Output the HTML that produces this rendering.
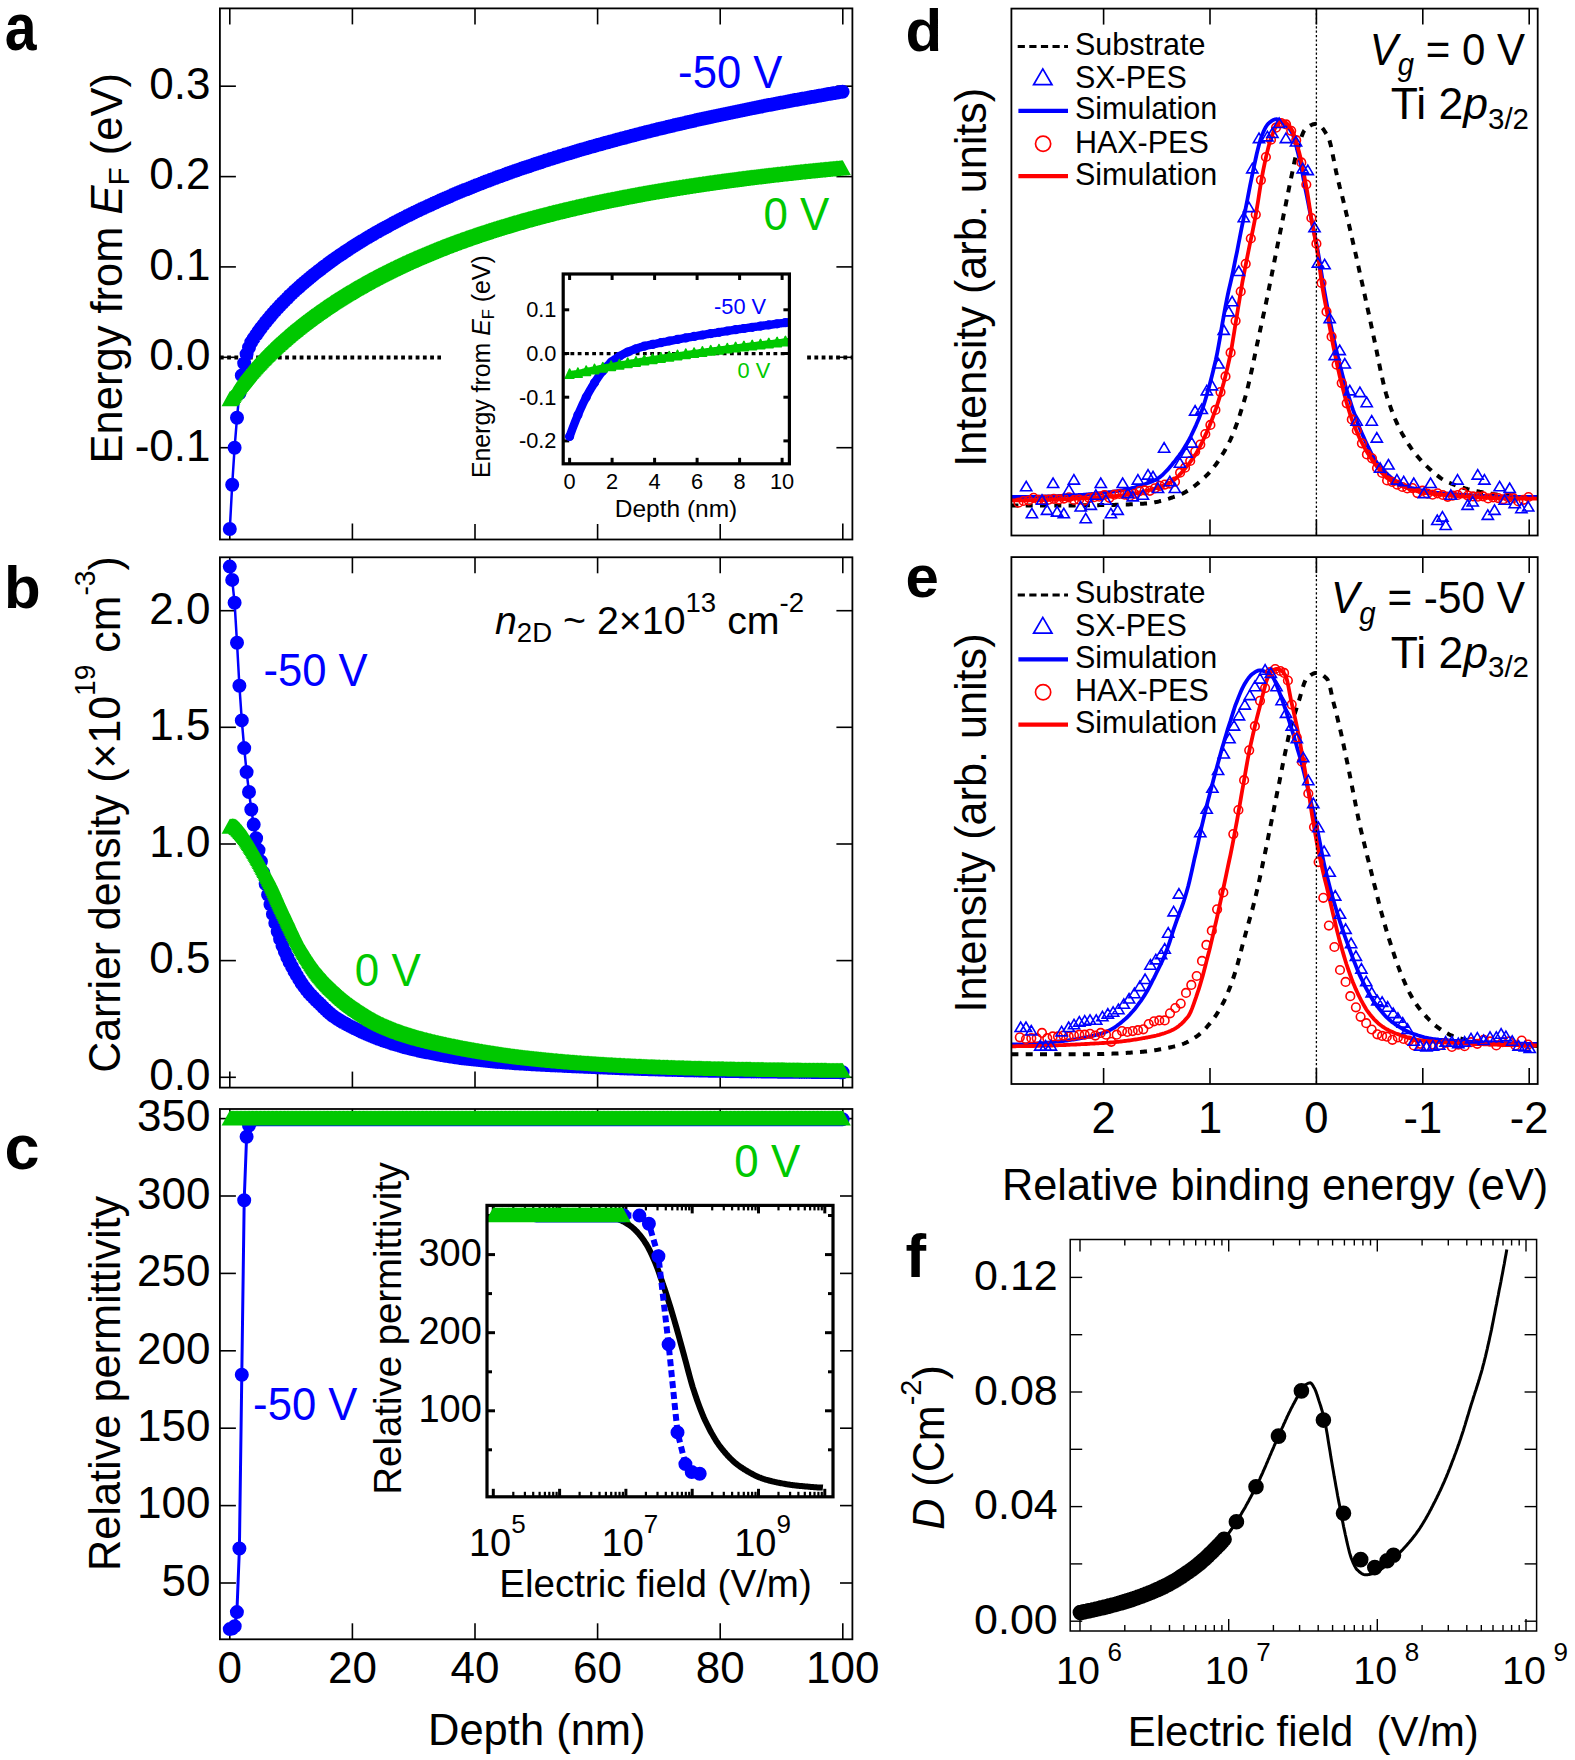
<!DOCTYPE html>
<html><head><meta charset="utf-8"><title>Figure</title>
<style>html,body{margin:0;padding:0;background:#fff;}svg{display:block;}</style></head>
<body><svg width="1575" height="1760" viewBox="0 0 1575 1760" font-family="'Liberation Sans', Arial, Helvetica, sans-serif" fill="#000">
<rect x="0" y="0" width="1575" height="1760" fill="#fff"/>
<line x1="219.9" y1="357.5" x2="852.4" y2="357.5" stroke="#000" stroke-width="3.9" stroke-dasharray="3.8 3.45"/>
<line x1="229.8" y1="8.4" x2="229.8" y2="24.4" stroke="#000" stroke-width="1.6"/>
<line x1="229.8" y1="539.5" x2="229.8" y2="523.5" stroke="#000" stroke-width="1.6"/>
<line x1="352.4" y1="8.4" x2="352.4" y2="24.4" stroke="#000" stroke-width="1.6"/>
<line x1="352.4" y1="539.5" x2="352.4" y2="523.5" stroke="#000" stroke-width="1.6"/>
<line x1="475" y1="8.4" x2="475" y2="24.4" stroke="#000" stroke-width="1.6"/>
<line x1="475" y1="539.5" x2="475" y2="523.5" stroke="#000" stroke-width="1.6"/>
<line x1="597.6" y1="8.4" x2="597.6" y2="24.4" stroke="#000" stroke-width="1.6"/>
<line x1="597.6" y1="539.5" x2="597.6" y2="523.5" stroke="#000" stroke-width="1.6"/>
<line x1="720.2" y1="8.4" x2="720.2" y2="24.4" stroke="#000" stroke-width="1.6"/>
<line x1="720.2" y1="539.5" x2="720.2" y2="523.5" stroke="#000" stroke-width="1.6"/>
<line x1="842.8" y1="8.4" x2="842.8" y2="24.4" stroke="#000" stroke-width="1.6"/>
<line x1="842.8" y1="539.5" x2="842.8" y2="523.5" stroke="#000" stroke-width="1.6"/>
<line x1="219.9" y1="86.2" x2="235.9" y2="86.2" stroke="#000" stroke-width="1.6"/>
<line x1="852.4" y1="86.2" x2="836.4" y2="86.2" stroke="#000" stroke-width="1.6"/>
<line x1="219.9" y1="176.6" x2="235.9" y2="176.6" stroke="#000" stroke-width="1.6"/>
<line x1="852.4" y1="176.6" x2="836.4" y2="176.6" stroke="#000" stroke-width="1.6"/>
<line x1="219.9" y1="266.9" x2="235.9" y2="266.9" stroke="#000" stroke-width="1.6"/>
<line x1="852.4" y1="266.9" x2="836.4" y2="266.9" stroke="#000" stroke-width="1.6"/>
<line x1="219.9" y1="357.3" x2="235.9" y2="357.3" stroke="#000" stroke-width="1.6"/>
<line x1="852.4" y1="357.3" x2="836.4" y2="357.3" stroke="#000" stroke-width="1.6"/>
<line x1="219.9" y1="447.7" x2="235.9" y2="447.7" stroke="#000" stroke-width="1.6"/>
<line x1="852.4" y1="447.7" x2="836.4" y2="447.7" stroke="#000" stroke-width="1.6"/>
<clipPath id="ca"><rect x="219.9" y="8.4" width="632.5" height="531.1"/></clipPath>
<g clip-path="url(#ca)">
<polyline points="229.8,529.0 232.2,484.7 234.6,447.7 237.0,417.8 239.4,393.4 241.8,375.4 244.2,363.2 246.6,354.1 249.0,347.5 251.3,342.1 253.7,338.4 256.1,334.9 258.5,331.5 260.9,328.2 263.3,325.1 265.7,322.0 268.1,319.1 270.5,316.2 272.9,313.4 275.3,310.7 277.7,308.1 280.1,305.5 282.5,303.0 284.9,300.6 287.3,298.2 289.6,295.8 292.0,293.6 294.4,291.3 296.8,289.1 299.2,287.0 301.6,284.8 304.0,282.8 306.4,280.7 308.8,278.7 311.2,276.7 313.6,274.8 316.0,272.9 318.4,271.0 320.8,269.2 323.2,267.3 325.6,265.5 327.9,263.8 330.3,262.0 332.7,260.3 335.1,258.6 337.5,256.9 339.9,255.3 342.3,253.7 344.7,252.0 347.1,250.5 349.5,248.9 351.9,247.3 354.3,245.8 356.7,244.3 359.1,242.8 361.5,241.3 363.9,239.9 366.2,238.4 368.6,237.0 371.0,235.6 373.4,234.2 375.8,232.8 378.2,231.5 380.6,230.1 383.0,228.8 385.4,227.5 387.8,226.2 390.2,224.9 392.6,223.6 395.0,222.3 397.4,221.1 399.8,219.8 402.2,218.6 404.5,217.4 406.9,216.1 409.3,215.0 411.7,213.8 414.1,212.6 416.5,211.4 418.9,210.3 421.3,209.1 423.7,208.0 426.1,206.9 428.5,205.8 430.9,204.7 433.3,203.6 435.7,202.5 438.1,201.4 440.5,200.3 442.8,199.3 445.2,198.2 447.6,197.2 450.0,196.2 452.4,195.1 454.8,194.1 457.2,193.1 459.6,192.1 462.0,191.1 464.4,190.1 466.8,189.2 469.2,188.2 471.6,187.2 474.0,186.3 476.4,185.3 478.8,184.4 481.1,183.5 483.5,182.5 485.9,181.6 488.3,180.7 490.7,179.8 493.1,178.9 495.5,178.0 497.9,177.1 500.3,176.3 502.7,175.4 505.1,174.5 507.5,173.6 509.9,172.8 512.3,171.9 514.7,171.1 517.1,170.3 519.4,169.4 521.8,168.6 524.2,167.8 526.6,167.0 529.0,166.2 531.4,165.4 533.8,164.6 536.2,163.8 538.6,163.0 541.0,162.2 543.4,161.4 545.8,160.6 548.2,159.9 550.6,159.1 553.0,158.4 555.4,157.6 557.7,156.9 560.1,156.1 562.5,155.4 564.9,154.6 567.3,153.9 569.7,153.2 572.1,152.5 574.5,151.7 576.9,151.0 579.3,150.3 581.7,149.6 584.1,148.9 586.5,148.2 588.9,147.5 591.3,146.8 593.7,146.2 596.0,145.5 598.4,144.8 600.8,144.2 603.2,143.5 605.6,142.8 608.0,142.2 610.4,141.5 612.8,140.9 615.2,140.2 617.6,139.6 620.0,138.9 622.4,138.3 624.8,137.7 627.2,137.0 629.6,136.4 632.0,135.8 634.3,135.2 636.7,134.5 639.1,133.9 641.5,133.3 643.9,132.7 646.3,132.1 648.7,131.5 651.1,130.9 653.5,130.3 655.9,129.7 658.3,129.1 660.7,128.5 663.1,128.0 665.5,127.4 667.9,126.8 670.3,126.2 672.6,125.7 675.0,125.1 677.4,124.5 679.8,124.0 682.2,123.4 684.6,122.9 687.0,122.3 689.4,121.8 691.8,121.2 694.2,120.7 696.6,120.1 699.0,119.6 701.4,119.1 703.8,118.5 706.2,118.0 708.6,117.5 710.9,117.0 713.3,116.4 715.7,115.9 718.1,115.4 720.5,114.9 722.9,114.4 725.3,113.9 727.7,113.4 730.1,112.9 732.5,112.4 734.9,111.9 737.3,111.4 739.7,110.9 742.1,110.4 744.5,109.9 746.9,109.4 749.2,108.9 751.6,108.4 754.0,108.0 756.4,107.5 758.8,107.0 761.2,106.5 763.6,106.1 766.0,105.6 768.4,105.1 770.8,104.7 773.2,104.2 775.6,103.7 778.0,103.3 780.4,102.8 782.8,102.4 785.2,101.9 787.5,101.5 789.9,101.0 792.3,100.6 794.7,100.1 797.1,99.7 799.5,99.3 801.9,98.8 804.3,98.4 806.7,97.9 809.1,97.5 811.5,97.1 813.9,96.7 816.3,96.2 818.7,95.8 821.1,95.4 823.5,95.0 825.8,94.5 828.2,94.1 830.6,93.7 833.0,93.3 835.4,92.9 837.8,92.5 840.2,92.1 842.6,91.7" fill="none" stroke="#0000ff" stroke-width="2.5" stroke-linejoin="round"/>
<path d="M222.8 529.0a7 7 0 1 0 14 0a7 7 0 1 0 -14 0M225.2 484.7a7 7 0 1 0 14 0a7 7 0 1 0 -14 0M227.6 447.7a7 7 0 1 0 14 0a7 7 0 1 0 -14 0M230.0 417.8a7 7 0 1 0 14 0a7 7 0 1 0 -14 0M232.4 393.4a7 7 0 1 0 14 0a7 7 0 1 0 -14 0M234.8 375.4a7 7 0 1 0 14 0a7 7 0 1 0 -14 0M237.2 363.2a7 7 0 1 0 14 0a7 7 0 1 0 -14 0M239.6 354.1a7 7 0 1 0 14 0a7 7 0 1 0 -14 0M242.0 347.5a7 7 0 1 0 14 0a7 7 0 1 0 -14 0M244.3 342.1a7 7 0 1 0 14 0a7 7 0 1 0 -14 0M246.7 338.4a7 7 0 1 0 14 0a7 7 0 1 0 -14 0M249.1 334.9a7 7 0 1 0 14 0a7 7 0 1 0 -14 0M251.5 331.5a7 7 0 1 0 14 0a7 7 0 1 0 -14 0M253.9 328.2a7 7 0 1 0 14 0a7 7 0 1 0 -14 0M256.3 325.1a7 7 0 1 0 14 0a7 7 0 1 0 -14 0M258.7 322.0a7 7 0 1 0 14 0a7 7 0 1 0 -14 0M261.1 319.1a7 7 0 1 0 14 0a7 7 0 1 0 -14 0M263.5 316.2a7 7 0 1 0 14 0a7 7 0 1 0 -14 0M265.9 313.4a7 7 0 1 0 14 0a7 7 0 1 0 -14 0M268.3 310.7a7 7 0 1 0 14 0a7 7 0 1 0 -14 0M270.7 308.1a7 7 0 1 0 14 0a7 7 0 1 0 -14 0M273.1 305.5a7 7 0 1 0 14 0a7 7 0 1 0 -14 0M275.5 303.0a7 7 0 1 0 14 0a7 7 0 1 0 -14 0M277.9 300.6a7 7 0 1 0 14 0a7 7 0 1 0 -14 0M280.3 298.2a7 7 0 1 0 14 0a7 7 0 1 0 -14 0M282.6 295.8a7 7 0 1 0 14 0a7 7 0 1 0 -14 0M285.0 293.6a7 7 0 1 0 14 0a7 7 0 1 0 -14 0M287.4 291.3a7 7 0 1 0 14 0a7 7 0 1 0 -14 0M289.8 289.1a7 7 0 1 0 14 0a7 7 0 1 0 -14 0M292.2 287.0a7 7 0 1 0 14 0a7 7 0 1 0 -14 0M294.6 284.8a7 7 0 1 0 14 0a7 7 0 1 0 -14 0M297.0 282.8a7 7 0 1 0 14 0a7 7 0 1 0 -14 0M299.4 280.7a7 7 0 1 0 14 0a7 7 0 1 0 -14 0M301.8 278.7a7 7 0 1 0 14 0a7 7 0 1 0 -14 0M304.2 276.7a7 7 0 1 0 14 0a7 7 0 1 0 -14 0M306.6 274.8a7 7 0 1 0 14 0a7 7 0 1 0 -14 0M309.0 272.9a7 7 0 1 0 14 0a7 7 0 1 0 -14 0M311.4 271.0a7 7 0 1 0 14 0a7 7 0 1 0 -14 0M313.8 269.2a7 7 0 1 0 14 0a7 7 0 1 0 -14 0M316.2 267.3a7 7 0 1 0 14 0a7 7 0 1 0 -14 0M318.6 265.5a7 7 0 1 0 14 0a7 7 0 1 0 -14 0M320.9 263.8a7 7 0 1 0 14 0a7 7 0 1 0 -14 0M323.3 262.0a7 7 0 1 0 14 0a7 7 0 1 0 -14 0M325.7 260.3a7 7 0 1 0 14 0a7 7 0 1 0 -14 0M328.1 258.6a7 7 0 1 0 14 0a7 7 0 1 0 -14 0M330.5 256.9a7 7 0 1 0 14 0a7 7 0 1 0 -14 0M332.9 255.3a7 7 0 1 0 14 0a7 7 0 1 0 -14 0M335.3 253.7a7 7 0 1 0 14 0a7 7 0 1 0 -14 0M337.7 252.0a7 7 0 1 0 14 0a7 7 0 1 0 -14 0M340.1 250.5a7 7 0 1 0 14 0a7 7 0 1 0 -14 0M342.5 248.9a7 7 0 1 0 14 0a7 7 0 1 0 -14 0M344.9 247.3a7 7 0 1 0 14 0a7 7 0 1 0 -14 0M347.3 245.8a7 7 0 1 0 14 0a7 7 0 1 0 -14 0M349.7 244.3a7 7 0 1 0 14 0a7 7 0 1 0 -14 0M352.1 242.8a7 7 0 1 0 14 0a7 7 0 1 0 -14 0M354.5 241.3a7 7 0 1 0 14 0a7 7 0 1 0 -14 0M356.9 239.9a7 7 0 1 0 14 0a7 7 0 1 0 -14 0M359.2 238.4a7 7 0 1 0 14 0a7 7 0 1 0 -14 0M361.6 237.0a7 7 0 1 0 14 0a7 7 0 1 0 -14 0M364.0 235.6a7 7 0 1 0 14 0a7 7 0 1 0 -14 0M366.4 234.2a7 7 0 1 0 14 0a7 7 0 1 0 -14 0M368.8 232.8a7 7 0 1 0 14 0a7 7 0 1 0 -14 0M371.2 231.5a7 7 0 1 0 14 0a7 7 0 1 0 -14 0M373.6 230.1a7 7 0 1 0 14 0a7 7 0 1 0 -14 0M376.0 228.8a7 7 0 1 0 14 0a7 7 0 1 0 -14 0M378.4 227.5a7 7 0 1 0 14 0a7 7 0 1 0 -14 0M380.8 226.2a7 7 0 1 0 14 0a7 7 0 1 0 -14 0M383.2 224.9a7 7 0 1 0 14 0a7 7 0 1 0 -14 0M385.6 223.6a7 7 0 1 0 14 0a7 7 0 1 0 -14 0M388.0 222.3a7 7 0 1 0 14 0a7 7 0 1 0 -14 0M390.4 221.1a7 7 0 1 0 14 0a7 7 0 1 0 -14 0M392.8 219.8a7 7 0 1 0 14 0a7 7 0 1 0 -14 0M395.2 218.6a7 7 0 1 0 14 0a7 7 0 1 0 -14 0M397.5 217.4a7 7 0 1 0 14 0a7 7 0 1 0 -14 0M399.9 216.1a7 7 0 1 0 14 0a7 7 0 1 0 -14 0M402.3 215.0a7 7 0 1 0 14 0a7 7 0 1 0 -14 0M404.7 213.8a7 7 0 1 0 14 0a7 7 0 1 0 -14 0M407.1 212.6a7 7 0 1 0 14 0a7 7 0 1 0 -14 0M409.5 211.4a7 7 0 1 0 14 0a7 7 0 1 0 -14 0M411.9 210.3a7 7 0 1 0 14 0a7 7 0 1 0 -14 0M414.3 209.1a7 7 0 1 0 14 0a7 7 0 1 0 -14 0M416.7 208.0a7 7 0 1 0 14 0a7 7 0 1 0 -14 0M419.1 206.9a7 7 0 1 0 14 0a7 7 0 1 0 -14 0M421.5 205.8a7 7 0 1 0 14 0a7 7 0 1 0 -14 0M423.9 204.7a7 7 0 1 0 14 0a7 7 0 1 0 -14 0M426.3 203.6a7 7 0 1 0 14 0a7 7 0 1 0 -14 0M428.7 202.5a7 7 0 1 0 14 0a7 7 0 1 0 -14 0M431.1 201.4a7 7 0 1 0 14 0a7 7 0 1 0 -14 0M433.5 200.3a7 7 0 1 0 14 0a7 7 0 1 0 -14 0M435.8 199.3a7 7 0 1 0 14 0a7 7 0 1 0 -14 0M438.2 198.2a7 7 0 1 0 14 0a7 7 0 1 0 -14 0M440.6 197.2a7 7 0 1 0 14 0a7 7 0 1 0 -14 0M443.0 196.2a7 7 0 1 0 14 0a7 7 0 1 0 -14 0M445.4 195.1a7 7 0 1 0 14 0a7 7 0 1 0 -14 0M447.8 194.1a7 7 0 1 0 14 0a7 7 0 1 0 -14 0M450.2 193.1a7 7 0 1 0 14 0a7 7 0 1 0 -14 0M452.6 192.1a7 7 0 1 0 14 0a7 7 0 1 0 -14 0M455.0 191.1a7 7 0 1 0 14 0a7 7 0 1 0 -14 0M457.4 190.1a7 7 0 1 0 14 0a7 7 0 1 0 -14 0M459.8 189.2a7 7 0 1 0 14 0a7 7 0 1 0 -14 0M462.2 188.2a7 7 0 1 0 14 0a7 7 0 1 0 -14 0M464.6 187.2a7 7 0 1 0 14 0a7 7 0 1 0 -14 0M467.0 186.3a7 7 0 1 0 14 0a7 7 0 1 0 -14 0M469.4 185.3a7 7 0 1 0 14 0a7 7 0 1 0 -14 0M471.8 184.4a7 7 0 1 0 14 0a7 7 0 1 0 -14 0M474.1 183.5a7 7 0 1 0 14 0a7 7 0 1 0 -14 0M476.5 182.5a7 7 0 1 0 14 0a7 7 0 1 0 -14 0M478.9 181.6a7 7 0 1 0 14 0a7 7 0 1 0 -14 0M481.3 180.7a7 7 0 1 0 14 0a7 7 0 1 0 -14 0M483.7 179.8a7 7 0 1 0 14 0a7 7 0 1 0 -14 0M486.1 178.9a7 7 0 1 0 14 0a7 7 0 1 0 -14 0M488.5 178.0a7 7 0 1 0 14 0a7 7 0 1 0 -14 0M490.9 177.1a7 7 0 1 0 14 0a7 7 0 1 0 -14 0M493.3 176.3a7 7 0 1 0 14 0a7 7 0 1 0 -14 0M495.7 175.4a7 7 0 1 0 14 0a7 7 0 1 0 -14 0M498.1 174.5a7 7 0 1 0 14 0a7 7 0 1 0 -14 0M500.5 173.6a7 7 0 1 0 14 0a7 7 0 1 0 -14 0M502.9 172.8a7 7 0 1 0 14 0a7 7 0 1 0 -14 0M505.3 171.9a7 7 0 1 0 14 0a7 7 0 1 0 -14 0M507.7 171.1a7 7 0 1 0 14 0a7 7 0 1 0 -14 0M510.1 170.3a7 7 0 1 0 14 0a7 7 0 1 0 -14 0M512.4 169.4a7 7 0 1 0 14 0a7 7 0 1 0 -14 0M514.8 168.6a7 7 0 1 0 14 0a7 7 0 1 0 -14 0M517.2 167.8a7 7 0 1 0 14 0a7 7 0 1 0 -14 0M519.6 167.0a7 7 0 1 0 14 0a7 7 0 1 0 -14 0M522.0 166.2a7 7 0 1 0 14 0a7 7 0 1 0 -14 0M524.4 165.4a7 7 0 1 0 14 0a7 7 0 1 0 -14 0M526.8 164.6a7 7 0 1 0 14 0a7 7 0 1 0 -14 0M529.2 163.8a7 7 0 1 0 14 0a7 7 0 1 0 -14 0M531.6 163.0a7 7 0 1 0 14 0a7 7 0 1 0 -14 0M534.0 162.2a7 7 0 1 0 14 0a7 7 0 1 0 -14 0M536.4 161.4a7 7 0 1 0 14 0a7 7 0 1 0 -14 0M538.8 160.6a7 7 0 1 0 14 0a7 7 0 1 0 -14 0M541.2 159.9a7 7 0 1 0 14 0a7 7 0 1 0 -14 0M543.6 159.1a7 7 0 1 0 14 0a7 7 0 1 0 -14 0M546.0 158.4a7 7 0 1 0 14 0a7 7 0 1 0 -14 0M548.4 157.6a7 7 0 1 0 14 0a7 7 0 1 0 -14 0M550.7 156.9a7 7 0 1 0 14 0a7 7 0 1 0 -14 0M553.1 156.1a7 7 0 1 0 14 0a7 7 0 1 0 -14 0M555.5 155.4a7 7 0 1 0 14 0a7 7 0 1 0 -14 0M557.9 154.6a7 7 0 1 0 14 0a7 7 0 1 0 -14 0M560.3 153.9a7 7 0 1 0 14 0a7 7 0 1 0 -14 0M562.7 153.2a7 7 0 1 0 14 0a7 7 0 1 0 -14 0M565.1 152.5a7 7 0 1 0 14 0a7 7 0 1 0 -14 0M567.5 151.7a7 7 0 1 0 14 0a7 7 0 1 0 -14 0M569.9 151.0a7 7 0 1 0 14 0a7 7 0 1 0 -14 0M572.3 150.3a7 7 0 1 0 14 0a7 7 0 1 0 -14 0M574.7 149.6a7 7 0 1 0 14 0a7 7 0 1 0 -14 0M577.1 148.9a7 7 0 1 0 14 0a7 7 0 1 0 -14 0M579.5 148.2a7 7 0 1 0 14 0a7 7 0 1 0 -14 0M581.9 147.5a7 7 0 1 0 14 0a7 7 0 1 0 -14 0M584.3 146.8a7 7 0 1 0 14 0a7 7 0 1 0 -14 0M586.7 146.2a7 7 0 1 0 14 0a7 7 0 1 0 -14 0M589.0 145.5a7 7 0 1 0 14 0a7 7 0 1 0 -14 0M591.4 144.8a7 7 0 1 0 14 0a7 7 0 1 0 -14 0M593.8 144.2a7 7 0 1 0 14 0a7 7 0 1 0 -14 0M596.2 143.5a7 7 0 1 0 14 0a7 7 0 1 0 -14 0M598.6 142.8a7 7 0 1 0 14 0a7 7 0 1 0 -14 0M601.0 142.2a7 7 0 1 0 14 0a7 7 0 1 0 -14 0M603.4 141.5a7 7 0 1 0 14 0a7 7 0 1 0 -14 0M605.8 140.9a7 7 0 1 0 14 0a7 7 0 1 0 -14 0M608.2 140.2a7 7 0 1 0 14 0a7 7 0 1 0 -14 0M610.6 139.6a7 7 0 1 0 14 0a7 7 0 1 0 -14 0M613.0 138.9a7 7 0 1 0 14 0a7 7 0 1 0 -14 0M615.4 138.3a7 7 0 1 0 14 0a7 7 0 1 0 -14 0M617.8 137.7a7 7 0 1 0 14 0a7 7 0 1 0 -14 0M620.2 137.0a7 7 0 1 0 14 0a7 7 0 1 0 -14 0M622.6 136.4a7 7 0 1 0 14 0a7 7 0 1 0 -14 0M625.0 135.8a7 7 0 1 0 14 0a7 7 0 1 0 -14 0M627.3 135.2a7 7 0 1 0 14 0a7 7 0 1 0 -14 0M629.7 134.5a7 7 0 1 0 14 0a7 7 0 1 0 -14 0M632.1 133.9a7 7 0 1 0 14 0a7 7 0 1 0 -14 0M634.5 133.3a7 7 0 1 0 14 0a7 7 0 1 0 -14 0M636.9 132.7a7 7 0 1 0 14 0a7 7 0 1 0 -14 0M639.3 132.1a7 7 0 1 0 14 0a7 7 0 1 0 -14 0M641.7 131.5a7 7 0 1 0 14 0a7 7 0 1 0 -14 0M644.1 130.9a7 7 0 1 0 14 0a7 7 0 1 0 -14 0M646.5 130.3a7 7 0 1 0 14 0a7 7 0 1 0 -14 0M648.9 129.7a7 7 0 1 0 14 0a7 7 0 1 0 -14 0M651.3 129.1a7 7 0 1 0 14 0a7 7 0 1 0 -14 0M653.7 128.5a7 7 0 1 0 14 0a7 7 0 1 0 -14 0M656.1 128.0a7 7 0 1 0 14 0a7 7 0 1 0 -14 0M658.5 127.4a7 7 0 1 0 14 0a7 7 0 1 0 -14 0M660.9 126.8a7 7 0 1 0 14 0a7 7 0 1 0 -14 0M663.3 126.2a7 7 0 1 0 14 0a7 7 0 1 0 -14 0M665.6 125.7a7 7 0 1 0 14 0a7 7 0 1 0 -14 0M668.0 125.1a7 7 0 1 0 14 0a7 7 0 1 0 -14 0M670.4 124.5a7 7 0 1 0 14 0a7 7 0 1 0 -14 0M672.8 124.0a7 7 0 1 0 14 0a7 7 0 1 0 -14 0M675.2 123.4a7 7 0 1 0 14 0a7 7 0 1 0 -14 0M677.6 122.9a7 7 0 1 0 14 0a7 7 0 1 0 -14 0M680.0 122.3a7 7 0 1 0 14 0a7 7 0 1 0 -14 0M682.4 121.8a7 7 0 1 0 14 0a7 7 0 1 0 -14 0M684.8 121.2a7 7 0 1 0 14 0a7 7 0 1 0 -14 0M687.2 120.7a7 7 0 1 0 14 0a7 7 0 1 0 -14 0M689.6 120.1a7 7 0 1 0 14 0a7 7 0 1 0 -14 0M692.0 119.6a7 7 0 1 0 14 0a7 7 0 1 0 -14 0M694.4 119.1a7 7 0 1 0 14 0a7 7 0 1 0 -14 0M696.8 118.5a7 7 0 1 0 14 0a7 7 0 1 0 -14 0M699.2 118.0a7 7 0 1 0 14 0a7 7 0 1 0 -14 0M701.6 117.5a7 7 0 1 0 14 0a7 7 0 1 0 -14 0M703.9 117.0a7 7 0 1 0 14 0a7 7 0 1 0 -14 0M706.3 116.4a7 7 0 1 0 14 0a7 7 0 1 0 -14 0M708.7 115.9a7 7 0 1 0 14 0a7 7 0 1 0 -14 0M711.1 115.4a7 7 0 1 0 14 0a7 7 0 1 0 -14 0M713.5 114.9a7 7 0 1 0 14 0a7 7 0 1 0 -14 0M715.9 114.4a7 7 0 1 0 14 0a7 7 0 1 0 -14 0M718.3 113.9a7 7 0 1 0 14 0a7 7 0 1 0 -14 0M720.7 113.4a7 7 0 1 0 14 0a7 7 0 1 0 -14 0M723.1 112.9a7 7 0 1 0 14 0a7 7 0 1 0 -14 0M725.5 112.4a7 7 0 1 0 14 0a7 7 0 1 0 -14 0M727.9 111.9a7 7 0 1 0 14 0a7 7 0 1 0 -14 0M730.3 111.4a7 7 0 1 0 14 0a7 7 0 1 0 -14 0M732.7 110.9a7 7 0 1 0 14 0a7 7 0 1 0 -14 0M735.1 110.4a7 7 0 1 0 14 0a7 7 0 1 0 -14 0M737.5 109.9a7 7 0 1 0 14 0a7 7 0 1 0 -14 0M739.9 109.4a7 7 0 1 0 14 0a7 7 0 1 0 -14 0M742.2 108.9a7 7 0 1 0 14 0a7 7 0 1 0 -14 0M744.6 108.4a7 7 0 1 0 14 0a7 7 0 1 0 -14 0M747.0 108.0a7 7 0 1 0 14 0a7 7 0 1 0 -14 0M749.4 107.5a7 7 0 1 0 14 0a7 7 0 1 0 -14 0M751.8 107.0a7 7 0 1 0 14 0a7 7 0 1 0 -14 0M754.2 106.5a7 7 0 1 0 14 0a7 7 0 1 0 -14 0M756.6 106.1a7 7 0 1 0 14 0a7 7 0 1 0 -14 0M759.0 105.6a7 7 0 1 0 14 0a7 7 0 1 0 -14 0M761.4 105.1a7 7 0 1 0 14 0a7 7 0 1 0 -14 0M763.8 104.7a7 7 0 1 0 14 0a7 7 0 1 0 -14 0M766.2 104.2a7 7 0 1 0 14 0a7 7 0 1 0 -14 0M768.6 103.7a7 7 0 1 0 14 0a7 7 0 1 0 -14 0M771.0 103.3a7 7 0 1 0 14 0a7 7 0 1 0 -14 0M773.4 102.8a7 7 0 1 0 14 0a7 7 0 1 0 -14 0M775.8 102.4a7 7 0 1 0 14 0a7 7 0 1 0 -14 0M778.2 101.9a7 7 0 1 0 14 0a7 7 0 1 0 -14 0M780.5 101.5a7 7 0 1 0 14 0a7 7 0 1 0 -14 0M782.9 101.0a7 7 0 1 0 14 0a7 7 0 1 0 -14 0M785.3 100.6a7 7 0 1 0 14 0a7 7 0 1 0 -14 0M787.7 100.1a7 7 0 1 0 14 0a7 7 0 1 0 -14 0M790.1 99.7a7 7 0 1 0 14 0a7 7 0 1 0 -14 0M792.5 99.3a7 7 0 1 0 14 0a7 7 0 1 0 -14 0M794.9 98.8a7 7 0 1 0 14 0a7 7 0 1 0 -14 0M797.3 98.4a7 7 0 1 0 14 0a7 7 0 1 0 -14 0M799.7 97.9a7 7 0 1 0 14 0a7 7 0 1 0 -14 0M802.1 97.5a7 7 0 1 0 14 0a7 7 0 1 0 -14 0M804.5 97.1a7 7 0 1 0 14 0a7 7 0 1 0 -14 0M806.9 96.7a7 7 0 1 0 14 0a7 7 0 1 0 -14 0M809.3 96.2a7 7 0 1 0 14 0a7 7 0 1 0 -14 0M811.7 95.8a7 7 0 1 0 14 0a7 7 0 1 0 -14 0M814.1 95.4a7 7 0 1 0 14 0a7 7 0 1 0 -14 0M816.5 95.0a7 7 0 1 0 14 0a7 7 0 1 0 -14 0M818.8 94.5a7 7 0 1 0 14 0a7 7 0 1 0 -14 0M821.2 94.1a7 7 0 1 0 14 0a7 7 0 1 0 -14 0M823.6 93.7a7 7 0 1 0 14 0a7 7 0 1 0 -14 0M826.0 93.3a7 7 0 1 0 14 0a7 7 0 1 0 -14 0M828.4 92.9a7 7 0 1 0 14 0a7 7 0 1 0 -14 0M830.8 92.5a7 7 0 1 0 14 0a7 7 0 1 0 -14 0M833.2 92.1a7 7 0 1 0 14 0a7 7 0 1 0 -14 0M835.6 91.7a7 7 0 1 0 14 0a7 7 0 1 0 -14 0" fill="#0000ff"/>
<path d="M229.8 391.3L221.6 406.3L238.0 406.3ZM230.6 390.8L222.4 405.8L238.8 405.8ZM231.4 390.1L223.2 405.1L239.6 405.1ZM232.2 389.2L224.0 404.2L240.4 404.2ZM233.0 388.1L224.8 403.1L241.2 403.1ZM233.8 386.6L225.6 401.6L242.0 401.6ZM234.6 385.2L226.4 400.2L242.8 400.2ZM235.4 384.0L227.2 399.0L243.6 399.0ZM236.2 382.8L228.0 397.8L244.4 397.8ZM237.0 381.6L228.8 396.6L245.2 396.6ZM237.8 380.5L229.6 395.5L246.0 395.5ZM238.6 379.3L230.4 394.3L246.8 394.3ZM239.4 378.2L231.2 393.2L247.6 393.2ZM240.2 377.1L232.0 392.1L248.4 392.1ZM241.0 376.0L232.8 391.0L249.2 391.0ZM241.8 375.0L233.6 390.0L250.0 390.0ZM242.6 373.9L234.4 388.9L250.8 388.9ZM243.4 372.9L235.2 387.9L251.6 387.9ZM244.2 371.9L236.0 386.9L252.4 386.9ZM245.0 370.9L236.8 385.9L253.2 385.9ZM245.8 369.9L237.6 384.9L254.0 384.9ZM246.6 368.9L238.4 383.9L254.8 383.9ZM247.4 367.9L239.2 382.9L255.6 382.9ZM248.2 366.9L240.0 381.9L256.4 381.9ZM249.0 366.0L240.8 381.0L257.2 381.0ZM249.7 365.1L241.5 380.1L257.9 380.1ZM250.5 364.1L242.3 379.1L258.7 379.1ZM251.3 363.2L243.1 378.2L259.5 378.2ZM252.1 362.3L243.9 377.3L260.3 377.3ZM252.9 361.4L244.7 376.4L261.1 376.4ZM253.7 360.5L245.5 375.5L261.9 375.5ZM254.5 359.6L246.3 374.6L262.7 374.6ZM255.3 358.7L247.1 373.7L263.5 373.7ZM256.1 357.8L247.9 372.8L264.3 372.8ZM256.9 356.9L248.7 371.9L265.1 371.9ZM257.7 356.1L249.5 371.1L265.9 371.1ZM258.5 355.2L250.3 370.2L266.7 370.2ZM259.3 354.4L251.1 369.4L267.5 369.4ZM260.1 353.5L251.9 368.5L268.3 368.5ZM260.9 352.7L252.7 367.7L269.1 367.7ZM261.7 351.8L253.5 366.8L269.9 366.8ZM262.5 351.0L254.3 366.0L270.7 366.0ZM263.3 350.2L255.1 365.2L271.5 365.2ZM264.1 349.4L255.9 364.4L272.3 364.4ZM264.9 348.6L256.7 363.6L273.1 363.6ZM265.7 347.8L257.5 362.8L273.9 362.8ZM266.5 347.0L258.3 362.0L274.7 362.0ZM267.3 346.2L259.1 361.2L275.5 361.2ZM268.1 345.4L259.9 360.4L276.3 360.4ZM268.9 344.6L260.7 359.6L277.1 359.6ZM269.7 343.9L261.5 358.9L277.9 358.9ZM270.5 343.1L262.3 358.1L278.7 358.1ZM271.3 342.3L263.1 357.3L279.5 357.3ZM272.1 341.6L263.9 356.6L280.3 356.6ZM272.9 340.8L264.7 355.8L281.1 355.8ZM273.7 340.1L265.5 355.1L281.9 355.1ZM274.5 339.3L266.3 354.3L282.7 354.3ZM275.3 338.6L267.1 353.6L283.5 353.6ZM276.1 337.8L267.9 352.8L284.3 352.8ZM276.9 337.1L268.7 352.1L285.1 352.1ZM277.7 336.4L269.5 351.4L285.9 351.4ZM278.5 335.6L270.3 350.6L286.7 350.6ZM279.3 334.9L271.1 349.9L287.5 349.9ZM280.1 334.2L271.9 349.2L288.3 349.2ZM280.9 333.5L272.7 348.5L289.1 348.5ZM281.7 332.8L273.5 347.8L289.9 347.8ZM282.5 332.1L274.3 347.1L290.7 347.1ZM283.3 331.4L275.1 346.4L291.5 346.4ZM284.1 330.7L275.9 345.7L292.3 345.7ZM284.9 330.0L276.7 345.0L293.1 345.0ZM285.7 329.3L277.5 344.3L293.9 344.3ZM286.5 328.6L278.3 343.6L294.7 343.6ZM287.3 327.9L279.1 342.9L295.5 342.9ZM288.0 327.3L279.8 342.3L296.2 342.3ZM288.8 326.6L280.6 341.6L297.0 341.6ZM289.6 325.9L281.4 340.9L297.8 340.9ZM290.4 325.3L282.2 340.3L298.6 340.3ZM291.2 324.6L283.0 339.6L299.4 339.6ZM292.0 324.0L283.8 339.0L300.2 339.0ZM292.8 323.3L284.6 338.3L301.0 338.3ZM293.6 322.7L285.4 337.7L301.8 337.7ZM294.4 322.0L286.2 337.0L302.6 337.0ZM295.2 321.4L287.0 336.4L303.4 336.4ZM296.0 320.7L287.8 335.7L304.2 335.7ZM296.8 320.1L288.6 335.1L305.0 335.1ZM297.6 319.4L289.4 334.4L305.8 334.4ZM298.4 318.8L290.2 333.8L306.6 333.8ZM299.2 318.2L291.0 333.2L307.4 333.2ZM300.0 317.6L291.8 332.6L308.2 332.6ZM300.8 316.9L292.6 331.9L309.0 331.9ZM301.6 316.3L293.4 331.3L309.8 331.3ZM302.4 315.7L294.2 330.7L310.6 330.7ZM303.2 315.1L295.0 330.1L311.4 330.1ZM304.0 314.5L295.8 329.5L312.2 329.5ZM304.8 313.9L296.6 328.9L313.0 328.9ZM305.6 313.3L297.4 328.3L313.8 328.3ZM306.4 312.7L298.2 327.7L314.6 327.7ZM307.2 312.1L299.0 327.1L315.4 327.1ZM308.0 311.5L299.8 326.5L316.2 326.5ZM308.8 310.9L300.6 325.9L317.0 325.9ZM309.6 310.3L301.4 325.3L317.8 325.3ZM310.4 309.7L302.2 324.7L318.6 324.7ZM311.2 309.1L303.0 324.1L319.4 324.1ZM312.0 308.5L303.8 323.5L320.2 323.5ZM312.8 307.9L304.6 322.9L321.0 322.9ZM313.6 307.4L305.4 322.4L321.8 322.4ZM314.4 306.8L306.2 321.8L322.6 321.8ZM315.2 306.2L307.0 321.2L323.4 321.2ZM316.0 305.7L307.8 320.7L324.2 320.7ZM316.8 305.1L308.6 320.1L325.0 320.1ZM317.6 304.5L309.4 319.5L325.8 319.5ZM318.4 304.0L310.2 319.0L326.6 319.0ZM319.2 303.4L311.0 318.4L327.4 318.4ZM320.0 302.9L311.8 317.9L328.2 317.9ZM320.8 302.3L312.6 317.3L329.0 317.3ZM321.6 301.8L313.4 316.8L329.8 316.8ZM322.4 301.2L314.2 316.2L330.6 316.2ZM323.2 300.7L315.0 315.7L331.4 315.7ZM324.0 300.1L315.8 315.1L332.2 315.1ZM324.8 299.6L316.6 314.6L333.0 314.6ZM325.6 299.0L317.4 314.0L333.8 314.0ZM326.3 298.5L318.1 313.5L334.5 313.5ZM327.1 298.0L318.9 313.0L335.3 313.0ZM327.9 297.4L319.7 312.4L336.1 312.4ZM328.7 296.9L320.5 311.9L336.9 311.9ZM329.5 296.4L321.3 311.4L337.7 311.4ZM330.3 295.9L322.1 310.9L338.5 310.9ZM331.1 295.3L322.9 310.3L339.3 310.3ZM331.9 294.8L323.7 309.8L340.1 309.8ZM332.7 294.3L324.5 309.3L340.9 309.3ZM333.5 293.8L325.3 308.8L341.7 308.8ZM334.3 293.3L326.1 308.3L342.5 308.3ZM335.1 292.8L326.9 307.8L343.3 307.8ZM335.9 292.2L327.7 307.2L344.1 307.2ZM336.7 291.7L328.5 306.7L344.9 306.7ZM337.5 291.2L329.3 306.2L345.7 306.2ZM338.3 290.7L330.1 305.7L346.5 305.7ZM339.1 290.2L330.9 305.2L347.3 305.2ZM339.9 289.7L331.7 304.7L348.1 304.7ZM340.7 289.2L332.5 304.2L348.9 304.2ZM341.5 288.7L333.3 303.7L349.7 303.7ZM342.3 288.2L334.1 303.2L350.5 303.2ZM343.1 287.8L334.9 302.8L351.3 302.8ZM343.9 287.3L335.7 302.3L352.1 302.3ZM344.7 286.8L336.5 301.8L352.9 301.8ZM345.5 286.3L337.3 301.3L353.7 301.3ZM346.3 285.8L338.1 300.8L354.5 300.8ZM347.1 285.3L338.9 300.3L355.3 300.3ZM347.9 284.9L339.7 299.9L356.1 299.9ZM348.7 284.4L340.5 299.4L356.9 299.4ZM349.5 283.9L341.3 298.9L357.7 298.9ZM350.3 283.4L342.1 298.4L358.5 298.4ZM351.1 283.0L342.9 298.0L359.3 298.0ZM351.9 282.5L343.7 297.5L360.1 297.5ZM352.7 282.0L344.5 297.0L360.9 297.0ZM353.5 281.6L345.3 296.6L361.7 296.6ZM354.3 281.1L346.1 296.1L362.5 296.1ZM355.1 280.6L346.9 295.6L363.3 295.6ZM355.9 280.2L347.7 295.2L364.1 295.2ZM356.7 279.7L348.5 294.7L364.9 294.7ZM357.5 279.3L349.3 294.3L365.7 294.3ZM358.3 278.8L350.1 293.8L366.5 293.8ZM359.1 278.4L350.9 293.4L367.3 293.4ZM359.9 277.9L351.7 292.9L368.1 292.9ZM360.7 277.5L352.5 292.5L368.9 292.5ZM361.5 277.0L353.3 292.0L369.7 292.0ZM362.3 276.6L354.1 291.6L370.5 291.6ZM363.1 276.1L354.9 291.1L371.3 291.1ZM363.9 275.7L355.7 290.7L372.1 290.7ZM364.6 275.2L356.4 290.2L372.8 290.2ZM365.4 274.8L357.2 289.8L373.6 289.8ZM366.2 274.4L358.0 289.4L374.4 289.4ZM367.0 273.9L358.8 288.9L375.2 288.9ZM367.8 273.5L359.6 288.5L376.0 288.5ZM368.6 273.1L360.4 288.1L376.8 288.1ZM369.4 272.6L361.2 287.6L377.6 287.6ZM370.2 272.2L362.0 287.2L378.4 287.2ZM371.0 271.8L362.8 286.8L379.2 286.8ZM371.8 271.4L363.6 286.4L380.0 286.4ZM372.6 270.9L364.4 285.9L380.8 285.9ZM373.4 270.5L365.2 285.5L381.6 285.5ZM374.2 270.1L366.0 285.1L382.4 285.1ZM375.0 269.7L366.8 284.7L383.2 284.7ZM375.8 269.3L367.6 284.3L384.0 284.3ZM376.6 268.8L368.4 283.8L384.8 283.8ZM377.4 268.4L369.2 283.4L385.6 283.4ZM378.2 268.0L370.0 283.0L386.4 283.0ZM379.0 267.6L370.8 282.6L387.2 282.6ZM379.8 267.2L371.6 282.2L388.0 282.2ZM380.6 266.8L372.4 281.8L388.8 281.8ZM381.4 266.4L373.2 281.4L389.6 281.4ZM382.2 266.0L374.0 281.0L390.4 281.0ZM383.0 265.6L374.8 280.6L391.2 280.6ZM383.8 265.2L375.6 280.2L392.0 280.2ZM384.6 264.8L376.4 279.8L392.8 279.8ZM385.4 264.4L377.2 279.4L393.6 279.4ZM386.2 264.0L378.0 279.0L394.4 279.0ZM387.0 263.6L378.8 278.6L395.2 278.6ZM387.8 263.2L379.6 278.2L396.0 278.2ZM388.6 262.8L380.4 277.8L396.8 277.8ZM389.4 262.4L381.2 277.4L397.6 277.4ZM390.2 262.0L382.0 277.0L398.4 277.0ZM391.0 261.6L382.8 276.6L399.2 276.6ZM391.8 261.2L383.6 276.2L400.0 276.2ZM392.6 260.9L384.4 275.9L400.8 275.9ZM393.4 260.5L385.2 275.5L401.6 275.5ZM394.2 260.1L386.0 275.1L402.4 275.1ZM395.0 259.7L386.8 274.7L403.2 274.7ZM395.8 259.3L387.6 274.3L404.0 274.3ZM396.6 259.0L388.4 274.0L404.8 274.0ZM397.4 258.6L389.2 273.6L405.6 273.6ZM398.2 258.2L390.0 273.2L406.4 273.2ZM399.0 257.8L390.8 272.8L407.2 272.8ZM399.8 257.5L391.6 272.5L408.0 272.5ZM400.6 257.1L392.4 272.1L408.8 272.1ZM401.4 256.7L393.2 271.7L409.6 271.7ZM402.2 256.3L394.0 271.3L410.4 271.3ZM402.9 256.0L394.7 271.0L411.1 271.0ZM403.7 255.6L395.5 270.6L411.9 270.6ZM404.5 255.2L396.3 270.2L412.7 270.2ZM405.3 254.9L397.1 269.9L413.5 269.9ZM406.1 254.5L397.9 269.5L414.3 269.5ZM406.9 254.1L398.7 269.1L415.1 269.1ZM407.7 253.8L399.5 268.8L415.9 268.8ZM408.5 253.4L400.3 268.4L416.7 268.4ZM409.3 253.1L401.1 268.1L417.5 268.1ZM410.1 252.7L401.9 267.7L418.3 267.7ZM410.9 252.4L402.7 267.4L419.1 267.4ZM411.7 252.0L403.5 267.0L419.9 267.0ZM412.5 251.7L404.3 266.7L420.7 266.7ZM413.3 251.3L405.1 266.3L421.5 266.3ZM414.1 251.0L405.9 266.0L422.3 266.0ZM414.9 250.6L406.7 265.6L423.1 265.6ZM415.7 250.3L407.5 265.3L423.9 265.3ZM416.5 249.9L408.3 264.9L424.7 264.9ZM417.3 249.6L409.1 264.6L425.5 264.6ZM418.1 249.2L409.9 264.2L426.3 264.2ZM418.9 248.9L410.7 263.9L427.1 263.9ZM419.7 248.6L411.5 263.6L427.9 263.6ZM420.5 248.2L412.3 263.2L428.7 263.2ZM421.3 247.9L413.1 262.9L429.5 262.9ZM422.1 247.5L413.9 262.5L430.3 262.5ZM422.9 247.2L414.7 262.2L431.1 262.2ZM423.7 246.9L415.5 261.9L431.9 261.9ZM424.5 246.5L416.3 261.5L432.7 261.5ZM425.3 246.2L417.1 261.2L433.5 261.2ZM426.1 245.9L417.9 260.9L434.3 260.9ZM426.9 245.5L418.7 260.5L435.1 260.5ZM427.7 245.2L419.5 260.2L435.9 260.2ZM428.5 244.9L420.3 259.9L436.7 259.9ZM429.3 244.5L421.1 259.5L437.5 259.5ZM430.1 244.2L421.9 259.2L438.3 259.2ZM430.9 243.9L422.7 258.9L439.1 258.9ZM431.7 243.6L423.5 258.6L439.9 258.6ZM432.5 243.2L424.3 258.2L440.7 258.2ZM433.3 242.9L425.1 257.9L441.5 257.9ZM434.1 242.6L425.9 257.6L442.3 257.6ZM434.9 242.3L426.7 257.3L443.1 257.3ZM435.7 242.0L427.5 257.0L443.9 257.0ZM436.5 241.6L428.3 256.6L444.7 256.6ZM437.3 241.3L429.1 256.3L445.5 256.3ZM438.1 241.0L429.9 256.0L446.3 256.0ZM438.9 240.7L430.7 255.7L447.1 255.7ZM439.7 240.4L431.5 255.4L447.9 255.4ZM440.5 240.1L432.3 255.1L448.7 255.1ZM441.2 239.8L433.0 254.8L449.4 254.8ZM442.0 239.4L433.8 254.4L450.2 254.4ZM442.8 239.1L434.6 254.1L451.0 254.1ZM443.6 238.8L435.4 253.8L451.8 253.8ZM444.4 238.5L436.2 253.5L452.6 253.5ZM445.2 238.2L437.0 253.2L453.4 253.2ZM446.0 237.9L437.8 252.9L454.2 252.9ZM446.8 237.6L438.6 252.6L455.0 252.6ZM447.6 237.3L439.4 252.3L455.8 252.3ZM448.4 237.0L440.2 252.0L456.6 252.0ZM449.2 236.7L441.0 251.7L457.4 251.7ZM450.0 236.4L441.8 251.4L458.2 251.4ZM450.8 236.1L442.6 251.1L459.0 251.1ZM451.6 235.8L443.4 250.8L459.8 250.8ZM452.4 235.5L444.2 250.5L460.6 250.5ZM453.2 235.2L445.0 250.2L461.4 250.2ZM454.0 234.9L445.8 249.9L462.2 249.9ZM454.8 234.6L446.6 249.6L463.0 249.6ZM455.6 234.3L447.4 249.3L463.8 249.3ZM456.4 234.0L448.2 249.0L464.6 249.0ZM457.2 233.8L449.0 248.8L465.4 248.8ZM458.0 233.5L449.8 248.5L466.2 248.5ZM458.8 233.2L450.6 248.2L467.0 248.2ZM459.6 232.9L451.4 247.9L467.8 247.9ZM460.4 232.6L452.2 247.6L468.6 247.6ZM461.2 232.3L453.0 247.3L469.4 247.3ZM462.0 232.0L453.8 247.0L470.2 247.0ZM462.8 231.7L454.6 246.7L471.0 246.7ZM463.6 231.5L455.4 246.5L471.8 246.5ZM464.4 231.2L456.2 246.2L472.6 246.2ZM465.2 230.9L457.0 245.9L473.4 245.9ZM466.0 230.6L457.8 245.6L474.2 245.6ZM466.8 230.3L458.6 245.3L475.0 245.3ZM467.6 230.1L459.4 245.1L475.8 245.1ZM468.4 229.8L460.2 244.8L476.6 244.8ZM469.2 229.5L461.0 244.5L477.4 244.5ZM470.0 229.2L461.8 244.2L478.2 244.2ZM470.8 229.0L462.6 244.0L479.0 244.0ZM471.6 228.7L463.4 243.7L479.8 243.7ZM472.4 228.4L464.2 243.4L480.6 243.4ZM473.2 228.1L465.0 243.1L481.4 243.1ZM474.0 227.9L465.8 242.9L482.2 242.9ZM474.8 227.6L466.6 242.6L483.0 242.6ZM475.6 227.3L467.4 242.3L483.8 242.3ZM476.4 227.1L468.2 242.1L484.6 242.1ZM477.2 226.8L469.0 241.8L485.4 241.8ZM478.0 226.5L469.8 241.5L486.2 241.5ZM478.8 226.3L470.6 241.3L487.0 241.3ZM479.5 226.0L471.3 241.0L487.7 241.0ZM480.3 225.7L472.1 240.7L488.5 240.7ZM481.1 225.5L472.9 240.5L489.3 240.5ZM481.9 225.2L473.7 240.2L490.1 240.2ZM482.7 224.9L474.5 239.9L490.9 239.9ZM483.5 224.7L475.3 239.7L491.7 239.7ZM484.3 224.4L476.1 239.4L492.5 239.4ZM485.1 224.2L476.9 239.2L493.3 239.2ZM485.9 223.9L477.7 238.9L494.1 238.9ZM486.7 223.6L478.5 238.6L494.9 238.6ZM487.5 223.4L479.3 238.4L495.7 238.4ZM488.3 223.1L480.1 238.1L496.5 238.1ZM489.1 222.9L480.9 237.9L497.3 237.9ZM489.9 222.6L481.7 237.6L498.1 237.6ZM490.7 222.4L482.5 237.4L498.9 237.4ZM491.5 222.1L483.3 237.1L499.7 237.1ZM492.3 221.9L484.1 236.9L500.5 236.9ZM493.1 221.6L484.9 236.6L501.3 236.6ZM493.9 221.4L485.7 236.4L502.1 236.4ZM494.7 221.1L486.5 236.1L502.9 236.1ZM495.5 220.9L487.3 235.9L503.7 235.9ZM496.3 220.6L488.1 235.6L504.5 235.6ZM497.1 220.4L488.9 235.4L505.3 235.4ZM497.9 220.1L489.7 235.1L506.1 235.1ZM498.7 219.9L490.5 234.9L506.9 234.9ZM499.5 219.6L491.3 234.6L507.7 234.6ZM500.3 219.4L492.1 234.4L508.5 234.4ZM501.1 219.1L492.9 234.1L509.3 234.1ZM501.9 218.9L493.7 233.9L510.1 233.9ZM502.7 218.7L494.5 233.7L510.9 233.7ZM503.5 218.4L495.3 233.4L511.7 233.4ZM504.3 218.2L496.1 233.2L512.5 233.2ZM505.1 217.9L496.9 232.9L513.3 232.9ZM505.9 217.7L497.7 232.7L514.1 232.7ZM506.7 217.5L498.5 232.5L514.9 232.5ZM507.5 217.2L499.3 232.2L515.7 232.2ZM508.3 217.0L500.1 232.0L516.5 232.0ZM509.1 216.7L500.9 231.7L517.3 231.7ZM509.9 216.5L501.7 231.5L518.1 231.5ZM510.7 216.3L502.5 231.3L518.9 231.3ZM511.5 216.0L503.3 231.0L519.7 231.0ZM512.3 215.8L504.1 230.8L520.5 230.8ZM513.1 215.6L504.9 230.6L521.3 230.6ZM513.9 215.3L505.7 230.3L522.1 230.3ZM514.7 215.1L506.5 230.1L522.9 230.1ZM515.5 214.9L507.3 229.9L523.7 229.9ZM516.3 214.7L508.1 229.7L524.5 229.7ZM517.1 214.4L508.9 229.4L525.3 229.4ZM517.8 214.2L509.6 229.2L526.0 229.2ZM518.6 214.0L510.4 229.0L526.8 229.0ZM519.4 213.7L511.2 228.7L527.6 228.7ZM520.2 213.5L512.0 228.5L528.4 228.5ZM521.0 213.3L512.8 228.3L529.2 228.3ZM521.8 213.1L513.6 228.1L530.0 228.1ZM522.6 212.8L514.4 227.8L530.8 227.8ZM523.4 212.6L515.2 227.6L531.6 227.6ZM524.2 212.4L516.0 227.4L532.4 227.4ZM525.0 212.2L516.8 227.2L533.2 227.2ZM525.8 212.0L517.6 227.0L534.0 227.0ZM526.6 211.7L518.4 226.7L534.8 226.7ZM527.4 211.5L519.2 226.5L535.6 226.5ZM528.2 211.3L520.0 226.3L536.4 226.3ZM529.0 211.1L520.8 226.1L537.2 226.1ZM529.8 210.9L521.6 225.9L538.0 225.9ZM530.6 210.6L522.4 225.6L538.8 225.6ZM531.4 210.4L523.2 225.4L539.6 225.4ZM532.2 210.2L524.0 225.2L540.4 225.2ZM533.0 210.0L524.8 225.0L541.2 225.0ZM533.8 209.8L525.6 224.8L542.0 224.8ZM534.6 209.6L526.4 224.6L542.8 224.6ZM535.4 209.4L527.2 224.4L543.6 224.4ZM536.2 209.1L528.0 224.1L544.4 224.1ZM537.0 208.9L528.8 223.9L545.2 223.9ZM537.8 208.7L529.6 223.7L546.0 223.7ZM538.6 208.5L530.4 223.5L546.8 223.5ZM539.4 208.3L531.2 223.3L547.6 223.3ZM540.2 208.1L532.0 223.1L548.4 223.1ZM541.0 207.9L532.8 222.9L549.2 222.9ZM541.8 207.7L533.6 222.7L550.0 222.7ZM542.6 207.5L534.4 222.5L550.8 222.5ZM543.4 207.3L535.2 222.3L551.6 222.3ZM544.2 207.1L536.0 222.1L552.4 222.1ZM545.0 206.9L536.8 221.9L553.2 221.9ZM545.8 206.7L537.6 221.7L554.0 221.7ZM546.6 206.4L538.4 221.4L554.8 221.4ZM547.4 206.2L539.2 221.2L555.6 221.2ZM548.2 206.0L540.0 221.0L556.4 221.0ZM549.0 205.8L540.8 220.8L557.2 220.8ZM549.8 205.6L541.6 220.6L558.0 220.6ZM550.6 205.4L542.4 220.4L558.8 220.4ZM551.4 205.2L543.2 220.2L559.6 220.2ZM552.2 205.0L544.0 220.0L560.4 220.0ZM553.0 204.8L544.8 219.8L561.2 219.8ZM553.8 204.6L545.6 219.6L562.0 219.6ZM554.6 204.4L546.4 219.4L562.8 219.4ZM555.4 204.2L547.2 219.2L563.6 219.2ZM556.1 204.0L547.9 219.0L564.3 219.0ZM556.9 203.9L548.7 218.9L565.1 218.9ZM557.7 203.7L549.5 218.7L565.9 218.7ZM558.5 203.5L550.3 218.5L566.7 218.5ZM559.3 203.3L551.1 218.3L567.5 218.3ZM560.1 203.1L551.9 218.1L568.3 218.1ZM560.9 202.9L552.7 217.9L569.1 217.9ZM561.7 202.7L553.5 217.7L569.9 217.7ZM562.5 202.5L554.3 217.5L570.7 217.5ZM563.3 202.3L555.1 217.3L571.5 217.3ZM564.1 202.1L555.9 217.1L572.3 217.1ZM564.9 201.9L556.7 216.9L573.1 216.9ZM565.7 201.7L557.5 216.7L573.9 216.7ZM566.5 201.5L558.3 216.5L574.7 216.5ZM567.3 201.4L559.1 216.4L575.5 216.4ZM568.1 201.2L559.9 216.2L576.3 216.2ZM568.9 201.0L560.7 216.0L577.1 216.0ZM569.7 200.8L561.5 215.8L577.9 215.8ZM570.5 200.6L562.3 215.6L578.7 215.6ZM571.3 200.4L563.1 215.4L579.5 215.4ZM572.1 200.2L563.9 215.2L580.3 215.2ZM572.9 200.1L564.7 215.1L581.1 215.1ZM573.7 199.9L565.5 214.9L581.9 214.9ZM574.5 199.7L566.3 214.7L582.7 214.7ZM575.3 199.5L567.1 214.5L583.5 214.5ZM576.1 199.3L567.9 214.3L584.3 214.3ZM576.9 199.1L568.7 214.1L585.1 214.1ZM577.7 198.9L569.5 213.9L585.9 213.9ZM578.5 198.8L570.3 213.8L586.7 213.8ZM579.3 198.6L571.1 213.6L587.5 213.6ZM580.1 198.4L571.9 213.4L588.3 213.4ZM580.9 198.2L572.7 213.2L589.1 213.2ZM581.7 198.0L573.5 213.0L589.9 213.0ZM582.5 197.9L574.3 212.9L590.7 212.9ZM583.3 197.7L575.1 212.7L591.5 212.7ZM584.1 197.5L575.9 212.5L592.3 212.5ZM584.9 197.3L576.7 212.3L593.1 212.3ZM585.7 197.2L577.5 212.2L593.9 212.2ZM586.5 197.0L578.3 212.0L594.7 212.0ZM587.3 196.8L579.1 211.8L595.5 211.8ZM588.1 196.6L579.9 211.6L596.3 211.6ZM588.9 196.5L580.7 211.5L597.1 211.5ZM589.7 196.3L581.5 211.3L597.9 211.3ZM590.5 196.1L582.3 211.1L598.7 211.1ZM591.3 195.9L583.1 210.9L599.5 210.9ZM592.1 195.8L583.9 210.8L600.3 210.8ZM592.9 195.6L584.7 210.6L601.1 210.6ZM593.7 195.4L585.5 210.4L601.9 210.4ZM594.5 195.3L586.3 210.3L602.7 210.3ZM595.2 195.1L587.0 210.1L603.4 210.1ZM596.0 194.9L587.8 209.9L604.2 209.9ZM596.8 194.8L588.6 209.8L605.0 209.8ZM597.6 194.6L589.4 209.6L605.8 209.6ZM598.4 194.4L590.2 209.4L606.6 209.4ZM599.2 194.3L591.0 209.3L607.4 209.3ZM600.0 194.1L591.8 209.1L608.2 209.1ZM600.8 193.9L592.6 208.9L609.0 208.9ZM601.6 193.8L593.4 208.8L609.8 208.8ZM602.4 193.6L594.2 208.6L610.6 208.6ZM603.2 193.5L595.0 208.5L611.4 208.5ZM604.0 193.3L595.8 208.3L612.2 208.3ZM604.8 193.1L596.6 208.1L613.0 208.1ZM605.6 193.0L597.4 208.0L613.8 208.0ZM606.4 192.8L598.2 207.8L614.6 207.8ZM607.2 192.6L599.0 207.6L615.4 207.6ZM608.0 192.5L599.8 207.5L616.2 207.5ZM608.8 192.3L600.6 207.3L617.0 207.3ZM609.6 192.2L601.4 207.2L617.8 207.2ZM610.4 192.0L602.2 207.0L618.6 207.0ZM611.2 191.8L603.0 206.8L619.4 206.8ZM612.0 191.7L603.8 206.7L620.2 206.7ZM612.8 191.5L604.6 206.5L621.0 206.5ZM613.6 191.4L605.4 206.4L621.8 206.4ZM614.4 191.2L606.2 206.2L622.6 206.2ZM615.2 191.0L607.0 206.0L623.4 206.0ZM616.0 190.9L607.8 205.9L624.2 205.9ZM616.8 190.7L608.6 205.7L625.0 205.7ZM617.6 190.6L609.4 205.6L625.8 205.6ZM618.4 190.4L610.2 205.4L626.6 205.4ZM619.2 190.3L611.0 205.3L627.4 205.3ZM620.0 190.1L611.8 205.1L628.2 205.1ZM620.8 190.0L612.6 205.0L629.0 205.0ZM621.6 189.8L613.4 204.8L629.8 204.8ZM622.4 189.6L614.2 204.6L630.6 204.6ZM623.2 189.5L615.0 204.5L631.4 204.5ZM624.0 189.3L615.8 204.3L632.2 204.3ZM624.8 189.2L616.6 204.2L633.0 204.2ZM625.6 189.0L617.4 204.0L633.8 204.0ZM626.4 188.9L618.2 203.9L634.6 203.9ZM627.2 188.7L619.0 203.7L635.4 203.7ZM628.0 188.6L619.8 203.6L636.2 203.6ZM628.8 188.4L620.6 203.4L637.0 203.4ZM629.6 188.3L621.4 203.3L637.8 203.3ZM630.4 188.1L622.2 203.1L638.6 203.1ZM631.2 188.0L623.0 203.0L639.4 203.0ZM632.0 187.8L623.8 202.8L640.2 202.8ZM632.8 187.7L624.6 202.7L641.0 202.7ZM633.5 187.5L625.3 202.5L641.7 202.5ZM634.3 187.4L626.1 202.4L642.5 202.4ZM635.1 187.2L626.9 202.2L643.3 202.2ZM635.9 187.1L627.7 202.1L644.1 202.1ZM636.7 186.9L628.5 201.9L644.9 201.9ZM637.5 186.8L629.3 201.8L645.7 201.8ZM638.3 186.6L630.1 201.6L646.5 201.6ZM639.1 186.5L630.9 201.5L647.3 201.5ZM639.9 186.3L631.7 201.3L648.1 201.3ZM640.7 186.2L632.5 201.2L648.9 201.2ZM641.5 186.1L633.3 201.1L649.7 201.1ZM642.3 185.9L634.1 200.9L650.5 200.9ZM643.1 185.8L634.9 200.8L651.3 200.8ZM643.9 185.6L635.7 200.6L652.1 200.6ZM644.7 185.5L636.5 200.5L652.9 200.5ZM645.5 185.3L637.3 200.3L653.7 200.3ZM646.3 185.2L638.1 200.2L654.5 200.2ZM647.1 185.1L638.9 200.1L655.3 200.1ZM647.9 184.9L639.7 199.9L656.1 199.9ZM648.7 184.8L640.5 199.8L656.9 199.8ZM649.5 184.6L641.3 199.6L657.7 199.6ZM650.3 184.5L642.1 199.5L658.5 199.5ZM651.1 184.4L642.9 199.4L659.3 199.4ZM651.9 184.2L643.7 199.2L660.1 199.2ZM652.7 184.1L644.5 199.1L660.9 199.1ZM653.5 183.9L645.3 198.9L661.7 198.9ZM654.3 183.8L646.1 198.8L662.5 198.8ZM655.1 183.7L646.9 198.7L663.3 198.7ZM655.9 183.5L647.7 198.5L664.1 198.5ZM656.7 183.4L648.5 198.4L664.9 198.4ZM657.5 183.3L649.3 198.3L665.7 198.3ZM658.3 183.1L650.1 198.1L666.5 198.1ZM659.1 183.0L650.9 198.0L667.3 198.0ZM659.9 182.9L651.7 197.9L668.1 197.9ZM660.7 182.7L652.5 197.7L668.9 197.7ZM661.5 182.6L653.3 197.6L669.7 197.6ZM662.3 182.5L654.1 197.5L670.5 197.5ZM663.1 182.3L654.9 197.3L671.3 197.3ZM663.9 182.2L655.7 197.2L672.1 197.2ZM664.7 182.1L656.5 197.1L672.9 197.1ZM665.5 181.9L657.3 196.9L673.7 196.9ZM666.3 181.8L658.1 196.8L674.5 196.8ZM667.1 181.7L658.9 196.7L675.3 196.7ZM667.9 181.5L659.7 196.5L676.1 196.5ZM668.7 181.4L660.5 196.4L676.9 196.4ZM669.5 181.3L661.3 196.3L677.7 196.3ZM670.3 181.1L662.1 196.1L678.5 196.1ZM671.1 181.0L662.9 196.0L679.3 196.0ZM671.8 180.9L663.6 195.9L680.0 195.9ZM672.6 180.8L664.4 195.8L680.8 195.8ZM673.4 180.6L665.2 195.6L681.6 195.6ZM674.2 180.5L666.0 195.5L682.4 195.5ZM675.0 180.4L666.8 195.4L683.2 195.4ZM675.8 180.2L667.6 195.2L684.0 195.2ZM676.6 180.1L668.4 195.1L684.8 195.1ZM677.4 180.0L669.2 195.0L685.6 195.0ZM678.2 179.9L670.0 194.9L686.4 194.9ZM679.0 179.7L670.8 194.7L687.2 194.7ZM679.8 179.6L671.6 194.6L688.0 194.6ZM680.6 179.5L672.4 194.5L688.8 194.5ZM681.4 179.4L673.2 194.4L689.6 194.4ZM682.2 179.2L674.0 194.2L690.4 194.2ZM683.0 179.1L674.8 194.1L691.2 194.1ZM683.8 179.0L675.6 194.0L692.0 194.0ZM684.6 178.9L676.4 193.9L692.8 193.9ZM685.4 178.7L677.2 193.7L693.6 193.7ZM686.2 178.6L678.0 193.6L694.4 193.6ZM687.0 178.5L678.8 193.5L695.2 193.5ZM687.8 178.4L679.6 193.4L696.0 193.4ZM688.6 178.3L680.4 193.3L696.8 193.3ZM689.4 178.1L681.2 193.1L697.6 193.1ZM690.2 178.0L682.0 193.0L698.4 193.0ZM691.0 177.9L682.8 192.9L699.2 192.9ZM691.8 177.8L683.6 192.8L700.0 192.8ZM692.6 177.7L684.4 192.7L700.8 192.7ZM693.4 177.5L685.2 192.5L701.6 192.5ZM694.2 177.4L686.0 192.4L702.4 192.4ZM695.0 177.3L686.8 192.3L703.2 192.3ZM695.8 177.2L687.6 192.2L704.0 192.2ZM696.6 177.1L688.4 192.1L704.8 192.1ZM697.4 176.9L689.2 191.9L705.6 191.9ZM698.2 176.8L690.0 191.8L706.4 191.8ZM699.0 176.7L690.8 191.7L707.2 191.7ZM699.8 176.6L691.6 191.6L708.0 191.6ZM700.6 176.5L692.4 191.5L708.8 191.5ZM701.4 176.4L693.2 191.4L709.6 191.4ZM702.2 176.2L694.0 191.2L710.4 191.2ZM703.0 176.1L694.8 191.1L711.2 191.1ZM703.8 176.0L695.6 191.0L712.0 191.0ZM704.6 175.9L696.4 190.9L712.8 190.9ZM705.4 175.8L697.2 190.8L713.6 190.8ZM706.2 175.7L698.0 190.7L714.4 190.7ZM707.0 175.6L698.8 190.6L715.2 190.6ZM707.8 175.4L699.6 190.4L716.0 190.4ZM708.6 175.3L700.4 190.3L716.8 190.3ZM709.4 175.2L701.2 190.2L717.6 190.2ZM710.1 175.1L701.9 190.1L718.3 190.1ZM710.9 175.0L702.7 190.0L719.1 190.0ZM711.7 174.9L703.5 189.9L719.9 189.9ZM712.5 174.8L704.3 189.8L720.7 189.8ZM713.3 174.7L705.1 189.7L721.5 189.7ZM714.1 174.5L705.9 189.5L722.3 189.5ZM714.9 174.4L706.7 189.4L723.1 189.4ZM715.7 174.3L707.5 189.3L723.9 189.3ZM716.5 174.2L708.3 189.2L724.7 189.2ZM717.3 174.1L709.1 189.1L725.5 189.1ZM718.1 174.0L709.9 189.0L726.3 189.0ZM718.9 173.9L710.7 188.9L727.1 188.9ZM719.7 173.8L711.5 188.8L727.9 188.8ZM720.5 173.7L712.3 188.7L728.7 188.7ZM721.3 173.6L713.1 188.6L729.5 188.6ZM722.1 173.4L713.9 188.4L730.3 188.4ZM722.9 173.3L714.7 188.3L731.1 188.3ZM723.7 173.2L715.5 188.2L731.9 188.2ZM724.5 173.1L716.3 188.1L732.7 188.1ZM725.3 173.0L717.1 188.0L733.5 188.0ZM726.1 172.9L717.9 187.9L734.3 187.9ZM726.9 172.8L718.7 187.8L735.1 187.8ZM727.7 172.7L719.5 187.7L735.9 187.7ZM728.5 172.6L720.3 187.6L736.7 187.6ZM729.3 172.5L721.1 187.5L737.5 187.5ZM730.1 172.4L721.9 187.4L738.3 187.4ZM730.9 172.3L722.7 187.3L739.1 187.3ZM731.7 172.2L723.5 187.2L739.9 187.2ZM732.5 172.1L724.3 187.1L740.7 187.1ZM733.3 172.0L725.1 187.0L741.5 187.0ZM734.1 171.9L725.9 186.9L742.3 186.9ZM734.9 171.8L726.7 186.8L743.1 186.8ZM735.7 171.7L727.5 186.7L743.9 186.7ZM736.5 171.6L728.3 186.6L744.7 186.6ZM737.3 171.4L729.1 186.4L745.5 186.4ZM738.1 171.3L729.9 186.3L746.3 186.3ZM738.9 171.2L730.7 186.2L747.1 186.2ZM739.7 171.1L731.5 186.1L747.9 186.1ZM740.5 171.0L732.3 186.0L748.7 186.0ZM741.3 170.9L733.1 185.9L749.5 185.9ZM742.1 170.8L733.9 185.8L750.3 185.8ZM742.9 170.7L734.7 185.7L751.1 185.7ZM743.7 170.6L735.5 185.6L751.9 185.6ZM744.5 170.5L736.3 185.5L752.7 185.5ZM745.3 170.4L737.1 185.4L753.5 185.4ZM746.1 170.3L737.9 185.3L754.3 185.3ZM746.9 170.2L738.7 185.2L755.1 185.2ZM747.7 170.1L739.5 185.1L755.9 185.1ZM748.4 170.0L740.2 185.0L756.6 185.0ZM749.2 169.9L741.0 184.9L757.4 184.9ZM750.0 169.8L741.8 184.8L758.2 184.8ZM750.8 169.7L742.6 184.7L759.0 184.7ZM751.6 169.6L743.4 184.6L759.8 184.6ZM752.4 169.5L744.2 184.5L760.6 184.5ZM753.2 169.4L745.0 184.4L761.4 184.4ZM754.0 169.4L745.8 184.4L762.2 184.4ZM754.8 169.3L746.6 184.3L763.0 184.3ZM755.6 169.2L747.4 184.2L763.8 184.2ZM756.4 169.1L748.2 184.1L764.6 184.1ZM757.2 169.0L749.0 184.0L765.4 184.0ZM758.0 168.9L749.8 183.9L766.2 183.9ZM758.8 168.8L750.6 183.8L767.0 183.8ZM759.6 168.7L751.4 183.7L767.8 183.7ZM760.4 168.6L752.2 183.6L768.6 183.6ZM761.2 168.5L753.0 183.5L769.4 183.5ZM762.0 168.4L753.8 183.4L770.2 183.4ZM762.8 168.3L754.6 183.3L771.0 183.3ZM763.6 168.2L755.4 183.2L771.8 183.2ZM764.4 168.1L756.2 183.1L772.6 183.1ZM765.2 168.0L757.0 183.0L773.4 183.0ZM766.0 167.9L757.8 182.9L774.2 182.9ZM766.8 167.8L758.6 182.8L775.0 182.8ZM767.6 167.7L759.4 182.7L775.8 182.7ZM768.4 167.6L760.2 182.6L776.6 182.6ZM769.2 167.6L761.0 182.6L777.4 182.6ZM770.0 167.5L761.8 182.5L778.2 182.5ZM770.8 167.4L762.6 182.4L779.0 182.4ZM771.6 167.3L763.4 182.3L779.8 182.3ZM772.4 167.2L764.2 182.2L780.6 182.2ZM773.2 167.1L765.0 182.1L781.4 182.1ZM774.0 167.0L765.8 182.0L782.2 182.0ZM774.8 166.9L766.6 181.9L783.0 181.9ZM775.6 166.8L767.4 181.8L783.8 181.8ZM776.4 166.7L768.2 181.7L784.6 181.7ZM777.2 166.6L769.0 181.6L785.4 181.6ZM778.0 166.6L769.8 181.6L786.2 181.6ZM778.8 166.5L770.6 181.5L787.0 181.5ZM779.6 166.4L771.4 181.4L787.8 181.4ZM780.4 166.3L772.2 181.3L788.6 181.3ZM781.2 166.2L773.0 181.2L789.4 181.2ZM782.0 166.1L773.8 181.1L790.2 181.1ZM782.8 166.0L774.6 181.0L791.0 181.0ZM783.6 165.9L775.4 180.9L791.8 180.9ZM784.4 165.9L776.2 180.9L792.6 180.9ZM785.2 165.8L777.0 180.8L793.4 180.8ZM786.0 165.7L777.8 180.7L794.2 180.7ZM786.7 165.6L778.5 180.6L794.9 180.6ZM787.5 165.5L779.3 180.5L795.7 180.5ZM788.3 165.4L780.1 180.4L796.5 180.4ZM789.1 165.3L780.9 180.3L797.3 180.3ZM789.9 165.2L781.7 180.2L798.1 180.2ZM790.7 165.2L782.5 180.2L798.9 180.2ZM791.5 165.1L783.3 180.1L799.7 180.1ZM792.3 165.0L784.1 180.0L800.5 180.0ZM793.1 164.9L784.9 179.9L801.3 179.9ZM793.9 164.8L785.7 179.8L802.1 179.8ZM794.7 164.7L786.5 179.7L802.9 179.7ZM795.5 164.6L787.3 179.6L803.7 179.6ZM796.3 164.6L788.1 179.6L804.5 179.6ZM797.1 164.5L788.9 179.5L805.3 179.5ZM797.9 164.4L789.7 179.4L806.1 179.4ZM798.7 164.3L790.5 179.3L806.9 179.3ZM799.5 164.2L791.3 179.2L807.7 179.2ZM800.3 164.1L792.1 179.1L808.5 179.1ZM801.1 164.1L792.9 179.1L809.3 179.1ZM801.9 164.0L793.7 179.0L810.1 179.0ZM802.7 163.9L794.5 178.9L810.9 178.9ZM803.5 163.8L795.3 178.8L811.7 178.8ZM804.3 163.7L796.1 178.7L812.5 178.7ZM805.1 163.6L796.9 178.6L813.3 178.6ZM805.9 163.6L797.7 178.6L814.1 178.6ZM806.7 163.5L798.5 178.5L814.9 178.5ZM807.5 163.4L799.3 178.4L815.7 178.4ZM808.3 163.3L800.1 178.3L816.5 178.3ZM809.1 163.2L800.9 178.2L817.3 178.2ZM809.9 163.2L801.7 178.2L818.1 178.2ZM810.7 163.1L802.5 178.1L818.9 178.1ZM811.5 163.0L803.3 178.0L819.7 178.0ZM812.3 162.9L804.1 177.9L820.5 177.9ZM813.1 162.8L804.9 177.8L821.3 177.8ZM813.9 162.8L805.7 177.8L822.1 177.8ZM814.7 162.7L806.5 177.7L822.9 177.7ZM815.5 162.6L807.3 177.6L823.7 177.6ZM816.3 162.5L808.1 177.5L824.5 177.5ZM817.1 162.4L808.9 177.4L825.3 177.4ZM817.9 162.4L809.7 177.4L826.1 177.4ZM818.7 162.3L810.5 177.3L826.9 177.3ZM819.5 162.2L811.3 177.2L827.7 177.2ZM820.3 162.1L812.1 177.1L828.5 177.1ZM821.1 162.1L812.9 177.1L829.3 177.1ZM821.9 162.0L813.7 177.0L830.1 177.0ZM822.7 161.9L814.5 176.9L830.9 176.9ZM823.5 161.8L815.3 176.8L831.7 176.8ZM824.3 161.7L816.1 176.7L832.5 176.7ZM825.0 161.7L816.8 176.7L833.2 176.7ZM825.8 161.6L817.6 176.6L834.0 176.6ZM826.6 161.5L818.4 176.5L834.8 176.5ZM827.4 161.4L819.2 176.4L835.6 176.4ZM828.2 161.4L820.0 176.4L836.4 176.4ZM829.0 161.3L820.8 176.3L837.2 176.3ZM829.8 161.2L821.6 176.2L838.0 176.2ZM830.6 161.1L822.4 176.1L838.8 176.1ZM831.4 161.1L823.2 176.1L839.6 176.1ZM832.2 161.0L824.0 176.0L840.4 176.0ZM833.0 160.9L824.8 175.9L841.2 175.9ZM833.8 160.8L825.6 175.8L842.0 175.8ZM834.6 160.8L826.4 175.8L842.8 175.8ZM835.4 160.7L827.2 175.7L843.6 175.7ZM836.2 160.6L828.0 175.6L844.4 175.6ZM837.0 160.5L828.8 175.5L845.2 175.5ZM837.8 160.5L829.6 175.5L846.0 175.5ZM838.6 160.4L830.4 175.4L846.8 175.4ZM839.4 160.3L831.2 175.3L847.6 175.3ZM840.2 160.3L832.0 175.3L848.4 175.3ZM841.0 160.2L832.8 175.2L849.2 175.2ZM841.8 160.1L833.6 175.1L850.0 175.1ZM842.6 160.0L834.4 175.0L850.8 175.0Z" fill="#00c800"/>
</g>
<rect x="219.9" y="8.4" width="632.5" height="531.1" stroke="#000" stroke-width="1.8" fill="none"/>
<text x="210.5" y="99" font-size="44" text-anchor="end">0.3</text>
<text x="210.5" y="189.4" font-size="44" text-anchor="end">0.2</text>
<text x="210.5" y="279.8" font-size="44" text-anchor="end">0.1</text>
<text x="210.5" y="370.1" font-size="44" text-anchor="end">0.0</text>
<text x="210.5" y="460.5" font-size="44" text-anchor="end">-0.1</text>
<text x="121.7" y="268.2" font-size="44" text-anchor="middle" textLength="390.4" lengthAdjust="spacingAndGlyphs" transform="rotate(-90 121.7 268.2)">Energy from <tspan font-style="italic">E</tspan><tspan font-size="30" dy="7">F</tspan><tspan dy="-7"> (eV)</tspan></text>
<text x="4.8" y="50.3" font-size="66" font-weight="bold" textLength="31.8" lengthAdjust="spacingAndGlyphs">a</text>
<text x="678.1" y="88.2" font-size="45.7" fill="#0000ff" textLength="104.3" lengthAdjust="spacingAndGlyphs">-50 V</text>
<text x="763.4" y="230" font-size="45.7" fill="#00c800" textLength="65.9" lengthAdjust="spacingAndGlyphs">0 V</text>
<rect x="441" y="262" width="364" height="262" fill="#fff"/>
<line x1="563.2" y1="353.6" x2="789.4" y2="353.6" stroke="#000" stroke-width="3.4" stroke-dasharray="3.8 3.45"/>
<line x1="569.6" y1="274" x2="569.6" y2="280" stroke="#000" stroke-width="3"/>
<line x1="569.6" y1="463.8" x2="569.6" y2="457.8" stroke="#000" stroke-width="3"/>
<line x1="612.1" y1="274" x2="612.1" y2="280" stroke="#000" stroke-width="3"/>
<line x1="612.1" y1="463.8" x2="612.1" y2="457.8" stroke="#000" stroke-width="3"/>
<line x1="654.6" y1="274" x2="654.6" y2="280" stroke="#000" stroke-width="3"/>
<line x1="654.6" y1="463.8" x2="654.6" y2="457.8" stroke="#000" stroke-width="3"/>
<line x1="697.1" y1="274" x2="697.1" y2="280" stroke="#000" stroke-width="3"/>
<line x1="697.1" y1="463.8" x2="697.1" y2="457.8" stroke="#000" stroke-width="3"/>
<line x1="739.6" y1="274" x2="739.6" y2="280" stroke="#000" stroke-width="3"/>
<line x1="739.6" y1="463.8" x2="739.6" y2="457.8" stroke="#000" stroke-width="3"/>
<line x1="782.1" y1="274" x2="782.1" y2="280" stroke="#000" stroke-width="3"/>
<line x1="782.1" y1="463.8" x2="782.1" y2="457.8" stroke="#000" stroke-width="3"/>
<line x1="563.2" y1="309.8" x2="569.2" y2="309.8" stroke="#000" stroke-width="3"/>
<line x1="789.4" y1="309.8" x2="783.4" y2="309.8" stroke="#000" stroke-width="3"/>
<line x1="563.2" y1="353.5" x2="569.2" y2="353.5" stroke="#000" stroke-width="3"/>
<line x1="789.4" y1="353.5" x2="783.4" y2="353.5" stroke="#000" stroke-width="3"/>
<line x1="563.2" y1="397.2" x2="569.2" y2="397.2" stroke="#000" stroke-width="3"/>
<line x1="789.4" y1="397.2" x2="783.4" y2="397.2" stroke="#000" stroke-width="3"/>
<line x1="563.2" y1="440.9" x2="569.2" y2="440.9" stroke="#000" stroke-width="3"/>
<line x1="789.4" y1="440.9" x2="783.4" y2="440.9" stroke="#000" stroke-width="3"/>
<clipPath id="cai"><rect x="563.2" y="274" width="226.19999999999993" height="189.8"/></clipPath>
<g clip-path="url(#cai)">
<polyline points="569.6,436.5 570.7,433.5 571.8,430.5 572.9,427.6 574.0,424.7 575.1,421.9 576.2,419.2 577.3,416.5 578.4,413.9 579.5,411.4 580.6,408.9 581.7,406.5 582.8,404.1 583.9,401.8 585.0,399.6 586.1,397.4 587.2,395.3 588.3,393.3 589.4,391.3 590.5,389.4 591.6,387.5 592.7,385.7 593.8,383.9 594.9,382.2 596.0,380.5 597.1,378.8 598.2,377.2 599.3,375.6 600.4,374.1 601.5,372.6 602.6,371.2 603.7,369.9 604.8,368.6 605.9,367.4 607.0,366.2 608.1,365.0 609.2,364.0 610.3,362.9 611.4,362.0 612.5,361.1 613.6,360.2 614.7,359.4 615.8,358.7 616.9,357.9 618.0,357.2 619.1,356.5 620.2,355.9 621.3,355.2 622.4,354.6 623.5,354.0 624.6,353.4 625.7,352.9 626.8,352.4 627.9,351.9 629.0,351.4 630.1,351.0 631.2,350.5 632.3,350.1 633.4,349.7 634.5,349.3 635.6,348.9 636.7,348.5 637.8,348.2 638.9,347.8 640.0,347.4 641.1,347.1 642.2,346.7 643.3,346.4 644.4,346.1 645.5,345.9 646.6,345.6 647.7,345.4 648.8,345.2 649.9,344.9 651.0,344.7 652.1,344.5 653.2,344.2 654.3,344.0 655.4,343.8 656.5,343.6 657.6,343.3 658.7,343.1 659.8,342.9 660.9,342.7 662.0,342.4 663.1,342.2 664.2,342.0 665.3,341.8 666.4,341.6 667.5,341.3 668.6,341.1 669.7,340.9 670.8,340.7 671.9,340.5 673.0,340.3 674.1,340.1 675.2,339.9 676.3,339.7 677.4,339.5 678.5,339.2 679.6,339.0 680.7,338.8 681.8,338.6 682.9,338.4 684.0,338.2 685.1,338.0 686.2,337.8 687.3,337.6 688.4,337.4 689.5,337.2 690.6,337.1 691.7,336.9 692.8,336.7 693.9,336.5 695.0,336.3 696.1,336.1 697.2,335.9 698.3,335.7 699.4,335.5 700.5,335.3 701.6,335.1 702.7,335.0 703.8,334.8 704.9,334.6 706.0,334.4 707.1,334.2 708.2,334.0 709.3,333.9 710.4,333.7 711.5,333.5 712.6,333.3 713.7,333.1 714.8,333.0 715.9,332.8 717.0,332.6 718.1,332.4 719.2,332.3 720.3,332.1 721.4,331.9 722.5,331.7 723.6,331.6 724.7,331.4 725.8,331.2 726.9,331.0 728.0,330.9 729.1,330.7 730.2,330.5 731.3,330.4 732.4,330.2 733.5,330.0 734.6,329.9 735.7,329.7 736.8,329.5 737.9,329.4 739.0,329.2 740.1,329.0 741.2,328.9 742.3,328.7 743.4,328.5 744.5,328.4 745.6,328.2 746.7,328.1 747.8,327.9 748.9,327.7 750.0,327.6 751.1,327.4 752.2,327.3 753.3,327.1 754.4,326.9 755.5,326.8 756.6,326.6 757.7,326.5 758.8,326.3 759.9,326.2 761.0,326.0 762.1,325.8 763.2,325.7 764.3,325.5 765.4,325.4 766.5,325.2 767.6,325.1 768.7,324.9 769.8,324.8 770.9,324.6 772.0,324.5 773.1,324.3 774.2,324.2 775.3,324.0 776.4,323.9 777.5,323.7 778.6,323.6 779.7,323.4 780.8,323.3 781.9,323.1 783.0,323.0 784.1,322.8 785.2,322.7 786.3,322.6 787.4,322.4 788.5,322.3" fill="none" stroke="#0000ff" stroke-width="8.4" stroke-linejoin="round" stroke-linecap="round"/>
<path d="M565.0 436.5a4.6 4.6 0 1 0 9.2 0a4.6 4.6 0 1 0 -9.2 0M573.3 415.1a4.6 4.6 0 1 0 9.2 0a4.6 4.6 0 1 0 -9.2 0M581.6 397.2a4.6 4.6 0 1 0 9.2 0a4.6 4.6 0 1 0 -9.2 0M589.9 382.8a4.6 4.6 0 1 0 9.2 0a4.6 4.6 0 1 0 -9.2 0M598.2 371.0a4.6 4.6 0 1 0 9.2 0a4.6 4.6 0 1 0 -9.2 0M606.5 362.2a4.6 4.6 0 1 0 9.2 0a4.6 4.6 0 1 0 -9.2 0M614.8 356.3a4.6 4.6 0 1 0 9.2 0a4.6 4.6 0 1 0 -9.2 0M623.1 352.0a4.6 4.6 0 1 0 9.2 0a4.6 4.6 0 1 0 -9.2 0M631.4 348.8a4.6 4.6 0 1 0 9.2 0a4.6 4.6 0 1 0 -9.2 0M639.7 346.2a4.6 4.6 0 1 0 9.2 0a4.6 4.6 0 1 0 -9.2 0M648.0 344.4a4.6 4.6 0 1 0 9.2 0a4.6 4.6 0 1 0 -9.2 0M656.3 342.7a4.6 4.6 0 1 0 9.2 0a4.6 4.6 0 1 0 -9.2 0M664.6 341.0a4.6 4.6 0 1 0 9.2 0a4.6 4.6 0 1 0 -9.2 0M672.9 339.4a4.6 4.6 0 1 0 9.2 0a4.6 4.6 0 1 0 -9.2 0M681.2 337.9a4.6 4.6 0 1 0 9.2 0a4.6 4.6 0 1 0 -9.2 0M689.5 336.4a4.6 4.6 0 1 0 9.2 0a4.6 4.6 0 1 0 -9.2 0M697.8 335.0a4.6 4.6 0 1 0 9.2 0a4.6 4.6 0 1 0 -9.2 0M706.1 333.6a4.6 4.6 0 1 0 9.2 0a4.6 4.6 0 1 0 -9.2 0M714.4 332.3a4.6 4.6 0 1 0 9.2 0a4.6 4.6 0 1 0 -9.2 0M722.7 331.0a4.6 4.6 0 1 0 9.2 0a4.6 4.6 0 1 0 -9.2 0M731.0 329.7a4.6 4.6 0 1 0 9.2 0a4.6 4.6 0 1 0 -9.2 0M739.3 328.5a4.6 4.6 0 1 0 9.2 0a4.6 4.6 0 1 0 -9.2 0M747.6 327.3a4.6 4.6 0 1 0 9.2 0a4.6 4.6 0 1 0 -9.2 0M755.9 326.1a4.6 4.6 0 1 0 9.2 0a4.6 4.6 0 1 0 -9.2 0M764.2 324.9a4.6 4.6 0 1 0 9.2 0a4.6 4.6 0 1 0 -9.2 0M772.5 323.8a4.6 4.6 0 1 0 9.2 0a4.6 4.6 0 1 0 -9.2 0M780.8 322.7a4.6 4.6 0 1 0 9.2 0a4.6 4.6 0 1 0 -9.2 0" fill="#0000ff"/>
<polyline points="569.6,374.4 570.7,374.3 571.8,374.2 572.9,374.1 574.0,374.0 575.1,373.8 576.2,373.7 577.3,373.5 578.4,373.3 579.5,373.1 580.6,372.9 581.7,372.6 582.8,372.3 583.9,372.0 585.0,371.8 586.1,371.5 587.2,371.3 588.3,371.0 589.4,370.8 590.5,370.6 591.6,370.3 592.7,370.1 593.8,369.9 594.9,369.6 596.0,369.4 597.1,369.2 598.2,369.0 599.3,368.8 600.4,368.5 601.5,368.3 602.6,368.1 603.7,367.9 604.8,367.7 605.9,367.5 607.0,367.3 608.1,367.1 609.2,366.9 610.3,366.7 611.4,366.5 612.5,366.3 613.6,366.1 614.7,365.9 615.8,365.7 616.9,365.5 618.0,365.3 619.1,365.1 620.2,364.9 621.3,364.7 622.4,364.5 623.5,364.3 624.6,364.1 625.7,363.9 626.8,363.7 627.9,363.5 629.0,363.3 630.1,363.2 631.2,363.0 632.3,362.8 633.4,362.6 634.5,362.4 635.6,362.2 636.7,362.1 637.8,361.9 638.9,361.7 640.0,361.5 641.1,361.3 642.2,361.2 643.3,361.0 644.4,360.8 645.5,360.6 646.6,360.4 647.7,360.3 648.8,360.1 649.9,359.9 651.0,359.7 652.1,359.6 653.2,359.4 654.3,359.2 655.4,359.1 656.5,358.9 657.6,358.7 658.7,358.5 659.8,358.4 660.9,358.2 662.0,358.0 663.1,357.9 664.2,357.7 665.3,357.5 666.4,357.4 667.5,357.2 668.6,357.0 669.7,356.9 670.8,356.7 671.9,356.6 673.0,356.4 674.1,356.2 675.2,356.1 676.3,355.9 677.4,355.7 678.5,355.6 679.6,355.4 680.7,355.3 681.8,355.1 682.9,354.9 684.0,354.8 685.1,354.6 686.2,354.5 687.3,354.3 688.4,354.2 689.5,354.0 690.6,353.9 691.7,353.7 692.8,353.5 693.9,353.4 695.0,353.2 696.1,353.1 697.2,352.9 698.3,352.8 699.4,352.6 700.5,352.5 701.6,352.3 702.7,352.2 703.8,352.0 704.9,351.9 706.0,351.7 707.1,351.6 708.2,351.4 709.3,351.3 710.4,351.1 711.5,351.0 712.6,350.8 713.7,350.7 714.8,350.5 715.9,350.4 717.0,350.2 718.1,350.1 719.2,350.0 720.3,349.8 721.4,349.7 722.5,349.5 723.6,349.4 724.7,349.2 725.8,349.1 726.9,349.0 728.0,348.8 729.1,348.7 730.2,348.5 731.3,348.4 732.4,348.2 733.5,348.1 734.6,348.0 735.7,347.8 736.8,347.7 737.9,347.5 739.0,347.4 740.1,347.3 741.2,347.1 742.3,347.0 743.4,346.9 744.5,346.7 745.6,346.6 746.7,346.4 747.8,346.3 748.9,346.2 750.0,346.0 751.1,345.9 752.2,345.8 753.3,345.6 754.4,345.5 755.5,345.4 756.6,345.2 757.7,345.1 758.8,345.0 759.9,344.8 761.0,344.7 762.1,344.6 763.2,344.4 764.3,344.3 765.4,344.2 766.5,344.0 767.6,343.9 768.7,343.8 769.8,343.6 770.9,343.5 772.0,343.4 773.1,343.3 774.2,343.1 775.3,343.0 776.4,342.9 777.5,342.7 778.6,342.6 779.7,342.5 780.8,342.4 781.9,342.2 783.0,342.1 784.1,342.0 785.2,341.9 786.3,341.7 787.4,341.6 788.5,341.5" fill="none" stroke="#00c800" stroke-width="7" stroke-linejoin="round"/>
<g stroke="#00c800" stroke-width="1.6" stroke-linejoin="round">
<path d="M569.6 369.0L565.3 378.3L573.9 378.3ZM577.9 368.0L573.6 377.3L582.2 377.3ZM586.2 366.1L581.9 375.4L590.5 375.4ZM594.5 364.3L590.2 373.6L598.8 373.6ZM602.8 362.7L598.5 372.0L607.1 372.0ZM611.1 361.1L606.8 370.4L615.4 370.4ZM619.4 359.6L615.1 368.9L623.7 368.9ZM627.7 358.2L623.4 367.5L632.0 367.5ZM636.0 356.8L631.7 366.1L640.3 366.1ZM644.3 355.4L640.0 364.7L648.6 364.7ZM652.6 354.1L648.3 363.4L656.9 363.4ZM660.9 352.8L656.6 362.1L665.2 362.1ZM669.2 351.6L664.9 360.9L673.5 360.9ZM677.5 350.3L673.2 359.6L681.8 359.6ZM685.8 349.1L681.5 358.4L690.1 358.4ZM694.1 348.0L689.8 357.3L698.4 357.3ZM702.4 346.8L698.1 356.1L706.7 356.1ZM710.7 345.7L706.4 355.0L715.0 355.0ZM719.0 344.6L714.7 353.9L723.3 353.9ZM727.3 343.5L723.0 352.8L731.6 352.8ZM735.6 342.4L731.3 351.7L739.9 351.7ZM743.9 341.4L739.6 350.7L748.2 350.7ZM752.2 340.4L747.9 349.7L756.5 349.7ZM760.5 339.4L756.2 348.7L764.8 348.7ZM768.8 338.4L764.5 347.7L773.1 347.7ZM777.1 337.4L772.8 346.7L781.4 346.7ZM785.4 336.4L781.1 345.7L789.7 345.7Z" fill="#00c800"/>
</g>
</g>
<rect x="563.2" y="274" width="226.2" height="189.8" stroke="#000" stroke-width="3.2" fill="none"/>
<text x="569.6" y="488.6" font-size="21.8" text-anchor="middle">0</text>
<text x="612.1" y="488.6" font-size="21.8" text-anchor="middle">2</text>
<text x="654.6" y="488.6" font-size="21.8" text-anchor="middle">4</text>
<text x="697.1" y="488.6" font-size="21.8" text-anchor="middle">6</text>
<text x="739.6" y="488.6" font-size="21.8" text-anchor="middle">8</text>
<text x="782.1" y="488.6" font-size="21.8" text-anchor="middle">10</text>
<text x="556.5" y="317.3" font-size="21.8" text-anchor="end">0.1</text>
<text x="556.5" y="361" font-size="21.8" text-anchor="end">0.0</text>
<text x="556.5" y="404.7" font-size="21.8" text-anchor="end">-0.1</text>
<text x="556.5" y="448.4" font-size="21.8" text-anchor="end">-0.2</text>
<text x="676" y="516.5" font-size="24.5" text-anchor="middle">Depth (nm)</text>
<text x="490.3" y="366.7" font-size="25.5" text-anchor="middle" textLength="222.8" lengthAdjust="spacingAndGlyphs" transform="rotate(-90 490.3 366.7)">Energy from <tspan font-style="italic">E</tspan><tspan font-size="17" dy="4">F</tspan><tspan dy="-4"> (eV)</tspan></text>
<text x="714" y="313.8" font-size="21.8" fill="#0000ff">-50 V</text>
<text x="737.5" y="378" font-size="21.8" fill="#00c800">0 V</text>
<line x1="229.8" y1="557.3" x2="229.8" y2="573.3" stroke="#000" stroke-width="1.6"/>
<line x1="229.8" y1="1087.6" x2="229.8" y2="1071.6" stroke="#000" stroke-width="1.6"/>
<line x1="352.4" y1="557.3" x2="352.4" y2="573.3" stroke="#000" stroke-width="1.6"/>
<line x1="352.4" y1="1087.6" x2="352.4" y2="1071.6" stroke="#000" stroke-width="1.6"/>
<line x1="475" y1="557.3" x2="475" y2="573.3" stroke="#000" stroke-width="1.6"/>
<line x1="475" y1="1087.6" x2="475" y2="1071.6" stroke="#000" stroke-width="1.6"/>
<line x1="597.6" y1="557.3" x2="597.6" y2="573.3" stroke="#000" stroke-width="1.6"/>
<line x1="597.6" y1="1087.6" x2="597.6" y2="1071.6" stroke="#000" stroke-width="1.6"/>
<line x1="720.2" y1="557.3" x2="720.2" y2="573.3" stroke="#000" stroke-width="1.6"/>
<line x1="720.2" y1="1087.6" x2="720.2" y2="1071.6" stroke="#000" stroke-width="1.6"/>
<line x1="842.8" y1="557.3" x2="842.8" y2="573.3" stroke="#000" stroke-width="1.6"/>
<line x1="842.8" y1="1087.6" x2="842.8" y2="1071.6" stroke="#000" stroke-width="1.6"/>
<line x1="219.9" y1="610.7" x2="235.9" y2="610.7" stroke="#000" stroke-width="1.6"/>
<line x1="852.4" y1="610.7" x2="836.4" y2="610.7" stroke="#000" stroke-width="1.6"/>
<line x1="219.9" y1="727.3" x2="235.9" y2="727.3" stroke="#000" stroke-width="1.6"/>
<line x1="852.4" y1="727.3" x2="836.4" y2="727.3" stroke="#000" stroke-width="1.6"/>
<line x1="219.9" y1="844" x2="235.9" y2="844" stroke="#000" stroke-width="1.6"/>
<line x1="852.4" y1="844" x2="836.4" y2="844" stroke="#000" stroke-width="1.6"/>
<line x1="219.9" y1="960.6" x2="235.9" y2="960.6" stroke="#000" stroke-width="1.6"/>
<line x1="852.4" y1="960.6" x2="836.4" y2="960.6" stroke="#000" stroke-width="1.6"/>
<line x1="219.9" y1="1077.3" x2="235.9" y2="1077.3" stroke="#000" stroke-width="1.6"/>
<line x1="852.4" y1="1077.3" x2="836.4" y2="1077.3" stroke="#000" stroke-width="1.6"/>
<clipPath id="cb"><rect x="219.9" y="557.3" width="632.5" height="530.3"/></clipPath>
<g clip-path="url(#cb)">
<polyline points="229.8,566.6 232.2,579.9 234.6,602.8 237.0,642.7 239.4,685.8 241.8,720.4 244.2,748.1 246.6,772.1 249.0,792.0 251.3,809.5 253.7,824.6 256.1,838.2 258.5,850.1 260.9,861.4 263.3,872.8 265.7,884.1 268.1,894.7 270.5,904.5 272.9,914.0 275.3,923.0 277.7,931.5 280.1,939.1 282.5,945.8 284.9,951.7 287.3,957.2 289.6,962.2 292.0,966.8 294.4,971.2 296.8,975.4 299.2,979.4 301.6,983.2 304.0,986.6 306.4,989.8 308.8,992.7 311.2,995.3 313.6,997.8 316.0,1000.2 318.4,1002.5 320.8,1004.8 323.2,1007.2 325.6,1009.5 327.9,1011.7 330.3,1013.8 332.7,1015.7 335.1,1017.4 337.5,1019.0 339.9,1020.5 342.3,1022.0 344.7,1023.3 347.1,1024.6 349.5,1025.9 351.9,1027.1 354.3,1028.3 356.7,1029.4 359.1,1030.6 361.5,1031.7 363.9,1032.8 366.2,1033.9 368.6,1034.9 371.0,1035.9 373.4,1036.9 375.8,1037.8 378.2,1038.7 380.6,1039.6 383.0,1040.5 385.4,1041.3 387.8,1042.1 390.2,1042.9 392.6,1043.7 395.0,1044.4 397.4,1045.1 399.8,1045.8 402.2,1046.5 404.5,1047.2 406.9,1047.8 409.3,1048.4 411.7,1049.0 414.1,1049.6 416.5,1050.1 418.9,1050.7 421.3,1051.2 423.7,1051.7 426.1,1052.2 428.5,1052.6 430.9,1053.1 433.3,1053.6 435.7,1054.0 438.1,1054.5 440.5,1054.9 442.8,1055.3 445.2,1055.7 447.6,1056.1 450.0,1056.5 452.4,1056.8 454.8,1057.2 457.2,1057.5 459.6,1057.9 462.0,1058.2 464.4,1058.5 466.8,1058.8 469.2,1059.0 471.6,1059.3 474.0,1059.6 476.4,1059.8 478.8,1060.1 481.1,1060.3 483.5,1060.6 485.9,1060.8 488.3,1061.0 490.7,1061.2 493.1,1061.5 495.5,1061.7 497.9,1061.9 500.3,1062.1 502.7,1062.3 505.1,1062.4 507.5,1062.6 509.9,1062.8 512.3,1063.0 514.7,1063.2 517.1,1063.3 519.4,1063.5 521.8,1063.6 524.2,1063.8 526.6,1063.9 529.0,1064.1 531.4,1064.2 533.8,1064.3 536.2,1064.5 538.6,1064.6 541.0,1064.7 543.4,1064.8 545.8,1065.0 548.2,1065.1 550.6,1065.2 553.0,1065.3 555.4,1065.4 557.7,1065.5 560.1,1065.6 562.5,1065.7 564.9,1065.9 567.3,1066.0 569.7,1066.1 572.1,1066.2 574.5,1066.3 576.9,1066.4 579.3,1066.5 581.7,1066.6 584.1,1066.7 586.5,1066.8 588.9,1066.9 591.3,1067.0 593.7,1067.1 596.0,1067.2 598.4,1067.3 600.8,1067.4 603.2,1067.5 605.6,1067.6 608.0,1067.7 610.4,1067.8 612.8,1067.9 615.2,1068.0 617.6,1068.1 620.0,1068.2 622.4,1068.3 624.8,1068.4 627.2,1068.5 629.6,1068.6 632.0,1068.6 634.3,1068.7 636.7,1068.8 639.1,1068.9 641.5,1069.0 643.9,1069.1 646.3,1069.1 648.7,1069.2 651.1,1069.3 653.5,1069.3 655.9,1069.4 658.3,1069.5 660.7,1069.5 663.1,1069.6 665.5,1069.7 667.9,1069.7 670.3,1069.8 672.6,1069.9 675.0,1069.9 677.4,1070.0 679.8,1070.0 682.2,1070.1 684.6,1070.2 687.0,1070.2 689.4,1070.3 691.8,1070.3 694.2,1070.4 696.6,1070.4 699.0,1070.5 701.4,1070.5 703.8,1070.6 706.2,1070.6 708.6,1070.7 710.9,1070.7 713.3,1070.8 715.7,1070.8 718.1,1070.8 720.5,1070.9 722.9,1070.9 725.3,1071.0 727.7,1071.0 730.1,1071.0 732.5,1071.1 734.9,1071.1 737.3,1071.1 739.7,1071.2 742.1,1071.2 744.5,1071.3 746.9,1071.3 749.2,1071.3 751.6,1071.4 754.0,1071.4 756.4,1071.4 758.8,1071.4 761.2,1071.5 763.6,1071.5 766.0,1071.5 768.4,1071.6 770.8,1071.6 773.2,1071.6 775.6,1071.6 778.0,1071.7 780.4,1071.7 782.8,1071.7 785.2,1071.7 787.5,1071.8 789.9,1071.8 792.3,1071.8 794.7,1071.8 797.1,1071.8 799.5,1071.9 801.9,1071.9 804.3,1071.9 806.7,1071.9 809.1,1071.9 811.5,1072.0 813.9,1072.0 816.3,1072.0 818.7,1072.0 821.1,1072.0 823.5,1072.1 825.8,1072.1 828.2,1072.1 830.6,1072.1 833.0,1072.1 835.4,1072.1 837.8,1072.1 840.2,1072.2 842.6,1072.2" fill="none" stroke="#0000ff" stroke-width="2.5" stroke-linejoin="round"/>
<path d="M222.8 566.6a7 7 0 1 0 14 0a7 7 0 1 0 -14 0M225.2 579.9a7 7 0 1 0 14 0a7 7 0 1 0 -14 0M227.6 602.8a7 7 0 1 0 14 0a7 7 0 1 0 -14 0M230.0 642.7a7 7 0 1 0 14 0a7 7 0 1 0 -14 0M232.4 685.8a7 7 0 1 0 14 0a7 7 0 1 0 -14 0M234.8 720.4a7 7 0 1 0 14 0a7 7 0 1 0 -14 0M237.2 748.1a7 7 0 1 0 14 0a7 7 0 1 0 -14 0M239.6 772.1a7 7 0 1 0 14 0a7 7 0 1 0 -14 0M242.0 792.0a7 7 0 1 0 14 0a7 7 0 1 0 -14 0M244.3 809.5a7 7 0 1 0 14 0a7 7 0 1 0 -14 0M246.7 824.6a7 7 0 1 0 14 0a7 7 0 1 0 -14 0M249.1 838.2a7 7 0 1 0 14 0a7 7 0 1 0 -14 0M251.5 850.1a7 7 0 1 0 14 0a7 7 0 1 0 -14 0M253.9 861.4a7 7 0 1 0 14 0a7 7 0 1 0 -14 0M256.3 872.8a7 7 0 1 0 14 0a7 7 0 1 0 -14 0M258.7 884.1a7 7 0 1 0 14 0a7 7 0 1 0 -14 0M261.1 894.7a7 7 0 1 0 14 0a7 7 0 1 0 -14 0M263.5 904.5a7 7 0 1 0 14 0a7 7 0 1 0 -14 0M265.9 914.0a7 7 0 1 0 14 0a7 7 0 1 0 -14 0M268.3 923.0a7 7 0 1 0 14 0a7 7 0 1 0 -14 0M270.7 931.5a7 7 0 1 0 14 0a7 7 0 1 0 -14 0M273.1 939.1a7 7 0 1 0 14 0a7 7 0 1 0 -14 0M275.5 945.8a7 7 0 1 0 14 0a7 7 0 1 0 -14 0M277.9 951.7a7 7 0 1 0 14 0a7 7 0 1 0 -14 0M280.3 957.2a7 7 0 1 0 14 0a7 7 0 1 0 -14 0M282.6 962.2a7 7 0 1 0 14 0a7 7 0 1 0 -14 0M285.0 966.8a7 7 0 1 0 14 0a7 7 0 1 0 -14 0M287.4 971.2a7 7 0 1 0 14 0a7 7 0 1 0 -14 0M289.8 975.4a7 7 0 1 0 14 0a7 7 0 1 0 -14 0M292.2 979.4a7 7 0 1 0 14 0a7 7 0 1 0 -14 0M294.6 983.2a7 7 0 1 0 14 0a7 7 0 1 0 -14 0M297.0 986.6a7 7 0 1 0 14 0a7 7 0 1 0 -14 0M299.4 989.8a7 7 0 1 0 14 0a7 7 0 1 0 -14 0M301.8 992.7a7 7 0 1 0 14 0a7 7 0 1 0 -14 0M304.2 995.3a7 7 0 1 0 14 0a7 7 0 1 0 -14 0M306.6 997.8a7 7 0 1 0 14 0a7 7 0 1 0 -14 0M309.0 1000.2a7 7 0 1 0 14 0a7 7 0 1 0 -14 0M311.4 1002.5a7 7 0 1 0 14 0a7 7 0 1 0 -14 0M313.8 1004.8a7 7 0 1 0 14 0a7 7 0 1 0 -14 0M316.2 1007.2a7 7 0 1 0 14 0a7 7 0 1 0 -14 0M318.6 1009.5a7 7 0 1 0 14 0a7 7 0 1 0 -14 0M320.9 1011.7a7 7 0 1 0 14 0a7 7 0 1 0 -14 0M323.3 1013.8a7 7 0 1 0 14 0a7 7 0 1 0 -14 0M325.7 1015.7a7 7 0 1 0 14 0a7 7 0 1 0 -14 0M328.1 1017.4a7 7 0 1 0 14 0a7 7 0 1 0 -14 0M330.5 1019.0a7 7 0 1 0 14 0a7 7 0 1 0 -14 0M332.9 1020.5a7 7 0 1 0 14 0a7 7 0 1 0 -14 0M335.3 1022.0a7 7 0 1 0 14 0a7 7 0 1 0 -14 0M337.7 1023.3a7 7 0 1 0 14 0a7 7 0 1 0 -14 0M340.1 1024.6a7 7 0 1 0 14 0a7 7 0 1 0 -14 0M342.5 1025.9a7 7 0 1 0 14 0a7 7 0 1 0 -14 0M344.9 1027.1a7 7 0 1 0 14 0a7 7 0 1 0 -14 0M347.3 1028.3a7 7 0 1 0 14 0a7 7 0 1 0 -14 0M349.7 1029.4a7 7 0 1 0 14 0a7 7 0 1 0 -14 0M352.1 1030.6a7 7 0 1 0 14 0a7 7 0 1 0 -14 0M354.5 1031.7a7 7 0 1 0 14 0a7 7 0 1 0 -14 0M356.9 1032.8a7 7 0 1 0 14 0a7 7 0 1 0 -14 0M359.2 1033.9a7 7 0 1 0 14 0a7 7 0 1 0 -14 0M361.6 1034.9a7 7 0 1 0 14 0a7 7 0 1 0 -14 0M364.0 1035.9a7 7 0 1 0 14 0a7 7 0 1 0 -14 0M366.4 1036.9a7 7 0 1 0 14 0a7 7 0 1 0 -14 0M368.8 1037.8a7 7 0 1 0 14 0a7 7 0 1 0 -14 0M371.2 1038.7a7 7 0 1 0 14 0a7 7 0 1 0 -14 0M373.6 1039.6a7 7 0 1 0 14 0a7 7 0 1 0 -14 0M376.0 1040.5a7 7 0 1 0 14 0a7 7 0 1 0 -14 0M378.4 1041.3a7 7 0 1 0 14 0a7 7 0 1 0 -14 0M380.8 1042.1a7 7 0 1 0 14 0a7 7 0 1 0 -14 0M383.2 1042.9a7 7 0 1 0 14 0a7 7 0 1 0 -14 0M385.6 1043.7a7 7 0 1 0 14 0a7 7 0 1 0 -14 0M388.0 1044.4a7 7 0 1 0 14 0a7 7 0 1 0 -14 0M390.4 1045.1a7 7 0 1 0 14 0a7 7 0 1 0 -14 0M392.8 1045.8a7 7 0 1 0 14 0a7 7 0 1 0 -14 0M395.2 1046.5a7 7 0 1 0 14 0a7 7 0 1 0 -14 0M397.5 1047.2a7 7 0 1 0 14 0a7 7 0 1 0 -14 0M399.9 1047.8a7 7 0 1 0 14 0a7 7 0 1 0 -14 0M402.3 1048.4a7 7 0 1 0 14 0a7 7 0 1 0 -14 0M404.7 1049.0a7 7 0 1 0 14 0a7 7 0 1 0 -14 0M407.1 1049.6a7 7 0 1 0 14 0a7 7 0 1 0 -14 0M409.5 1050.1a7 7 0 1 0 14 0a7 7 0 1 0 -14 0M411.9 1050.7a7 7 0 1 0 14 0a7 7 0 1 0 -14 0M414.3 1051.2a7 7 0 1 0 14 0a7 7 0 1 0 -14 0M416.7 1051.7a7 7 0 1 0 14 0a7 7 0 1 0 -14 0M419.1 1052.2a7 7 0 1 0 14 0a7 7 0 1 0 -14 0M421.5 1052.6a7 7 0 1 0 14 0a7 7 0 1 0 -14 0M423.9 1053.1a7 7 0 1 0 14 0a7 7 0 1 0 -14 0M426.3 1053.6a7 7 0 1 0 14 0a7 7 0 1 0 -14 0M428.7 1054.0a7 7 0 1 0 14 0a7 7 0 1 0 -14 0M431.1 1054.5a7 7 0 1 0 14 0a7 7 0 1 0 -14 0M433.5 1054.9a7 7 0 1 0 14 0a7 7 0 1 0 -14 0M435.8 1055.3a7 7 0 1 0 14 0a7 7 0 1 0 -14 0M438.2 1055.7a7 7 0 1 0 14 0a7 7 0 1 0 -14 0M440.6 1056.1a7 7 0 1 0 14 0a7 7 0 1 0 -14 0M443.0 1056.5a7 7 0 1 0 14 0a7 7 0 1 0 -14 0M445.4 1056.8a7 7 0 1 0 14 0a7 7 0 1 0 -14 0M447.8 1057.2a7 7 0 1 0 14 0a7 7 0 1 0 -14 0M450.2 1057.5a7 7 0 1 0 14 0a7 7 0 1 0 -14 0M452.6 1057.9a7 7 0 1 0 14 0a7 7 0 1 0 -14 0M455.0 1058.2a7 7 0 1 0 14 0a7 7 0 1 0 -14 0M457.4 1058.5a7 7 0 1 0 14 0a7 7 0 1 0 -14 0M459.8 1058.8a7 7 0 1 0 14 0a7 7 0 1 0 -14 0M462.2 1059.0a7 7 0 1 0 14 0a7 7 0 1 0 -14 0M464.6 1059.3a7 7 0 1 0 14 0a7 7 0 1 0 -14 0M467.0 1059.6a7 7 0 1 0 14 0a7 7 0 1 0 -14 0M469.4 1059.8a7 7 0 1 0 14 0a7 7 0 1 0 -14 0M471.8 1060.1a7 7 0 1 0 14 0a7 7 0 1 0 -14 0M474.1 1060.3a7 7 0 1 0 14 0a7 7 0 1 0 -14 0M476.5 1060.6a7 7 0 1 0 14 0a7 7 0 1 0 -14 0M478.9 1060.8a7 7 0 1 0 14 0a7 7 0 1 0 -14 0M481.3 1061.0a7 7 0 1 0 14 0a7 7 0 1 0 -14 0M483.7 1061.2a7 7 0 1 0 14 0a7 7 0 1 0 -14 0M486.1 1061.5a7 7 0 1 0 14 0a7 7 0 1 0 -14 0M488.5 1061.7a7 7 0 1 0 14 0a7 7 0 1 0 -14 0M490.9 1061.9a7 7 0 1 0 14 0a7 7 0 1 0 -14 0M493.3 1062.1a7 7 0 1 0 14 0a7 7 0 1 0 -14 0M495.7 1062.3a7 7 0 1 0 14 0a7 7 0 1 0 -14 0M498.1 1062.4a7 7 0 1 0 14 0a7 7 0 1 0 -14 0M500.5 1062.6a7 7 0 1 0 14 0a7 7 0 1 0 -14 0M502.9 1062.8a7 7 0 1 0 14 0a7 7 0 1 0 -14 0M505.3 1063.0a7 7 0 1 0 14 0a7 7 0 1 0 -14 0M507.7 1063.2a7 7 0 1 0 14 0a7 7 0 1 0 -14 0M510.1 1063.3a7 7 0 1 0 14 0a7 7 0 1 0 -14 0M512.4 1063.5a7 7 0 1 0 14 0a7 7 0 1 0 -14 0M514.8 1063.6a7 7 0 1 0 14 0a7 7 0 1 0 -14 0M517.2 1063.8a7 7 0 1 0 14 0a7 7 0 1 0 -14 0M519.6 1063.9a7 7 0 1 0 14 0a7 7 0 1 0 -14 0M522.0 1064.1a7 7 0 1 0 14 0a7 7 0 1 0 -14 0M524.4 1064.2a7 7 0 1 0 14 0a7 7 0 1 0 -14 0M526.8 1064.3a7 7 0 1 0 14 0a7 7 0 1 0 -14 0M529.2 1064.5a7 7 0 1 0 14 0a7 7 0 1 0 -14 0M531.6 1064.6a7 7 0 1 0 14 0a7 7 0 1 0 -14 0M534.0 1064.7a7 7 0 1 0 14 0a7 7 0 1 0 -14 0M536.4 1064.8a7 7 0 1 0 14 0a7 7 0 1 0 -14 0M538.8 1065.0a7 7 0 1 0 14 0a7 7 0 1 0 -14 0M541.2 1065.1a7 7 0 1 0 14 0a7 7 0 1 0 -14 0M543.6 1065.2a7 7 0 1 0 14 0a7 7 0 1 0 -14 0M546.0 1065.3a7 7 0 1 0 14 0a7 7 0 1 0 -14 0M548.4 1065.4a7 7 0 1 0 14 0a7 7 0 1 0 -14 0M550.7 1065.5a7 7 0 1 0 14 0a7 7 0 1 0 -14 0M553.1 1065.6a7 7 0 1 0 14 0a7 7 0 1 0 -14 0M555.5 1065.7a7 7 0 1 0 14 0a7 7 0 1 0 -14 0M557.9 1065.9a7 7 0 1 0 14 0a7 7 0 1 0 -14 0M560.3 1066.0a7 7 0 1 0 14 0a7 7 0 1 0 -14 0M562.7 1066.1a7 7 0 1 0 14 0a7 7 0 1 0 -14 0M565.1 1066.2a7 7 0 1 0 14 0a7 7 0 1 0 -14 0M567.5 1066.3a7 7 0 1 0 14 0a7 7 0 1 0 -14 0M569.9 1066.4a7 7 0 1 0 14 0a7 7 0 1 0 -14 0M572.3 1066.5a7 7 0 1 0 14 0a7 7 0 1 0 -14 0M574.7 1066.6a7 7 0 1 0 14 0a7 7 0 1 0 -14 0M577.1 1066.7a7 7 0 1 0 14 0a7 7 0 1 0 -14 0M579.5 1066.8a7 7 0 1 0 14 0a7 7 0 1 0 -14 0M581.9 1066.9a7 7 0 1 0 14 0a7 7 0 1 0 -14 0M584.3 1067.0a7 7 0 1 0 14 0a7 7 0 1 0 -14 0M586.7 1067.1a7 7 0 1 0 14 0a7 7 0 1 0 -14 0M589.0 1067.2a7 7 0 1 0 14 0a7 7 0 1 0 -14 0M591.4 1067.3a7 7 0 1 0 14 0a7 7 0 1 0 -14 0M593.8 1067.4a7 7 0 1 0 14 0a7 7 0 1 0 -14 0M596.2 1067.5a7 7 0 1 0 14 0a7 7 0 1 0 -14 0M598.6 1067.6a7 7 0 1 0 14 0a7 7 0 1 0 -14 0M601.0 1067.7a7 7 0 1 0 14 0a7 7 0 1 0 -14 0M603.4 1067.8a7 7 0 1 0 14 0a7 7 0 1 0 -14 0M605.8 1067.9a7 7 0 1 0 14 0a7 7 0 1 0 -14 0M608.2 1068.0a7 7 0 1 0 14 0a7 7 0 1 0 -14 0M610.6 1068.1a7 7 0 1 0 14 0a7 7 0 1 0 -14 0M613.0 1068.2a7 7 0 1 0 14 0a7 7 0 1 0 -14 0M615.4 1068.3a7 7 0 1 0 14 0a7 7 0 1 0 -14 0M617.8 1068.4a7 7 0 1 0 14 0a7 7 0 1 0 -14 0M620.2 1068.5a7 7 0 1 0 14 0a7 7 0 1 0 -14 0M622.6 1068.6a7 7 0 1 0 14 0a7 7 0 1 0 -14 0M625.0 1068.6a7 7 0 1 0 14 0a7 7 0 1 0 -14 0M627.3 1068.7a7 7 0 1 0 14 0a7 7 0 1 0 -14 0M629.7 1068.8a7 7 0 1 0 14 0a7 7 0 1 0 -14 0M632.1 1068.9a7 7 0 1 0 14 0a7 7 0 1 0 -14 0M634.5 1069.0a7 7 0 1 0 14 0a7 7 0 1 0 -14 0M636.9 1069.1a7 7 0 1 0 14 0a7 7 0 1 0 -14 0M639.3 1069.1a7 7 0 1 0 14 0a7 7 0 1 0 -14 0M641.7 1069.2a7 7 0 1 0 14 0a7 7 0 1 0 -14 0M644.1 1069.3a7 7 0 1 0 14 0a7 7 0 1 0 -14 0M646.5 1069.3a7 7 0 1 0 14 0a7 7 0 1 0 -14 0M648.9 1069.4a7 7 0 1 0 14 0a7 7 0 1 0 -14 0M651.3 1069.5a7 7 0 1 0 14 0a7 7 0 1 0 -14 0M653.7 1069.5a7 7 0 1 0 14 0a7 7 0 1 0 -14 0M656.1 1069.6a7 7 0 1 0 14 0a7 7 0 1 0 -14 0M658.5 1069.7a7 7 0 1 0 14 0a7 7 0 1 0 -14 0M660.9 1069.7a7 7 0 1 0 14 0a7 7 0 1 0 -14 0M663.3 1069.8a7 7 0 1 0 14 0a7 7 0 1 0 -14 0M665.6 1069.9a7 7 0 1 0 14 0a7 7 0 1 0 -14 0M668.0 1069.9a7 7 0 1 0 14 0a7 7 0 1 0 -14 0M670.4 1070.0a7 7 0 1 0 14 0a7 7 0 1 0 -14 0M672.8 1070.0a7 7 0 1 0 14 0a7 7 0 1 0 -14 0M675.2 1070.1a7 7 0 1 0 14 0a7 7 0 1 0 -14 0M677.6 1070.2a7 7 0 1 0 14 0a7 7 0 1 0 -14 0M680.0 1070.2a7 7 0 1 0 14 0a7 7 0 1 0 -14 0M682.4 1070.3a7 7 0 1 0 14 0a7 7 0 1 0 -14 0M684.8 1070.3a7 7 0 1 0 14 0a7 7 0 1 0 -14 0M687.2 1070.4a7 7 0 1 0 14 0a7 7 0 1 0 -14 0M689.6 1070.4a7 7 0 1 0 14 0a7 7 0 1 0 -14 0M692.0 1070.5a7 7 0 1 0 14 0a7 7 0 1 0 -14 0M694.4 1070.5a7 7 0 1 0 14 0a7 7 0 1 0 -14 0M696.8 1070.6a7 7 0 1 0 14 0a7 7 0 1 0 -14 0M699.2 1070.6a7 7 0 1 0 14 0a7 7 0 1 0 -14 0M701.6 1070.7a7 7 0 1 0 14 0a7 7 0 1 0 -14 0M703.9 1070.7a7 7 0 1 0 14 0a7 7 0 1 0 -14 0M706.3 1070.8a7 7 0 1 0 14 0a7 7 0 1 0 -14 0M708.7 1070.8a7 7 0 1 0 14 0a7 7 0 1 0 -14 0M711.1 1070.8a7 7 0 1 0 14 0a7 7 0 1 0 -14 0M713.5 1070.9a7 7 0 1 0 14 0a7 7 0 1 0 -14 0M715.9 1070.9a7 7 0 1 0 14 0a7 7 0 1 0 -14 0M718.3 1071.0a7 7 0 1 0 14 0a7 7 0 1 0 -14 0M720.7 1071.0a7 7 0 1 0 14 0a7 7 0 1 0 -14 0M723.1 1071.0a7 7 0 1 0 14 0a7 7 0 1 0 -14 0M725.5 1071.1a7 7 0 1 0 14 0a7 7 0 1 0 -14 0M727.9 1071.1a7 7 0 1 0 14 0a7 7 0 1 0 -14 0M730.3 1071.1a7 7 0 1 0 14 0a7 7 0 1 0 -14 0M732.7 1071.2a7 7 0 1 0 14 0a7 7 0 1 0 -14 0M735.1 1071.2a7 7 0 1 0 14 0a7 7 0 1 0 -14 0M737.5 1071.3a7 7 0 1 0 14 0a7 7 0 1 0 -14 0M739.9 1071.3a7 7 0 1 0 14 0a7 7 0 1 0 -14 0M742.2 1071.3a7 7 0 1 0 14 0a7 7 0 1 0 -14 0M744.6 1071.4a7 7 0 1 0 14 0a7 7 0 1 0 -14 0M747.0 1071.4a7 7 0 1 0 14 0a7 7 0 1 0 -14 0M749.4 1071.4a7 7 0 1 0 14 0a7 7 0 1 0 -14 0M751.8 1071.4a7 7 0 1 0 14 0a7 7 0 1 0 -14 0M754.2 1071.5a7 7 0 1 0 14 0a7 7 0 1 0 -14 0M756.6 1071.5a7 7 0 1 0 14 0a7 7 0 1 0 -14 0M759.0 1071.5a7 7 0 1 0 14 0a7 7 0 1 0 -14 0M761.4 1071.6a7 7 0 1 0 14 0a7 7 0 1 0 -14 0M763.8 1071.6a7 7 0 1 0 14 0a7 7 0 1 0 -14 0M766.2 1071.6a7 7 0 1 0 14 0a7 7 0 1 0 -14 0M768.6 1071.6a7 7 0 1 0 14 0a7 7 0 1 0 -14 0M771.0 1071.7a7 7 0 1 0 14 0a7 7 0 1 0 -14 0M773.4 1071.7a7 7 0 1 0 14 0a7 7 0 1 0 -14 0M775.8 1071.7a7 7 0 1 0 14 0a7 7 0 1 0 -14 0M778.2 1071.7a7 7 0 1 0 14 0a7 7 0 1 0 -14 0M780.5 1071.8a7 7 0 1 0 14 0a7 7 0 1 0 -14 0M782.9 1071.8a7 7 0 1 0 14 0a7 7 0 1 0 -14 0M785.3 1071.8a7 7 0 1 0 14 0a7 7 0 1 0 -14 0M787.7 1071.8a7 7 0 1 0 14 0a7 7 0 1 0 -14 0M790.1 1071.8a7 7 0 1 0 14 0a7 7 0 1 0 -14 0M792.5 1071.9a7 7 0 1 0 14 0a7 7 0 1 0 -14 0M794.9 1071.9a7 7 0 1 0 14 0a7 7 0 1 0 -14 0M797.3 1071.9a7 7 0 1 0 14 0a7 7 0 1 0 -14 0M799.7 1071.9a7 7 0 1 0 14 0a7 7 0 1 0 -14 0M802.1 1071.9a7 7 0 1 0 14 0a7 7 0 1 0 -14 0M804.5 1072.0a7 7 0 1 0 14 0a7 7 0 1 0 -14 0M806.9 1072.0a7 7 0 1 0 14 0a7 7 0 1 0 -14 0M809.3 1072.0a7 7 0 1 0 14 0a7 7 0 1 0 -14 0M811.7 1072.0a7 7 0 1 0 14 0a7 7 0 1 0 -14 0M814.1 1072.0a7 7 0 1 0 14 0a7 7 0 1 0 -14 0M816.5 1072.1a7 7 0 1 0 14 0a7 7 0 1 0 -14 0M818.8 1072.1a7 7 0 1 0 14 0a7 7 0 1 0 -14 0M821.2 1072.1a7 7 0 1 0 14 0a7 7 0 1 0 -14 0M823.6 1072.1a7 7 0 1 0 14 0a7 7 0 1 0 -14 0M826.0 1072.1a7 7 0 1 0 14 0a7 7 0 1 0 -14 0M828.4 1072.1a7 7 0 1 0 14 0a7 7 0 1 0 -14 0M830.8 1072.1a7 7 0 1 0 14 0a7 7 0 1 0 -14 0M833.2 1072.2a7 7 0 1 0 14 0a7 7 0 1 0 -14 0M835.6 1072.2a7 7 0 1 0 14 0a7 7 0 1 0 -14 0" fill="#0000ff"/>
<path d="M229.8 818.8L221.6 833.8L238.0 833.8ZM230.6 818.5L222.4 833.5L238.8 833.5ZM231.4 818.4L223.2 833.4L239.6 833.4ZM232.2 818.3L224.0 833.3L240.4 833.3ZM233.0 818.3L224.8 833.3L241.2 833.3ZM233.8 818.4L225.6 833.4L242.0 833.4ZM234.6 818.5L226.4 833.5L242.8 833.5ZM235.4 818.8L227.2 833.8L243.6 833.8ZM236.2 819.3L228.0 834.3L244.4 834.3ZM237.0 819.9L228.8 834.9L245.2 834.9ZM237.8 820.6L229.6 835.6L246.0 835.6ZM238.6 821.4L230.4 836.4L246.8 836.4ZM239.4 822.3L231.2 837.3L247.6 837.3ZM240.2 823.2L232.0 838.2L248.4 838.2ZM241.0 824.1L232.8 839.1L249.2 839.1ZM241.8 825.0L233.6 840.0L250.0 840.0ZM242.6 826.0L234.4 841.0L250.8 841.0ZM243.4 827.0L235.2 842.0L251.6 842.0ZM244.2 828.0L236.0 843.0L252.4 843.0ZM245.0 829.0L236.8 844.0L253.2 844.0ZM245.8 830.1L237.6 845.1L254.0 845.1ZM246.6 831.3L238.4 846.3L254.8 846.3ZM247.4 832.4L239.2 847.4L255.6 847.4ZM248.2 833.7L240.0 848.7L256.4 848.7ZM249.0 834.9L240.8 849.9L257.2 849.9ZM249.7 836.1L241.5 851.1L257.9 851.1ZM250.5 837.4L242.3 852.4L258.7 852.4ZM251.3 838.7L243.1 853.7L259.5 853.7ZM252.1 840.0L243.9 855.0L260.3 855.0ZM252.9 841.3L244.7 856.3L261.1 856.3ZM253.7 842.7L245.5 857.7L261.9 857.7ZM254.5 844.0L246.3 859.0L262.7 859.0ZM255.3 845.4L247.1 860.4L263.5 860.4ZM256.1 846.8L247.9 861.8L264.3 861.8ZM256.9 848.2L248.7 863.2L265.1 863.2ZM257.7 849.7L249.5 864.7L265.9 864.7ZM258.5 851.1L250.3 866.1L266.7 866.1ZM259.3 852.5L251.1 867.5L267.5 867.5ZM260.1 854.0L251.9 869.0L268.3 869.0ZM260.9 855.5L252.7 870.5L269.1 870.5ZM261.7 856.9L253.5 871.9L269.9 871.9ZM262.5 858.4L254.3 873.4L270.7 873.4ZM263.3 859.9L255.1 874.9L271.5 874.9ZM264.1 861.4L255.9 876.4L272.3 876.4ZM264.9 862.9L256.7 877.9L273.1 877.9ZM265.7 864.4L257.5 879.4L273.9 879.4ZM266.5 865.9L258.3 880.9L274.7 880.9ZM267.3 867.5L259.1 882.5L275.5 882.5ZM268.1 869.1L259.9 884.1L276.3 884.1ZM268.9 870.7L260.7 885.7L277.1 885.7ZM269.7 872.3L261.5 887.3L277.9 887.3ZM270.5 874.0L262.3 889.0L278.7 889.0ZM271.3 875.7L263.1 890.7L279.5 890.7ZM272.1 877.5L263.9 892.5L280.3 892.5ZM272.9 879.3L264.7 894.3L281.1 894.3ZM273.7 881.1L265.5 896.1L281.9 896.1ZM274.5 882.9L266.3 897.9L282.7 897.9ZM275.3 884.8L267.1 899.8L283.5 899.8ZM276.1 886.6L267.9 901.6L284.3 901.6ZM276.9 888.4L268.7 903.4L285.1 903.4ZM277.7 890.2L269.5 905.2L285.9 905.2ZM278.5 892.0L270.3 907.0L286.7 907.0ZM279.3 893.8L271.1 908.8L287.5 908.8ZM280.1 895.5L271.9 910.5L288.3 910.5ZM280.9 897.2L272.7 912.2L289.1 912.2ZM281.7 898.9L273.5 913.9L289.9 913.9ZM282.5 900.6L274.3 915.6L290.7 915.6ZM283.3 902.3L275.1 917.3L291.5 917.3ZM284.1 904.0L275.9 919.0L292.3 919.0ZM284.9 905.7L276.7 920.7L293.1 920.7ZM285.7 907.4L277.5 922.4L293.9 922.4ZM286.5 909.1L278.3 924.1L294.7 924.1ZM287.3 910.7L279.1 925.7L295.5 925.7ZM288.0 912.5L279.8 927.5L296.2 927.5ZM288.8 914.2L280.6 929.2L297.0 929.2ZM289.6 915.9L281.4 930.9L297.8 930.9ZM290.4 917.6L282.2 932.6L298.6 932.6ZM291.2 919.3L283.0 934.3L299.4 934.3ZM292.0 921.0L283.8 936.0L300.2 936.0ZM292.8 922.7L284.6 937.7L301.0 937.7ZM293.6 924.3L285.4 939.3L301.8 939.3ZM294.4 926.0L286.2 941.0L302.6 941.0ZM295.2 927.6L287.0 942.6L303.4 942.6ZM296.0 929.2L287.8 944.2L304.2 944.2ZM296.8 930.8L288.6 945.8L305.0 945.8ZM297.6 932.3L289.4 947.3L305.8 947.3ZM298.4 933.8L290.2 948.8L306.6 948.8ZM299.2 935.3L291.0 950.3L307.4 950.3ZM300.0 936.8L291.8 951.8L308.2 951.8ZM300.8 938.2L292.6 953.2L309.0 953.2ZM301.6 939.6L293.4 954.6L309.8 954.6ZM302.4 941.0L294.2 956.0L310.6 956.0ZM303.2 942.4L295.0 957.4L311.4 957.4ZM304.0 943.8L295.8 958.8L312.2 958.8ZM304.8 945.1L296.6 960.1L313.0 960.1ZM305.6 946.4L297.4 961.4L313.8 961.4ZM306.4 947.7L298.2 962.7L314.6 962.7ZM307.2 949.0L299.0 964.0L315.4 964.0ZM308.0 950.3L299.8 965.3L316.2 965.3ZM308.8 951.6L300.6 966.6L317.0 966.6ZM309.6 952.9L301.4 967.9L317.8 967.9ZM310.4 954.1L302.2 969.1L318.6 969.1ZM311.2 955.4L303.0 970.4L319.4 970.4ZM312.0 956.6L303.8 971.6L320.2 971.6ZM312.8 957.8L304.6 972.8L321.0 972.8ZM313.6 959.0L305.4 974.0L321.8 974.0ZM314.4 960.2L306.2 975.2L322.6 975.2ZM315.2 961.3L307.0 976.3L323.4 976.3ZM316.0 962.4L307.8 977.4L324.2 977.4ZM316.8 963.5L308.6 978.5L325.0 978.5ZM317.6 964.6L309.4 979.6L325.8 979.6ZM318.4 965.7L310.2 980.7L326.6 980.7ZM319.2 966.7L311.0 981.7L327.4 981.7ZM320.0 967.7L311.8 982.7L328.2 982.7ZM320.8 968.6L312.6 983.6L329.0 983.6ZM321.6 969.6L313.4 984.6L329.8 984.6ZM322.4 970.5L314.2 985.5L330.6 985.5ZM323.2 971.5L315.0 986.5L331.4 986.5ZM324.0 972.4L315.8 987.4L332.2 987.4ZM324.8 973.3L316.6 988.3L333.0 988.3ZM325.6 974.1L317.4 989.1L333.8 989.1ZM326.3 975.0L318.1 990.0L334.5 990.0ZM327.1 975.9L318.9 990.9L335.3 990.9ZM327.9 976.7L319.7 991.7L336.1 991.7ZM328.7 977.5L320.5 992.5L336.9 992.5ZM329.5 978.4L321.3 993.4L337.7 993.4ZM330.3 979.2L322.1 994.2L338.5 994.2ZM331.1 980.0L322.9 995.0L339.3 995.0ZM331.9 980.8L323.7 995.8L340.1 995.8ZM332.7 981.5L324.5 996.5L340.9 996.5ZM333.5 982.3L325.3 997.3L341.7 997.3ZM334.3 983.1L326.1 998.1L342.5 998.1ZM335.1 983.8L326.9 998.8L343.3 998.8ZM335.9 984.6L327.7 999.6L344.1 999.6ZM336.7 985.4L328.5 1000.4L344.9 1000.4ZM337.5 986.1L329.3 1001.1L345.7 1001.1ZM338.3 986.8L330.1 1001.8L346.5 1001.8ZM339.1 987.6L330.9 1002.6L347.3 1002.6ZM339.9 988.3L331.7 1003.3L348.1 1003.3ZM340.7 989.0L332.5 1004.0L348.9 1004.0ZM341.5 989.7L333.3 1004.7L349.7 1004.7ZM342.3 990.4L334.1 1005.4L350.5 1005.4ZM343.1 991.1L334.9 1006.1L351.3 1006.1ZM343.9 991.8L335.7 1006.8L352.1 1006.8ZM344.7 992.5L336.5 1007.5L352.9 1007.5ZM345.5 993.1L337.3 1008.1L353.7 1008.1ZM346.3 993.8L338.1 1008.8L354.5 1008.8ZM347.1 994.5L338.9 1009.5L355.3 1009.5ZM347.9 995.1L339.7 1010.1L356.1 1010.1ZM348.7 995.7L340.5 1010.7L356.9 1010.7ZM349.5 996.3L341.3 1011.3L357.7 1011.3ZM350.3 996.9L342.1 1011.9L358.5 1011.9ZM351.1 997.5L342.9 1012.5L359.3 1012.5ZM351.9 998.1L343.7 1013.1L360.1 1013.1ZM352.7 998.7L344.5 1013.7L360.9 1013.7ZM353.5 999.3L345.3 1014.3L361.7 1014.3ZM354.3 999.8L346.1 1014.8L362.5 1014.8ZM355.1 1000.4L346.9 1015.4L363.3 1015.4ZM355.9 1000.9L347.7 1015.9L364.1 1015.9ZM356.7 1001.5L348.5 1016.5L364.9 1016.5ZM357.5 1002.1L349.3 1017.1L365.7 1017.1ZM358.3 1002.6L350.1 1017.6L366.5 1017.6ZM359.1 1003.1L350.9 1018.1L367.3 1018.1ZM359.9 1003.7L351.7 1018.7L368.1 1018.7ZM360.7 1004.2L352.5 1019.2L368.9 1019.2ZM361.5 1004.8L353.3 1019.8L369.7 1019.8ZM362.3 1005.3L354.1 1020.3L370.5 1020.3ZM363.1 1005.8L354.9 1020.8L371.3 1020.8ZM363.9 1006.3L355.7 1021.3L372.1 1021.3ZM364.6 1006.8L356.4 1021.8L372.8 1021.8ZM365.4 1007.3L357.2 1022.3L373.6 1022.3ZM366.2 1007.8L358.0 1022.8L374.4 1022.8ZM367.0 1008.3L358.8 1023.3L375.2 1023.3ZM367.8 1008.8L359.6 1023.8L376.0 1023.8ZM368.6 1009.3L360.4 1024.3L376.8 1024.3ZM369.4 1009.8L361.2 1024.8L377.6 1024.8ZM370.2 1010.3L362.0 1025.3L378.4 1025.3ZM371.0 1010.8L362.8 1025.8L379.2 1025.8ZM371.8 1011.2L363.6 1026.2L380.0 1026.2ZM372.6 1011.7L364.4 1026.7L380.8 1026.7ZM373.4 1012.1L365.2 1027.1L381.6 1027.1ZM374.2 1012.6L366.0 1027.6L382.4 1027.6ZM375.0 1013.0L366.8 1028.0L383.2 1028.0ZM375.8 1013.5L367.6 1028.5L384.0 1028.5ZM376.6 1013.9L368.4 1028.9L384.8 1028.9ZM377.4 1014.3L369.2 1029.3L385.6 1029.3ZM378.2 1014.8L370.0 1029.8L386.4 1029.8ZM379.0 1015.2L370.8 1030.2L387.2 1030.2ZM379.8 1015.6L371.6 1030.6L388.0 1030.6ZM380.6 1016.0L372.4 1031.0L388.8 1031.0ZM381.4 1016.4L373.2 1031.4L389.6 1031.4ZM382.2 1016.8L374.0 1031.8L390.4 1031.8ZM383.0 1017.1L374.8 1032.1L391.2 1032.1ZM383.8 1017.5L375.6 1032.5L392.0 1032.5ZM384.6 1017.9L376.4 1032.9L392.8 1032.9ZM385.4 1018.2L377.2 1033.2L393.6 1033.2ZM386.2 1018.6L378.0 1033.6L394.4 1033.6ZM387.0 1018.9L378.8 1033.9L395.2 1033.9ZM387.8 1019.3L379.6 1034.3L396.0 1034.3ZM388.6 1019.6L380.4 1034.6L396.8 1034.6ZM389.4 1020.0L381.2 1035.0L397.6 1035.0ZM390.2 1020.3L382.0 1035.3L398.4 1035.3ZM391.0 1020.6L382.8 1035.6L399.2 1035.6ZM391.8 1021.0L383.6 1036.0L400.0 1036.0ZM392.6 1021.3L384.4 1036.3L400.8 1036.3ZM393.4 1021.6L385.2 1036.6L401.6 1036.6ZM394.2 1021.9L386.0 1036.9L402.4 1036.9ZM395.0 1022.2L386.8 1037.2L403.2 1037.2ZM395.8 1022.6L387.6 1037.6L404.0 1037.6ZM396.6 1022.9L388.4 1037.9L404.8 1037.9ZM397.4 1023.2L389.2 1038.2L405.6 1038.2ZM398.2 1023.5L390.0 1038.5L406.4 1038.5ZM399.0 1023.8L390.8 1038.8L407.2 1038.8ZM399.8 1024.0L391.6 1039.0L408.0 1039.0ZM400.6 1024.3L392.4 1039.3L408.8 1039.3ZM401.4 1024.6L393.2 1039.6L409.6 1039.6ZM402.2 1024.9L394.0 1039.9L410.4 1039.9ZM402.9 1025.2L394.7 1040.2L411.1 1040.2ZM403.7 1025.5L395.5 1040.5L411.9 1040.5ZM404.5 1025.7L396.3 1040.7L412.7 1040.7ZM405.3 1026.0L397.1 1041.0L413.5 1041.0ZM406.1 1026.3L397.9 1041.3L414.3 1041.3ZM406.9 1026.5L398.7 1041.5L415.1 1041.5ZM407.7 1026.8L399.5 1041.8L415.9 1041.8ZM408.5 1027.1L400.3 1042.1L416.7 1042.1ZM409.3 1027.3L401.1 1042.3L417.5 1042.3ZM410.1 1027.6L401.9 1042.6L418.3 1042.6ZM410.9 1027.8L402.7 1042.8L419.1 1042.8ZM411.7 1028.1L403.5 1043.1L419.9 1043.1ZM412.5 1028.3L404.3 1043.3L420.7 1043.3ZM413.3 1028.5L405.1 1043.5L421.5 1043.5ZM414.1 1028.8L405.9 1043.8L422.3 1043.8ZM414.9 1029.0L406.7 1044.0L423.1 1044.0ZM415.7 1029.3L407.5 1044.3L423.9 1044.3ZM416.5 1029.5L408.3 1044.5L424.7 1044.5ZM417.3 1029.7L409.1 1044.7L425.5 1044.7ZM418.1 1029.9L409.9 1044.9L426.3 1044.9ZM418.9 1030.2L410.7 1045.2L427.1 1045.2ZM419.7 1030.4L411.5 1045.4L427.9 1045.4ZM420.5 1030.6L412.3 1045.6L428.7 1045.6ZM421.3 1030.8L413.1 1045.8L429.5 1045.8ZM422.1 1031.0L413.9 1046.0L430.3 1046.0ZM422.9 1031.3L414.7 1046.3L431.1 1046.3ZM423.7 1031.5L415.5 1046.5L431.9 1046.5ZM424.5 1031.7L416.3 1046.7L432.7 1046.7ZM425.3 1031.9L417.1 1046.9L433.5 1046.9ZM426.1 1032.1L417.9 1047.1L434.3 1047.1ZM426.9 1032.3L418.7 1047.3L435.1 1047.3ZM427.7 1032.5L419.5 1047.5L435.9 1047.5ZM428.5 1032.7L420.3 1047.7L436.7 1047.7ZM429.3 1032.9L421.1 1047.9L437.5 1047.9ZM430.1 1033.1L421.9 1048.1L438.3 1048.1ZM430.9 1033.3L422.7 1048.3L439.1 1048.3ZM431.7 1033.5L423.5 1048.5L439.9 1048.5ZM432.5 1033.7L424.3 1048.7L440.7 1048.7ZM433.3 1033.9L425.1 1048.9L441.5 1048.9ZM434.1 1034.1L425.9 1049.1L442.3 1049.1ZM434.9 1034.3L426.7 1049.3L443.1 1049.3ZM435.7 1034.5L427.5 1049.5L443.9 1049.5ZM436.5 1034.7L428.3 1049.7L444.7 1049.7ZM437.3 1034.8L429.1 1049.8L445.5 1049.8ZM438.1 1035.0L429.9 1050.0L446.3 1050.0ZM438.9 1035.2L430.7 1050.2L447.1 1050.2ZM439.7 1035.4L431.5 1050.4L447.9 1050.4ZM440.5 1035.6L432.3 1050.6L448.7 1050.6ZM441.2 1035.8L433.0 1050.8L449.4 1050.8ZM442.0 1035.9L433.8 1050.9L450.2 1050.9ZM442.8 1036.1L434.6 1051.1L451.0 1051.1ZM443.6 1036.3L435.4 1051.3L451.8 1051.3ZM444.4 1036.5L436.2 1051.5L452.6 1051.5ZM445.2 1036.6L437.0 1051.6L453.4 1051.6ZM446.0 1036.8L437.8 1051.8L454.2 1051.8ZM446.8 1037.0L438.6 1052.0L455.0 1052.0ZM447.6 1037.2L439.4 1052.2L455.8 1052.2ZM448.4 1037.3L440.2 1052.3L456.6 1052.3ZM449.2 1037.5L441.0 1052.5L457.4 1052.5ZM450.0 1037.7L441.8 1052.7L458.2 1052.7ZM450.8 1037.8L442.6 1052.8L459.0 1052.8ZM451.6 1038.0L443.4 1053.0L459.8 1053.0ZM452.4 1038.2L444.2 1053.2L460.6 1053.2ZM453.2 1038.3L445.0 1053.3L461.4 1053.3ZM454.0 1038.5L445.8 1053.5L462.2 1053.5ZM454.8 1038.6L446.6 1053.6L463.0 1053.6ZM455.6 1038.8L447.4 1053.8L463.8 1053.8ZM456.4 1039.0L448.2 1054.0L464.6 1054.0ZM457.2 1039.1L449.0 1054.1L465.4 1054.1ZM458.0 1039.3L449.8 1054.3L466.2 1054.3ZM458.8 1039.4L450.6 1054.4L467.0 1054.4ZM459.6 1039.6L451.4 1054.6L467.8 1054.6ZM460.4 1039.7L452.2 1054.7L468.6 1054.7ZM461.2 1039.9L453.0 1054.9L469.4 1054.9ZM462.0 1040.1L453.8 1055.1L470.2 1055.1ZM462.8 1040.2L454.6 1055.2L471.0 1055.2ZM463.6 1040.4L455.4 1055.4L471.8 1055.4ZM464.4 1040.5L456.2 1055.5L472.6 1055.5ZM465.2 1040.7L457.0 1055.7L473.4 1055.7ZM466.0 1040.8L457.8 1055.8L474.2 1055.8ZM466.8 1040.9L458.6 1055.9L475.0 1055.9ZM467.6 1041.1L459.4 1056.1L475.8 1056.1ZM468.4 1041.2L460.2 1056.2L476.6 1056.2ZM469.2 1041.4L461.0 1056.4L477.4 1056.4ZM470.0 1041.5L461.8 1056.5L478.2 1056.5ZM470.8 1041.7L462.6 1056.7L479.0 1056.7ZM471.6 1041.8L463.4 1056.8L479.8 1056.8ZM472.4 1042.0L464.2 1057.0L480.6 1057.0ZM473.2 1042.1L465.0 1057.1L481.4 1057.1ZM474.0 1042.2L465.8 1057.2L482.2 1057.2ZM474.8 1042.4L466.6 1057.4L483.0 1057.4ZM475.6 1042.5L467.4 1057.5L483.8 1057.5ZM476.4 1042.7L468.2 1057.7L484.6 1057.7ZM477.2 1042.8L469.0 1057.8L485.4 1057.8ZM478.0 1042.9L469.8 1057.9L486.2 1057.9ZM478.8 1043.1L470.6 1058.1L487.0 1058.1ZM479.5 1043.2L471.3 1058.2L487.7 1058.2ZM480.3 1043.4L472.1 1058.4L488.5 1058.4ZM481.1 1043.5L472.9 1058.5L489.3 1058.5ZM481.9 1043.6L473.7 1058.6L490.1 1058.6ZM482.7 1043.8L474.5 1058.8L490.9 1058.8ZM483.5 1043.9L475.3 1058.9L491.7 1058.9ZM484.3 1044.0L476.1 1059.0L492.5 1059.0ZM485.1 1044.2L476.9 1059.2L493.3 1059.2ZM485.9 1044.3L477.7 1059.3L494.1 1059.3ZM486.7 1044.4L478.5 1059.4L494.9 1059.4ZM487.5 1044.6L479.3 1059.6L495.7 1059.6ZM488.3 1044.7L480.1 1059.7L496.5 1059.7ZM489.1 1044.8L480.9 1059.8L497.3 1059.8ZM489.9 1045.0L481.7 1060.0L498.1 1060.0ZM490.7 1045.1L482.5 1060.1L498.9 1060.1ZM491.5 1045.2L483.3 1060.2L499.7 1060.2ZM492.3 1045.3L484.1 1060.3L500.5 1060.3ZM493.1 1045.5L484.9 1060.5L501.3 1060.5ZM493.9 1045.6L485.7 1060.6L502.1 1060.6ZM494.7 1045.7L486.5 1060.7L502.9 1060.7ZM495.5 1045.8L487.3 1060.8L503.7 1060.8ZM496.3 1046.0L488.1 1061.0L504.5 1061.0ZM497.1 1046.1L488.9 1061.1L505.3 1061.1ZM497.9 1046.2L489.7 1061.2L506.1 1061.2ZM498.7 1046.3L490.5 1061.3L506.9 1061.3ZM499.5 1046.5L491.3 1061.5L507.7 1061.5ZM500.3 1046.6L492.1 1061.6L508.5 1061.6ZM501.1 1046.7L492.9 1061.7L509.3 1061.7ZM501.9 1046.8L493.7 1061.8L510.1 1061.8ZM502.7 1046.9L494.5 1061.9L510.9 1061.9ZM503.5 1047.0L495.3 1062.0L511.7 1062.0ZM504.3 1047.2L496.1 1062.2L512.5 1062.2ZM505.1 1047.3L496.9 1062.3L513.3 1062.3ZM505.9 1047.4L497.7 1062.4L514.1 1062.4ZM506.7 1047.5L498.5 1062.5L514.9 1062.5ZM507.5 1047.6L499.3 1062.6L515.7 1062.6ZM508.3 1047.7L500.1 1062.7L516.5 1062.7ZM509.1 1047.8L500.9 1062.8L517.3 1062.8ZM509.9 1047.9L501.7 1062.9L518.1 1062.9ZM510.7 1048.1L502.5 1063.1L518.9 1063.1ZM511.5 1048.2L503.3 1063.2L519.7 1063.2ZM512.3 1048.3L504.1 1063.3L520.5 1063.3ZM513.1 1048.4L504.9 1063.4L521.3 1063.4ZM513.9 1048.5L505.7 1063.5L522.1 1063.5ZM514.7 1048.6L506.5 1063.6L522.9 1063.6ZM515.5 1048.7L507.3 1063.7L523.7 1063.7ZM516.3 1048.8L508.1 1063.8L524.5 1063.8ZM517.1 1048.9L508.9 1063.9L525.3 1063.9ZM517.8 1049.0L509.6 1064.0L526.0 1064.0ZM518.6 1049.1L510.4 1064.1L526.8 1064.1ZM519.4 1049.2L511.2 1064.2L527.6 1064.2ZM520.2 1049.3L512.0 1064.3L528.4 1064.3ZM521.0 1049.4L512.8 1064.4L529.2 1064.4ZM521.8 1049.5L513.6 1064.5L530.0 1064.5ZM522.6 1049.6L514.4 1064.6L530.8 1064.6ZM523.4 1049.7L515.2 1064.7L531.6 1064.7ZM524.2 1049.8L516.0 1064.8L532.4 1064.8ZM525.0 1049.9L516.8 1064.9L533.2 1064.9ZM525.8 1049.9L517.6 1064.9L534.0 1064.9ZM526.6 1050.0L518.4 1065.0L534.8 1065.0ZM527.4 1050.1L519.2 1065.1L535.6 1065.1ZM528.2 1050.2L520.0 1065.2L536.4 1065.2ZM529.0 1050.3L520.8 1065.3L537.2 1065.3ZM529.8 1050.4L521.6 1065.4L538.0 1065.4ZM530.6 1050.5L522.4 1065.5L538.8 1065.5ZM531.4 1050.6L523.2 1065.6L539.6 1065.6ZM532.2 1050.7L524.0 1065.7L540.4 1065.7ZM533.0 1050.7L524.8 1065.7L541.2 1065.7ZM533.8 1050.8L525.6 1065.8L542.0 1065.8ZM534.6 1050.9L526.4 1065.9L542.8 1065.9ZM535.4 1051.0L527.2 1066.0L543.6 1066.0ZM536.2 1051.1L528.0 1066.1L544.4 1066.1ZM537.0 1051.2L528.8 1066.2L545.2 1066.2ZM537.8 1051.3L529.6 1066.3L546.0 1066.3ZM538.6 1051.3L530.4 1066.3L546.8 1066.3ZM539.4 1051.4L531.2 1066.4L547.6 1066.4ZM540.2 1051.5L532.0 1066.5L548.4 1066.5ZM541.0 1051.6L532.8 1066.6L549.2 1066.6ZM541.8 1051.7L533.6 1066.7L550.0 1066.7ZM542.6 1051.8L534.4 1066.8L550.8 1066.8ZM543.4 1051.8L535.2 1066.8L551.6 1066.8ZM544.2 1051.9L536.0 1066.9L552.4 1066.9ZM545.0 1052.0L536.8 1067.0L553.2 1067.0ZM545.8 1052.1L537.6 1067.1L554.0 1067.1ZM546.6 1052.2L538.4 1067.2L554.8 1067.2ZM547.4 1052.2L539.2 1067.2L555.6 1067.2ZM548.2 1052.3L540.0 1067.3L556.4 1067.3ZM549.0 1052.4L540.8 1067.4L557.2 1067.4ZM549.8 1052.5L541.6 1067.5L558.0 1067.5ZM550.6 1052.5L542.4 1067.5L558.8 1067.5ZM551.4 1052.6L543.2 1067.6L559.6 1067.6ZM552.2 1052.7L544.0 1067.7L560.4 1067.7ZM553.0 1052.8L544.8 1067.8L561.2 1067.8ZM553.8 1052.9L545.6 1067.9L562.0 1067.9ZM554.6 1052.9L546.4 1067.9L562.8 1067.9ZM555.4 1053.0L547.2 1068.0L563.6 1068.0ZM556.1 1053.1L547.9 1068.1L564.3 1068.1ZM556.9 1053.1L548.7 1068.1L565.1 1068.1ZM557.7 1053.2L549.5 1068.2L565.9 1068.2ZM558.5 1053.3L550.3 1068.3L566.7 1068.3ZM559.3 1053.4L551.1 1068.4L567.5 1068.4ZM560.1 1053.4L551.9 1068.4L568.3 1068.4ZM560.9 1053.5L552.7 1068.5L569.1 1068.5ZM561.7 1053.6L553.5 1068.6L569.9 1068.6ZM562.5 1053.6L554.3 1068.6L570.7 1068.6ZM563.3 1053.7L555.1 1068.7L571.5 1068.7ZM564.1 1053.8L555.9 1068.8L572.3 1068.8ZM564.9 1053.9L556.7 1068.9L573.1 1068.9ZM565.7 1053.9L557.5 1068.9L573.9 1068.9ZM566.5 1054.0L558.3 1069.0L574.7 1069.0ZM567.3 1054.1L559.1 1069.1L575.5 1069.1ZM568.1 1054.1L559.9 1069.1L576.3 1069.1ZM568.9 1054.2L560.7 1069.2L577.1 1069.2ZM569.7 1054.3L561.5 1069.3L577.9 1069.3ZM570.5 1054.3L562.3 1069.3L578.7 1069.3ZM571.3 1054.4L563.1 1069.4L579.5 1069.4ZM572.1 1054.4L563.9 1069.4L580.3 1069.4ZM572.9 1054.5L564.7 1069.5L581.1 1069.5ZM573.7 1054.6L565.5 1069.6L581.9 1069.6ZM574.5 1054.6L566.3 1069.6L582.7 1069.6ZM575.3 1054.7L567.1 1069.7L583.5 1069.7ZM576.1 1054.8L567.9 1069.8L584.3 1069.8ZM576.9 1054.8L568.7 1069.8L585.1 1069.8ZM577.7 1054.9L569.5 1069.9L585.9 1069.9ZM578.5 1054.9L570.3 1069.9L586.7 1069.9ZM579.3 1055.0L571.1 1070.0L587.5 1070.0ZM580.1 1055.1L571.9 1070.1L588.3 1070.1ZM580.9 1055.1L572.7 1070.1L589.1 1070.1ZM581.7 1055.2L573.5 1070.2L589.9 1070.2ZM582.5 1055.2L574.3 1070.2L590.7 1070.2ZM583.3 1055.3L575.1 1070.3L591.5 1070.3ZM584.1 1055.4L575.9 1070.4L592.3 1070.4ZM584.9 1055.4L576.7 1070.4L593.1 1070.4ZM585.7 1055.5L577.5 1070.5L593.9 1070.5ZM586.5 1055.5L578.3 1070.5L594.7 1070.5ZM587.3 1055.6L579.1 1070.6L595.5 1070.6ZM588.1 1055.6L579.9 1070.6L596.3 1070.6ZM588.9 1055.7L580.7 1070.7L597.1 1070.7ZM589.7 1055.7L581.5 1070.7L597.9 1070.7ZM590.5 1055.8L582.3 1070.8L598.7 1070.8ZM591.3 1055.8L583.1 1070.8L599.5 1070.8ZM592.1 1055.9L583.9 1070.9L600.3 1070.9ZM592.9 1056.0L584.7 1071.0L601.1 1071.0ZM593.7 1056.0L585.5 1071.0L601.9 1071.0ZM594.5 1056.1L586.3 1071.1L602.7 1071.1ZM595.2 1056.1L587.0 1071.1L603.4 1071.1ZM596.0 1056.2L587.8 1071.2L604.2 1071.2ZM596.8 1056.2L588.6 1071.2L605.0 1071.2ZM597.6 1056.3L589.4 1071.3L605.8 1071.3ZM598.4 1056.3L590.2 1071.3L606.6 1071.3ZM599.2 1056.4L591.0 1071.4L607.4 1071.4ZM600.0 1056.4L591.8 1071.4L608.2 1071.4ZM600.8 1056.5L592.6 1071.5L609.0 1071.5ZM601.6 1056.5L593.4 1071.5L609.8 1071.5ZM602.4 1056.6L594.2 1071.6L610.6 1071.6ZM603.2 1056.6L595.0 1071.6L611.4 1071.6ZM604.0 1056.7L595.8 1071.7L612.2 1071.7ZM604.8 1056.7L596.6 1071.7L613.0 1071.7ZM605.6 1056.8L597.4 1071.8L613.8 1071.8ZM606.4 1056.8L598.2 1071.8L614.6 1071.8ZM607.2 1056.9L599.0 1071.9L615.4 1071.9ZM608.0 1056.9L599.8 1071.9L616.2 1071.9ZM608.8 1057.0L600.6 1072.0L617.0 1072.0ZM609.6 1057.0L601.4 1072.0L617.8 1072.0ZM610.4 1057.0L602.2 1072.0L618.6 1072.0ZM611.2 1057.1L603.0 1072.1L619.4 1072.1ZM612.0 1057.1L603.8 1072.1L620.2 1072.1ZM612.8 1057.2L604.6 1072.2L621.0 1072.2ZM613.6 1057.2L605.4 1072.2L621.8 1072.2ZM614.4 1057.3L606.2 1072.3L622.6 1072.3ZM615.2 1057.3L607.0 1072.3L623.4 1072.3ZM616.0 1057.4L607.8 1072.4L624.2 1072.4ZM616.8 1057.4L608.6 1072.4L625.0 1072.4ZM617.6 1057.5L609.4 1072.5L625.8 1072.5ZM618.4 1057.5L610.2 1072.5L626.6 1072.5ZM619.2 1057.5L611.0 1072.5L627.4 1072.5ZM620.0 1057.6L611.8 1072.6L628.2 1072.6ZM620.8 1057.6L612.6 1072.6L629.0 1072.6ZM621.6 1057.7L613.4 1072.7L629.8 1072.7ZM622.4 1057.7L614.2 1072.7L630.6 1072.7ZM623.2 1057.8L615.0 1072.8L631.4 1072.8ZM624.0 1057.8L615.8 1072.8L632.2 1072.8ZM624.8 1057.8L616.6 1072.8L633.0 1072.8ZM625.6 1057.9L617.4 1072.9L633.8 1072.9ZM626.4 1057.9L618.2 1072.9L634.6 1072.9ZM627.2 1058.0L619.0 1073.0L635.4 1073.0ZM628.0 1058.0L619.8 1073.0L636.2 1073.0ZM628.8 1058.0L620.6 1073.0L637.0 1073.0ZM629.6 1058.1L621.4 1073.1L637.8 1073.1ZM630.4 1058.1L622.2 1073.1L638.6 1073.1ZM631.2 1058.2L623.0 1073.2L639.4 1073.2ZM632.0 1058.2L623.8 1073.2L640.2 1073.2ZM632.8 1058.2L624.6 1073.2L641.0 1073.2ZM633.5 1058.3L625.3 1073.3L641.7 1073.3ZM634.3 1058.3L626.1 1073.3L642.5 1073.3ZM635.1 1058.3L626.9 1073.3L643.3 1073.3ZM635.9 1058.4L627.7 1073.4L644.1 1073.4ZM636.7 1058.4L628.5 1073.4L644.9 1073.4ZM637.5 1058.4L629.3 1073.4L645.7 1073.4ZM638.3 1058.5L630.1 1073.5L646.5 1073.5ZM639.1 1058.5L630.9 1073.5L647.3 1073.5ZM639.9 1058.6L631.7 1073.6L648.1 1073.6ZM640.7 1058.6L632.5 1073.6L648.9 1073.6ZM641.5 1058.6L633.3 1073.6L649.7 1073.6ZM642.3 1058.7L634.1 1073.7L650.5 1073.7ZM643.1 1058.7L634.9 1073.7L651.3 1073.7ZM643.9 1058.7L635.7 1073.7L652.1 1073.7ZM644.7 1058.8L636.5 1073.8L652.9 1073.8ZM645.5 1058.8L637.3 1073.8L653.7 1073.8ZM646.3 1058.8L638.1 1073.8L654.5 1073.8ZM647.1 1058.9L638.9 1073.9L655.3 1073.9ZM647.9 1058.9L639.7 1073.9L656.1 1073.9ZM648.7 1058.9L640.5 1073.9L656.9 1073.9ZM649.5 1058.9L641.3 1073.9L657.7 1073.9ZM650.3 1059.0L642.1 1074.0L658.5 1074.0ZM651.1 1059.0L642.9 1074.0L659.3 1074.0ZM651.9 1059.0L643.7 1074.0L660.1 1074.0ZM652.7 1059.1L644.5 1074.1L660.9 1074.1ZM653.5 1059.1L645.3 1074.1L661.7 1074.1ZM654.3 1059.1L646.1 1074.1L662.5 1074.1ZM655.1 1059.2L646.9 1074.2L663.3 1074.2ZM655.9 1059.2L647.7 1074.2L664.1 1074.2ZM656.7 1059.2L648.5 1074.2L664.9 1074.2ZM657.5 1059.3L649.3 1074.3L665.7 1074.3ZM658.3 1059.3L650.1 1074.3L666.5 1074.3ZM659.1 1059.3L650.9 1074.3L667.3 1074.3ZM659.9 1059.3L651.7 1074.3L668.1 1074.3ZM660.7 1059.4L652.5 1074.4L668.9 1074.4ZM661.5 1059.4L653.3 1074.4L669.7 1074.4ZM662.3 1059.4L654.1 1074.4L670.5 1074.4ZM663.1 1059.5L654.9 1074.5L671.3 1074.5ZM663.9 1059.5L655.7 1074.5L672.1 1074.5ZM664.7 1059.5L656.5 1074.5L672.9 1074.5ZM665.5 1059.5L657.3 1074.5L673.7 1074.5ZM666.3 1059.6L658.1 1074.6L674.5 1074.6ZM667.1 1059.6L658.9 1074.6L675.3 1074.6ZM667.9 1059.6L659.7 1074.6L676.1 1074.6ZM668.7 1059.7L660.5 1074.7L676.9 1074.7ZM669.5 1059.7L661.3 1074.7L677.7 1074.7ZM670.3 1059.7L662.1 1074.7L678.5 1074.7ZM671.1 1059.7L662.9 1074.7L679.3 1074.7ZM671.8 1059.8L663.6 1074.8L680.0 1074.8ZM672.6 1059.8L664.4 1074.8L680.8 1074.8ZM673.4 1059.8L665.2 1074.8L681.6 1074.8ZM674.2 1059.8L666.0 1074.8L682.4 1074.8ZM675.0 1059.9L666.8 1074.9L683.2 1074.9ZM675.8 1059.9L667.6 1074.9L684.0 1074.9ZM676.6 1059.9L668.4 1074.9L684.8 1074.9ZM677.4 1059.9L669.2 1074.9L685.6 1074.9ZM678.2 1060.0L670.0 1075.0L686.4 1075.0ZM679.0 1060.0L670.8 1075.0L687.2 1075.0ZM679.8 1060.0L671.6 1075.0L688.0 1075.0ZM680.6 1060.0L672.4 1075.0L688.8 1075.0ZM681.4 1060.1L673.2 1075.1L689.6 1075.1ZM682.2 1060.1L674.0 1075.1L690.4 1075.1ZM683.0 1060.1L674.8 1075.1L691.2 1075.1ZM683.8 1060.1L675.6 1075.1L692.0 1075.1ZM684.6 1060.2L676.4 1075.2L692.8 1075.2ZM685.4 1060.2L677.2 1075.2L693.6 1075.2ZM686.2 1060.2L678.0 1075.2L694.4 1075.2ZM687.0 1060.2L678.8 1075.2L695.2 1075.2ZM687.8 1060.3L679.6 1075.3L696.0 1075.3ZM688.6 1060.3L680.4 1075.3L696.8 1075.3ZM689.4 1060.3L681.2 1075.3L697.6 1075.3ZM690.2 1060.3L682.0 1075.3L698.4 1075.3ZM691.0 1060.4L682.8 1075.4L699.2 1075.4ZM691.8 1060.4L683.6 1075.4L700.0 1075.4ZM692.6 1060.4L684.4 1075.4L700.8 1075.4ZM693.4 1060.4L685.2 1075.4L701.6 1075.4ZM694.2 1060.4L686.0 1075.4L702.4 1075.4ZM695.0 1060.5L686.8 1075.5L703.2 1075.5ZM695.8 1060.5L687.6 1075.5L704.0 1075.5ZM696.6 1060.5L688.4 1075.5L704.8 1075.5ZM697.4 1060.5L689.2 1075.5L705.6 1075.5ZM698.2 1060.5L690.0 1075.5L706.4 1075.5ZM699.0 1060.6L690.8 1075.6L707.2 1075.6ZM699.8 1060.6L691.6 1075.6L708.0 1075.6ZM700.6 1060.6L692.4 1075.6L708.8 1075.6ZM701.4 1060.6L693.2 1075.6L709.6 1075.6ZM702.2 1060.7L694.0 1075.7L710.4 1075.7ZM703.0 1060.7L694.8 1075.7L711.2 1075.7ZM703.8 1060.7L695.6 1075.7L712.0 1075.7ZM704.6 1060.7L696.4 1075.7L712.8 1075.7ZM705.4 1060.7L697.2 1075.7L713.6 1075.7ZM706.2 1060.8L698.0 1075.8L714.4 1075.8ZM707.0 1060.8L698.8 1075.8L715.2 1075.8ZM707.8 1060.8L699.6 1075.8L716.0 1075.8ZM708.6 1060.8L700.4 1075.8L716.8 1075.8ZM709.4 1060.8L701.2 1075.8L717.6 1075.8ZM710.1 1060.8L701.9 1075.8L718.3 1075.8ZM710.9 1060.9L702.7 1075.9L719.1 1075.9ZM711.7 1060.9L703.5 1075.9L719.9 1075.9ZM712.5 1060.9L704.3 1075.9L720.7 1075.9ZM713.3 1060.9L705.1 1075.9L721.5 1075.9ZM714.1 1060.9L705.9 1075.9L722.3 1075.9ZM714.9 1061.0L706.7 1076.0L723.1 1076.0ZM715.7 1061.0L707.5 1076.0L723.9 1076.0ZM716.5 1061.0L708.3 1076.0L724.7 1076.0ZM717.3 1061.0L709.1 1076.0L725.5 1076.0ZM718.1 1061.0L709.9 1076.0L726.3 1076.0ZM718.9 1061.0L710.7 1076.0L727.1 1076.0ZM719.7 1061.1L711.5 1076.1L727.9 1076.1ZM720.5 1061.1L712.3 1076.1L728.7 1076.1ZM721.3 1061.1L713.1 1076.1L729.5 1076.1ZM722.1 1061.1L713.9 1076.1L730.3 1076.1ZM722.9 1061.1L714.7 1076.1L731.1 1076.1ZM723.7 1061.1L715.5 1076.1L731.9 1076.1ZM724.5 1061.2L716.3 1076.2L732.7 1076.2ZM725.3 1061.2L717.1 1076.2L733.5 1076.2ZM726.1 1061.2L717.9 1076.2L734.3 1076.2ZM726.9 1061.2L718.7 1076.2L735.1 1076.2ZM727.7 1061.2L719.5 1076.2L735.9 1076.2ZM728.5 1061.2L720.3 1076.2L736.7 1076.2ZM729.3 1061.3L721.1 1076.3L737.5 1076.3ZM730.1 1061.3L721.9 1076.3L738.3 1076.3ZM730.9 1061.3L722.7 1076.3L739.1 1076.3ZM731.7 1061.3L723.5 1076.3L739.9 1076.3ZM732.5 1061.3L724.3 1076.3L740.7 1076.3ZM733.3 1061.3L725.1 1076.3L741.5 1076.3ZM734.1 1061.3L725.9 1076.3L742.3 1076.3ZM734.9 1061.4L726.7 1076.4L743.1 1076.4ZM735.7 1061.4L727.5 1076.4L743.9 1076.4ZM736.5 1061.4L728.3 1076.4L744.7 1076.4ZM737.3 1061.4L729.1 1076.4L745.5 1076.4ZM738.1 1061.4L729.9 1076.4L746.3 1076.4ZM738.9 1061.4L730.7 1076.4L747.1 1076.4ZM739.7 1061.4L731.5 1076.4L747.9 1076.4ZM740.5 1061.5L732.3 1076.5L748.7 1076.5ZM741.3 1061.5L733.1 1076.5L749.5 1076.5ZM742.1 1061.5L733.9 1076.5L750.3 1076.5ZM742.9 1061.5L734.7 1076.5L751.1 1076.5ZM743.7 1061.5L735.5 1076.5L751.9 1076.5ZM744.5 1061.5L736.3 1076.5L752.7 1076.5ZM745.3 1061.5L737.1 1076.5L753.5 1076.5ZM746.1 1061.6L737.9 1076.6L754.3 1076.6ZM746.9 1061.6L738.7 1076.6L755.1 1076.6ZM747.7 1061.6L739.5 1076.6L755.9 1076.6ZM748.4 1061.6L740.2 1076.6L756.6 1076.6ZM749.2 1061.6L741.0 1076.6L757.4 1076.6ZM750.0 1061.6L741.8 1076.6L758.2 1076.6ZM750.8 1061.6L742.6 1076.6L759.0 1076.6ZM751.6 1061.7L743.4 1076.7L759.8 1076.7ZM752.4 1061.7L744.2 1076.7L760.6 1076.7ZM753.2 1061.7L745.0 1076.7L761.4 1076.7ZM754.0 1061.7L745.8 1076.7L762.2 1076.7ZM754.8 1061.7L746.6 1076.7L763.0 1076.7ZM755.6 1061.7L747.4 1076.7L763.8 1076.7ZM756.4 1061.7L748.2 1076.7L764.6 1076.7ZM757.2 1061.7L749.0 1076.7L765.4 1076.7ZM758.0 1061.8L749.8 1076.8L766.2 1076.8ZM758.8 1061.8L750.6 1076.8L767.0 1076.8ZM759.6 1061.8L751.4 1076.8L767.8 1076.8ZM760.4 1061.8L752.2 1076.8L768.6 1076.8ZM761.2 1061.8L753.0 1076.8L769.4 1076.8ZM762.0 1061.8L753.8 1076.8L770.2 1076.8ZM762.8 1061.8L754.6 1076.8L771.0 1076.8ZM763.6 1061.8L755.4 1076.8L771.8 1076.8ZM764.4 1061.9L756.2 1076.9L772.6 1076.9ZM765.2 1061.9L757.0 1076.9L773.4 1076.9ZM766.0 1061.9L757.8 1076.9L774.2 1076.9ZM766.8 1061.9L758.6 1076.9L775.0 1076.9ZM767.6 1061.9L759.4 1076.9L775.8 1076.9ZM768.4 1061.9L760.2 1076.9L776.6 1076.9ZM769.2 1061.9L761.0 1076.9L777.4 1076.9ZM770.0 1061.9L761.8 1076.9L778.2 1076.9ZM770.8 1061.9L762.6 1076.9L779.0 1076.9ZM771.6 1062.0L763.4 1077.0L779.8 1077.0ZM772.4 1062.0L764.2 1077.0L780.6 1077.0ZM773.2 1062.0L765.0 1077.0L781.4 1077.0ZM774.0 1062.0L765.8 1077.0L782.2 1077.0ZM774.8 1062.0L766.6 1077.0L783.0 1077.0ZM775.6 1062.0L767.4 1077.0L783.8 1077.0ZM776.4 1062.0L768.2 1077.0L784.6 1077.0ZM777.2 1062.0L769.0 1077.0L785.4 1077.0ZM778.0 1062.1L769.8 1077.1L786.2 1077.1ZM778.8 1062.1L770.6 1077.1L787.0 1077.1ZM779.6 1062.1L771.4 1077.1L787.8 1077.1ZM780.4 1062.1L772.2 1077.1L788.6 1077.1ZM781.2 1062.1L773.0 1077.1L789.4 1077.1ZM782.0 1062.1L773.8 1077.1L790.2 1077.1ZM782.8 1062.1L774.6 1077.1L791.0 1077.1ZM783.6 1062.1L775.4 1077.1L791.8 1077.1ZM784.4 1062.1L776.2 1077.1L792.6 1077.1ZM785.2 1062.2L777.0 1077.2L793.4 1077.2ZM786.0 1062.2L777.8 1077.2L794.2 1077.2ZM786.7 1062.2L778.5 1077.2L794.9 1077.2ZM787.5 1062.2L779.3 1077.2L795.7 1077.2ZM788.3 1062.2L780.1 1077.2L796.5 1077.2ZM789.1 1062.2L780.9 1077.2L797.3 1077.2ZM789.9 1062.2L781.7 1077.2L798.1 1077.2ZM790.7 1062.2L782.5 1077.2L798.9 1077.2ZM791.5 1062.2L783.3 1077.2L799.7 1077.2ZM792.3 1062.2L784.1 1077.2L800.5 1077.2ZM793.1 1062.3L784.9 1077.3L801.3 1077.3ZM793.9 1062.3L785.7 1077.3L802.1 1077.3ZM794.7 1062.3L786.5 1077.3L802.9 1077.3ZM795.5 1062.3L787.3 1077.3L803.7 1077.3ZM796.3 1062.3L788.1 1077.3L804.5 1077.3ZM797.1 1062.3L788.9 1077.3L805.3 1077.3ZM797.9 1062.3L789.7 1077.3L806.1 1077.3ZM798.7 1062.3L790.5 1077.3L806.9 1077.3ZM799.5 1062.3L791.3 1077.3L807.7 1077.3ZM800.3 1062.3L792.1 1077.3L808.5 1077.3ZM801.1 1062.4L792.9 1077.4L809.3 1077.4ZM801.9 1062.4L793.7 1077.4L810.1 1077.4ZM802.7 1062.4L794.5 1077.4L810.9 1077.4ZM803.5 1062.4L795.3 1077.4L811.7 1077.4ZM804.3 1062.4L796.1 1077.4L812.5 1077.4ZM805.1 1062.4L796.9 1077.4L813.3 1077.4ZM805.9 1062.4L797.7 1077.4L814.1 1077.4ZM806.7 1062.4L798.5 1077.4L814.9 1077.4ZM807.5 1062.4L799.3 1077.4L815.7 1077.4ZM808.3 1062.4L800.1 1077.4L816.5 1077.4ZM809.1 1062.5L800.9 1077.5L817.3 1077.5ZM809.9 1062.5L801.7 1077.5L818.1 1077.5ZM810.7 1062.5L802.5 1077.5L818.9 1077.5ZM811.5 1062.5L803.3 1077.5L819.7 1077.5ZM812.3 1062.5L804.1 1077.5L820.5 1077.5ZM813.1 1062.5L804.9 1077.5L821.3 1077.5ZM813.9 1062.5L805.7 1077.5L822.1 1077.5ZM814.7 1062.5L806.5 1077.5L822.9 1077.5ZM815.5 1062.5L807.3 1077.5L823.7 1077.5ZM816.3 1062.5L808.1 1077.5L824.5 1077.5ZM817.1 1062.5L808.9 1077.5L825.3 1077.5ZM817.9 1062.6L809.7 1077.6L826.1 1077.6ZM818.7 1062.6L810.5 1077.6L826.9 1077.6ZM819.5 1062.6L811.3 1077.6L827.7 1077.6ZM820.3 1062.6L812.1 1077.6L828.5 1077.6ZM821.1 1062.6L812.9 1077.6L829.3 1077.6ZM821.9 1062.6L813.7 1077.6L830.1 1077.6ZM822.7 1062.6L814.5 1077.6L830.9 1077.6ZM823.5 1062.6L815.3 1077.6L831.7 1077.6ZM824.3 1062.6L816.1 1077.6L832.5 1077.6ZM825.0 1062.6L816.8 1077.6L833.2 1077.6ZM825.8 1062.6L817.6 1077.6L834.0 1077.6ZM826.6 1062.6L818.4 1077.6L834.8 1077.6ZM827.4 1062.7L819.2 1077.7L835.6 1077.7ZM828.2 1062.7L820.0 1077.7L836.4 1077.7ZM829.0 1062.7L820.8 1077.7L837.2 1077.7ZM829.8 1062.7L821.6 1077.7L838.0 1077.7ZM830.6 1062.7L822.4 1077.7L838.8 1077.7ZM831.4 1062.7L823.2 1077.7L839.6 1077.7ZM832.2 1062.7L824.0 1077.7L840.4 1077.7ZM833.0 1062.7L824.8 1077.7L841.2 1077.7ZM833.8 1062.7L825.6 1077.7L842.0 1077.7ZM834.6 1062.7L826.4 1077.7L842.8 1077.7ZM835.4 1062.7L827.2 1077.7L843.6 1077.7ZM836.2 1062.7L828.0 1077.7L844.4 1077.7ZM837.0 1062.7L828.8 1077.7L845.2 1077.7ZM837.8 1062.8L829.6 1077.8L846.0 1077.8ZM838.6 1062.8L830.4 1077.8L846.8 1077.8ZM839.4 1062.8L831.2 1077.8L847.6 1077.8ZM840.2 1062.8L832.0 1077.8L848.4 1077.8ZM841.0 1062.8L832.8 1077.8L849.2 1077.8ZM841.8 1062.8L833.6 1077.8L850.0 1077.8ZM842.6 1062.8L834.4 1077.8L850.8 1077.8Z" fill="#00c800"/>
</g>
<rect x="219.9" y="557.3" width="632.5" height="530.3" stroke="#000" stroke-width="1.8" fill="none"/>
<text x="210.5" y="623.5" font-size="44" text-anchor="end">2.0</text>
<text x="210.5" y="740.1" font-size="44" text-anchor="end">1.5</text>
<text x="210.5" y="856.8" font-size="44" text-anchor="end">1.0</text>
<text x="210.5" y="973.4" font-size="44" text-anchor="end">0.5</text>
<text x="210.5" y="1090.1" font-size="44" text-anchor="end">0.0</text>
<text x="120.3" y="814.5" font-size="44" text-anchor="middle" textLength="516.5" lengthAdjust="spacingAndGlyphs" transform="rotate(-90 120.3 814.5)">Carrier density (×10<tspan font-size="29" dy="-25">19</tspan><tspan dy="25"> cm</tspan><tspan font-size="29" dy="-25">-3</tspan><tspan dy="25">)</tspan></text>
<text x="4" y="608" font-size="60" font-weight="bold">b</text>
<text x="263.4" y="686" font-size="45.7" fill="#0000ff" textLength="104.3" lengthAdjust="spacingAndGlyphs">-50 V</text>
<text x="354.8" y="985.6" font-size="45.7" fill="#00c800" textLength="65.9" lengthAdjust="spacingAndGlyphs">0 V</text>
<text x="495" y="633.9" font-size="38.5" textLength="309.1" lengthAdjust="spacingAndGlyphs"><tspan font-style="italic">n</tspan><tspan font-size="27" dy="8.5">2D</tspan><tspan dy="-8.5"> ~ 2×10</tspan><tspan font-size="27" dy="-22">13</tspan><tspan dy="22"> cm</tspan><tspan font-size="27" dy="-22">-2</tspan></text>
<line x1="229.8" y1="1109" x2="229.8" y2="1125" stroke="#000" stroke-width="1.6"/>
<line x1="229.8" y1="1639.3" x2="229.8" y2="1623.3" stroke="#000" stroke-width="1.6"/>
<line x1="352.4" y1="1109" x2="352.4" y2="1125" stroke="#000" stroke-width="1.6"/>
<line x1="352.4" y1="1639.3" x2="352.4" y2="1623.3" stroke="#000" stroke-width="1.6"/>
<line x1="475" y1="1109" x2="475" y2="1125" stroke="#000" stroke-width="1.6"/>
<line x1="475" y1="1639.3" x2="475" y2="1623.3" stroke="#000" stroke-width="1.6"/>
<line x1="597.6" y1="1109" x2="597.6" y2="1125" stroke="#000" stroke-width="1.6"/>
<line x1="597.6" y1="1639.3" x2="597.6" y2="1623.3" stroke="#000" stroke-width="1.6"/>
<line x1="720.2" y1="1109" x2="720.2" y2="1125" stroke="#000" stroke-width="1.6"/>
<line x1="720.2" y1="1639.3" x2="720.2" y2="1623.3" stroke="#000" stroke-width="1.6"/>
<line x1="842.8" y1="1109" x2="842.8" y2="1125" stroke="#000" stroke-width="1.6"/>
<line x1="842.8" y1="1639.3" x2="842.8" y2="1623.3" stroke="#000" stroke-width="1.6"/>
<line x1="219.9" y1="1583" x2="235.9" y2="1583" stroke="#000" stroke-width="1.6"/>
<line x1="852.4" y1="1583" x2="836.4" y2="1583" stroke="#000" stroke-width="1.6"/>
<line x1="219.9" y1="1505.6" x2="235.9" y2="1505.6" stroke="#000" stroke-width="1.6"/>
<line x1="852.4" y1="1505.6" x2="836.4" y2="1505.6" stroke="#000" stroke-width="1.6"/>
<line x1="219.9" y1="1428.2" x2="235.9" y2="1428.2" stroke="#000" stroke-width="1.6"/>
<line x1="852.4" y1="1428.2" x2="836.4" y2="1428.2" stroke="#000" stroke-width="1.6"/>
<line x1="219.9" y1="1350.8" x2="235.9" y2="1350.8" stroke="#000" stroke-width="1.6"/>
<line x1="852.4" y1="1350.8" x2="836.4" y2="1350.8" stroke="#000" stroke-width="1.6"/>
<line x1="219.9" y1="1273.4" x2="235.9" y2="1273.4" stroke="#000" stroke-width="1.6"/>
<line x1="852.4" y1="1273.4" x2="836.4" y2="1273.4" stroke="#000" stroke-width="1.6"/>
<line x1="219.9" y1="1196" x2="235.9" y2="1196" stroke="#000" stroke-width="1.6"/>
<line x1="852.4" y1="1196" x2="836.4" y2="1196" stroke="#000" stroke-width="1.6"/>
<line x1="219.9" y1="1118.6" x2="235.9" y2="1118.6" stroke="#000" stroke-width="1.6"/>
<line x1="852.4" y1="1118.6" x2="836.4" y2="1118.6" stroke="#000" stroke-width="1.6"/>
<clipPath id="cc"><rect x="219.9" y="1109.0" width="632.5" height="530.3"/></clipPath>
<g clip-path="url(#cc)">
<polyline points="229.8,1629.1 232.2,1628.5 234.7,1626.3 236.9,1612.1 239.4,1548.5 241.8,1374.8 244.2,1200.2 246.6,1136.7 249.0,1125.6 251.4,1121.5 253.8,1119.8 256.1,1119.2 258.5,1119.2 260.9,1119.2 263.3,1119.2 265.7,1119.2 268.1,1119.2 270.5,1119.2 272.9,1119.2 275.3,1119.2 277.7,1119.2 280.1,1119.2 282.5,1119.2 284.9,1119.2 287.3,1119.2 289.6,1119.2 292.0,1119.2 294.4,1119.2 296.8,1119.2 299.2,1119.2 301.6,1119.2 304.0,1119.2 306.4,1119.2 308.8,1119.2 311.2,1119.2 313.6,1119.2 316.0,1119.2 318.4,1119.2 320.8,1119.2 323.2,1119.2 325.6,1119.2 327.9,1119.2 330.3,1119.2 332.7,1119.2 335.1,1119.2 337.5,1119.2 339.9,1119.2 342.3,1119.2 344.7,1119.2 347.1,1119.2 349.5,1119.2 351.9,1119.2 354.3,1119.2 356.7,1119.2 359.1,1119.2 361.5,1119.2 363.9,1119.2 366.2,1119.2 368.6,1119.2 371.0,1119.2 373.4,1119.2 375.8,1119.2 378.2,1119.2 380.6,1119.2 383.0,1119.2 385.4,1119.2 387.8,1119.2 390.2,1119.2 392.6,1119.2 395.0,1119.2 397.4,1119.2 399.8,1119.2 402.2,1119.2 404.5,1119.2 406.9,1119.2 409.3,1119.2 411.7,1119.2 414.1,1119.2 416.5,1119.2 418.9,1119.2 421.3,1119.2 423.7,1119.2 426.1,1119.2 428.5,1119.2 430.9,1119.2 433.3,1119.2 435.7,1119.2 438.1,1119.2 440.5,1119.2 442.8,1119.2 445.2,1119.2 447.6,1119.2 450.0,1119.2 452.4,1119.2 454.8,1119.2 457.2,1119.2 459.6,1119.2 462.0,1119.2 464.4,1119.2 466.8,1119.2 469.2,1119.2 471.6,1119.2 474.0,1119.2 476.4,1119.2 478.8,1119.2 481.1,1119.2 483.5,1119.2 485.9,1119.2 488.3,1119.2 490.7,1119.2 493.1,1119.2 495.5,1119.2 497.9,1119.2 500.3,1119.2 502.7,1119.2 505.1,1119.2 507.5,1119.2 509.9,1119.2 512.3,1119.2 514.7,1119.2 517.1,1119.2 519.4,1119.2 521.8,1119.2 524.2,1119.2 526.6,1119.2 529.0,1119.2 531.4,1119.2 533.8,1119.2 536.2,1119.2 538.6,1119.2 541.0,1119.2 543.4,1119.2 545.8,1119.2 548.2,1119.2 550.6,1119.2 553.0,1119.2 555.4,1119.2 557.7,1119.2 560.1,1119.2 562.5,1119.2 564.9,1119.2 567.3,1119.2 569.7,1119.2 572.1,1119.2 574.5,1119.2 576.9,1119.2 579.3,1119.2 581.7,1119.2 584.1,1119.2 586.5,1119.2 588.9,1119.2 591.3,1119.2 593.7,1119.2 596.0,1119.2 598.4,1119.2 600.8,1119.2 603.2,1119.2 605.6,1119.2 608.0,1119.2 610.4,1119.2 612.8,1119.2 615.2,1119.2 617.6,1119.2 620.0,1119.2 622.4,1119.2 624.8,1119.2 627.2,1119.2 629.6,1119.2 632.0,1119.2 634.3,1119.2 636.7,1119.2 639.1,1119.2 641.5,1119.2 643.9,1119.2 646.3,1119.2 648.7,1119.2 651.1,1119.2 653.5,1119.2 655.9,1119.2 658.3,1119.2 660.7,1119.2 663.1,1119.2 665.5,1119.2 667.9,1119.2 670.3,1119.2 672.6,1119.2 675.0,1119.2 677.4,1119.2 679.8,1119.2 682.2,1119.2 684.6,1119.2 687.0,1119.2 689.4,1119.2 691.8,1119.2 694.2,1119.2 696.6,1119.2 699.0,1119.2 701.4,1119.2 703.8,1119.2 706.2,1119.2 708.6,1119.2 710.9,1119.2 713.3,1119.2 715.7,1119.2 718.1,1119.2 720.5,1119.2 722.9,1119.2 725.3,1119.2 727.7,1119.2 730.1,1119.2 732.5,1119.2 734.9,1119.2 737.3,1119.2 739.7,1119.2 742.1,1119.2 744.5,1119.2 746.9,1119.2 749.2,1119.2 751.6,1119.2 754.0,1119.2 756.4,1119.2 758.8,1119.2 761.2,1119.2 763.6,1119.2 766.0,1119.2 768.4,1119.2 770.8,1119.2 773.2,1119.2 775.6,1119.2 778.0,1119.2 780.4,1119.2 782.8,1119.2 785.2,1119.2 787.5,1119.2 789.9,1119.2 792.3,1119.2 794.7,1119.2 797.1,1119.2 799.5,1119.2 801.9,1119.2 804.3,1119.2 806.7,1119.2 809.1,1119.2 811.5,1119.2 813.9,1119.2 816.3,1119.2 818.7,1119.2 821.1,1119.2 823.5,1119.2 825.8,1119.2 828.2,1119.2 830.6,1119.2 833.0,1119.2 835.4,1119.2 837.8,1119.2 840.2,1119.2 842.6,1119.2" fill="none" stroke="#0000ff" stroke-width="3" stroke-linejoin="round"/>
<path d="M222.8 1629.1a7 7 0 1 0 14 0a7 7 0 1 0 -14 0M225.2 1628.5a7 7 0 1 0 14 0a7 7 0 1 0 -14 0M227.7 1626.3a7 7 0 1 0 14 0a7 7 0 1 0 -14 0M229.9 1612.1a7 7 0 1 0 14 0a7 7 0 1 0 -14 0M232.4 1548.5a7 7 0 1 0 14 0a7 7 0 1 0 -14 0M234.8 1374.8a7 7 0 1 0 14 0a7 7 0 1 0 -14 0M237.2 1200.2a7 7 0 1 0 14 0a7 7 0 1 0 -14 0M239.6 1136.7a7 7 0 1 0 14 0a7 7 0 1 0 -14 0M242.0 1125.6a7 7 0 1 0 14 0a7 7 0 1 0 -14 0M244.4 1121.5a7 7 0 1 0 14 0a7 7 0 1 0 -14 0M246.8 1119.8a7 7 0 1 0 14 0a7 7 0 1 0 -14 0M249.1 1119.2a7 7 0 1 0 14 0a7 7 0 1 0 -14 0M251.5 1119.2a7 7 0 1 0 14 0a7 7 0 1 0 -14 0M253.9 1119.2a7 7 0 1 0 14 0a7 7 0 1 0 -14 0M256.3 1119.2a7 7 0 1 0 14 0a7 7 0 1 0 -14 0M258.7 1119.2a7 7 0 1 0 14 0a7 7 0 1 0 -14 0M261.1 1119.2a7 7 0 1 0 14 0a7 7 0 1 0 -14 0M263.5 1119.2a7 7 0 1 0 14 0a7 7 0 1 0 -14 0M265.9 1119.2a7 7 0 1 0 14 0a7 7 0 1 0 -14 0M268.3 1119.2a7 7 0 1 0 14 0a7 7 0 1 0 -14 0M270.7 1119.2a7 7 0 1 0 14 0a7 7 0 1 0 -14 0M273.1 1119.2a7 7 0 1 0 14 0a7 7 0 1 0 -14 0M275.5 1119.2a7 7 0 1 0 14 0a7 7 0 1 0 -14 0M277.9 1119.2a7 7 0 1 0 14 0a7 7 0 1 0 -14 0M280.3 1119.2a7 7 0 1 0 14 0a7 7 0 1 0 -14 0M282.6 1119.2a7 7 0 1 0 14 0a7 7 0 1 0 -14 0M285.0 1119.2a7 7 0 1 0 14 0a7 7 0 1 0 -14 0M287.4 1119.2a7 7 0 1 0 14 0a7 7 0 1 0 -14 0M289.8 1119.2a7 7 0 1 0 14 0a7 7 0 1 0 -14 0M292.2 1119.2a7 7 0 1 0 14 0a7 7 0 1 0 -14 0M294.6 1119.2a7 7 0 1 0 14 0a7 7 0 1 0 -14 0M297.0 1119.2a7 7 0 1 0 14 0a7 7 0 1 0 -14 0M299.4 1119.2a7 7 0 1 0 14 0a7 7 0 1 0 -14 0M301.8 1119.2a7 7 0 1 0 14 0a7 7 0 1 0 -14 0M304.2 1119.2a7 7 0 1 0 14 0a7 7 0 1 0 -14 0M306.6 1119.2a7 7 0 1 0 14 0a7 7 0 1 0 -14 0M309.0 1119.2a7 7 0 1 0 14 0a7 7 0 1 0 -14 0M311.4 1119.2a7 7 0 1 0 14 0a7 7 0 1 0 -14 0M313.8 1119.2a7 7 0 1 0 14 0a7 7 0 1 0 -14 0M316.2 1119.2a7 7 0 1 0 14 0a7 7 0 1 0 -14 0M318.6 1119.2a7 7 0 1 0 14 0a7 7 0 1 0 -14 0M320.9 1119.2a7 7 0 1 0 14 0a7 7 0 1 0 -14 0M323.3 1119.2a7 7 0 1 0 14 0a7 7 0 1 0 -14 0M325.7 1119.2a7 7 0 1 0 14 0a7 7 0 1 0 -14 0M328.1 1119.2a7 7 0 1 0 14 0a7 7 0 1 0 -14 0M330.5 1119.2a7 7 0 1 0 14 0a7 7 0 1 0 -14 0M332.9 1119.2a7 7 0 1 0 14 0a7 7 0 1 0 -14 0M335.3 1119.2a7 7 0 1 0 14 0a7 7 0 1 0 -14 0M337.7 1119.2a7 7 0 1 0 14 0a7 7 0 1 0 -14 0M340.1 1119.2a7 7 0 1 0 14 0a7 7 0 1 0 -14 0M342.5 1119.2a7 7 0 1 0 14 0a7 7 0 1 0 -14 0M344.9 1119.2a7 7 0 1 0 14 0a7 7 0 1 0 -14 0M347.3 1119.2a7 7 0 1 0 14 0a7 7 0 1 0 -14 0M349.7 1119.2a7 7 0 1 0 14 0a7 7 0 1 0 -14 0M352.1 1119.2a7 7 0 1 0 14 0a7 7 0 1 0 -14 0M354.5 1119.2a7 7 0 1 0 14 0a7 7 0 1 0 -14 0M356.9 1119.2a7 7 0 1 0 14 0a7 7 0 1 0 -14 0M359.2 1119.2a7 7 0 1 0 14 0a7 7 0 1 0 -14 0M361.6 1119.2a7 7 0 1 0 14 0a7 7 0 1 0 -14 0M364.0 1119.2a7 7 0 1 0 14 0a7 7 0 1 0 -14 0M366.4 1119.2a7 7 0 1 0 14 0a7 7 0 1 0 -14 0M368.8 1119.2a7 7 0 1 0 14 0a7 7 0 1 0 -14 0M371.2 1119.2a7 7 0 1 0 14 0a7 7 0 1 0 -14 0M373.6 1119.2a7 7 0 1 0 14 0a7 7 0 1 0 -14 0M376.0 1119.2a7 7 0 1 0 14 0a7 7 0 1 0 -14 0M378.4 1119.2a7 7 0 1 0 14 0a7 7 0 1 0 -14 0M380.8 1119.2a7 7 0 1 0 14 0a7 7 0 1 0 -14 0M383.2 1119.2a7 7 0 1 0 14 0a7 7 0 1 0 -14 0M385.6 1119.2a7 7 0 1 0 14 0a7 7 0 1 0 -14 0M388.0 1119.2a7 7 0 1 0 14 0a7 7 0 1 0 -14 0M390.4 1119.2a7 7 0 1 0 14 0a7 7 0 1 0 -14 0M392.8 1119.2a7 7 0 1 0 14 0a7 7 0 1 0 -14 0M395.2 1119.2a7 7 0 1 0 14 0a7 7 0 1 0 -14 0M397.5 1119.2a7 7 0 1 0 14 0a7 7 0 1 0 -14 0M399.9 1119.2a7 7 0 1 0 14 0a7 7 0 1 0 -14 0M402.3 1119.2a7 7 0 1 0 14 0a7 7 0 1 0 -14 0M404.7 1119.2a7 7 0 1 0 14 0a7 7 0 1 0 -14 0M407.1 1119.2a7 7 0 1 0 14 0a7 7 0 1 0 -14 0M409.5 1119.2a7 7 0 1 0 14 0a7 7 0 1 0 -14 0M411.9 1119.2a7 7 0 1 0 14 0a7 7 0 1 0 -14 0M414.3 1119.2a7 7 0 1 0 14 0a7 7 0 1 0 -14 0M416.7 1119.2a7 7 0 1 0 14 0a7 7 0 1 0 -14 0M419.1 1119.2a7 7 0 1 0 14 0a7 7 0 1 0 -14 0M421.5 1119.2a7 7 0 1 0 14 0a7 7 0 1 0 -14 0M423.9 1119.2a7 7 0 1 0 14 0a7 7 0 1 0 -14 0M426.3 1119.2a7 7 0 1 0 14 0a7 7 0 1 0 -14 0M428.7 1119.2a7 7 0 1 0 14 0a7 7 0 1 0 -14 0M431.1 1119.2a7 7 0 1 0 14 0a7 7 0 1 0 -14 0M433.5 1119.2a7 7 0 1 0 14 0a7 7 0 1 0 -14 0M435.8 1119.2a7 7 0 1 0 14 0a7 7 0 1 0 -14 0M438.2 1119.2a7 7 0 1 0 14 0a7 7 0 1 0 -14 0M440.6 1119.2a7 7 0 1 0 14 0a7 7 0 1 0 -14 0M443.0 1119.2a7 7 0 1 0 14 0a7 7 0 1 0 -14 0M445.4 1119.2a7 7 0 1 0 14 0a7 7 0 1 0 -14 0M447.8 1119.2a7 7 0 1 0 14 0a7 7 0 1 0 -14 0M450.2 1119.2a7 7 0 1 0 14 0a7 7 0 1 0 -14 0M452.6 1119.2a7 7 0 1 0 14 0a7 7 0 1 0 -14 0M455.0 1119.2a7 7 0 1 0 14 0a7 7 0 1 0 -14 0M457.4 1119.2a7 7 0 1 0 14 0a7 7 0 1 0 -14 0M459.8 1119.2a7 7 0 1 0 14 0a7 7 0 1 0 -14 0M462.2 1119.2a7 7 0 1 0 14 0a7 7 0 1 0 -14 0M464.6 1119.2a7 7 0 1 0 14 0a7 7 0 1 0 -14 0M467.0 1119.2a7 7 0 1 0 14 0a7 7 0 1 0 -14 0M469.4 1119.2a7 7 0 1 0 14 0a7 7 0 1 0 -14 0M471.8 1119.2a7 7 0 1 0 14 0a7 7 0 1 0 -14 0M474.1 1119.2a7 7 0 1 0 14 0a7 7 0 1 0 -14 0M476.5 1119.2a7 7 0 1 0 14 0a7 7 0 1 0 -14 0M478.9 1119.2a7 7 0 1 0 14 0a7 7 0 1 0 -14 0M481.3 1119.2a7 7 0 1 0 14 0a7 7 0 1 0 -14 0M483.7 1119.2a7 7 0 1 0 14 0a7 7 0 1 0 -14 0M486.1 1119.2a7 7 0 1 0 14 0a7 7 0 1 0 -14 0M488.5 1119.2a7 7 0 1 0 14 0a7 7 0 1 0 -14 0M490.9 1119.2a7 7 0 1 0 14 0a7 7 0 1 0 -14 0M493.3 1119.2a7 7 0 1 0 14 0a7 7 0 1 0 -14 0M495.7 1119.2a7 7 0 1 0 14 0a7 7 0 1 0 -14 0M498.1 1119.2a7 7 0 1 0 14 0a7 7 0 1 0 -14 0M500.5 1119.2a7 7 0 1 0 14 0a7 7 0 1 0 -14 0M502.9 1119.2a7 7 0 1 0 14 0a7 7 0 1 0 -14 0M505.3 1119.2a7 7 0 1 0 14 0a7 7 0 1 0 -14 0M507.7 1119.2a7 7 0 1 0 14 0a7 7 0 1 0 -14 0M510.1 1119.2a7 7 0 1 0 14 0a7 7 0 1 0 -14 0M512.4 1119.2a7 7 0 1 0 14 0a7 7 0 1 0 -14 0M514.8 1119.2a7 7 0 1 0 14 0a7 7 0 1 0 -14 0M517.2 1119.2a7 7 0 1 0 14 0a7 7 0 1 0 -14 0M519.6 1119.2a7 7 0 1 0 14 0a7 7 0 1 0 -14 0M522.0 1119.2a7 7 0 1 0 14 0a7 7 0 1 0 -14 0M524.4 1119.2a7 7 0 1 0 14 0a7 7 0 1 0 -14 0M526.8 1119.2a7 7 0 1 0 14 0a7 7 0 1 0 -14 0M529.2 1119.2a7 7 0 1 0 14 0a7 7 0 1 0 -14 0M531.6 1119.2a7 7 0 1 0 14 0a7 7 0 1 0 -14 0M534.0 1119.2a7 7 0 1 0 14 0a7 7 0 1 0 -14 0M536.4 1119.2a7 7 0 1 0 14 0a7 7 0 1 0 -14 0M538.8 1119.2a7 7 0 1 0 14 0a7 7 0 1 0 -14 0M541.2 1119.2a7 7 0 1 0 14 0a7 7 0 1 0 -14 0M543.6 1119.2a7 7 0 1 0 14 0a7 7 0 1 0 -14 0M546.0 1119.2a7 7 0 1 0 14 0a7 7 0 1 0 -14 0M548.4 1119.2a7 7 0 1 0 14 0a7 7 0 1 0 -14 0M550.7 1119.2a7 7 0 1 0 14 0a7 7 0 1 0 -14 0M553.1 1119.2a7 7 0 1 0 14 0a7 7 0 1 0 -14 0M555.5 1119.2a7 7 0 1 0 14 0a7 7 0 1 0 -14 0M557.9 1119.2a7 7 0 1 0 14 0a7 7 0 1 0 -14 0M560.3 1119.2a7 7 0 1 0 14 0a7 7 0 1 0 -14 0M562.7 1119.2a7 7 0 1 0 14 0a7 7 0 1 0 -14 0M565.1 1119.2a7 7 0 1 0 14 0a7 7 0 1 0 -14 0M567.5 1119.2a7 7 0 1 0 14 0a7 7 0 1 0 -14 0M569.9 1119.2a7 7 0 1 0 14 0a7 7 0 1 0 -14 0M572.3 1119.2a7 7 0 1 0 14 0a7 7 0 1 0 -14 0M574.7 1119.2a7 7 0 1 0 14 0a7 7 0 1 0 -14 0M577.1 1119.2a7 7 0 1 0 14 0a7 7 0 1 0 -14 0M579.5 1119.2a7 7 0 1 0 14 0a7 7 0 1 0 -14 0M581.9 1119.2a7 7 0 1 0 14 0a7 7 0 1 0 -14 0M584.3 1119.2a7 7 0 1 0 14 0a7 7 0 1 0 -14 0M586.7 1119.2a7 7 0 1 0 14 0a7 7 0 1 0 -14 0M589.0 1119.2a7 7 0 1 0 14 0a7 7 0 1 0 -14 0M591.4 1119.2a7 7 0 1 0 14 0a7 7 0 1 0 -14 0M593.8 1119.2a7 7 0 1 0 14 0a7 7 0 1 0 -14 0M596.2 1119.2a7 7 0 1 0 14 0a7 7 0 1 0 -14 0M598.6 1119.2a7 7 0 1 0 14 0a7 7 0 1 0 -14 0M601.0 1119.2a7 7 0 1 0 14 0a7 7 0 1 0 -14 0M603.4 1119.2a7 7 0 1 0 14 0a7 7 0 1 0 -14 0M605.8 1119.2a7 7 0 1 0 14 0a7 7 0 1 0 -14 0M608.2 1119.2a7 7 0 1 0 14 0a7 7 0 1 0 -14 0M610.6 1119.2a7 7 0 1 0 14 0a7 7 0 1 0 -14 0M613.0 1119.2a7 7 0 1 0 14 0a7 7 0 1 0 -14 0M615.4 1119.2a7 7 0 1 0 14 0a7 7 0 1 0 -14 0M617.8 1119.2a7 7 0 1 0 14 0a7 7 0 1 0 -14 0M620.2 1119.2a7 7 0 1 0 14 0a7 7 0 1 0 -14 0M622.6 1119.2a7 7 0 1 0 14 0a7 7 0 1 0 -14 0M625.0 1119.2a7 7 0 1 0 14 0a7 7 0 1 0 -14 0M627.3 1119.2a7 7 0 1 0 14 0a7 7 0 1 0 -14 0M629.7 1119.2a7 7 0 1 0 14 0a7 7 0 1 0 -14 0M632.1 1119.2a7 7 0 1 0 14 0a7 7 0 1 0 -14 0M634.5 1119.2a7 7 0 1 0 14 0a7 7 0 1 0 -14 0M636.9 1119.2a7 7 0 1 0 14 0a7 7 0 1 0 -14 0M639.3 1119.2a7 7 0 1 0 14 0a7 7 0 1 0 -14 0M641.7 1119.2a7 7 0 1 0 14 0a7 7 0 1 0 -14 0M644.1 1119.2a7 7 0 1 0 14 0a7 7 0 1 0 -14 0M646.5 1119.2a7 7 0 1 0 14 0a7 7 0 1 0 -14 0M648.9 1119.2a7 7 0 1 0 14 0a7 7 0 1 0 -14 0M651.3 1119.2a7 7 0 1 0 14 0a7 7 0 1 0 -14 0M653.7 1119.2a7 7 0 1 0 14 0a7 7 0 1 0 -14 0M656.1 1119.2a7 7 0 1 0 14 0a7 7 0 1 0 -14 0M658.5 1119.2a7 7 0 1 0 14 0a7 7 0 1 0 -14 0M660.9 1119.2a7 7 0 1 0 14 0a7 7 0 1 0 -14 0M663.3 1119.2a7 7 0 1 0 14 0a7 7 0 1 0 -14 0M665.6 1119.2a7 7 0 1 0 14 0a7 7 0 1 0 -14 0M668.0 1119.2a7 7 0 1 0 14 0a7 7 0 1 0 -14 0M670.4 1119.2a7 7 0 1 0 14 0a7 7 0 1 0 -14 0M672.8 1119.2a7 7 0 1 0 14 0a7 7 0 1 0 -14 0M675.2 1119.2a7 7 0 1 0 14 0a7 7 0 1 0 -14 0M677.6 1119.2a7 7 0 1 0 14 0a7 7 0 1 0 -14 0M680.0 1119.2a7 7 0 1 0 14 0a7 7 0 1 0 -14 0M682.4 1119.2a7 7 0 1 0 14 0a7 7 0 1 0 -14 0M684.8 1119.2a7 7 0 1 0 14 0a7 7 0 1 0 -14 0M687.2 1119.2a7 7 0 1 0 14 0a7 7 0 1 0 -14 0M689.6 1119.2a7 7 0 1 0 14 0a7 7 0 1 0 -14 0M692.0 1119.2a7 7 0 1 0 14 0a7 7 0 1 0 -14 0M694.4 1119.2a7 7 0 1 0 14 0a7 7 0 1 0 -14 0M696.8 1119.2a7 7 0 1 0 14 0a7 7 0 1 0 -14 0M699.2 1119.2a7 7 0 1 0 14 0a7 7 0 1 0 -14 0M701.6 1119.2a7 7 0 1 0 14 0a7 7 0 1 0 -14 0M703.9 1119.2a7 7 0 1 0 14 0a7 7 0 1 0 -14 0M706.3 1119.2a7 7 0 1 0 14 0a7 7 0 1 0 -14 0M708.7 1119.2a7 7 0 1 0 14 0a7 7 0 1 0 -14 0M711.1 1119.2a7 7 0 1 0 14 0a7 7 0 1 0 -14 0M713.5 1119.2a7 7 0 1 0 14 0a7 7 0 1 0 -14 0M715.9 1119.2a7 7 0 1 0 14 0a7 7 0 1 0 -14 0M718.3 1119.2a7 7 0 1 0 14 0a7 7 0 1 0 -14 0M720.7 1119.2a7 7 0 1 0 14 0a7 7 0 1 0 -14 0M723.1 1119.2a7 7 0 1 0 14 0a7 7 0 1 0 -14 0M725.5 1119.2a7 7 0 1 0 14 0a7 7 0 1 0 -14 0M727.9 1119.2a7 7 0 1 0 14 0a7 7 0 1 0 -14 0M730.3 1119.2a7 7 0 1 0 14 0a7 7 0 1 0 -14 0M732.7 1119.2a7 7 0 1 0 14 0a7 7 0 1 0 -14 0M735.1 1119.2a7 7 0 1 0 14 0a7 7 0 1 0 -14 0M737.5 1119.2a7 7 0 1 0 14 0a7 7 0 1 0 -14 0M739.9 1119.2a7 7 0 1 0 14 0a7 7 0 1 0 -14 0M742.2 1119.2a7 7 0 1 0 14 0a7 7 0 1 0 -14 0M744.6 1119.2a7 7 0 1 0 14 0a7 7 0 1 0 -14 0M747.0 1119.2a7 7 0 1 0 14 0a7 7 0 1 0 -14 0M749.4 1119.2a7 7 0 1 0 14 0a7 7 0 1 0 -14 0M751.8 1119.2a7 7 0 1 0 14 0a7 7 0 1 0 -14 0M754.2 1119.2a7 7 0 1 0 14 0a7 7 0 1 0 -14 0M756.6 1119.2a7 7 0 1 0 14 0a7 7 0 1 0 -14 0M759.0 1119.2a7 7 0 1 0 14 0a7 7 0 1 0 -14 0M761.4 1119.2a7 7 0 1 0 14 0a7 7 0 1 0 -14 0M763.8 1119.2a7 7 0 1 0 14 0a7 7 0 1 0 -14 0M766.2 1119.2a7 7 0 1 0 14 0a7 7 0 1 0 -14 0M768.6 1119.2a7 7 0 1 0 14 0a7 7 0 1 0 -14 0M771.0 1119.2a7 7 0 1 0 14 0a7 7 0 1 0 -14 0M773.4 1119.2a7 7 0 1 0 14 0a7 7 0 1 0 -14 0M775.8 1119.2a7 7 0 1 0 14 0a7 7 0 1 0 -14 0M778.2 1119.2a7 7 0 1 0 14 0a7 7 0 1 0 -14 0M780.5 1119.2a7 7 0 1 0 14 0a7 7 0 1 0 -14 0M782.9 1119.2a7 7 0 1 0 14 0a7 7 0 1 0 -14 0M785.3 1119.2a7 7 0 1 0 14 0a7 7 0 1 0 -14 0M787.7 1119.2a7 7 0 1 0 14 0a7 7 0 1 0 -14 0M790.1 1119.2a7 7 0 1 0 14 0a7 7 0 1 0 -14 0M792.5 1119.2a7 7 0 1 0 14 0a7 7 0 1 0 -14 0M794.9 1119.2a7 7 0 1 0 14 0a7 7 0 1 0 -14 0M797.3 1119.2a7 7 0 1 0 14 0a7 7 0 1 0 -14 0M799.7 1119.2a7 7 0 1 0 14 0a7 7 0 1 0 -14 0M802.1 1119.2a7 7 0 1 0 14 0a7 7 0 1 0 -14 0M804.5 1119.2a7 7 0 1 0 14 0a7 7 0 1 0 -14 0M806.9 1119.2a7 7 0 1 0 14 0a7 7 0 1 0 -14 0M809.3 1119.2a7 7 0 1 0 14 0a7 7 0 1 0 -14 0M811.7 1119.2a7 7 0 1 0 14 0a7 7 0 1 0 -14 0M814.1 1119.2a7 7 0 1 0 14 0a7 7 0 1 0 -14 0M816.5 1119.2a7 7 0 1 0 14 0a7 7 0 1 0 -14 0M818.8 1119.2a7 7 0 1 0 14 0a7 7 0 1 0 -14 0M821.2 1119.2a7 7 0 1 0 14 0a7 7 0 1 0 -14 0M823.6 1119.2a7 7 0 1 0 14 0a7 7 0 1 0 -14 0M826.0 1119.2a7 7 0 1 0 14 0a7 7 0 1 0 -14 0M828.4 1119.2a7 7 0 1 0 14 0a7 7 0 1 0 -14 0M830.8 1119.2a7 7 0 1 0 14 0a7 7 0 1 0 -14 0M833.2 1119.2a7 7 0 1 0 14 0a7 7 0 1 0 -14 0M835.6 1119.2a7 7 0 1 0 14 0a7 7 0 1 0 -14 0" fill="#0000ff"/>
<path d="M229.8 1110.4L221.6 1125.4L238.0 1125.4ZM230.6 1110.4L222.4 1125.4L238.8 1125.4ZM231.4 1110.4L223.2 1125.4L239.6 1125.4ZM232.2 1110.4L224.0 1125.4L240.4 1125.4ZM233.0 1110.4L224.8 1125.4L241.2 1125.4ZM233.8 1110.4L225.6 1125.4L242.0 1125.4ZM234.6 1110.4L226.4 1125.4L242.8 1125.4ZM235.4 1110.4L227.2 1125.4L243.6 1125.4ZM236.2 1110.4L228.0 1125.4L244.4 1125.4ZM237.0 1110.4L228.8 1125.4L245.2 1125.4ZM237.8 1110.4L229.6 1125.4L246.0 1125.4ZM238.6 1110.4L230.4 1125.4L246.8 1125.4ZM239.4 1110.4L231.2 1125.4L247.6 1125.4ZM240.2 1110.4L232.0 1125.4L248.4 1125.4ZM241.0 1110.4L232.8 1125.4L249.2 1125.4ZM241.8 1110.4L233.6 1125.4L250.0 1125.4ZM242.6 1110.4L234.4 1125.4L250.8 1125.4ZM243.4 1110.4L235.2 1125.4L251.6 1125.4ZM244.2 1110.4L236.0 1125.4L252.4 1125.4ZM245.0 1110.4L236.8 1125.4L253.2 1125.4ZM245.8 1110.4L237.6 1125.4L254.0 1125.4ZM246.6 1110.4L238.4 1125.4L254.8 1125.4ZM247.4 1110.4L239.2 1125.4L255.6 1125.4ZM248.2 1110.4L240.0 1125.4L256.4 1125.4ZM249.0 1110.4L240.8 1125.4L257.2 1125.4ZM249.7 1110.4L241.5 1125.4L257.9 1125.4ZM250.5 1110.4L242.3 1125.4L258.7 1125.4ZM251.3 1110.4L243.1 1125.4L259.5 1125.4ZM252.1 1110.4L243.9 1125.4L260.3 1125.4ZM252.9 1110.4L244.7 1125.4L261.1 1125.4ZM253.7 1110.4L245.5 1125.4L261.9 1125.4ZM254.5 1110.4L246.3 1125.4L262.7 1125.4ZM255.3 1110.4L247.1 1125.4L263.5 1125.4ZM256.1 1110.4L247.9 1125.4L264.3 1125.4ZM256.9 1110.4L248.7 1125.4L265.1 1125.4ZM257.7 1110.4L249.5 1125.4L265.9 1125.4ZM258.5 1110.4L250.3 1125.4L266.7 1125.4ZM259.3 1110.4L251.1 1125.4L267.5 1125.4ZM260.1 1110.4L251.9 1125.4L268.3 1125.4ZM260.9 1110.4L252.7 1125.4L269.1 1125.4ZM261.7 1110.4L253.5 1125.4L269.9 1125.4ZM262.5 1110.4L254.3 1125.4L270.7 1125.4ZM263.3 1110.4L255.1 1125.4L271.5 1125.4ZM264.1 1110.4L255.9 1125.4L272.3 1125.4ZM264.9 1110.4L256.7 1125.4L273.1 1125.4ZM265.7 1110.4L257.5 1125.4L273.9 1125.4ZM266.5 1110.4L258.3 1125.4L274.7 1125.4ZM267.3 1110.4L259.1 1125.4L275.5 1125.4ZM268.1 1110.4L259.9 1125.4L276.3 1125.4ZM268.9 1110.4L260.7 1125.4L277.1 1125.4ZM269.7 1110.4L261.5 1125.4L277.9 1125.4ZM270.5 1110.4L262.3 1125.4L278.7 1125.4ZM271.3 1110.4L263.1 1125.4L279.5 1125.4ZM272.1 1110.4L263.9 1125.4L280.3 1125.4ZM272.9 1110.4L264.7 1125.4L281.1 1125.4ZM273.7 1110.4L265.5 1125.4L281.9 1125.4ZM274.5 1110.4L266.3 1125.4L282.7 1125.4ZM275.3 1110.4L267.1 1125.4L283.5 1125.4ZM276.1 1110.4L267.9 1125.4L284.3 1125.4ZM276.9 1110.4L268.7 1125.4L285.1 1125.4ZM277.7 1110.4L269.5 1125.4L285.9 1125.4ZM278.5 1110.4L270.3 1125.4L286.7 1125.4ZM279.3 1110.4L271.1 1125.4L287.5 1125.4ZM280.1 1110.4L271.9 1125.4L288.3 1125.4ZM280.9 1110.4L272.7 1125.4L289.1 1125.4ZM281.7 1110.4L273.5 1125.4L289.9 1125.4ZM282.5 1110.4L274.3 1125.4L290.7 1125.4ZM283.3 1110.4L275.1 1125.4L291.5 1125.4ZM284.1 1110.4L275.9 1125.4L292.3 1125.4ZM284.9 1110.4L276.7 1125.4L293.1 1125.4ZM285.7 1110.4L277.5 1125.4L293.9 1125.4ZM286.5 1110.4L278.3 1125.4L294.7 1125.4ZM287.3 1110.4L279.1 1125.4L295.5 1125.4ZM288.0 1110.4L279.8 1125.4L296.2 1125.4ZM288.8 1110.4L280.6 1125.4L297.0 1125.4ZM289.6 1110.4L281.4 1125.4L297.8 1125.4ZM290.4 1110.4L282.2 1125.4L298.6 1125.4ZM291.2 1110.4L283.0 1125.4L299.4 1125.4ZM292.0 1110.4L283.8 1125.4L300.2 1125.4ZM292.8 1110.4L284.6 1125.4L301.0 1125.4ZM293.6 1110.4L285.4 1125.4L301.8 1125.4ZM294.4 1110.4L286.2 1125.4L302.6 1125.4ZM295.2 1110.4L287.0 1125.4L303.4 1125.4ZM296.0 1110.4L287.8 1125.4L304.2 1125.4ZM296.8 1110.4L288.6 1125.4L305.0 1125.4ZM297.6 1110.4L289.4 1125.4L305.8 1125.4ZM298.4 1110.4L290.2 1125.4L306.6 1125.4ZM299.2 1110.4L291.0 1125.4L307.4 1125.4ZM300.0 1110.4L291.8 1125.4L308.2 1125.4ZM300.8 1110.4L292.6 1125.4L309.0 1125.4ZM301.6 1110.4L293.4 1125.4L309.8 1125.4ZM302.4 1110.4L294.2 1125.4L310.6 1125.4ZM303.2 1110.4L295.0 1125.4L311.4 1125.4ZM304.0 1110.4L295.8 1125.4L312.2 1125.4ZM304.8 1110.4L296.6 1125.4L313.0 1125.4ZM305.6 1110.4L297.4 1125.4L313.8 1125.4ZM306.4 1110.4L298.2 1125.4L314.6 1125.4ZM307.2 1110.4L299.0 1125.4L315.4 1125.4ZM308.0 1110.4L299.8 1125.4L316.2 1125.4ZM308.8 1110.4L300.6 1125.4L317.0 1125.4ZM309.6 1110.4L301.4 1125.4L317.8 1125.4ZM310.4 1110.4L302.2 1125.4L318.6 1125.4ZM311.2 1110.4L303.0 1125.4L319.4 1125.4ZM312.0 1110.4L303.8 1125.4L320.2 1125.4ZM312.8 1110.4L304.6 1125.4L321.0 1125.4ZM313.6 1110.4L305.4 1125.4L321.8 1125.4ZM314.4 1110.4L306.2 1125.4L322.6 1125.4ZM315.2 1110.4L307.0 1125.4L323.4 1125.4ZM316.0 1110.4L307.8 1125.4L324.2 1125.4ZM316.8 1110.4L308.6 1125.4L325.0 1125.4ZM317.6 1110.4L309.4 1125.4L325.8 1125.4ZM318.4 1110.4L310.2 1125.4L326.6 1125.4ZM319.2 1110.4L311.0 1125.4L327.4 1125.4ZM320.0 1110.4L311.8 1125.4L328.2 1125.4ZM320.8 1110.4L312.6 1125.4L329.0 1125.4ZM321.6 1110.4L313.4 1125.4L329.8 1125.4ZM322.4 1110.4L314.2 1125.4L330.6 1125.4ZM323.2 1110.4L315.0 1125.4L331.4 1125.4ZM324.0 1110.4L315.8 1125.4L332.2 1125.4ZM324.8 1110.4L316.6 1125.4L333.0 1125.4ZM325.6 1110.4L317.4 1125.4L333.8 1125.4ZM326.3 1110.4L318.1 1125.4L334.5 1125.4ZM327.1 1110.4L318.9 1125.4L335.3 1125.4ZM327.9 1110.4L319.7 1125.4L336.1 1125.4ZM328.7 1110.4L320.5 1125.4L336.9 1125.4ZM329.5 1110.4L321.3 1125.4L337.7 1125.4ZM330.3 1110.4L322.1 1125.4L338.5 1125.4ZM331.1 1110.4L322.9 1125.4L339.3 1125.4ZM331.9 1110.4L323.7 1125.4L340.1 1125.4ZM332.7 1110.4L324.5 1125.4L340.9 1125.4ZM333.5 1110.4L325.3 1125.4L341.7 1125.4ZM334.3 1110.4L326.1 1125.4L342.5 1125.4ZM335.1 1110.4L326.9 1125.4L343.3 1125.4ZM335.9 1110.4L327.7 1125.4L344.1 1125.4ZM336.7 1110.4L328.5 1125.4L344.9 1125.4ZM337.5 1110.4L329.3 1125.4L345.7 1125.4ZM338.3 1110.4L330.1 1125.4L346.5 1125.4ZM339.1 1110.4L330.9 1125.4L347.3 1125.4ZM339.9 1110.4L331.7 1125.4L348.1 1125.4ZM340.7 1110.4L332.5 1125.4L348.9 1125.4ZM341.5 1110.4L333.3 1125.4L349.7 1125.4ZM342.3 1110.4L334.1 1125.4L350.5 1125.4ZM343.1 1110.4L334.9 1125.4L351.3 1125.4ZM343.9 1110.4L335.7 1125.4L352.1 1125.4ZM344.7 1110.4L336.5 1125.4L352.9 1125.4ZM345.5 1110.4L337.3 1125.4L353.7 1125.4ZM346.3 1110.4L338.1 1125.4L354.5 1125.4ZM347.1 1110.4L338.9 1125.4L355.3 1125.4ZM347.9 1110.4L339.7 1125.4L356.1 1125.4ZM348.7 1110.4L340.5 1125.4L356.9 1125.4ZM349.5 1110.4L341.3 1125.4L357.7 1125.4ZM350.3 1110.4L342.1 1125.4L358.5 1125.4ZM351.1 1110.4L342.9 1125.4L359.3 1125.4ZM351.9 1110.4L343.7 1125.4L360.1 1125.4ZM352.7 1110.4L344.5 1125.4L360.9 1125.4ZM353.5 1110.4L345.3 1125.4L361.7 1125.4ZM354.3 1110.4L346.1 1125.4L362.5 1125.4ZM355.1 1110.4L346.9 1125.4L363.3 1125.4ZM355.9 1110.4L347.7 1125.4L364.1 1125.4ZM356.7 1110.4L348.5 1125.4L364.9 1125.4ZM357.5 1110.4L349.3 1125.4L365.7 1125.4ZM358.3 1110.4L350.1 1125.4L366.5 1125.4ZM359.1 1110.4L350.9 1125.4L367.3 1125.4ZM359.9 1110.4L351.7 1125.4L368.1 1125.4ZM360.7 1110.4L352.5 1125.4L368.9 1125.4ZM361.5 1110.4L353.3 1125.4L369.7 1125.4ZM362.3 1110.4L354.1 1125.4L370.5 1125.4ZM363.1 1110.4L354.9 1125.4L371.3 1125.4ZM363.9 1110.4L355.7 1125.4L372.1 1125.4ZM364.6 1110.4L356.4 1125.4L372.8 1125.4ZM365.4 1110.4L357.2 1125.4L373.6 1125.4ZM366.2 1110.4L358.0 1125.4L374.4 1125.4ZM367.0 1110.4L358.8 1125.4L375.2 1125.4ZM367.8 1110.4L359.6 1125.4L376.0 1125.4ZM368.6 1110.4L360.4 1125.4L376.8 1125.4ZM369.4 1110.4L361.2 1125.4L377.6 1125.4ZM370.2 1110.4L362.0 1125.4L378.4 1125.4ZM371.0 1110.4L362.8 1125.4L379.2 1125.4ZM371.8 1110.4L363.6 1125.4L380.0 1125.4ZM372.6 1110.4L364.4 1125.4L380.8 1125.4ZM373.4 1110.4L365.2 1125.4L381.6 1125.4ZM374.2 1110.4L366.0 1125.4L382.4 1125.4ZM375.0 1110.4L366.8 1125.4L383.2 1125.4ZM375.8 1110.4L367.6 1125.4L384.0 1125.4ZM376.6 1110.4L368.4 1125.4L384.8 1125.4ZM377.4 1110.4L369.2 1125.4L385.6 1125.4ZM378.2 1110.4L370.0 1125.4L386.4 1125.4ZM379.0 1110.4L370.8 1125.4L387.2 1125.4ZM379.8 1110.4L371.6 1125.4L388.0 1125.4ZM380.6 1110.4L372.4 1125.4L388.8 1125.4ZM381.4 1110.4L373.2 1125.4L389.6 1125.4ZM382.2 1110.4L374.0 1125.4L390.4 1125.4ZM383.0 1110.4L374.8 1125.4L391.2 1125.4ZM383.8 1110.4L375.6 1125.4L392.0 1125.4ZM384.6 1110.4L376.4 1125.4L392.8 1125.4ZM385.4 1110.4L377.2 1125.4L393.6 1125.4ZM386.2 1110.4L378.0 1125.4L394.4 1125.4ZM387.0 1110.4L378.8 1125.4L395.2 1125.4ZM387.8 1110.4L379.6 1125.4L396.0 1125.4ZM388.6 1110.4L380.4 1125.4L396.8 1125.4ZM389.4 1110.4L381.2 1125.4L397.6 1125.4ZM390.2 1110.4L382.0 1125.4L398.4 1125.4ZM391.0 1110.4L382.8 1125.4L399.2 1125.4ZM391.8 1110.4L383.6 1125.4L400.0 1125.4ZM392.6 1110.4L384.4 1125.4L400.8 1125.4ZM393.4 1110.4L385.2 1125.4L401.6 1125.4ZM394.2 1110.4L386.0 1125.4L402.4 1125.4ZM395.0 1110.4L386.8 1125.4L403.2 1125.4ZM395.8 1110.4L387.6 1125.4L404.0 1125.4ZM396.6 1110.4L388.4 1125.4L404.8 1125.4ZM397.4 1110.4L389.2 1125.4L405.6 1125.4ZM398.2 1110.4L390.0 1125.4L406.4 1125.4ZM399.0 1110.4L390.8 1125.4L407.2 1125.4ZM399.8 1110.4L391.6 1125.4L408.0 1125.4ZM400.6 1110.4L392.4 1125.4L408.8 1125.4ZM401.4 1110.4L393.2 1125.4L409.6 1125.4ZM402.2 1110.4L394.0 1125.4L410.4 1125.4ZM402.9 1110.4L394.7 1125.4L411.1 1125.4ZM403.7 1110.4L395.5 1125.4L411.9 1125.4ZM404.5 1110.4L396.3 1125.4L412.7 1125.4ZM405.3 1110.4L397.1 1125.4L413.5 1125.4ZM406.1 1110.4L397.9 1125.4L414.3 1125.4ZM406.9 1110.4L398.7 1125.4L415.1 1125.4ZM407.7 1110.4L399.5 1125.4L415.9 1125.4ZM408.5 1110.4L400.3 1125.4L416.7 1125.4ZM409.3 1110.4L401.1 1125.4L417.5 1125.4ZM410.1 1110.4L401.9 1125.4L418.3 1125.4ZM410.9 1110.4L402.7 1125.4L419.1 1125.4ZM411.7 1110.4L403.5 1125.4L419.9 1125.4ZM412.5 1110.4L404.3 1125.4L420.7 1125.4ZM413.3 1110.4L405.1 1125.4L421.5 1125.4ZM414.1 1110.4L405.9 1125.4L422.3 1125.4ZM414.9 1110.4L406.7 1125.4L423.1 1125.4ZM415.7 1110.4L407.5 1125.4L423.9 1125.4ZM416.5 1110.4L408.3 1125.4L424.7 1125.4ZM417.3 1110.4L409.1 1125.4L425.5 1125.4ZM418.1 1110.4L409.9 1125.4L426.3 1125.4ZM418.9 1110.4L410.7 1125.4L427.1 1125.4ZM419.7 1110.4L411.5 1125.4L427.9 1125.4ZM420.5 1110.4L412.3 1125.4L428.7 1125.4ZM421.3 1110.4L413.1 1125.4L429.5 1125.4ZM422.1 1110.4L413.9 1125.4L430.3 1125.4ZM422.9 1110.4L414.7 1125.4L431.1 1125.4ZM423.7 1110.4L415.5 1125.4L431.9 1125.4ZM424.5 1110.4L416.3 1125.4L432.7 1125.4ZM425.3 1110.4L417.1 1125.4L433.5 1125.4ZM426.1 1110.4L417.9 1125.4L434.3 1125.4ZM426.9 1110.4L418.7 1125.4L435.1 1125.4ZM427.7 1110.4L419.5 1125.4L435.9 1125.4ZM428.5 1110.4L420.3 1125.4L436.7 1125.4ZM429.3 1110.4L421.1 1125.4L437.5 1125.4ZM430.1 1110.4L421.9 1125.4L438.3 1125.4ZM430.9 1110.4L422.7 1125.4L439.1 1125.4ZM431.7 1110.4L423.5 1125.4L439.9 1125.4ZM432.5 1110.4L424.3 1125.4L440.7 1125.4ZM433.3 1110.4L425.1 1125.4L441.5 1125.4ZM434.1 1110.4L425.9 1125.4L442.3 1125.4ZM434.9 1110.4L426.7 1125.4L443.1 1125.4ZM435.7 1110.4L427.5 1125.4L443.9 1125.4ZM436.5 1110.4L428.3 1125.4L444.7 1125.4ZM437.3 1110.4L429.1 1125.4L445.5 1125.4ZM438.1 1110.4L429.9 1125.4L446.3 1125.4ZM438.9 1110.4L430.7 1125.4L447.1 1125.4ZM439.7 1110.4L431.5 1125.4L447.9 1125.4ZM440.5 1110.4L432.3 1125.4L448.7 1125.4ZM441.2 1110.4L433.0 1125.4L449.4 1125.4ZM442.0 1110.4L433.8 1125.4L450.2 1125.4ZM442.8 1110.4L434.6 1125.4L451.0 1125.4ZM443.6 1110.4L435.4 1125.4L451.8 1125.4ZM444.4 1110.4L436.2 1125.4L452.6 1125.4ZM445.2 1110.4L437.0 1125.4L453.4 1125.4ZM446.0 1110.4L437.8 1125.4L454.2 1125.4ZM446.8 1110.4L438.6 1125.4L455.0 1125.4ZM447.6 1110.4L439.4 1125.4L455.8 1125.4ZM448.4 1110.4L440.2 1125.4L456.6 1125.4ZM449.2 1110.4L441.0 1125.4L457.4 1125.4ZM450.0 1110.4L441.8 1125.4L458.2 1125.4ZM450.8 1110.4L442.6 1125.4L459.0 1125.4ZM451.6 1110.4L443.4 1125.4L459.8 1125.4ZM452.4 1110.4L444.2 1125.4L460.6 1125.4ZM453.2 1110.4L445.0 1125.4L461.4 1125.4ZM454.0 1110.4L445.8 1125.4L462.2 1125.4ZM454.8 1110.4L446.6 1125.4L463.0 1125.4ZM455.6 1110.4L447.4 1125.4L463.8 1125.4ZM456.4 1110.4L448.2 1125.4L464.6 1125.4ZM457.2 1110.4L449.0 1125.4L465.4 1125.4ZM458.0 1110.4L449.8 1125.4L466.2 1125.4ZM458.8 1110.4L450.6 1125.4L467.0 1125.4ZM459.6 1110.4L451.4 1125.4L467.8 1125.4ZM460.4 1110.4L452.2 1125.4L468.6 1125.4ZM461.2 1110.4L453.0 1125.4L469.4 1125.4ZM462.0 1110.4L453.8 1125.4L470.2 1125.4ZM462.8 1110.4L454.6 1125.4L471.0 1125.4ZM463.6 1110.4L455.4 1125.4L471.8 1125.4ZM464.4 1110.4L456.2 1125.4L472.6 1125.4ZM465.2 1110.4L457.0 1125.4L473.4 1125.4ZM466.0 1110.4L457.8 1125.4L474.2 1125.4ZM466.8 1110.4L458.6 1125.4L475.0 1125.4ZM467.6 1110.4L459.4 1125.4L475.8 1125.4ZM468.4 1110.4L460.2 1125.4L476.6 1125.4ZM469.2 1110.4L461.0 1125.4L477.4 1125.4ZM470.0 1110.4L461.8 1125.4L478.2 1125.4ZM470.8 1110.4L462.6 1125.4L479.0 1125.4ZM471.6 1110.4L463.4 1125.4L479.8 1125.4ZM472.4 1110.4L464.2 1125.4L480.6 1125.4ZM473.2 1110.4L465.0 1125.4L481.4 1125.4ZM474.0 1110.4L465.8 1125.4L482.2 1125.4ZM474.8 1110.4L466.6 1125.4L483.0 1125.4ZM475.6 1110.4L467.4 1125.4L483.8 1125.4ZM476.4 1110.4L468.2 1125.4L484.6 1125.4ZM477.2 1110.4L469.0 1125.4L485.4 1125.4ZM478.0 1110.4L469.8 1125.4L486.2 1125.4ZM478.8 1110.4L470.6 1125.4L487.0 1125.4ZM479.5 1110.4L471.3 1125.4L487.7 1125.4ZM480.3 1110.4L472.1 1125.4L488.5 1125.4ZM481.1 1110.4L472.9 1125.4L489.3 1125.4ZM481.9 1110.4L473.7 1125.4L490.1 1125.4ZM482.7 1110.4L474.5 1125.4L490.9 1125.4ZM483.5 1110.4L475.3 1125.4L491.7 1125.4ZM484.3 1110.4L476.1 1125.4L492.5 1125.4ZM485.1 1110.4L476.9 1125.4L493.3 1125.4ZM485.9 1110.4L477.7 1125.4L494.1 1125.4ZM486.7 1110.4L478.5 1125.4L494.9 1125.4ZM487.5 1110.4L479.3 1125.4L495.7 1125.4ZM488.3 1110.4L480.1 1125.4L496.5 1125.4ZM489.1 1110.4L480.9 1125.4L497.3 1125.4ZM489.9 1110.4L481.7 1125.4L498.1 1125.4ZM490.7 1110.4L482.5 1125.4L498.9 1125.4ZM491.5 1110.4L483.3 1125.4L499.7 1125.4ZM492.3 1110.4L484.1 1125.4L500.5 1125.4ZM493.1 1110.4L484.9 1125.4L501.3 1125.4ZM493.9 1110.4L485.7 1125.4L502.1 1125.4ZM494.7 1110.4L486.5 1125.4L502.9 1125.4ZM495.5 1110.4L487.3 1125.4L503.7 1125.4ZM496.3 1110.4L488.1 1125.4L504.5 1125.4ZM497.1 1110.4L488.9 1125.4L505.3 1125.4ZM497.9 1110.4L489.7 1125.4L506.1 1125.4ZM498.7 1110.4L490.5 1125.4L506.9 1125.4ZM499.5 1110.4L491.3 1125.4L507.7 1125.4ZM500.3 1110.4L492.1 1125.4L508.5 1125.4ZM501.1 1110.4L492.9 1125.4L509.3 1125.4ZM501.9 1110.4L493.7 1125.4L510.1 1125.4ZM502.7 1110.4L494.5 1125.4L510.9 1125.4ZM503.5 1110.4L495.3 1125.4L511.7 1125.4ZM504.3 1110.4L496.1 1125.4L512.5 1125.4ZM505.1 1110.4L496.9 1125.4L513.3 1125.4ZM505.9 1110.4L497.7 1125.4L514.1 1125.4ZM506.7 1110.4L498.5 1125.4L514.9 1125.4ZM507.5 1110.4L499.3 1125.4L515.7 1125.4ZM508.3 1110.4L500.1 1125.4L516.5 1125.4ZM509.1 1110.4L500.9 1125.4L517.3 1125.4ZM509.9 1110.4L501.7 1125.4L518.1 1125.4ZM510.7 1110.4L502.5 1125.4L518.9 1125.4ZM511.5 1110.4L503.3 1125.4L519.7 1125.4ZM512.3 1110.4L504.1 1125.4L520.5 1125.4ZM513.1 1110.4L504.9 1125.4L521.3 1125.4ZM513.9 1110.4L505.7 1125.4L522.1 1125.4ZM514.7 1110.4L506.5 1125.4L522.9 1125.4ZM515.5 1110.4L507.3 1125.4L523.7 1125.4ZM516.3 1110.4L508.1 1125.4L524.5 1125.4ZM517.1 1110.4L508.9 1125.4L525.3 1125.4ZM517.8 1110.4L509.6 1125.4L526.0 1125.4ZM518.6 1110.4L510.4 1125.4L526.8 1125.4ZM519.4 1110.4L511.2 1125.4L527.6 1125.4ZM520.2 1110.4L512.0 1125.4L528.4 1125.4ZM521.0 1110.4L512.8 1125.4L529.2 1125.4ZM521.8 1110.4L513.6 1125.4L530.0 1125.4ZM522.6 1110.4L514.4 1125.4L530.8 1125.4ZM523.4 1110.4L515.2 1125.4L531.6 1125.4ZM524.2 1110.4L516.0 1125.4L532.4 1125.4ZM525.0 1110.4L516.8 1125.4L533.2 1125.4ZM525.8 1110.4L517.6 1125.4L534.0 1125.4ZM526.6 1110.4L518.4 1125.4L534.8 1125.4ZM527.4 1110.4L519.2 1125.4L535.6 1125.4ZM528.2 1110.4L520.0 1125.4L536.4 1125.4ZM529.0 1110.4L520.8 1125.4L537.2 1125.4ZM529.8 1110.4L521.6 1125.4L538.0 1125.4ZM530.6 1110.4L522.4 1125.4L538.8 1125.4ZM531.4 1110.4L523.2 1125.4L539.6 1125.4ZM532.2 1110.4L524.0 1125.4L540.4 1125.4ZM533.0 1110.4L524.8 1125.4L541.2 1125.4ZM533.8 1110.4L525.6 1125.4L542.0 1125.4ZM534.6 1110.4L526.4 1125.4L542.8 1125.4ZM535.4 1110.4L527.2 1125.4L543.6 1125.4ZM536.2 1110.4L528.0 1125.4L544.4 1125.4ZM537.0 1110.4L528.8 1125.4L545.2 1125.4ZM537.8 1110.4L529.6 1125.4L546.0 1125.4ZM538.6 1110.4L530.4 1125.4L546.8 1125.4ZM539.4 1110.4L531.2 1125.4L547.6 1125.4ZM540.2 1110.4L532.0 1125.4L548.4 1125.4ZM541.0 1110.4L532.8 1125.4L549.2 1125.4ZM541.8 1110.4L533.6 1125.4L550.0 1125.4ZM542.6 1110.4L534.4 1125.4L550.8 1125.4ZM543.4 1110.4L535.2 1125.4L551.6 1125.4ZM544.2 1110.4L536.0 1125.4L552.4 1125.4ZM545.0 1110.4L536.8 1125.4L553.2 1125.4ZM545.8 1110.4L537.6 1125.4L554.0 1125.4ZM546.6 1110.4L538.4 1125.4L554.8 1125.4ZM547.4 1110.4L539.2 1125.4L555.6 1125.4ZM548.2 1110.4L540.0 1125.4L556.4 1125.4ZM549.0 1110.4L540.8 1125.4L557.2 1125.4ZM549.8 1110.4L541.6 1125.4L558.0 1125.4ZM550.6 1110.4L542.4 1125.4L558.8 1125.4ZM551.4 1110.4L543.2 1125.4L559.6 1125.4ZM552.2 1110.4L544.0 1125.4L560.4 1125.4ZM553.0 1110.4L544.8 1125.4L561.2 1125.4ZM553.8 1110.4L545.6 1125.4L562.0 1125.4ZM554.6 1110.4L546.4 1125.4L562.8 1125.4ZM555.4 1110.4L547.2 1125.4L563.6 1125.4ZM556.1 1110.4L547.9 1125.4L564.3 1125.4ZM556.9 1110.4L548.7 1125.4L565.1 1125.4ZM557.7 1110.4L549.5 1125.4L565.9 1125.4ZM558.5 1110.4L550.3 1125.4L566.7 1125.4ZM559.3 1110.4L551.1 1125.4L567.5 1125.4ZM560.1 1110.4L551.9 1125.4L568.3 1125.4ZM560.9 1110.4L552.7 1125.4L569.1 1125.4ZM561.7 1110.4L553.5 1125.4L569.9 1125.4ZM562.5 1110.4L554.3 1125.4L570.7 1125.4ZM563.3 1110.4L555.1 1125.4L571.5 1125.4ZM564.1 1110.4L555.9 1125.4L572.3 1125.4ZM564.9 1110.4L556.7 1125.4L573.1 1125.4ZM565.7 1110.4L557.5 1125.4L573.9 1125.4ZM566.5 1110.4L558.3 1125.4L574.7 1125.4ZM567.3 1110.4L559.1 1125.4L575.5 1125.4ZM568.1 1110.4L559.9 1125.4L576.3 1125.4ZM568.9 1110.4L560.7 1125.4L577.1 1125.4ZM569.7 1110.4L561.5 1125.4L577.9 1125.4ZM570.5 1110.4L562.3 1125.4L578.7 1125.4ZM571.3 1110.4L563.1 1125.4L579.5 1125.4ZM572.1 1110.4L563.9 1125.4L580.3 1125.4ZM572.9 1110.4L564.7 1125.4L581.1 1125.4ZM573.7 1110.4L565.5 1125.4L581.9 1125.4ZM574.5 1110.4L566.3 1125.4L582.7 1125.4ZM575.3 1110.4L567.1 1125.4L583.5 1125.4ZM576.1 1110.4L567.9 1125.4L584.3 1125.4ZM576.9 1110.4L568.7 1125.4L585.1 1125.4ZM577.7 1110.4L569.5 1125.4L585.9 1125.4ZM578.5 1110.4L570.3 1125.4L586.7 1125.4ZM579.3 1110.4L571.1 1125.4L587.5 1125.4ZM580.1 1110.4L571.9 1125.4L588.3 1125.4ZM580.9 1110.4L572.7 1125.4L589.1 1125.4ZM581.7 1110.4L573.5 1125.4L589.9 1125.4ZM582.5 1110.4L574.3 1125.4L590.7 1125.4ZM583.3 1110.4L575.1 1125.4L591.5 1125.4ZM584.1 1110.4L575.9 1125.4L592.3 1125.4ZM584.9 1110.4L576.7 1125.4L593.1 1125.4ZM585.7 1110.4L577.5 1125.4L593.9 1125.4ZM586.5 1110.4L578.3 1125.4L594.7 1125.4ZM587.3 1110.4L579.1 1125.4L595.5 1125.4ZM588.1 1110.4L579.9 1125.4L596.3 1125.4ZM588.9 1110.4L580.7 1125.4L597.1 1125.4ZM589.7 1110.4L581.5 1125.4L597.9 1125.4ZM590.5 1110.4L582.3 1125.4L598.7 1125.4ZM591.3 1110.4L583.1 1125.4L599.5 1125.4ZM592.1 1110.4L583.9 1125.4L600.3 1125.4ZM592.9 1110.4L584.7 1125.4L601.1 1125.4ZM593.7 1110.4L585.5 1125.4L601.9 1125.4ZM594.5 1110.4L586.3 1125.4L602.7 1125.4ZM595.2 1110.4L587.0 1125.4L603.4 1125.4ZM596.0 1110.4L587.8 1125.4L604.2 1125.4ZM596.8 1110.4L588.6 1125.4L605.0 1125.4ZM597.6 1110.4L589.4 1125.4L605.8 1125.4ZM598.4 1110.4L590.2 1125.4L606.6 1125.4ZM599.2 1110.4L591.0 1125.4L607.4 1125.4ZM600.0 1110.4L591.8 1125.4L608.2 1125.4ZM600.8 1110.4L592.6 1125.4L609.0 1125.4ZM601.6 1110.4L593.4 1125.4L609.8 1125.4ZM602.4 1110.4L594.2 1125.4L610.6 1125.4ZM603.2 1110.4L595.0 1125.4L611.4 1125.4ZM604.0 1110.4L595.8 1125.4L612.2 1125.4ZM604.8 1110.4L596.6 1125.4L613.0 1125.4ZM605.6 1110.4L597.4 1125.4L613.8 1125.4ZM606.4 1110.4L598.2 1125.4L614.6 1125.4ZM607.2 1110.4L599.0 1125.4L615.4 1125.4ZM608.0 1110.4L599.8 1125.4L616.2 1125.4ZM608.8 1110.4L600.6 1125.4L617.0 1125.4ZM609.6 1110.4L601.4 1125.4L617.8 1125.4ZM610.4 1110.4L602.2 1125.4L618.6 1125.4ZM611.2 1110.4L603.0 1125.4L619.4 1125.4ZM612.0 1110.4L603.8 1125.4L620.2 1125.4ZM612.8 1110.4L604.6 1125.4L621.0 1125.4ZM613.6 1110.4L605.4 1125.4L621.8 1125.4ZM614.4 1110.4L606.2 1125.4L622.6 1125.4ZM615.2 1110.4L607.0 1125.4L623.4 1125.4ZM616.0 1110.4L607.8 1125.4L624.2 1125.4ZM616.8 1110.4L608.6 1125.4L625.0 1125.4ZM617.6 1110.4L609.4 1125.4L625.8 1125.4ZM618.4 1110.4L610.2 1125.4L626.6 1125.4ZM619.2 1110.4L611.0 1125.4L627.4 1125.4ZM620.0 1110.4L611.8 1125.4L628.2 1125.4ZM620.8 1110.4L612.6 1125.4L629.0 1125.4ZM621.6 1110.4L613.4 1125.4L629.8 1125.4ZM622.4 1110.4L614.2 1125.4L630.6 1125.4ZM623.2 1110.4L615.0 1125.4L631.4 1125.4ZM624.0 1110.4L615.8 1125.4L632.2 1125.4ZM624.8 1110.4L616.6 1125.4L633.0 1125.4ZM625.6 1110.4L617.4 1125.4L633.8 1125.4ZM626.4 1110.4L618.2 1125.4L634.6 1125.4ZM627.2 1110.4L619.0 1125.4L635.4 1125.4ZM628.0 1110.4L619.8 1125.4L636.2 1125.4ZM628.8 1110.4L620.6 1125.4L637.0 1125.4ZM629.6 1110.4L621.4 1125.4L637.8 1125.4ZM630.4 1110.4L622.2 1125.4L638.6 1125.4ZM631.2 1110.4L623.0 1125.4L639.4 1125.4ZM632.0 1110.4L623.8 1125.4L640.2 1125.4ZM632.8 1110.4L624.6 1125.4L641.0 1125.4ZM633.5 1110.4L625.3 1125.4L641.7 1125.4ZM634.3 1110.4L626.1 1125.4L642.5 1125.4ZM635.1 1110.4L626.9 1125.4L643.3 1125.4ZM635.9 1110.4L627.7 1125.4L644.1 1125.4ZM636.7 1110.4L628.5 1125.4L644.9 1125.4ZM637.5 1110.4L629.3 1125.4L645.7 1125.4ZM638.3 1110.4L630.1 1125.4L646.5 1125.4ZM639.1 1110.4L630.9 1125.4L647.3 1125.4ZM639.9 1110.4L631.7 1125.4L648.1 1125.4ZM640.7 1110.4L632.5 1125.4L648.9 1125.4ZM641.5 1110.4L633.3 1125.4L649.7 1125.4ZM642.3 1110.4L634.1 1125.4L650.5 1125.4ZM643.1 1110.4L634.9 1125.4L651.3 1125.4ZM643.9 1110.4L635.7 1125.4L652.1 1125.4ZM644.7 1110.4L636.5 1125.4L652.9 1125.4ZM645.5 1110.4L637.3 1125.4L653.7 1125.4ZM646.3 1110.4L638.1 1125.4L654.5 1125.4ZM647.1 1110.4L638.9 1125.4L655.3 1125.4ZM647.9 1110.4L639.7 1125.4L656.1 1125.4ZM648.7 1110.4L640.5 1125.4L656.9 1125.4ZM649.5 1110.4L641.3 1125.4L657.7 1125.4ZM650.3 1110.4L642.1 1125.4L658.5 1125.4ZM651.1 1110.4L642.9 1125.4L659.3 1125.4ZM651.9 1110.4L643.7 1125.4L660.1 1125.4ZM652.7 1110.4L644.5 1125.4L660.9 1125.4ZM653.5 1110.4L645.3 1125.4L661.7 1125.4ZM654.3 1110.4L646.1 1125.4L662.5 1125.4ZM655.1 1110.4L646.9 1125.4L663.3 1125.4ZM655.9 1110.4L647.7 1125.4L664.1 1125.4ZM656.7 1110.4L648.5 1125.4L664.9 1125.4ZM657.5 1110.4L649.3 1125.4L665.7 1125.4ZM658.3 1110.4L650.1 1125.4L666.5 1125.4ZM659.1 1110.4L650.9 1125.4L667.3 1125.4ZM659.9 1110.4L651.7 1125.4L668.1 1125.4ZM660.7 1110.4L652.5 1125.4L668.9 1125.4ZM661.5 1110.4L653.3 1125.4L669.7 1125.4ZM662.3 1110.4L654.1 1125.4L670.5 1125.4ZM663.1 1110.4L654.9 1125.4L671.3 1125.4ZM663.9 1110.4L655.7 1125.4L672.1 1125.4ZM664.7 1110.4L656.5 1125.4L672.9 1125.4ZM665.5 1110.4L657.3 1125.4L673.7 1125.4ZM666.3 1110.4L658.1 1125.4L674.5 1125.4ZM667.1 1110.4L658.9 1125.4L675.3 1125.4ZM667.9 1110.4L659.7 1125.4L676.1 1125.4ZM668.7 1110.4L660.5 1125.4L676.9 1125.4ZM669.5 1110.4L661.3 1125.4L677.7 1125.4ZM670.3 1110.4L662.1 1125.4L678.5 1125.4ZM671.1 1110.4L662.9 1125.4L679.3 1125.4ZM671.8 1110.4L663.6 1125.4L680.0 1125.4ZM672.6 1110.4L664.4 1125.4L680.8 1125.4ZM673.4 1110.4L665.2 1125.4L681.6 1125.4ZM674.2 1110.4L666.0 1125.4L682.4 1125.4ZM675.0 1110.4L666.8 1125.4L683.2 1125.4ZM675.8 1110.4L667.6 1125.4L684.0 1125.4ZM676.6 1110.4L668.4 1125.4L684.8 1125.4ZM677.4 1110.4L669.2 1125.4L685.6 1125.4ZM678.2 1110.4L670.0 1125.4L686.4 1125.4ZM679.0 1110.4L670.8 1125.4L687.2 1125.4ZM679.8 1110.4L671.6 1125.4L688.0 1125.4ZM680.6 1110.4L672.4 1125.4L688.8 1125.4ZM681.4 1110.4L673.2 1125.4L689.6 1125.4ZM682.2 1110.4L674.0 1125.4L690.4 1125.4ZM683.0 1110.4L674.8 1125.4L691.2 1125.4ZM683.8 1110.4L675.6 1125.4L692.0 1125.4ZM684.6 1110.4L676.4 1125.4L692.8 1125.4ZM685.4 1110.4L677.2 1125.4L693.6 1125.4ZM686.2 1110.4L678.0 1125.4L694.4 1125.4ZM687.0 1110.4L678.8 1125.4L695.2 1125.4ZM687.8 1110.4L679.6 1125.4L696.0 1125.4ZM688.6 1110.4L680.4 1125.4L696.8 1125.4ZM689.4 1110.4L681.2 1125.4L697.6 1125.4ZM690.2 1110.4L682.0 1125.4L698.4 1125.4ZM691.0 1110.4L682.8 1125.4L699.2 1125.4ZM691.8 1110.4L683.6 1125.4L700.0 1125.4ZM692.6 1110.4L684.4 1125.4L700.8 1125.4ZM693.4 1110.4L685.2 1125.4L701.6 1125.4ZM694.2 1110.4L686.0 1125.4L702.4 1125.4ZM695.0 1110.4L686.8 1125.4L703.2 1125.4ZM695.8 1110.4L687.6 1125.4L704.0 1125.4ZM696.6 1110.4L688.4 1125.4L704.8 1125.4ZM697.4 1110.4L689.2 1125.4L705.6 1125.4ZM698.2 1110.4L690.0 1125.4L706.4 1125.4ZM699.0 1110.4L690.8 1125.4L707.2 1125.4ZM699.8 1110.4L691.6 1125.4L708.0 1125.4ZM700.6 1110.4L692.4 1125.4L708.8 1125.4ZM701.4 1110.4L693.2 1125.4L709.6 1125.4ZM702.2 1110.4L694.0 1125.4L710.4 1125.4ZM703.0 1110.4L694.8 1125.4L711.2 1125.4ZM703.8 1110.4L695.6 1125.4L712.0 1125.4ZM704.6 1110.4L696.4 1125.4L712.8 1125.4ZM705.4 1110.4L697.2 1125.4L713.6 1125.4ZM706.2 1110.4L698.0 1125.4L714.4 1125.4ZM707.0 1110.4L698.8 1125.4L715.2 1125.4ZM707.8 1110.4L699.6 1125.4L716.0 1125.4ZM708.6 1110.4L700.4 1125.4L716.8 1125.4ZM709.4 1110.4L701.2 1125.4L717.6 1125.4ZM710.1 1110.4L701.9 1125.4L718.3 1125.4ZM710.9 1110.4L702.7 1125.4L719.1 1125.4ZM711.7 1110.4L703.5 1125.4L719.9 1125.4ZM712.5 1110.4L704.3 1125.4L720.7 1125.4ZM713.3 1110.4L705.1 1125.4L721.5 1125.4ZM714.1 1110.4L705.9 1125.4L722.3 1125.4ZM714.9 1110.4L706.7 1125.4L723.1 1125.4ZM715.7 1110.4L707.5 1125.4L723.9 1125.4ZM716.5 1110.4L708.3 1125.4L724.7 1125.4ZM717.3 1110.4L709.1 1125.4L725.5 1125.4ZM718.1 1110.4L709.9 1125.4L726.3 1125.4ZM718.9 1110.4L710.7 1125.4L727.1 1125.4ZM719.7 1110.4L711.5 1125.4L727.9 1125.4ZM720.5 1110.4L712.3 1125.4L728.7 1125.4ZM721.3 1110.4L713.1 1125.4L729.5 1125.4ZM722.1 1110.4L713.9 1125.4L730.3 1125.4ZM722.9 1110.4L714.7 1125.4L731.1 1125.4ZM723.7 1110.4L715.5 1125.4L731.9 1125.4ZM724.5 1110.4L716.3 1125.4L732.7 1125.4ZM725.3 1110.4L717.1 1125.4L733.5 1125.4ZM726.1 1110.4L717.9 1125.4L734.3 1125.4ZM726.9 1110.4L718.7 1125.4L735.1 1125.4ZM727.7 1110.4L719.5 1125.4L735.9 1125.4ZM728.5 1110.4L720.3 1125.4L736.7 1125.4ZM729.3 1110.4L721.1 1125.4L737.5 1125.4ZM730.1 1110.4L721.9 1125.4L738.3 1125.4ZM730.9 1110.4L722.7 1125.4L739.1 1125.4ZM731.7 1110.4L723.5 1125.4L739.9 1125.4ZM732.5 1110.4L724.3 1125.4L740.7 1125.4ZM733.3 1110.4L725.1 1125.4L741.5 1125.4ZM734.1 1110.4L725.9 1125.4L742.3 1125.4ZM734.9 1110.4L726.7 1125.4L743.1 1125.4ZM735.7 1110.4L727.5 1125.4L743.9 1125.4ZM736.5 1110.4L728.3 1125.4L744.7 1125.4ZM737.3 1110.4L729.1 1125.4L745.5 1125.4ZM738.1 1110.4L729.9 1125.4L746.3 1125.4ZM738.9 1110.4L730.7 1125.4L747.1 1125.4ZM739.7 1110.4L731.5 1125.4L747.9 1125.4ZM740.5 1110.4L732.3 1125.4L748.7 1125.4ZM741.3 1110.4L733.1 1125.4L749.5 1125.4ZM742.1 1110.4L733.9 1125.4L750.3 1125.4ZM742.9 1110.4L734.7 1125.4L751.1 1125.4ZM743.7 1110.4L735.5 1125.4L751.9 1125.4ZM744.5 1110.4L736.3 1125.4L752.7 1125.4ZM745.3 1110.4L737.1 1125.4L753.5 1125.4ZM746.1 1110.4L737.9 1125.4L754.3 1125.4ZM746.9 1110.4L738.7 1125.4L755.1 1125.4ZM747.7 1110.4L739.5 1125.4L755.9 1125.4ZM748.4 1110.4L740.2 1125.4L756.6 1125.4ZM749.2 1110.4L741.0 1125.4L757.4 1125.4ZM750.0 1110.4L741.8 1125.4L758.2 1125.4ZM750.8 1110.4L742.6 1125.4L759.0 1125.4ZM751.6 1110.4L743.4 1125.4L759.8 1125.4ZM752.4 1110.4L744.2 1125.4L760.6 1125.4ZM753.2 1110.4L745.0 1125.4L761.4 1125.4ZM754.0 1110.4L745.8 1125.4L762.2 1125.4ZM754.8 1110.4L746.6 1125.4L763.0 1125.4ZM755.6 1110.4L747.4 1125.4L763.8 1125.4ZM756.4 1110.4L748.2 1125.4L764.6 1125.4ZM757.2 1110.4L749.0 1125.4L765.4 1125.4ZM758.0 1110.4L749.8 1125.4L766.2 1125.4ZM758.8 1110.4L750.6 1125.4L767.0 1125.4ZM759.6 1110.4L751.4 1125.4L767.8 1125.4ZM760.4 1110.4L752.2 1125.4L768.6 1125.4ZM761.2 1110.4L753.0 1125.4L769.4 1125.4ZM762.0 1110.4L753.8 1125.4L770.2 1125.4ZM762.8 1110.4L754.6 1125.4L771.0 1125.4ZM763.6 1110.4L755.4 1125.4L771.8 1125.4ZM764.4 1110.4L756.2 1125.4L772.6 1125.4ZM765.2 1110.4L757.0 1125.4L773.4 1125.4ZM766.0 1110.4L757.8 1125.4L774.2 1125.4ZM766.8 1110.4L758.6 1125.4L775.0 1125.4ZM767.6 1110.4L759.4 1125.4L775.8 1125.4ZM768.4 1110.4L760.2 1125.4L776.6 1125.4ZM769.2 1110.4L761.0 1125.4L777.4 1125.4ZM770.0 1110.4L761.8 1125.4L778.2 1125.4ZM770.8 1110.4L762.6 1125.4L779.0 1125.4ZM771.6 1110.4L763.4 1125.4L779.8 1125.4ZM772.4 1110.4L764.2 1125.4L780.6 1125.4ZM773.2 1110.4L765.0 1125.4L781.4 1125.4ZM774.0 1110.4L765.8 1125.4L782.2 1125.4ZM774.8 1110.4L766.6 1125.4L783.0 1125.4ZM775.6 1110.4L767.4 1125.4L783.8 1125.4ZM776.4 1110.4L768.2 1125.4L784.6 1125.4ZM777.2 1110.4L769.0 1125.4L785.4 1125.4ZM778.0 1110.4L769.8 1125.4L786.2 1125.4ZM778.8 1110.4L770.6 1125.4L787.0 1125.4ZM779.6 1110.4L771.4 1125.4L787.8 1125.4ZM780.4 1110.4L772.2 1125.4L788.6 1125.4ZM781.2 1110.4L773.0 1125.4L789.4 1125.4ZM782.0 1110.4L773.8 1125.4L790.2 1125.4ZM782.8 1110.4L774.6 1125.4L791.0 1125.4ZM783.6 1110.4L775.4 1125.4L791.8 1125.4ZM784.4 1110.4L776.2 1125.4L792.6 1125.4ZM785.2 1110.4L777.0 1125.4L793.4 1125.4ZM786.0 1110.4L777.8 1125.4L794.2 1125.4ZM786.7 1110.4L778.5 1125.4L794.9 1125.4ZM787.5 1110.4L779.3 1125.4L795.7 1125.4ZM788.3 1110.4L780.1 1125.4L796.5 1125.4ZM789.1 1110.4L780.9 1125.4L797.3 1125.4ZM789.9 1110.4L781.7 1125.4L798.1 1125.4ZM790.7 1110.4L782.5 1125.4L798.9 1125.4ZM791.5 1110.4L783.3 1125.4L799.7 1125.4ZM792.3 1110.4L784.1 1125.4L800.5 1125.4ZM793.1 1110.4L784.9 1125.4L801.3 1125.4ZM793.9 1110.4L785.7 1125.4L802.1 1125.4ZM794.7 1110.4L786.5 1125.4L802.9 1125.4ZM795.5 1110.4L787.3 1125.4L803.7 1125.4ZM796.3 1110.4L788.1 1125.4L804.5 1125.4ZM797.1 1110.4L788.9 1125.4L805.3 1125.4ZM797.9 1110.4L789.7 1125.4L806.1 1125.4ZM798.7 1110.4L790.5 1125.4L806.9 1125.4ZM799.5 1110.4L791.3 1125.4L807.7 1125.4ZM800.3 1110.4L792.1 1125.4L808.5 1125.4ZM801.1 1110.4L792.9 1125.4L809.3 1125.4ZM801.9 1110.4L793.7 1125.4L810.1 1125.4ZM802.7 1110.4L794.5 1125.4L810.9 1125.4ZM803.5 1110.4L795.3 1125.4L811.7 1125.4ZM804.3 1110.4L796.1 1125.4L812.5 1125.4ZM805.1 1110.4L796.9 1125.4L813.3 1125.4ZM805.9 1110.4L797.7 1125.4L814.1 1125.4ZM806.7 1110.4L798.5 1125.4L814.9 1125.4ZM807.5 1110.4L799.3 1125.4L815.7 1125.4ZM808.3 1110.4L800.1 1125.4L816.5 1125.4ZM809.1 1110.4L800.9 1125.4L817.3 1125.4ZM809.9 1110.4L801.7 1125.4L818.1 1125.4ZM810.7 1110.4L802.5 1125.4L818.9 1125.4ZM811.5 1110.4L803.3 1125.4L819.7 1125.4ZM812.3 1110.4L804.1 1125.4L820.5 1125.4ZM813.1 1110.4L804.9 1125.4L821.3 1125.4ZM813.9 1110.4L805.7 1125.4L822.1 1125.4ZM814.7 1110.4L806.5 1125.4L822.9 1125.4ZM815.5 1110.4L807.3 1125.4L823.7 1125.4ZM816.3 1110.4L808.1 1125.4L824.5 1125.4ZM817.1 1110.4L808.9 1125.4L825.3 1125.4ZM817.9 1110.4L809.7 1125.4L826.1 1125.4ZM818.7 1110.4L810.5 1125.4L826.9 1125.4ZM819.5 1110.4L811.3 1125.4L827.7 1125.4ZM820.3 1110.4L812.1 1125.4L828.5 1125.4ZM821.1 1110.4L812.9 1125.4L829.3 1125.4ZM821.9 1110.4L813.7 1125.4L830.1 1125.4ZM822.7 1110.4L814.5 1125.4L830.9 1125.4ZM823.5 1110.4L815.3 1125.4L831.7 1125.4ZM824.3 1110.4L816.1 1125.4L832.5 1125.4ZM825.0 1110.4L816.8 1125.4L833.2 1125.4ZM825.8 1110.4L817.6 1125.4L834.0 1125.4ZM826.6 1110.4L818.4 1125.4L834.8 1125.4ZM827.4 1110.4L819.2 1125.4L835.6 1125.4ZM828.2 1110.4L820.0 1125.4L836.4 1125.4ZM829.0 1110.4L820.8 1125.4L837.2 1125.4ZM829.8 1110.4L821.6 1125.4L838.0 1125.4ZM830.6 1110.4L822.4 1125.4L838.8 1125.4ZM831.4 1110.4L823.2 1125.4L839.6 1125.4ZM832.2 1110.4L824.0 1125.4L840.4 1125.4ZM833.0 1110.4L824.8 1125.4L841.2 1125.4ZM833.8 1110.4L825.6 1125.4L842.0 1125.4ZM834.6 1110.4L826.4 1125.4L842.8 1125.4ZM835.4 1110.4L827.2 1125.4L843.6 1125.4ZM836.2 1110.4L828.0 1125.4L844.4 1125.4ZM837.0 1110.4L828.8 1125.4L845.2 1125.4ZM837.8 1110.4L829.6 1125.4L846.0 1125.4ZM838.6 1110.4L830.4 1125.4L846.8 1125.4ZM839.4 1110.4L831.2 1125.4L847.6 1125.4ZM840.2 1110.4L832.0 1125.4L848.4 1125.4ZM841.0 1110.4L832.8 1125.4L849.2 1125.4ZM841.8 1110.4L833.6 1125.4L850.0 1125.4ZM842.6 1110.4L834.4 1125.4L850.8 1125.4Z" fill="#00c800"/>
</g>
<rect x="219.9" y="1109" width="632.5" height="530.3" stroke="#000" stroke-width="1.8" fill="none"/>
<text x="229.8" y="1682.6" font-size="44" text-anchor="middle">0</text>
<text x="352.4" y="1682.6" font-size="44" text-anchor="middle">20</text>
<text x="475" y="1682.6" font-size="44" text-anchor="middle">40</text>
<text x="597.6" y="1682.6" font-size="44" text-anchor="middle">60</text>
<text x="720.2" y="1682.6" font-size="44" text-anchor="middle">80</text>
<text x="842.8" y="1682.6" font-size="44" text-anchor="middle">100</text>
<text x="210.5" y="1595.8" font-size="44" text-anchor="end">50</text>
<text x="210.5" y="1518.4" font-size="44" text-anchor="end">100</text>
<text x="210.5" y="1441" font-size="44" text-anchor="end">150</text>
<text x="210.5" y="1363.6" font-size="44" text-anchor="end">200</text>
<text x="210.5" y="1286.2" font-size="44" text-anchor="end">250</text>
<text x="210.5" y="1208.8" font-size="44" text-anchor="end">300</text>
<text x="210.5" y="1131.4" font-size="44" text-anchor="end">350</text>
<text x="536.8" y="1745.4" font-size="44" text-anchor="middle" textLength="217.6" lengthAdjust="spacingAndGlyphs">Depth (nm)</text>
<text x="119.8" y="1383.4" font-size="44" text-anchor="middle" textLength="375.3" lengthAdjust="spacingAndGlyphs" transform="rotate(-90 119.8 1383.4)">Relative permittivity</text>
<text x="4.5" y="1168.5" font-size="63" font-weight="bold">c</text>
<text x="253.1" y="1420" font-size="45.7" fill="#0000ff" textLength="104.3" lengthAdjust="spacingAndGlyphs">-50 V</text>
<text x="734.3" y="1177.2" font-size="45.7" fill="#00c800" textLength="65.9" lengthAdjust="spacingAndGlyphs">0 V</text>
<rect x="370" y="1195" width="470" height="410" fill="#fff"/>
<line x1="493.3" y1="1205.4" x2="493.3" y2="1213.4" stroke="#000" stroke-width="3"/>
<line x1="493.3" y1="1496.8" x2="493.3" y2="1488.8" stroke="#000" stroke-width="3"/>
<line x1="513.3" y1="1205.4" x2="513.3" y2="1210.4" stroke="#000" stroke-width="2.2"/>
<line x1="513.3" y1="1496.8" x2="513.3" y2="1491.8" stroke="#000" stroke-width="2.2"/>
<line x1="524.9" y1="1205.4" x2="524.9" y2="1210.4" stroke="#000" stroke-width="2.2"/>
<line x1="524.9" y1="1496.8" x2="524.9" y2="1491.8" stroke="#000" stroke-width="2.2"/>
<line x1="533.2" y1="1205.4" x2="533.2" y2="1210.4" stroke="#000" stroke-width="2.2"/>
<line x1="533.2" y1="1496.8" x2="533.2" y2="1491.8" stroke="#000" stroke-width="2.2"/>
<line x1="539.6" y1="1205.4" x2="539.6" y2="1210.4" stroke="#000" stroke-width="2.2"/>
<line x1="539.6" y1="1496.8" x2="539.6" y2="1491.8" stroke="#000" stroke-width="2.2"/>
<line x1="544.9" y1="1205.4" x2="544.9" y2="1210.4" stroke="#000" stroke-width="2.2"/>
<line x1="544.9" y1="1496.8" x2="544.9" y2="1491.8" stroke="#000" stroke-width="2.2"/>
<line x1="549.3" y1="1205.4" x2="549.3" y2="1210.4" stroke="#000" stroke-width="2.2"/>
<line x1="549.3" y1="1496.8" x2="549.3" y2="1491.8" stroke="#000" stroke-width="2.2"/>
<line x1="553.2" y1="1205.4" x2="553.2" y2="1210.4" stroke="#000" stroke-width="2.2"/>
<line x1="553.2" y1="1496.8" x2="553.2" y2="1491.8" stroke="#000" stroke-width="2.2"/>
<line x1="556.6" y1="1205.4" x2="556.6" y2="1210.4" stroke="#000" stroke-width="2.2"/>
<line x1="556.6" y1="1496.8" x2="556.6" y2="1491.8" stroke="#000" stroke-width="2.2"/>
<line x1="559.6" y1="1205.4" x2="559.6" y2="1213.4" stroke="#000" stroke-width="3"/>
<line x1="559.6" y1="1496.8" x2="559.6" y2="1488.8" stroke="#000" stroke-width="3"/>
<line x1="579.6" y1="1205.4" x2="579.6" y2="1210.4" stroke="#000" stroke-width="2.2"/>
<line x1="579.6" y1="1496.8" x2="579.6" y2="1491.8" stroke="#000" stroke-width="2.2"/>
<line x1="591.2" y1="1205.4" x2="591.2" y2="1210.4" stroke="#000" stroke-width="2.2"/>
<line x1="591.2" y1="1496.8" x2="591.2" y2="1491.8" stroke="#000" stroke-width="2.2"/>
<line x1="599.5" y1="1205.4" x2="599.5" y2="1210.4" stroke="#000" stroke-width="2.2"/>
<line x1="599.5" y1="1496.8" x2="599.5" y2="1491.8" stroke="#000" stroke-width="2.2"/>
<line x1="605.9" y1="1205.4" x2="605.9" y2="1210.4" stroke="#000" stroke-width="2.2"/>
<line x1="605.9" y1="1496.8" x2="605.9" y2="1491.8" stroke="#000" stroke-width="2.2"/>
<line x1="611.2" y1="1205.4" x2="611.2" y2="1210.4" stroke="#000" stroke-width="2.2"/>
<line x1="611.2" y1="1496.8" x2="611.2" y2="1491.8" stroke="#000" stroke-width="2.2"/>
<line x1="615.6" y1="1205.4" x2="615.6" y2="1210.4" stroke="#000" stroke-width="2.2"/>
<line x1="615.6" y1="1496.8" x2="615.6" y2="1491.8" stroke="#000" stroke-width="2.2"/>
<line x1="619.5" y1="1205.4" x2="619.5" y2="1210.4" stroke="#000" stroke-width="2.2"/>
<line x1="619.5" y1="1496.8" x2="619.5" y2="1491.8" stroke="#000" stroke-width="2.2"/>
<line x1="622.9" y1="1205.4" x2="622.9" y2="1210.4" stroke="#000" stroke-width="2.2"/>
<line x1="622.9" y1="1496.8" x2="622.9" y2="1491.8" stroke="#000" stroke-width="2.2"/>
<line x1="625.9" y1="1205.4" x2="625.9" y2="1213.4" stroke="#000" stroke-width="3"/>
<line x1="625.9" y1="1496.8" x2="625.9" y2="1488.8" stroke="#000" stroke-width="3"/>
<line x1="645.9" y1="1205.4" x2="645.9" y2="1210.4" stroke="#000" stroke-width="2.2"/>
<line x1="645.9" y1="1496.8" x2="645.9" y2="1491.8" stroke="#000" stroke-width="2.2"/>
<line x1="657.5" y1="1205.4" x2="657.5" y2="1210.4" stroke="#000" stroke-width="2.2"/>
<line x1="657.5" y1="1496.8" x2="657.5" y2="1491.8" stroke="#000" stroke-width="2.2"/>
<line x1="665.8" y1="1205.4" x2="665.8" y2="1210.4" stroke="#000" stroke-width="2.2"/>
<line x1="665.8" y1="1496.8" x2="665.8" y2="1491.8" stroke="#000" stroke-width="2.2"/>
<line x1="672.2" y1="1205.4" x2="672.2" y2="1210.4" stroke="#000" stroke-width="2.2"/>
<line x1="672.2" y1="1496.8" x2="672.2" y2="1491.8" stroke="#000" stroke-width="2.2"/>
<line x1="677.5" y1="1205.4" x2="677.5" y2="1210.4" stroke="#000" stroke-width="2.2"/>
<line x1="677.5" y1="1496.8" x2="677.5" y2="1491.8" stroke="#000" stroke-width="2.2"/>
<line x1="681.9" y1="1205.4" x2="681.9" y2="1210.4" stroke="#000" stroke-width="2.2"/>
<line x1="681.9" y1="1496.8" x2="681.9" y2="1491.8" stroke="#000" stroke-width="2.2"/>
<line x1="685.8" y1="1205.4" x2="685.8" y2="1210.4" stroke="#000" stroke-width="2.2"/>
<line x1="685.8" y1="1496.8" x2="685.8" y2="1491.8" stroke="#000" stroke-width="2.2"/>
<line x1="689.2" y1="1205.4" x2="689.2" y2="1210.4" stroke="#000" stroke-width="2.2"/>
<line x1="689.2" y1="1496.8" x2="689.2" y2="1491.8" stroke="#000" stroke-width="2.2"/>
<line x1="692.2" y1="1205.4" x2="692.2" y2="1213.4" stroke="#000" stroke-width="3"/>
<line x1="692.2" y1="1496.8" x2="692.2" y2="1488.8" stroke="#000" stroke-width="3"/>
<line x1="712.2" y1="1205.4" x2="712.2" y2="1210.4" stroke="#000" stroke-width="2.2"/>
<line x1="712.2" y1="1496.8" x2="712.2" y2="1491.8" stroke="#000" stroke-width="2.2"/>
<line x1="723.8" y1="1205.4" x2="723.8" y2="1210.4" stroke="#000" stroke-width="2.2"/>
<line x1="723.8" y1="1496.8" x2="723.8" y2="1491.8" stroke="#000" stroke-width="2.2"/>
<line x1="732.1" y1="1205.4" x2="732.1" y2="1210.4" stroke="#000" stroke-width="2.2"/>
<line x1="732.1" y1="1496.8" x2="732.1" y2="1491.8" stroke="#000" stroke-width="2.2"/>
<line x1="738.5" y1="1205.4" x2="738.5" y2="1210.4" stroke="#000" stroke-width="2.2"/>
<line x1="738.5" y1="1496.8" x2="738.5" y2="1491.8" stroke="#000" stroke-width="2.2"/>
<line x1="743.8" y1="1205.4" x2="743.8" y2="1210.4" stroke="#000" stroke-width="2.2"/>
<line x1="743.8" y1="1496.8" x2="743.8" y2="1491.8" stroke="#000" stroke-width="2.2"/>
<line x1="748.2" y1="1205.4" x2="748.2" y2="1210.4" stroke="#000" stroke-width="2.2"/>
<line x1="748.2" y1="1496.8" x2="748.2" y2="1491.8" stroke="#000" stroke-width="2.2"/>
<line x1="752.1" y1="1205.4" x2="752.1" y2="1210.4" stroke="#000" stroke-width="2.2"/>
<line x1="752.1" y1="1496.8" x2="752.1" y2="1491.8" stroke="#000" stroke-width="2.2"/>
<line x1="755.5" y1="1205.4" x2="755.5" y2="1210.4" stroke="#000" stroke-width="2.2"/>
<line x1="755.5" y1="1496.8" x2="755.5" y2="1491.8" stroke="#000" stroke-width="2.2"/>
<line x1="758.5" y1="1205.4" x2="758.5" y2="1213.4" stroke="#000" stroke-width="3"/>
<line x1="758.5" y1="1496.8" x2="758.5" y2="1488.8" stroke="#000" stroke-width="3"/>
<line x1="778.5" y1="1205.4" x2="778.5" y2="1210.4" stroke="#000" stroke-width="2.2"/>
<line x1="778.5" y1="1496.8" x2="778.5" y2="1491.8" stroke="#000" stroke-width="2.2"/>
<line x1="790.1" y1="1205.4" x2="790.1" y2="1210.4" stroke="#000" stroke-width="2.2"/>
<line x1="790.1" y1="1496.8" x2="790.1" y2="1491.8" stroke="#000" stroke-width="2.2"/>
<line x1="798.4" y1="1205.4" x2="798.4" y2="1210.4" stroke="#000" stroke-width="2.2"/>
<line x1="798.4" y1="1496.8" x2="798.4" y2="1491.8" stroke="#000" stroke-width="2.2"/>
<line x1="804.8" y1="1205.4" x2="804.8" y2="1210.4" stroke="#000" stroke-width="2.2"/>
<line x1="804.8" y1="1496.8" x2="804.8" y2="1491.8" stroke="#000" stroke-width="2.2"/>
<line x1="810.1" y1="1205.4" x2="810.1" y2="1210.4" stroke="#000" stroke-width="2.2"/>
<line x1="810.1" y1="1496.8" x2="810.1" y2="1491.8" stroke="#000" stroke-width="2.2"/>
<line x1="814.5" y1="1205.4" x2="814.5" y2="1210.4" stroke="#000" stroke-width="2.2"/>
<line x1="814.5" y1="1496.8" x2="814.5" y2="1491.8" stroke="#000" stroke-width="2.2"/>
<line x1="818.4" y1="1205.4" x2="818.4" y2="1210.4" stroke="#000" stroke-width="2.2"/>
<line x1="818.4" y1="1496.8" x2="818.4" y2="1491.8" stroke="#000" stroke-width="2.2"/>
<line x1="821.8" y1="1205.4" x2="821.8" y2="1210.4" stroke="#000" stroke-width="2.2"/>
<line x1="821.8" y1="1496.8" x2="821.8" y2="1491.8" stroke="#000" stroke-width="2.2"/>
<line x1="824.8" y1="1205.4" x2="824.8" y2="1213.4" stroke="#000" stroke-width="3"/>
<line x1="824.8" y1="1496.8" x2="824.8" y2="1488.8" stroke="#000" stroke-width="3"/>
<line x1="487" y1="1449.8" x2="492" y2="1449.8" stroke="#000" stroke-width="3"/>
<line x1="833" y1="1449.8" x2="828" y2="1449.8" stroke="#000" stroke-width="3"/>
<line x1="487" y1="1410.8" x2="495" y2="1410.8" stroke="#000" stroke-width="3"/>
<line x1="833" y1="1410.8" x2="825" y2="1410.8" stroke="#000" stroke-width="3"/>
<line x1="487" y1="1371.8" x2="492" y2="1371.8" stroke="#000" stroke-width="3"/>
<line x1="833" y1="1371.8" x2="828" y2="1371.8" stroke="#000" stroke-width="3"/>
<line x1="487" y1="1332.7" x2="495" y2="1332.7" stroke="#000" stroke-width="3"/>
<line x1="833" y1="1332.7" x2="825" y2="1332.7" stroke="#000" stroke-width="3"/>
<line x1="487" y1="1293.6" x2="492" y2="1293.6" stroke="#000" stroke-width="3"/>
<line x1="833" y1="1293.6" x2="828" y2="1293.6" stroke="#000" stroke-width="3"/>
<line x1="487" y1="1254.6" x2="495" y2="1254.6" stroke="#000" stroke-width="3"/>
<line x1="833" y1="1254.6" x2="825" y2="1254.6" stroke="#000" stroke-width="3"/>
<line x1="487" y1="1215.5" x2="492" y2="1215.5" stroke="#000" stroke-width="3"/>
<line x1="833" y1="1215.5" x2="828" y2="1215.5" stroke="#000" stroke-width="3"/>
<clipPath id="cci"><rect x="487" y="1205.4" width="346" height="291.39999999999986"/></clipPath>
<g clip-path="url(#cci)">
<polyline points="493.3,1215.5 494.4,1215.5 495.5,1215.5 496.6,1215.5 497.7,1215.5 498.8,1215.5 499.9,1215.5 501.0,1215.5 502.1,1215.5 503.2,1215.5 504.3,1215.5 505.4,1215.5 506.5,1215.5 507.6,1215.5 508.7,1215.5 509.8,1215.5 510.9,1215.5 512.0,1215.5 513.1,1215.5 514.2,1215.5 515.3,1215.5 516.4,1215.5 517.5,1215.5 518.7,1215.5 519.8,1215.5 520.9,1215.5 522.0,1215.5 523.1,1215.5 524.2,1215.5 525.3,1215.5 526.4,1215.5 527.5,1215.5 528.6,1215.5 529.7,1215.5 530.8,1215.5 531.9,1215.5 533.0,1215.5 534.1,1215.5 535.2,1215.5 536.3,1215.5 537.4,1215.5 538.5,1215.5 539.6,1215.5 540.7,1215.5 541.8,1215.5 542.9,1215.5 544.0,1215.5 545.1,1215.5 546.2,1215.5 547.3,1215.5 548.4,1215.5 549.5,1215.5 550.6,1215.5 551.7,1215.5 552.8,1215.5 553.9,1215.5 555.0,1215.5 556.1,1215.5 557.2,1215.5 558.3,1215.5 559.4,1215.5 560.5,1215.5 561.6,1215.5 562.7,1215.5 563.8,1215.5 564.9,1215.5 566.0,1215.5 567.2,1215.5 568.3,1215.5 569.4,1215.5 570.5,1215.5 571.6,1215.5 572.7,1215.5 573.8,1215.5 574.9,1215.5 576.0,1215.5 577.1,1215.5 578.2,1215.5 579.3,1215.5 580.4,1215.5 581.5,1215.5 582.6,1215.5 583.7,1215.5 584.8,1215.5 585.9,1215.5 587.0,1215.5 588.1,1215.5 589.2,1215.5 590.3,1215.5 591.4,1215.5 592.5,1215.5 593.6,1215.6 594.7,1215.6 595.8,1215.6 596.9,1215.6 598.0,1215.6 599.1,1215.6 600.2,1215.6 601.3,1215.7 602.4,1215.7 603.5,1215.7 604.6,1215.8 605.7,1215.8 606.8,1215.8 607.9,1215.9 609.0,1215.9 610.1,1216.0 611.2,1216.2 612.3,1216.5 613.4,1216.9 614.5,1217.3 615.7,1217.8 616.8,1218.4 617.9,1218.9 619.0,1219.4 620.1,1220.0 621.2,1220.5 622.3,1221.0 623.4,1221.6 624.5,1222.1 625.6,1222.8 626.7,1223.4 627.8,1224.1 628.9,1224.8 630.0,1225.6 631.1,1226.4 632.2,1227.3 633.3,1228.2 634.4,1229.2 635.5,1230.3 636.6,1231.4 637.7,1232.6 638.8,1233.9 639.9,1235.2 641.0,1236.6 642.1,1238.1 643.2,1239.6 644.3,1241.1 645.4,1242.8 646.5,1244.5 647.6,1246.4 648.7,1248.5 649.8,1250.7 650.9,1252.9 652.0,1255.3 653.1,1257.8 654.2,1260.3 655.3,1262.9 656.4,1265.6 657.5,1268.5 658.6,1271.5 659.7,1274.7 660.8,1277.9 661.9,1281.1 663.0,1284.4 664.2,1287.7 665.3,1291.0 666.4,1294.4 667.5,1297.8 668.6,1301.3 669.7,1304.9 670.8,1308.5 671.9,1312.1 673.0,1315.8 674.1,1319.5 675.2,1323.3 676.3,1327.1 677.4,1331.1 678.5,1335.0 679.6,1339.0 680.7,1343.1 681.8,1347.1 682.9,1351.1 684.0,1355.1 685.1,1359.2 686.2,1363.3 687.3,1367.5 688.4,1371.6 689.5,1375.7 690.6,1379.7 691.7,1383.6 692.8,1387.3 693.9,1390.7 695.0,1394.0 696.1,1397.3 697.2,1400.5 698.3,1403.5 699.4,1406.5 700.5,1409.4 701.6,1412.2 702.7,1414.9 703.8,1417.5 704.9,1419.9 706.0,1422.2 707.1,1424.5 708.2,1426.7 709.3,1428.9 710.4,1431.0 711.5,1433.0 712.7,1435.0 713.8,1436.9 714.9,1438.8 716.0,1440.6 717.1,1442.3 718.2,1443.9 719.3,1445.5 720.4,1446.9 721.5,1448.3 722.6,1449.7 723.7,1451.0 724.8,1452.4 725.9,1453.6 727.0,1454.9 728.1,1456.1 729.2,1457.2 730.3,1458.4 731.4,1459.4 732.5,1460.5 733.6,1461.5 734.7,1462.5 735.8,1463.4 736.9,1464.3 738.0,1465.1 739.1,1465.9 740.2,1466.7 741.3,1467.4 742.4,1468.1 743.5,1468.9 744.6,1469.6 745.7,1470.2 746.8,1470.9 747.9,1471.6 749.0,1472.2 750.1,1472.8 751.2,1473.4 752.3,1474.0 753.4,1474.6 754.5,1475.2 755.6,1475.7 756.7,1476.2 757.8,1476.7 758.9,1477.2 760.0,1477.6 761.2,1478.1 762.3,1478.5 763.4,1478.9 764.5,1479.2 765.6,1479.6 766.7,1479.9 767.8,1480.2 768.9,1480.5 770.0,1480.8 771.1,1481.0 772.2,1481.3 773.3,1481.6 774.4,1481.8 775.5,1482.1 776.6,1482.3 777.7,1482.6 778.8,1482.8 779.9,1483.0 781.0,1483.2 782.1,1483.4 783.2,1483.6 784.3,1483.8 785.4,1484.0 786.5,1484.2 787.6,1484.4 788.7,1484.5 789.8,1484.7 790.9,1484.9 792.0,1485.0 793.1,1485.2 794.2,1485.3 795.3,1485.4 796.4,1485.5 797.5,1485.7 798.6,1485.8 799.7,1485.9 800.8,1486.0 801.9,1486.1 803.0,1486.2 804.1,1486.3 805.2,1486.4 806.3,1486.5 807.4,1486.6 808.5,1486.7 809.7,1486.8 810.8,1486.9 811.9,1487.0 813.0,1487.1 814.1,1487.2 815.2,1487.2 816.3,1487.3 817.4,1487.4 818.5,1487.4 819.6,1487.5 820.7,1487.5 821.8,1487.5 822.9,1487.6" fill="none" stroke="#000" stroke-width="6" stroke-linejoin="round"/>
<polyline points="536.4,1215.5 540.6,1215.5 544.7,1215.5 548.9,1215.5 553.1,1215.5 557.2,1215.5 561.4,1215.5 565.6,1215.5 569.7,1215.5 573.9,1215.5 578.1,1215.5 582.2,1215.5 586.4,1215.5 590.6,1215.5 594.7,1215.5 598.9,1215.5 603.1,1215.5 607.2,1215.5 611.4,1215.5 615.6,1215.5 619.7,1215.5 623.9,1215.5 639.4,1215.6 648.9,1223.8 658.4,1256.2 668.6,1344.4 677.5,1432.4 685.4,1464.1 691.7,1472.0 699.7,1473.7" fill="none" stroke="#0000ff" stroke-width="6" stroke-linejoin="round" stroke-dasharray="7 4"/>
<path d="M529.4 1215.5a7 7 0 1 0 14 0a7 7 0 1 0 -14 0M533.6 1215.5a7 7 0 1 0 14 0a7 7 0 1 0 -14 0M537.7 1215.5a7 7 0 1 0 14 0a7 7 0 1 0 -14 0M541.9 1215.5a7 7 0 1 0 14 0a7 7 0 1 0 -14 0M546.1 1215.5a7 7 0 1 0 14 0a7 7 0 1 0 -14 0M550.2 1215.5a7 7 0 1 0 14 0a7 7 0 1 0 -14 0M554.4 1215.5a7 7 0 1 0 14 0a7 7 0 1 0 -14 0M558.6 1215.5a7 7 0 1 0 14 0a7 7 0 1 0 -14 0M562.7 1215.5a7 7 0 1 0 14 0a7 7 0 1 0 -14 0M566.9 1215.5a7 7 0 1 0 14 0a7 7 0 1 0 -14 0M571.1 1215.5a7 7 0 1 0 14 0a7 7 0 1 0 -14 0M575.2 1215.5a7 7 0 1 0 14 0a7 7 0 1 0 -14 0M579.4 1215.5a7 7 0 1 0 14 0a7 7 0 1 0 -14 0M583.6 1215.5a7 7 0 1 0 14 0a7 7 0 1 0 -14 0M587.7 1215.5a7 7 0 1 0 14 0a7 7 0 1 0 -14 0M591.9 1215.5a7 7 0 1 0 14 0a7 7 0 1 0 -14 0M596.1 1215.5a7 7 0 1 0 14 0a7 7 0 1 0 -14 0M600.2 1215.5a7 7 0 1 0 14 0a7 7 0 1 0 -14 0M604.4 1215.5a7 7 0 1 0 14 0a7 7 0 1 0 -14 0M608.6 1215.5a7 7 0 1 0 14 0a7 7 0 1 0 -14 0M612.7 1215.5a7 7 0 1 0 14 0a7 7 0 1 0 -14 0M616.9 1215.5a7 7 0 1 0 14 0a7 7 0 1 0 -14 0M632.4 1215.6a7 7 0 1 0 14 0a7 7 0 1 0 -14 0M641.9 1223.8a7 7 0 1 0 14 0a7 7 0 1 0 -14 0M651.4 1256.2a7 7 0 1 0 14 0a7 7 0 1 0 -14 0M661.6 1344.4a7 7 0 1 0 14 0a7 7 0 1 0 -14 0M670.5 1432.4a7 7 0 1 0 14 0a7 7 0 1 0 -14 0M678.4 1464.1a7 7 0 1 0 14 0a7 7 0 1 0 -14 0M684.7 1472.0a7 7 0 1 0 14 0a7 7 0 1 0 -14 0M692.7 1473.7a7 7 0 1 0 14 0a7 7 0 1 0 -14 0" fill="#0000ff"/>
<path d="M493.3 1207.3L485.1 1222.3L501.5 1222.3ZM494.2 1207.3L486.0 1222.3L502.4 1222.3ZM495.0 1207.3L486.8 1222.3L503.2 1222.3ZM495.9 1207.3L487.7 1222.3L504.1 1222.3ZM496.8 1207.3L488.6 1222.3L505.0 1222.3ZM497.6 1207.3L489.4 1222.3L505.8 1222.3ZM498.5 1207.3L490.3 1222.3L506.7 1222.3ZM499.4 1207.3L491.2 1222.3L507.6 1222.3ZM500.2 1207.3L492.0 1222.3L508.4 1222.3ZM501.1 1207.3L492.9 1222.3L509.3 1222.3ZM502.0 1207.3L493.8 1222.3L510.2 1222.3ZM502.8 1207.3L494.6 1222.3L511.0 1222.3ZM503.7 1207.3L495.5 1222.3L511.9 1222.3ZM504.6 1207.3L496.4 1222.3L512.8 1222.3ZM505.4 1207.3L497.2 1222.3L513.6 1222.3ZM506.3 1207.3L498.1 1222.3L514.5 1222.3ZM507.2 1207.3L499.0 1222.3L515.4 1222.3ZM508.1 1207.3L499.9 1222.3L516.3 1222.3ZM508.9 1207.3L500.7 1222.3L517.1 1222.3ZM509.8 1207.3L501.6 1222.3L518.0 1222.3ZM510.7 1207.3L502.5 1222.3L518.9 1222.3ZM511.5 1207.3L503.3 1222.3L519.7 1222.3ZM512.4 1207.3L504.2 1222.3L520.6 1222.3ZM513.3 1207.3L505.1 1222.3L521.5 1222.3ZM514.1 1207.3L505.9 1222.3L522.3 1222.3ZM515.0 1207.3L506.8 1222.3L523.2 1222.3ZM515.9 1207.3L507.7 1222.3L524.1 1222.3ZM516.7 1207.3L508.5 1222.3L524.9 1222.3ZM517.6 1207.3L509.4 1222.3L525.8 1222.3ZM518.5 1207.3L510.3 1222.3L526.7 1222.3ZM519.3 1207.3L511.1 1222.3L527.5 1222.3ZM520.2 1207.3L512.0 1222.3L528.4 1222.3ZM521.1 1207.3L512.9 1222.3L529.3 1222.3ZM521.9 1207.3L513.7 1222.3L530.1 1222.3ZM522.8 1207.3L514.6 1222.3L531.0 1222.3ZM523.7 1207.3L515.5 1222.3L531.9 1222.3ZM524.5 1207.3L516.3 1222.3L532.7 1222.3ZM525.4 1207.3L517.2 1222.3L533.6 1222.3ZM526.3 1207.3L518.1 1222.3L534.5 1222.3ZM527.1 1207.3L518.9 1222.3L535.3 1222.3ZM528.0 1207.3L519.8 1222.3L536.2 1222.3ZM528.9 1207.3L520.7 1222.3L537.1 1222.3ZM529.7 1207.3L521.5 1222.3L537.9 1222.3ZM530.6 1207.3L522.4 1222.3L538.8 1222.3ZM531.5 1207.3L523.3 1222.3L539.7 1222.3ZM532.3 1207.3L524.1 1222.3L540.5 1222.3ZM533.2 1207.3L525.0 1222.3L541.4 1222.3ZM534.1 1207.3L525.9 1222.3L542.3 1222.3ZM534.9 1207.3L526.7 1222.3L543.1 1222.3ZM535.8 1207.3L527.6 1222.3L544.0 1222.3ZM536.7 1207.3L528.5 1222.3L544.9 1222.3ZM537.6 1207.3L529.4 1222.3L545.8 1222.3ZM538.4 1207.3L530.2 1222.3L546.6 1222.3ZM539.3 1207.3L531.1 1222.3L547.5 1222.3ZM540.2 1207.3L532.0 1222.3L548.4 1222.3ZM541.0 1207.3L532.8 1222.3L549.2 1222.3ZM541.9 1207.3L533.7 1222.3L550.1 1222.3ZM542.8 1207.3L534.6 1222.3L551.0 1222.3ZM543.6 1207.3L535.4 1222.3L551.8 1222.3ZM544.5 1207.3L536.3 1222.3L552.7 1222.3ZM545.4 1207.3L537.2 1222.3L553.6 1222.3ZM546.2 1207.3L538.0 1222.3L554.4 1222.3ZM547.1 1207.3L538.9 1222.3L555.3 1222.3ZM548.0 1207.3L539.8 1222.3L556.2 1222.3ZM548.8 1207.3L540.6 1222.3L557.0 1222.3ZM549.7 1207.3L541.5 1222.3L557.9 1222.3ZM550.6 1207.3L542.4 1222.3L558.8 1222.3ZM551.4 1207.3L543.2 1222.3L559.6 1222.3ZM552.3 1207.3L544.1 1222.3L560.5 1222.3ZM553.2 1207.3L545.0 1222.3L561.4 1222.3ZM554.0 1207.3L545.8 1222.3L562.2 1222.3ZM554.9 1207.3L546.7 1222.3L563.1 1222.3ZM555.8 1207.3L547.6 1222.3L564.0 1222.3ZM556.6 1207.3L548.4 1222.3L564.8 1222.3ZM557.5 1207.3L549.3 1222.3L565.7 1222.3ZM558.4 1207.3L550.2 1222.3L566.6 1222.3ZM559.2 1207.3L551.0 1222.3L567.4 1222.3ZM560.1 1207.3L551.9 1222.3L568.3 1222.3ZM561.0 1207.3L552.8 1222.3L569.2 1222.3ZM561.8 1207.3L553.6 1222.3L570.0 1222.3ZM562.7 1207.3L554.5 1222.3L570.9 1222.3ZM563.6 1207.3L555.4 1222.3L571.8 1222.3ZM564.5 1207.3L556.3 1222.3L572.7 1222.3ZM565.3 1207.3L557.1 1222.3L573.5 1222.3ZM566.2 1207.3L558.0 1222.3L574.4 1222.3ZM567.1 1207.3L558.9 1222.3L575.3 1222.3ZM567.9 1207.3L559.7 1222.3L576.1 1222.3ZM568.8 1207.3L560.6 1222.3L577.0 1222.3ZM569.7 1207.3L561.5 1222.3L577.9 1222.3ZM570.5 1207.3L562.3 1222.3L578.7 1222.3ZM571.4 1207.3L563.2 1222.3L579.6 1222.3ZM572.3 1207.3L564.1 1222.3L580.5 1222.3ZM573.1 1207.3L564.9 1222.3L581.3 1222.3ZM574.0 1207.3L565.8 1222.3L582.2 1222.3ZM574.9 1207.3L566.7 1222.3L583.1 1222.3ZM575.7 1207.3L567.5 1222.3L583.9 1222.3ZM576.6 1207.3L568.4 1222.3L584.8 1222.3ZM577.5 1207.3L569.3 1222.3L585.7 1222.3ZM578.3 1207.3L570.1 1222.3L586.5 1222.3ZM579.2 1207.3L571.0 1222.3L587.4 1222.3ZM580.1 1207.3L571.9 1222.3L588.3 1222.3ZM580.9 1207.3L572.7 1222.3L589.1 1222.3ZM581.8 1207.3L573.6 1222.3L590.0 1222.3ZM582.7 1207.3L574.5 1222.3L590.9 1222.3ZM583.5 1207.3L575.3 1222.3L591.7 1222.3ZM584.4 1207.3L576.2 1222.3L592.6 1222.3ZM585.3 1207.3L577.1 1222.3L593.5 1222.3ZM586.1 1207.3L577.9 1222.3L594.3 1222.3ZM587.0 1207.3L578.8 1222.3L595.2 1222.3ZM587.9 1207.3L579.7 1222.3L596.1 1222.3ZM588.7 1207.3L580.5 1222.3L596.9 1222.3ZM589.6 1207.3L581.4 1222.3L597.8 1222.3ZM590.5 1207.3L582.3 1222.3L598.7 1222.3ZM591.3 1207.3L583.1 1222.3L599.5 1222.3ZM592.2 1207.3L584.0 1222.3L600.4 1222.3ZM593.1 1207.3L584.9 1222.3L601.3 1222.3ZM594.0 1207.3L585.8 1222.3L602.2 1222.3ZM594.8 1207.3L586.6 1222.3L603.0 1222.3ZM595.7 1207.3L587.5 1222.3L603.9 1222.3ZM596.6 1207.3L588.4 1222.3L604.8 1222.3ZM597.4 1207.3L589.2 1222.3L605.6 1222.3ZM598.3 1207.3L590.1 1222.3L606.5 1222.3ZM599.2 1207.3L591.0 1222.3L607.4 1222.3ZM600.0 1207.3L591.8 1222.3L608.2 1222.3ZM600.9 1207.3L592.7 1222.3L609.1 1222.3ZM601.8 1207.3L593.6 1222.3L610.0 1222.3ZM602.6 1207.3L594.4 1222.3L610.8 1222.3ZM603.5 1207.3L595.3 1222.3L611.7 1222.3ZM604.4 1207.3L596.2 1222.3L612.6 1222.3ZM605.2 1207.3L597.0 1222.3L613.4 1222.3ZM606.1 1207.3L597.9 1222.3L614.3 1222.3ZM607.0 1207.3L598.8 1222.3L615.2 1222.3ZM607.8 1207.3L599.6 1222.3L616.0 1222.3ZM608.7 1207.3L600.5 1222.3L616.9 1222.3ZM609.6 1207.3L601.4 1222.3L617.8 1222.3ZM610.4 1207.3L602.2 1222.3L618.6 1222.3ZM611.3 1207.3L603.1 1222.3L619.5 1222.3ZM612.2 1207.3L604.0 1222.3L620.4 1222.3ZM613.0 1207.3L604.8 1222.3L621.2 1222.3ZM613.9 1207.3L605.7 1222.3L622.1 1222.3ZM614.8 1207.3L606.6 1222.3L623.0 1222.3ZM615.6 1207.3L607.4 1222.3L623.8 1222.3ZM616.5 1207.3L608.3 1222.3L624.7 1222.3ZM617.4 1207.3L609.2 1222.3L625.6 1222.3ZM618.2 1207.3L610.0 1222.3L626.4 1222.3ZM619.1 1207.3L610.9 1222.3L627.3 1222.3ZM620.0 1207.3L611.8 1222.3L628.2 1222.3ZM620.8 1207.3L612.6 1222.3L629.0 1222.3ZM621.7 1207.3L613.5 1222.3L629.9 1222.3ZM622.6 1207.3L614.4 1222.3L630.8 1222.3Z" fill="#00c800"/>
</g>
<rect x="487" y="1205.4" width="346" height="291.4" stroke="#000" stroke-width="3.2" fill="none"/>
<text x="481.8" y="1421.8" font-size="38" text-anchor="end">100</text>
<text x="481.8" y="1343.7" font-size="38" text-anchor="end">200</text>
<text x="481.8" y="1265.6" font-size="38" text-anchor="end">300</text>
<text x="497.3" y="1555.5" font-size="38" text-anchor="middle">10<tspan font-size="26" dy="-22.5">5</tspan></text>
<text x="629.9" y="1555.5" font-size="38" text-anchor="middle">10<tspan font-size="26" dy="-22.5">7</tspan></text>
<text x="762.5" y="1555.5" font-size="38" text-anchor="middle">10<tspan font-size="26" dy="-22.5">9</tspan></text>
<text x="655.5" y="1596.5" font-size="39.5" text-anchor="middle" textLength="312.6" lengthAdjust="spacingAndGlyphs">Electric field (V/m)</text>
<text x="401" y="1328.3" font-size="39.5" text-anchor="middle" textLength="332.7" lengthAdjust="spacingAndGlyphs" transform="rotate(-90 401 1328.3)">Relative permittivity</text>
<line x1="1103.6" y1="8.6" x2="1103.6" y2="24.6" stroke="#000" stroke-width="1.6"/>
<line x1="1103.6" y1="535.5" x2="1103.6" y2="519.5" stroke="#000" stroke-width="1.6"/>
<line x1="1210" y1="8.6" x2="1210" y2="24.6" stroke="#000" stroke-width="1.6"/>
<line x1="1210" y1="535.5" x2="1210" y2="519.5" stroke="#000" stroke-width="1.6"/>
<line x1="1316.4" y1="8.6" x2="1316.4" y2="24.6" stroke="#000" stroke-width="1.6"/>
<line x1="1316.4" y1="535.5" x2="1316.4" y2="519.5" stroke="#000" stroke-width="1.6"/>
<line x1="1422.8" y1="8.6" x2="1422.8" y2="24.6" stroke="#000" stroke-width="1.6"/>
<line x1="1422.8" y1="535.5" x2="1422.8" y2="519.5" stroke="#000" stroke-width="1.6"/>
<line x1="1529.2" y1="8.6" x2="1529.2" y2="24.6" stroke="#000" stroke-width="1.6"/>
<line x1="1529.2" y1="535.5" x2="1529.2" y2="519.5" stroke="#000" stroke-width="1.6"/>
<clipPath id="cde0"><rect x="1011.4" y="8.6" width="526.3000000000001" height="526.9"/></clipPath>
<g clip-path="url(#cde0)">
<polyline points="1011.4,505.4 1012.7,505.4 1014.0,505.4 1015.4,505.4 1016.7,505.4 1018.0,505.4 1019.3,505.4 1020.6,505.4 1022.0,505.4 1023.3,505.4 1024.6,505.4 1025.9,505.4 1027.2,505.4 1028.5,505.4 1029.9,505.4 1031.2,505.4 1032.5,505.4 1033.8,505.4 1035.1,505.4 1036.5,505.4 1037.8,505.4 1039.1,505.4 1040.4,505.4 1041.7,505.4 1043.1,505.4 1044.4,505.4 1045.7,505.4 1047.0,505.4 1048.3,505.4 1049.7,505.4 1051.0,505.4 1052.3,505.4 1053.6,505.4 1054.9,505.4 1056.2,505.4 1057.6,505.4 1058.9,505.4 1060.2,505.4 1061.5,505.4 1062.8,505.4 1064.2,505.4 1065.5,505.4 1066.8,505.4 1068.1,505.4 1069.4,505.4 1070.8,505.4 1072.1,505.4 1073.4,505.4 1074.7,505.4 1076.0,505.3 1077.4,505.3 1078.7,505.3 1080.0,505.3 1081.3,505.3 1082.6,505.3 1083.9,505.3 1085.3,505.3 1086.6,505.3 1087.9,505.3 1089.2,505.2 1090.5,505.2 1091.9,505.2 1093.2,505.2 1094.5,505.2 1095.8,505.2 1097.1,505.2 1098.5,505.2 1099.8,505.1 1101.1,505.1 1102.4,505.1 1103.7,505.1 1105.1,505.1 1106.4,505.0 1107.7,505.0 1109.0,505.0 1110.3,504.9 1111.6,504.9 1113.0,504.9 1114.3,504.9 1115.6,504.8 1116.9,504.8 1118.2,504.7 1119.6,504.7 1120.9,504.7 1122.2,504.6 1123.5,504.6 1124.8,504.5 1126.2,504.5 1127.5,504.4 1128.8,504.4 1130.1,504.3 1131.4,504.3 1132.8,504.2 1134.1,504.2 1135.4,504.1 1136.7,504.0 1138.0,504.0 1139.3,503.9 1140.7,503.8 1142.0,503.8 1143.3,503.7 1144.6,503.6 1145.9,503.5 1147.3,503.4 1148.6,503.3 1149.9,503.1 1151.2,502.9 1152.5,502.7 1153.9,502.5 1155.2,502.2 1156.5,501.9 1157.8,501.7 1159.1,501.4 1160.5,501.0 1161.8,500.7 1163.1,500.3 1164.4,500.0 1165.7,499.6 1167.0,499.2 1168.4,498.8 1169.7,498.4 1171.0,497.9 1172.3,497.5 1173.6,497.0 1175.0,496.6 1176.3,496.1 1177.6,495.6 1178.9,495.1 1180.2,494.6 1181.6,494.0 1182.9,493.4 1184.2,492.7 1185.5,492.0 1186.8,491.2 1188.2,490.4 1189.5,489.5 1190.8,488.7 1192.1,487.7 1193.4,486.8 1194.7,485.8 1196.1,484.7 1197.4,483.7 1198.7,482.6 1200.0,481.5 1201.3,480.3 1202.7,479.1 1204.0,477.9 1205.3,476.7 1206.6,475.4 1207.9,474.1 1209.3,472.7 1210.6,471.2 1211.9,469.6 1213.2,468.0 1214.5,466.2 1215.9,464.5 1217.2,462.6 1218.5,460.7 1219.8,458.7 1221.1,456.6 1222.4,454.4 1223.8,452.2 1225.1,449.9 1226.4,447.5 1227.7,445.1 1229.0,442.5 1230.4,439.8 1231.7,436.9 1233.0,433.8 1234.3,430.5 1235.6,427.0 1237.0,423.3 1238.3,419.5 1239.6,415.5 1240.9,411.4 1242.2,407.1 1243.6,402.8 1244.9,398.3 1246.2,393.6 1247.5,388.6 1248.8,383.1 1250.1,377.3 1251.5,371.3 1252.8,365.1 1254.1,358.8 1255.4,352.4 1256.7,346.1 1258.1,339.8 1259.4,333.8 1260.7,327.7 1262.0,321.6 1263.3,315.5 1264.7,309.4 1266.0,303.1 1267.3,296.8 1268.6,290.4 1269.9,283.8 1271.3,277.1 1272.6,270.5 1273.9,263.8 1275.2,257.1 1276.5,250.5 1277.8,243.9 1279.2,237.3 1280.5,230.7 1281.8,224.1 1283.1,217.5 1284.4,210.9 1285.8,204.3 1287.1,197.7 1288.4,191.2 1289.7,184.8 1291.0,178.4 1292.4,171.8 1293.7,165.3 1295.0,159.2 1296.3,154.0 1297.6,149.3 1299.0,144.8 1300.3,140.4 1301.6,136.5 1302.9,133.2 1304.2,130.6 1305.5,129.1 1306.9,128.0 1308.2,127.0 1309.5,126.1 1310.8,125.3 1312.1,124.7 1313.5,124.2 1314.8,123.9 1316.1,123.8 1317.4,124.0 1318.7,124.6 1320.1,125.5 1321.4,126.8 1322.7,128.4 1324.0,130.2 1325.3,132.3 1326.7,134.5 1328.0,136.9 1329.3,139.9 1330.6,144.6 1331.9,150.5 1333.2,157.1 1334.6,164.0 1335.9,170.7 1337.2,176.6 1338.5,182.0 1339.8,187.2 1341.2,192.3 1342.5,197.5 1343.8,202.8 1345.1,208.3 1346.4,213.9 1347.8,219.5 1349.1,225.2 1350.4,230.9 1351.7,236.7 1353.0,242.5 1354.4,248.3 1355.7,254.1 1357.0,260.0 1358.3,265.9 1359.6,271.9 1360.9,277.9 1362.3,283.9 1363.6,289.9 1364.9,295.9 1366.2,302.0 1367.5,308.1 1368.9,314.3 1370.2,320.5 1371.5,326.7 1372.8,332.8 1374.1,338.9 1375.5,345.3 1376.8,351.8 1378.1,358.3 1379.4,364.9 1380.7,371.2 1382.1,377.4 1383.4,383.2 1384.7,388.6 1386.0,393.5 1387.3,397.8 1388.6,401.8 1390.0,405.6 1391.3,409.3 1392.6,412.8 1393.9,416.1 1395.2,419.3 1396.6,422.4 1397.9,425.3 1399.2,428.0 1400.5,430.7 1401.8,433.2 1403.2,435.6 1404.5,437.8 1405.8,440.0 1407.1,442.1 1408.4,444.2 1409.8,446.2 1411.1,448.1 1412.4,449.9 1413.7,451.7 1415.0,453.4 1416.3,455.0 1417.7,456.6 1419.0,458.2 1420.3,459.6 1421.6,461.1 1422.9,462.4 1424.3,463.8 1425.6,465.1 1426.9,466.4 1428.2,467.6 1429.5,468.9 1430.9,470.1 1432.2,471.3 1433.5,472.4 1434.8,473.6 1436.1,474.7 1437.5,475.7 1438.8,476.7 1440.1,477.7 1441.4,478.6 1442.7,479.4 1444.0,480.2 1445.4,480.9 1446.7,481.6 1448.0,482.2 1449.3,482.7 1450.6,483.3 1452.0,483.8 1453.3,484.4 1454.6,484.9 1455.9,485.4 1457.2,485.8 1458.6,486.3 1459.9,486.7 1461.2,487.2 1462.5,487.6 1463.8,488.0 1465.2,488.4 1466.5,488.7 1467.8,489.1 1469.1,489.4 1470.4,489.8 1471.7,490.1 1473.1,490.4 1474.4,490.7 1475.7,491.0 1477.0,491.2 1478.3,491.5 1479.7,491.8 1481.0,492.0 1482.3,492.2 1483.6,492.5 1484.9,492.7 1486.3,492.9 1487.6,493.1 1488.9,493.4 1490.2,493.6 1491.5,493.8 1492.9,494.0 1494.2,494.2 1495.5,494.4 1496.8,494.6 1498.1,494.8 1499.4,495.0 1500.8,495.1 1502.1,495.3 1503.4,495.5 1504.7,495.6 1506.0,495.8 1507.4,495.9 1508.7,496.1 1510.0,496.2 1511.3,496.3 1512.6,496.4 1514.0,496.5 1515.3,496.6 1516.6,496.7 1517.9,496.8 1519.2,496.9 1520.6,497.0 1521.9,497.0 1523.2,497.1 1524.5,497.1 1525.8,497.2 1527.1,497.2 1528.5,497.3 1529.8,497.3 1531.1,497.4 1532.4,497.4 1533.7,497.4 1535.1,497.5 1536.4,497.5 1537.7,497.5" fill="none" stroke="#000" stroke-width="4" stroke-linejoin="round" stroke-dasharray="7 7.3"/>
<polyline points="1011.4,497.0 1012.7,497.0 1014.0,497.0 1015.4,497.0 1016.7,497.0 1018.0,497.0 1019.3,497.0 1020.6,497.0 1022.0,497.0 1023.3,497.0 1024.6,497.0 1025.9,497.0 1027.2,497.0 1028.5,496.9 1029.9,496.9 1031.2,496.9 1032.5,496.9 1033.8,496.8 1035.1,496.8 1036.5,496.8 1037.8,496.7 1039.1,496.7 1040.4,496.7 1041.7,496.6 1043.1,496.6 1044.4,496.6 1045.7,496.5 1047.0,496.5 1048.3,496.4 1049.7,496.4 1051.0,496.3 1052.3,496.3 1053.6,496.2 1054.9,496.2 1056.2,496.1 1057.6,496.1 1058.9,496.0 1060.2,496.0 1061.5,495.9 1062.8,495.9 1064.2,495.8 1065.5,495.8 1066.8,495.7 1068.1,495.6 1069.4,495.6 1070.8,495.5 1072.1,495.4 1073.4,495.4 1074.7,495.3 1076.0,495.2 1077.4,495.1 1078.7,495.0 1080.0,494.9 1081.3,494.9 1082.6,494.8 1083.9,494.7 1085.3,494.6 1086.6,494.5 1087.9,494.4 1089.2,494.2 1090.5,494.1 1091.9,494.0 1093.2,493.9 1094.5,493.8 1095.8,493.6 1097.1,493.5 1098.5,493.4 1099.8,493.3 1101.1,493.1 1102.4,493.0 1103.7,492.8 1105.1,492.7 1106.4,492.5 1107.7,492.4 1109.0,492.2 1110.3,492.1 1111.6,491.9 1113.0,491.7 1114.3,491.6 1115.6,491.4 1116.9,491.2 1118.2,491.0 1119.6,490.7 1120.9,490.5 1122.2,490.3 1123.5,490.0 1124.8,489.7 1126.2,489.5 1127.5,489.2 1128.8,488.9 1130.1,488.6 1131.4,488.2 1132.8,487.9 1134.1,487.6 1135.4,487.2 1136.7,486.8 1138.0,486.4 1139.3,486.0 1140.7,485.6 1142.0,485.2 1143.3,484.7 1144.6,484.3 1145.9,483.8 1147.3,483.3 1148.6,482.8 1149.9,482.3 1151.2,481.7 1152.5,481.2 1153.9,480.6 1155.2,480.0 1156.5,479.3 1157.8,478.5 1159.1,477.6 1160.5,476.6 1161.8,475.5 1163.1,474.3 1164.4,473.0 1165.7,471.7 1167.0,470.3 1168.4,468.9 1169.7,467.3 1171.0,465.8 1172.3,464.2 1173.6,462.5 1175.0,460.9 1176.3,459.2 1177.6,457.5 1178.9,455.8 1180.2,453.9 1181.6,452.1 1182.9,450.1 1184.2,448.0 1185.5,445.8 1186.8,443.6 1188.2,441.3 1189.5,438.8 1190.8,436.3 1192.1,433.6 1193.4,430.9 1194.7,428.1 1196.1,425.1 1197.4,422.1 1198.7,419.0 1200.0,415.6 1201.3,412.0 1202.7,408.2 1204.0,404.2 1205.3,400.0 1206.6,395.5 1207.9,390.9 1209.3,386.1 1210.6,381.1 1211.9,376.0 1213.2,370.7 1214.5,365.2 1215.9,359.5 1217.2,353.1 1218.5,346.2 1219.8,338.8 1221.1,331.1 1222.4,323.4 1223.8,315.7 1225.1,308.4 1226.4,301.5 1227.7,295.1 1229.0,289.1 1230.4,283.3 1231.7,277.5 1233.0,271.4 1234.3,265.0 1235.6,258.4 1237.0,251.8 1238.3,245.0 1239.6,238.3 1240.9,231.7 1242.2,225.2 1243.6,218.7 1244.9,212.2 1246.2,205.6 1247.5,199.0 1248.8,192.2 1250.1,185.4 1251.5,178.6 1252.8,172.2 1254.1,166.1 1255.4,160.0 1256.7,154.0 1258.1,148.3 1259.4,143.2 1260.7,138.9 1262.0,135.4 1263.3,132.1 1264.7,129.2 1266.0,126.7 1267.3,124.8 1268.6,123.4 1269.9,122.3 1271.3,121.2 1272.6,120.4 1273.9,119.7 1275.2,119.3 1276.5,119.2 1277.8,119.5 1279.2,120.1 1280.5,120.9 1281.8,121.8 1283.1,122.8 1284.4,123.8 1285.8,124.9 1287.1,126.1 1288.4,127.5 1289.7,129.2 1291.0,131.1 1292.4,133.6 1293.7,137.1 1295.0,141.4 1296.3,146.3 1297.6,151.6 1299.0,156.9 1300.3,162.6 1301.6,169.1 1302.9,175.9 1304.2,182.9 1305.5,189.6 1306.9,196.3 1308.2,202.9 1309.5,209.6 1310.8,216.2 1312.1,222.8 1313.5,229.2 1314.8,235.5 1316.1,241.9 1317.4,248.7 1318.7,256.1 1320.1,264.3 1321.4,272.8 1322.7,281.1 1324.0,288.8 1325.3,296.2 1326.7,303.5 1328.0,310.6 1329.3,317.4 1330.6,324.1 1331.9,330.5 1333.2,336.6 1334.6,342.6 1335.9,348.4 1337.2,354.0 1338.5,359.6 1339.8,364.9 1341.2,370.1 1342.5,375.2 1343.8,380.0 1345.1,384.7 1346.4,389.2 1347.8,393.5 1349.1,397.8 1350.4,401.9 1351.7,406.0 1353.0,409.9 1354.4,413.7 1355.7,417.5 1357.0,421.1 1358.3,424.5 1359.6,427.9 1360.9,431.1 1362.3,434.2 1363.6,437.1 1364.9,440.0 1366.2,442.9 1367.5,445.6 1368.9,448.4 1370.2,451.0 1371.5,453.6 1372.8,456.0 1374.1,458.3 1375.5,460.5 1376.8,462.5 1378.1,464.4 1379.4,466.0 1380.7,467.5 1382.1,468.9 1383.4,470.3 1384.7,471.6 1386.0,472.9 1387.3,474.2 1388.6,475.5 1390.0,476.6 1391.3,477.8 1392.6,478.9 1393.9,479.9 1395.2,480.9 1396.6,481.8 1397.9,482.7 1399.2,483.5 1400.5,484.3 1401.8,485.0 1403.2,485.6 1404.5,486.1 1405.8,486.6 1407.1,487.0 1408.4,487.4 1409.8,487.8 1411.1,488.1 1412.4,488.4 1413.7,488.7 1415.0,489.1 1416.3,489.4 1417.7,489.6 1419.0,489.9 1420.3,490.2 1421.6,490.4 1422.9,490.7 1424.3,490.9 1425.6,491.2 1426.9,491.4 1428.2,491.6 1429.5,491.8 1430.9,492.0 1432.2,492.1 1433.5,492.3 1434.8,492.5 1436.1,492.6 1437.5,492.8 1438.8,492.9 1440.1,493.1 1441.4,493.2 1442.7,493.3 1444.0,493.4 1445.4,493.5 1446.7,493.6 1448.0,493.7 1449.3,493.8 1450.6,493.9 1452.0,494.0 1453.3,494.1 1454.6,494.2 1455.9,494.3 1457.2,494.4 1458.6,494.5 1459.9,494.6 1461.2,494.7 1462.5,494.7 1463.8,494.8 1465.2,494.9 1466.5,495.0 1467.8,495.1 1469.1,495.1 1470.4,495.2 1471.7,495.3 1473.1,495.4 1474.4,495.5 1475.7,495.5 1477.0,495.6 1478.3,495.7 1479.7,495.7 1481.0,495.8 1482.3,495.9 1483.6,495.9 1484.9,496.0 1486.3,496.1 1487.6,496.1 1488.9,496.2 1490.2,496.2 1491.5,496.3 1492.9,496.3 1494.2,496.4 1495.5,496.4 1496.8,496.5 1498.1,496.5 1499.4,496.6 1500.8,496.6 1502.1,496.7 1503.4,496.7 1504.7,496.7 1506.0,496.8 1507.4,496.8 1508.7,496.8 1510.0,496.8 1511.3,496.9 1512.6,496.9 1514.0,496.9 1515.3,496.9 1516.6,497.0 1517.9,497.0 1519.2,497.0 1520.6,497.0 1521.9,497.0 1523.2,497.0 1524.5,497.0 1525.8,497.0 1527.1,497.0 1528.5,497.0 1529.8,497.0 1531.1,497.0 1532.4,497.0 1533.7,497.0 1535.1,497.0 1536.4,497.0 1537.7,497.0" fill="none" stroke="#0000ff" stroke-width="3.8" stroke-linejoin="round"/>
<polyline points="1011.4,500.4 1012.7,500.4 1014.0,500.4 1015.4,500.4 1016.7,500.4 1018.0,500.4 1019.3,500.4 1020.6,500.4 1022.0,500.4 1023.3,500.4 1024.6,500.4 1025.9,500.4 1027.2,500.4 1028.5,500.3 1029.9,500.3 1031.2,500.3 1032.5,500.3 1033.8,500.2 1035.1,500.2 1036.5,500.2 1037.8,500.2 1039.1,500.1 1040.4,500.1 1041.7,500.1 1043.1,500.0 1044.4,500.0 1045.7,499.9 1047.0,499.9 1048.3,499.8 1049.7,499.8 1051.0,499.7 1052.3,499.7 1053.6,499.6 1054.9,499.6 1056.2,499.5 1057.6,499.5 1058.9,499.4 1060.2,499.4 1061.5,499.3 1062.8,499.3 1064.2,499.2 1065.5,499.2 1066.8,499.1 1068.1,499.1 1069.4,499.0 1070.8,499.0 1072.1,498.9 1073.4,498.9 1074.7,498.8 1076.0,498.7 1077.4,498.7 1078.7,498.6 1080.0,498.6 1081.3,498.5 1082.6,498.4 1083.9,498.4 1085.3,498.3 1086.6,498.2 1087.9,498.1 1089.2,498.1 1090.5,498.0 1091.9,497.9 1093.2,497.8 1094.5,497.7 1095.8,497.6 1097.1,497.5 1098.5,497.4 1099.8,497.3 1101.1,497.2 1102.4,497.1 1103.7,497.0 1105.1,496.9 1106.4,496.8 1107.7,496.7 1109.0,496.6 1110.3,496.5 1111.6,496.4 1113.0,496.2 1114.3,496.1 1115.6,496.0 1116.9,495.8 1118.2,495.7 1119.6,495.6 1120.9,495.4 1122.2,495.3 1123.5,495.1 1124.8,494.9 1126.2,494.8 1127.5,494.6 1128.8,494.4 1130.1,494.2 1131.4,494.0 1132.8,493.8 1134.1,493.5 1135.4,493.3 1136.7,493.1 1138.0,492.8 1139.3,492.5 1140.7,492.3 1142.0,492.0 1143.3,491.7 1144.6,491.4 1145.9,491.0 1147.3,490.7 1148.6,490.3 1149.9,490.0 1151.2,489.6 1152.5,489.2 1153.9,488.8 1155.2,488.4 1156.5,488.0 1157.8,487.5 1159.1,487.1 1160.5,486.6 1161.8,486.1 1163.1,485.6 1164.4,485.1 1165.7,484.6 1167.0,484.0 1168.4,483.5 1169.7,482.8 1171.0,482.1 1172.3,481.2 1173.6,480.3 1175.0,479.2 1176.3,478.0 1177.6,476.8 1178.9,475.5 1180.2,474.1 1181.6,472.7 1182.9,471.2 1184.2,469.6 1185.5,468.0 1186.8,466.4 1188.2,464.7 1189.5,463.0 1190.8,461.2 1192.1,459.4 1193.4,457.6 1194.7,455.6 1196.1,453.4 1197.4,451.2 1198.7,448.8 1200.0,446.4 1201.3,443.8 1202.7,441.1 1204.0,438.3 1205.3,435.4 1206.6,432.5 1207.9,429.4 1209.3,426.3 1210.6,423.0 1211.9,419.7 1213.2,416.3 1214.5,412.7 1215.9,408.9 1217.2,405.0 1218.5,400.9 1219.8,396.6 1221.1,392.1 1222.4,387.4 1223.8,382.5 1225.1,377.4 1226.4,372.1 1227.7,366.6 1229.0,360.9 1230.4,354.4 1231.7,347.3 1233.0,339.5 1234.3,331.5 1235.6,323.2 1237.0,314.9 1238.3,306.7 1239.6,298.9 1240.9,291.0 1242.2,283.2 1243.6,275.9 1244.9,269.0 1246.2,262.3 1247.5,255.8 1248.8,249.3 1250.1,242.8 1251.5,236.5 1252.8,230.2 1254.1,223.7 1255.4,216.9 1256.7,209.4 1258.1,201.0 1259.4,192.4 1260.7,184.2 1262.0,176.9 1263.3,169.8 1264.7,163.2 1266.0,157.2 1267.3,151.6 1268.6,146.4 1269.9,141.7 1271.3,137.7 1272.6,134.1 1273.9,130.7 1275.2,128.0 1276.5,126.0 1277.8,124.4 1279.2,123.0 1280.5,121.9 1281.8,121.3 1283.1,121.3 1284.4,121.8 1285.8,122.6 1287.1,123.7 1288.4,124.9 1289.7,126.5 1291.0,128.5 1292.4,131.0 1293.7,133.9 1295.0,137.6 1296.3,141.9 1297.6,146.6 1299.0,151.7 1300.3,157.0 1301.6,162.6 1302.9,168.8 1304.2,175.5 1305.5,182.5 1306.9,189.8 1308.2,197.9 1309.5,206.6 1310.8,215.2 1312.1,223.2 1313.5,230.3 1314.8,237.2 1316.1,244.2 1317.4,251.9 1318.7,261.0 1320.1,271.0 1321.4,280.6 1322.7,288.9 1324.0,296.4 1325.3,303.5 1326.7,310.5 1328.0,317.6 1329.3,324.6 1330.6,331.7 1331.9,338.7 1333.2,345.6 1334.6,352.3 1335.9,358.7 1337.2,365.0 1338.5,370.9 1339.8,376.5 1341.2,381.9 1342.5,387.1 1343.8,392.3 1345.1,397.2 1346.4,402.0 1347.8,406.6 1349.1,411.0 1350.4,415.1 1351.7,419.0 1353.0,422.6 1354.4,425.9 1355.7,429.1 1357.0,432.2 1358.3,435.2 1359.6,438.1 1360.9,440.8 1362.3,443.4 1363.6,446.0 1364.9,448.4 1366.2,450.7 1367.5,452.9 1368.9,455.0 1370.2,457.0 1371.5,458.9 1372.8,460.9 1374.1,462.8 1375.5,464.6 1376.8,466.5 1378.1,468.2 1379.4,469.9 1380.7,471.6 1382.1,473.1 1383.4,474.6 1384.7,475.9 1386.0,477.2 1387.3,478.3 1388.6,479.2 1390.0,480.1 1391.3,480.8 1392.6,481.5 1393.9,482.2 1395.2,482.9 1396.6,483.5 1397.9,484.1 1399.2,484.8 1400.5,485.4 1401.8,485.9 1403.2,486.5 1404.5,487.0 1405.8,487.6 1407.1,488.1 1408.4,488.5 1409.8,489.0 1411.1,489.5 1412.4,489.9 1413.7,490.3 1415.0,490.7 1416.3,491.0 1417.7,491.4 1419.0,491.7 1420.3,492.0 1421.6,492.3 1422.9,492.6 1424.3,492.8 1425.6,493.0 1426.9,493.2 1428.2,493.4 1429.5,493.6 1430.9,493.7 1432.2,493.9 1433.5,494.0 1434.8,494.1 1436.1,494.2 1437.5,494.4 1438.8,494.5 1440.1,494.6 1441.4,494.7 1442.7,494.9 1444.0,495.0 1445.4,495.1 1446.7,495.2 1448.0,495.3 1449.3,495.4 1450.6,495.5 1452.0,495.7 1453.3,495.8 1454.6,495.9 1455.9,496.0 1457.2,496.1 1458.6,496.2 1459.9,496.3 1461.2,496.4 1462.5,496.4 1463.8,496.5 1465.2,496.6 1466.5,496.7 1467.8,496.8 1469.1,496.9 1470.4,497.0 1471.7,497.1 1473.1,497.1 1474.4,497.2 1475.7,497.3 1477.0,497.4 1478.3,497.4 1479.7,497.5 1481.0,497.6 1482.3,497.6 1483.6,497.7 1484.9,497.8 1486.3,497.8 1487.6,497.9 1488.9,497.9 1490.2,498.0 1491.5,498.0 1492.9,498.1 1494.2,498.1 1495.5,498.2 1496.8,498.2 1498.1,498.3 1499.4,498.3 1500.8,498.4 1502.1,498.4 1503.4,498.4 1504.7,498.5 1506.0,498.5 1507.4,498.5 1508.7,498.5 1510.0,498.6 1511.3,498.6 1512.6,498.6 1514.0,498.6 1515.3,498.6 1516.6,498.7 1517.9,498.7 1519.2,498.7 1520.6,498.7 1521.9,498.7 1523.2,498.7 1524.5,498.7 1525.8,498.7 1527.1,498.7 1528.5,498.7 1529.8,498.7 1531.1,498.7 1532.4,498.7 1533.7,498.7 1535.1,498.7 1536.4,498.7 1537.7,498.7" fill="none" stroke="#ff0000" stroke-width="3.8" stroke-linejoin="round"/>
<circle cx="1018.5" cy="502.7" r="4.3" fill="none" stroke="#ff0000" stroke-width="1.6"/>
<circle cx="1023.5" cy="501.0" r="4.3" fill="none" stroke="#ff0000" stroke-width="1.6"/>
<circle cx="1028.6" cy="500.5" r="4.3" fill="none" stroke="#ff0000" stroke-width="1.6"/>
<circle cx="1033.6" cy="497.8" r="4.3" fill="none" stroke="#ff0000" stroke-width="1.6"/>
<circle cx="1038.7" cy="499.8" r="4.3" fill="none" stroke="#ff0000" stroke-width="1.6"/>
<circle cx="1043.7" cy="499.5" r="4.3" fill="none" stroke="#ff0000" stroke-width="1.6"/>
<circle cx="1048.8" cy="499.7" r="4.3" fill="none" stroke="#ff0000" stroke-width="1.6"/>
<circle cx="1053.8" cy="498.8" r="4.3" fill="none" stroke="#ff0000" stroke-width="1.6"/>
<circle cx="1058.9" cy="499.4" r="4.3" fill="none" stroke="#ff0000" stroke-width="1.6"/>
<circle cx="1063.9" cy="498.6" r="4.3" fill="none" stroke="#ff0000" stroke-width="1.6"/>
<circle cx="1069.0" cy="497.3" r="4.3" fill="none" stroke="#ff0000" stroke-width="1.6"/>
<circle cx="1074.0" cy="500.0" r="4.3" fill="none" stroke="#ff0000" stroke-width="1.6"/>
<circle cx="1079.1" cy="499.7" r="4.3" fill="none" stroke="#ff0000" stroke-width="1.6"/>
<circle cx="1084.1" cy="500.6" r="4.3" fill="none" stroke="#ff0000" stroke-width="1.6"/>
<circle cx="1089.2" cy="498.1" r="4.3" fill="none" stroke="#ff0000" stroke-width="1.6"/>
<circle cx="1094.2" cy="497.2" r="4.3" fill="none" stroke="#ff0000" stroke-width="1.6"/>
<circle cx="1099.3" cy="496.7" r="4.3" fill="none" stroke="#ff0000" stroke-width="1.6"/>
<circle cx="1104.3" cy="495.0" r="4.3" fill="none" stroke="#ff0000" stroke-width="1.6"/>
<circle cx="1109.4" cy="497.8" r="4.3" fill="none" stroke="#ff0000" stroke-width="1.6"/>
<circle cx="1114.4" cy="494.7" r="4.3" fill="none" stroke="#ff0000" stroke-width="1.6"/>
<circle cx="1119.5" cy="494.0" r="4.3" fill="none" stroke="#ff0000" stroke-width="1.6"/>
<circle cx="1124.5" cy="494.7" r="4.3" fill="none" stroke="#ff0000" stroke-width="1.6"/>
<circle cx="1129.6" cy="496.2" r="4.3" fill="none" stroke="#ff0000" stroke-width="1.6"/>
<circle cx="1134.6" cy="493.8" r="4.3" fill="none" stroke="#ff0000" stroke-width="1.6"/>
<circle cx="1139.7" cy="491.1" r="4.3" fill="none" stroke="#ff0000" stroke-width="1.6"/>
<circle cx="1144.7" cy="490.4" r="4.3" fill="none" stroke="#ff0000" stroke-width="1.6"/>
<circle cx="1149.8" cy="490.8" r="4.3" fill="none" stroke="#ff0000" stroke-width="1.6"/>
<circle cx="1154.8" cy="488.3" r="4.3" fill="none" stroke="#ff0000" stroke-width="1.6"/>
<circle cx="1159.9" cy="485.8" r="4.3" fill="none" stroke="#ff0000" stroke-width="1.6"/>
<circle cx="1164.9" cy="484.6" r="4.3" fill="none" stroke="#ff0000" stroke-width="1.6"/>
<circle cx="1170.0" cy="483.6" r="4.3" fill="none" stroke="#ff0000" stroke-width="1.6"/>
<circle cx="1175.0" cy="481.7" r="4.3" fill="none" stroke="#ff0000" stroke-width="1.6"/>
<circle cx="1180.1" cy="472.7" r="4.3" fill="none" stroke="#ff0000" stroke-width="1.6"/>
<circle cx="1185.1" cy="467.7" r="4.3" fill="none" stroke="#ff0000" stroke-width="1.6"/>
<circle cx="1190.2" cy="461.0" r="4.3" fill="none" stroke="#ff0000" stroke-width="1.6"/>
<circle cx="1195.2" cy="451.6" r="4.3" fill="none" stroke="#ff0000" stroke-width="1.6"/>
<circle cx="1200.3" cy="444.6" r="4.3" fill="none" stroke="#ff0000" stroke-width="1.6"/>
<circle cx="1205.3" cy="434.0" r="4.3" fill="none" stroke="#ff0000" stroke-width="1.6"/>
<circle cx="1210.4" cy="424.9" r="4.3" fill="none" stroke="#ff0000" stroke-width="1.6"/>
<circle cx="1215.4" cy="409.9" r="4.3" fill="none" stroke="#ff0000" stroke-width="1.6"/>
<circle cx="1220.5" cy="392.1" r="4.3" fill="none" stroke="#ff0000" stroke-width="1.6"/>
<circle cx="1225.5" cy="376.4" r="4.3" fill="none" stroke="#ff0000" stroke-width="1.6"/>
<circle cx="1230.6" cy="352.7" r="4.3" fill="none" stroke="#ff0000" stroke-width="1.6"/>
<circle cx="1235.6" cy="320.8" r="4.3" fill="none" stroke="#ff0000" stroke-width="1.6"/>
<circle cx="1240.7" cy="291.5" r="4.3" fill="none" stroke="#ff0000" stroke-width="1.6"/>
<circle cx="1245.7" cy="263.8" r="4.3" fill="none" stroke="#ff0000" stroke-width="1.6"/>
<circle cx="1250.8" cy="238.5" r="4.3" fill="none" stroke="#ff0000" stroke-width="1.6"/>
<circle cx="1255.8" cy="214.6" r="4.3" fill="none" stroke="#ff0000" stroke-width="1.6"/>
<circle cx="1260.9" cy="180.1" r="4.3" fill="none" stroke="#ff0000" stroke-width="1.6"/>
<circle cx="1265.9" cy="157.0" r="4.3" fill="none" stroke="#ff0000" stroke-width="1.6"/>
<circle cx="1271.0" cy="139.7" r="4.3" fill="none" stroke="#ff0000" stroke-width="1.6"/>
<circle cx="1276.0" cy="127.7" r="4.3" fill="none" stroke="#ff0000" stroke-width="1.6"/>
<circle cx="1281.1" cy="123.0" r="4.3" fill="none" stroke="#ff0000" stroke-width="1.6"/>
<circle cx="1286.1" cy="124.4" r="4.3" fill="none" stroke="#ff0000" stroke-width="1.6"/>
<circle cx="1291.2" cy="130.8" r="4.3" fill="none" stroke="#ff0000" stroke-width="1.6"/>
<circle cx="1296.2" cy="140.2" r="4.3" fill="none" stroke="#ff0000" stroke-width="1.6"/>
<circle cx="1301.3" cy="162.4" r="4.3" fill="none" stroke="#ff0000" stroke-width="1.6"/>
<circle cx="1306.3" cy="184.5" r="4.3" fill="none" stroke="#ff0000" stroke-width="1.6"/>
<circle cx="1311.4" cy="218.0" r="4.3" fill="none" stroke="#ff0000" stroke-width="1.6"/>
<circle cx="1316.4" cy="243.7" r="4.3" fill="none" stroke="#ff0000" stroke-width="1.6"/>
<circle cx="1321.5" cy="282.9" r="4.3" fill="none" stroke="#ff0000" stroke-width="1.6"/>
<circle cx="1326.5" cy="311.7" r="4.3" fill="none" stroke="#ff0000" stroke-width="1.6"/>
<circle cx="1331.6" cy="336.7" r="4.3" fill="none" stroke="#ff0000" stroke-width="1.6"/>
<circle cx="1336.6" cy="364.7" r="4.3" fill="none" stroke="#ff0000" stroke-width="1.6"/>
<circle cx="1341.7" cy="383.1" r="4.3" fill="none" stroke="#ff0000" stroke-width="1.6"/>
<circle cx="1346.7" cy="403.3" r="4.3" fill="none" stroke="#ff0000" stroke-width="1.6"/>
<circle cx="1351.8" cy="419.4" r="4.3" fill="none" stroke="#ff0000" stroke-width="1.6"/>
<circle cx="1356.8" cy="430.5" r="4.3" fill="none" stroke="#ff0000" stroke-width="1.6"/>
<circle cx="1361.9" cy="443.3" r="4.3" fill="none" stroke="#ff0000" stroke-width="1.6"/>
<circle cx="1366.9" cy="454.4" r="4.3" fill="none" stroke="#ff0000" stroke-width="1.6"/>
<circle cx="1372.0" cy="458.3" r="4.3" fill="none" stroke="#ff0000" stroke-width="1.6"/>
<circle cx="1377.0" cy="468.0" r="4.3" fill="none" stroke="#ff0000" stroke-width="1.6"/>
<circle cx="1382.1" cy="473.0" r="4.3" fill="none" stroke="#ff0000" stroke-width="1.6"/>
<circle cx="1387.1" cy="480.4" r="4.3" fill="none" stroke="#ff0000" stroke-width="1.6"/>
<circle cx="1392.2" cy="481.9" r="4.3" fill="none" stroke="#ff0000" stroke-width="1.6"/>
<circle cx="1397.2" cy="484.7" r="4.3" fill="none" stroke="#ff0000" stroke-width="1.6"/>
<circle cx="1402.3" cy="487.0" r="4.3" fill="none" stroke="#ff0000" stroke-width="1.6"/>
<circle cx="1407.3" cy="488.5" r="4.3" fill="none" stroke="#ff0000" stroke-width="1.6"/>
<circle cx="1412.4" cy="488.1" r="4.3" fill="none" stroke="#ff0000" stroke-width="1.6"/>
<circle cx="1417.4" cy="493.1" r="4.3" fill="none" stroke="#ff0000" stroke-width="1.6"/>
<circle cx="1422.5" cy="490.7" r="4.3" fill="none" stroke="#ff0000" stroke-width="1.6"/>
<circle cx="1427.5" cy="493.6" r="4.3" fill="none" stroke="#ff0000" stroke-width="1.6"/>
<circle cx="1432.6" cy="494.7" r="4.3" fill="none" stroke="#ff0000" stroke-width="1.6"/>
<circle cx="1437.6" cy="493.3" r="4.3" fill="none" stroke="#ff0000" stroke-width="1.6"/>
<circle cx="1442.7" cy="495.0" r="4.3" fill="none" stroke="#ff0000" stroke-width="1.6"/>
<circle cx="1447.7" cy="496.8" r="4.3" fill="none" stroke="#ff0000" stroke-width="1.6"/>
<circle cx="1452.8" cy="495.7" r="4.3" fill="none" stroke="#ff0000" stroke-width="1.6"/>
<circle cx="1457.8" cy="495.0" r="4.3" fill="none" stroke="#ff0000" stroke-width="1.6"/>
<circle cx="1462.9" cy="492.7" r="4.3" fill="none" stroke="#ff0000" stroke-width="1.6"/>
<circle cx="1467.9" cy="495.6" r="4.3" fill="none" stroke="#ff0000" stroke-width="1.6"/>
<circle cx="1473.0" cy="496.4" r="4.3" fill="none" stroke="#ff0000" stroke-width="1.6"/>
<circle cx="1478.0" cy="496.7" r="4.3" fill="none" stroke="#ff0000" stroke-width="1.6"/>
<circle cx="1483.1" cy="496.4" r="4.3" fill="none" stroke="#ff0000" stroke-width="1.6"/>
<circle cx="1488.1" cy="498.4" r="4.3" fill="none" stroke="#ff0000" stroke-width="1.6"/>
<circle cx="1493.2" cy="497.4" r="4.3" fill="none" stroke="#ff0000" stroke-width="1.6"/>
<circle cx="1498.2" cy="498.1" r="4.3" fill="none" stroke="#ff0000" stroke-width="1.6"/>
<circle cx="1503.3" cy="499.3" r="4.3" fill="none" stroke="#ff0000" stroke-width="1.6"/>
<circle cx="1508.3" cy="497.4" r="4.3" fill="none" stroke="#ff0000" stroke-width="1.6"/>
<circle cx="1513.4" cy="498.2" r="4.3" fill="none" stroke="#ff0000" stroke-width="1.6"/>
<circle cx="1518.4" cy="501.5" r="4.3" fill="none" stroke="#ff0000" stroke-width="1.6"/>
<circle cx="1523.5" cy="499.8" r="4.3" fill="none" stroke="#ff0000" stroke-width="1.6"/>
<circle cx="1528.5" cy="497.0" r="4.3" fill="none" stroke="#ff0000" stroke-width="1.6"/>
<path d="M1026.2 481.3L1020.6 490.8L1031.8 490.8ZM1031.9 508.3L1026.3 517.8L1037.5 517.8ZM1042.0 494.8L1036.4 504.3L1047.6 504.3ZM1047.0 504.9L1041.4 514.4L1052.6 514.4ZM1053.1 478.0L1047.5 487.5L1058.7 487.5ZM1057.1 506.6L1051.5 516.1L1062.7 516.1ZM1063.8 508.3L1058.2 517.8L1069.4 517.8ZM1068.9 484.7L1063.3 494.2L1074.5 494.2ZM1073.9 474.6L1068.3 484.1L1079.5 484.1ZM1080.7 501.5L1075.1 511.0L1086.3 511.0ZM1085.7 513.3L1080.1 522.8L1091.3 522.8ZM1090.8 499.9L1085.2 509.4L1096.4 509.4ZM1095.8 489.8L1090.2 499.3L1101.4 499.3ZM1100.8 478.0L1095.2 487.5L1106.4 487.5ZM1105.9 494.8L1100.3 504.3L1111.5 504.3ZM1110.9 508.3L1105.3 517.8L1116.5 517.8ZM1117.7 504.9L1112.1 514.4L1123.3 514.4ZM1122.7 478.0L1117.1 487.5L1128.3 487.5ZM1127.8 488.1L1122.2 497.6L1133.4 497.6ZM1132.8 491.4L1127.2 500.9L1138.4 500.9ZM1137.9 474.6L1132.3 484.1L1143.5 484.1ZM1142.9 489.8L1137.3 499.3L1148.5 499.3ZM1148.0 469.6L1142.4 479.1L1153.6 479.1ZM1153.0 471.3L1147.4 480.8L1158.6 480.8ZM1158.0 483.0L1152.4 492.5L1163.6 492.5ZM1164.1 442.7L1158.5 452.2L1169.7 452.2ZM1169.8 476.3L1164.2 485.8L1175.4 485.8ZM1174.9 483.0L1169.3 492.5L1180.5 492.5ZM1179.9 457.8L1174.3 467.3L1185.5 467.3ZM1186.6 447.7L1181.0 457.2L1192.2 457.2ZM1191.7 437.6L1186.1 447.1L1197.3 447.1ZM1195.1 405.6L1189.5 415.1L1200.7 415.1ZM1201.8 404.0L1196.2 413.5L1207.4 413.5ZM1206.8 385.4L1201.2 394.9L1212.4 394.9ZM1211.9 380.4L1206.3 389.9L1217.5 389.9ZM1218.6 358.5L1213.0 368.0L1224.2 368.0ZM1223.7 324.9L1218.1 334.4L1229.3 334.4ZM1228.7 306.4L1223.1 315.9L1234.3 315.9ZM1232.1 296.3L1226.5 305.8L1237.7 305.8ZM1238.8 266.0L1233.2 275.5L1244.4 275.5ZM1243.8 212.2L1238.2 221.7L1249.4 221.7ZM1248.9 202.1L1243.3 211.6L1254.5 211.6ZM1252.3 163.4L1246.7 172.9L1257.9 172.9ZM1259.0 133.1L1253.4 142.6L1264.6 142.6ZM1267.4 131.4L1261.8 140.9L1273.0 140.9ZM1272.4 128.0L1266.8 137.5L1278.0 137.5ZM1279.2 118.0L1273.6 127.5L1284.8 127.5ZM1285.9 133.1L1280.3 142.6L1291.5 142.6ZM1296.0 136.5L1290.4 146.0L1301.6 146.0ZM1302.7 163.4L1297.1 172.9L1308.3 172.9ZM1307.8 165.1L1302.2 174.6L1313.4 174.6ZM1314.5 222.3L1308.9 231.8L1320.1 231.8ZM1317.9 257.6L1312.3 267.1L1323.5 267.1ZM1324.6 259.3L1319.0 268.8L1330.2 268.8ZM1329.7 313.1L1324.1 322.6L1335.3 322.6ZM1334.7 350.1L1329.1 359.6L1340.3 359.6ZM1339.7 345.1L1334.1 354.6L1345.3 354.6ZM1344.8 358.5L1339.2 368.0L1350.4 368.0ZM1349.8 385.4L1344.2 394.9L1355.4 394.9ZM1359.9 387.1L1354.3 396.6L1365.5 396.6ZM1366.7 397.2L1361.1 406.7L1372.3 406.7ZM1356.6 415.7L1351.0 425.2L1362.2 425.2ZM1371.7 415.7L1366.1 425.2L1377.3 425.2ZM1376.8 432.6L1371.2 442.1L1382.4 442.1ZM1380.1 462.8L1374.5 472.3L1385.7 472.3ZM1388.5 459.5L1382.9 469.0L1394.1 469.0ZM1396.9 474.6L1391.3 484.1L1402.5 484.1ZM1403.7 476.3L1398.1 485.8L1409.3 485.8ZM1413.8 478.0L1408.2 487.5L1419.4 487.5ZM1423.9 488.1L1418.3 497.6L1429.5 497.6ZM1430.6 478.0L1425.0 487.5L1436.2 487.5ZM1437.3 515.0L1431.7 524.5L1442.9 524.5ZM1442.4 511.6L1436.8 521.1L1448.0 521.1ZM1445.7 520.0L1440.1 529.5L1451.3 529.5ZM1450.8 489.8L1445.2 499.3L1456.4 499.3ZM1457.5 474.6L1451.9 484.1L1463.1 484.1ZM1467.6 499.9L1462.0 509.4L1473.2 509.4ZM1472.7 496.5L1467.1 506.0L1478.3 506.0ZM1477.7 469.6L1472.1 479.1L1483.3 479.1ZM1484.4 474.6L1478.8 484.1L1490.0 484.1ZM1487.8 509.9L1482.2 519.4L1493.4 519.4ZM1494.5 504.9L1488.9 514.4L1500.1 514.4ZM1499.6 481.3L1494.0 490.8L1505.2 490.8ZM1504.6 494.8L1499.0 504.3L1510.2 504.3ZM1509.7 483.0L1504.1 492.5L1515.3 492.5ZM1514.7 498.2L1509.1 507.7L1520.3 507.7ZM1521.4 503.2L1515.8 512.7L1527.0 512.7ZM1528.2 501.5L1522.6 511.0L1533.8 511.0Z" fill="none" stroke="#0000ff" stroke-width="1.6" stroke-linejoin="miter"/>
</g>
<line x1="1316.4" y1="8.6" x2="1316.4" y2="535.5" stroke="#000" stroke-width="1.3" stroke-dasharray="2.2 2.2"/>
<rect x="1011.4" y="8.6" width="526.3" height="526.9" stroke="#000" stroke-width="1.8" fill="none"/>
<line x1="1017.7" y1="46.6" x2="1068" y2="46.6" stroke="#000" stroke-width="3" stroke-dasharray="7.2 4.4"/>
<path d="M1042.8 68.9L1033.6 84.7L1052 84.7Z" fill="none" stroke="#0000ff" stroke-width="1.7"/>
<line x1="1018.4" y1="110.9" x2="1068" y2="110.9" stroke="#0000ff" stroke-width="4.2"/>
<circle cx="1043.1" cy="143.8" r="7.6" fill="none" stroke="#ff0000" stroke-width="1.7"/>
<line x1="1018.4" y1="176.2" x2="1068" y2="176.2" stroke="#ff0000" stroke-width="4.2"/>
<text x="1074.9" y="54.7" font-size="30.5">Substrate</text>
<text x="1074.9" y="87.5" font-size="30.5">SX-PES</text>
<text x="1074.9" y="119" font-size="30.5">Simulation</text>
<text x="1074.9" y="152.5" font-size="30.5">HAX-PES</text>
<text x="1074.9" y="184.6" font-size="30.5">Simulation</text>
<text x="1525" y="64.7" font-size="44.5" text-anchor="end" textLength="155.3" lengthAdjust="spacingAndGlyphs"><tspan font-style="italic">V</tspan><tspan font-size="31" font-style="italic" dy="10.4">g</tspan><tspan dy="-10.4"> = 0 V</tspan></text>
<text x="1529" y="119.3" font-size="44.5" text-anchor="end">Ti 2<tspan font-style="italic">p</tspan><tspan font-size="29.5" dy="9.5">3/2</tspan></text>
<text x="905.5" y="50.5" font-size="60" font-weight="bold">d</text>
<text x="986" y="277.3" font-size="44.5" text-anchor="middle" textLength="379.1" lengthAdjust="spacingAndGlyphs" transform="rotate(-90 986 277.3)">Intensity (arb. units)</text>
<line x1="1103.6" y1="557.1" x2="1103.6" y2="573.1" stroke="#000" stroke-width="1.6"/>
<line x1="1103.6" y1="1084" x2="1103.6" y2="1068" stroke="#000" stroke-width="1.6"/>
<line x1="1210" y1="557.1" x2="1210" y2="573.1" stroke="#000" stroke-width="1.6"/>
<line x1="1210" y1="1084" x2="1210" y2="1068" stroke="#000" stroke-width="1.6"/>
<line x1="1316.4" y1="557.1" x2="1316.4" y2="573.1" stroke="#000" stroke-width="1.6"/>
<line x1="1316.4" y1="1084" x2="1316.4" y2="1068" stroke="#000" stroke-width="1.6"/>
<line x1="1422.8" y1="557.1" x2="1422.8" y2="573.1" stroke="#000" stroke-width="1.6"/>
<line x1="1422.8" y1="1084" x2="1422.8" y2="1068" stroke="#000" stroke-width="1.6"/>
<line x1="1529.2" y1="557.1" x2="1529.2" y2="573.1" stroke="#000" stroke-width="1.6"/>
<line x1="1529.2" y1="1084" x2="1529.2" y2="1068" stroke="#000" stroke-width="1.6"/>
<clipPath id="cde548"><rect x="1011.4" y="557.1" width="526.3000000000001" height="526.9"/></clipPath>
<g clip-path="url(#cde548)">
<polyline points="1011.4,1054.2 1012.7,1054.2 1014.0,1054.2 1015.4,1054.2 1016.7,1054.2 1018.0,1054.2 1019.3,1054.2 1020.6,1054.2 1022.0,1054.2 1023.3,1054.2 1024.6,1054.2 1025.9,1054.2 1027.2,1054.2 1028.5,1054.2 1029.9,1054.2 1031.2,1054.2 1032.5,1054.2 1033.8,1054.2 1035.1,1054.2 1036.5,1054.2 1037.8,1054.2 1039.1,1054.2 1040.4,1054.2 1041.7,1054.2 1043.1,1054.2 1044.4,1054.2 1045.7,1054.2 1047.0,1054.2 1048.3,1054.2 1049.7,1054.2 1051.0,1054.2 1052.3,1054.2 1053.6,1054.2 1054.9,1054.2 1056.2,1054.2 1057.6,1054.2 1058.9,1054.2 1060.2,1054.2 1061.5,1054.2 1062.8,1054.2 1064.2,1054.2 1065.5,1054.2 1066.8,1054.2 1068.1,1054.2 1069.4,1054.2 1070.8,1054.2 1072.1,1054.2 1073.4,1054.2 1074.7,1054.2 1076.0,1054.2 1077.4,1054.2 1078.7,1054.2 1080.0,1054.2 1081.3,1054.2 1082.6,1054.2 1083.9,1054.2 1085.3,1054.2 1086.6,1054.2 1087.9,1054.2 1089.2,1054.2 1090.5,1054.2 1091.9,1054.2 1093.2,1054.2 1094.5,1054.2 1095.8,1054.2 1097.1,1054.1 1098.5,1054.1 1099.8,1054.1 1101.1,1054.1 1102.4,1054.0 1103.7,1054.0 1105.1,1053.9 1106.4,1053.9 1107.7,1053.8 1109.0,1053.8 1110.3,1053.7 1111.6,1053.7 1113.0,1053.6 1114.3,1053.6 1115.6,1053.5 1116.9,1053.4 1118.2,1053.4 1119.6,1053.3 1120.9,1053.2 1122.2,1053.1 1123.5,1053.1 1124.8,1053.0 1126.2,1052.9 1127.5,1052.8 1128.8,1052.8 1130.1,1052.7 1131.4,1052.6 1132.8,1052.5 1134.1,1052.4 1135.4,1052.3 1136.7,1052.2 1138.0,1052.1 1139.3,1052.0 1140.7,1051.9 1142.0,1051.8 1143.3,1051.7 1144.6,1051.5 1145.9,1051.4 1147.3,1051.2 1148.6,1051.1 1149.9,1050.9 1151.2,1050.7 1152.5,1050.6 1153.9,1050.4 1155.2,1050.2 1156.5,1050.0 1157.8,1049.8 1159.1,1049.5 1160.5,1049.3 1161.8,1049.1 1163.1,1048.8 1164.4,1048.6 1165.7,1048.3 1167.0,1048.1 1168.4,1047.8 1169.7,1047.5 1171.0,1047.2 1172.3,1046.9 1173.6,1046.6 1175.0,1046.3 1176.3,1046.0 1177.6,1045.6 1178.9,1045.3 1180.2,1044.9 1181.6,1044.5 1182.9,1044.0 1184.2,1043.5 1185.5,1042.9 1186.8,1042.3 1188.2,1041.6 1189.5,1040.9 1190.8,1040.1 1192.1,1039.3 1193.4,1038.5 1194.7,1037.7 1196.1,1036.8 1197.4,1035.9 1198.7,1034.9 1200.0,1033.8 1201.3,1032.7 1202.7,1031.4 1204.0,1030.1 1205.3,1028.7 1206.6,1027.3 1207.9,1025.7 1209.3,1024.2 1210.6,1022.6 1211.9,1021.0 1213.2,1019.2 1214.5,1017.4 1215.9,1015.5 1217.2,1013.4 1218.5,1011.3 1219.8,1009.1 1221.1,1006.8 1222.4,1004.3 1223.8,1001.8 1225.1,999.0 1226.4,996.1 1227.7,993.0 1229.0,989.7 1230.4,986.3 1231.7,982.7 1233.0,978.9 1234.3,975.0 1235.6,970.8 1237.0,966.3 1238.3,961.5 1239.6,956.5 1240.9,951.4 1242.2,946.2 1243.6,941.2 1244.9,936.3 1246.2,931.5 1247.5,926.8 1248.8,922.1 1250.1,917.4 1251.5,912.6 1252.8,907.7 1254.1,902.6 1255.4,897.3 1256.7,891.7 1258.1,885.9 1259.4,879.9 1260.7,873.8 1262.0,867.5 1263.3,861.1 1264.7,854.7 1266.0,848.4 1267.3,841.9 1268.6,835.4 1269.9,828.7 1271.3,822.1 1272.6,815.6 1273.9,809.1 1275.2,802.6 1276.5,796.0 1277.8,789.5 1279.2,782.8 1280.5,776.0 1281.8,769.3 1283.1,762.7 1284.4,756.3 1285.8,749.9 1287.1,743.6 1288.4,737.5 1289.7,731.8 1291.0,726.6 1292.4,721.8 1293.7,717.3 1295.0,713.0 1296.3,708.8 1297.6,704.7 1299.0,700.6 1300.3,696.1 1301.6,691.5 1302.9,687.1 1304.2,683.2 1305.5,680.1 1306.9,678.1 1308.2,677.0 1309.5,675.9 1310.8,674.9 1312.1,674.2 1313.5,673.5 1314.8,673.1 1316.1,672.9 1317.4,673.0 1318.7,673.2 1320.1,673.7 1321.4,674.3 1322.7,675.1 1324.0,676.1 1325.3,677.2 1326.7,678.5 1328.0,680.3 1329.3,684.1 1330.6,689.5 1331.9,695.6 1333.2,701.5 1334.6,706.7 1335.9,711.8 1337.2,717.1 1338.5,722.5 1339.8,728.0 1341.2,733.8 1342.5,739.8 1343.8,746.0 1345.1,752.2 1346.4,758.6 1347.8,765.0 1349.1,771.5 1350.4,778.1 1351.7,784.8 1353.0,791.4 1354.4,798.1 1355.7,805.0 1357.0,811.7 1358.3,818.2 1359.6,824.3 1360.9,830.0 1362.3,835.6 1363.6,841.0 1364.9,846.4 1366.2,851.8 1367.5,857.2 1368.9,862.5 1370.2,867.8 1371.5,873.1 1372.8,878.4 1374.1,883.7 1375.5,889.0 1376.8,894.3 1378.1,899.7 1379.4,905.0 1380.7,910.1 1382.1,915.0 1383.4,919.8 1384.7,924.4 1386.0,928.9 1387.3,933.4 1388.6,937.7 1390.0,941.9 1391.3,946.0 1392.6,950.1 1393.9,954.1 1395.2,958.0 1396.6,961.8 1397.9,965.6 1399.2,969.1 1400.5,972.6 1401.8,975.8 1403.2,979.0 1404.5,982.1 1405.8,985.1 1407.1,988.0 1408.4,990.7 1409.8,993.4 1411.1,995.8 1412.4,998.1 1413.7,1000.3 1415.0,1002.3 1416.3,1004.3 1417.7,1006.2 1419.0,1008.0 1420.3,1009.7 1421.6,1011.4 1422.9,1013.0 1424.3,1014.5 1425.6,1015.9 1426.9,1017.4 1428.2,1018.7 1429.5,1020.1 1430.9,1021.4 1432.2,1022.6 1433.5,1023.8 1434.8,1025.0 1436.1,1026.1 1437.5,1027.1 1438.8,1028.1 1440.1,1029.0 1441.4,1029.9 1442.7,1030.7 1444.0,1031.5 1445.4,1032.3 1446.7,1033.1 1448.0,1033.8 1449.3,1034.5 1450.6,1035.1 1452.0,1035.7 1453.3,1036.3 1454.6,1036.8 1455.9,1037.3 1457.2,1037.7 1458.6,1038.0 1459.9,1038.4 1461.2,1038.7 1462.5,1039.1 1463.8,1039.4 1465.2,1039.7 1466.5,1040.0 1467.8,1040.2 1469.1,1040.5 1470.4,1040.7 1471.7,1041.0 1473.1,1041.2 1474.4,1041.4 1475.7,1041.6 1477.0,1041.8 1478.3,1041.9 1479.7,1042.1 1481.0,1042.3 1482.3,1042.4 1483.6,1042.5 1484.9,1042.7 1486.3,1042.8 1487.6,1042.9 1488.9,1043.0 1490.2,1043.2 1491.5,1043.3 1492.9,1043.4 1494.2,1043.5 1495.5,1043.6 1496.8,1043.7 1498.1,1043.8 1499.4,1043.9 1500.8,1044.0 1502.1,1044.1 1503.4,1044.2 1504.7,1044.3 1506.0,1044.4 1507.4,1044.4 1508.7,1044.5 1510.0,1044.6 1511.3,1044.7 1512.6,1044.8 1514.0,1044.8 1515.3,1044.9 1516.6,1045.0 1517.9,1045.0 1519.2,1045.1 1520.6,1045.2 1521.9,1045.3 1523.2,1045.3 1524.5,1045.4 1525.8,1045.4 1527.1,1045.5 1528.5,1045.6 1529.8,1045.6 1531.1,1045.7 1532.4,1045.7 1533.7,1045.8 1535.1,1045.8 1536.4,1045.9 1537.7,1045.9" fill="none" stroke="#000" stroke-width="4" stroke-linejoin="round" stroke-dasharray="7 7.3"/>
<polyline points="1011.4,1044.5 1012.7,1044.5 1014.0,1044.5 1015.4,1044.5 1016.7,1044.5 1018.0,1044.4 1019.3,1044.4 1020.6,1044.4 1022.0,1044.4 1023.3,1044.3 1024.6,1044.3 1025.9,1044.3 1027.2,1044.2 1028.5,1044.1 1029.9,1044.1 1031.2,1044.0 1032.5,1043.9 1033.8,1043.8 1035.1,1043.7 1036.5,1043.6 1037.8,1043.5 1039.1,1043.4 1040.4,1043.3 1041.7,1043.2 1043.1,1043.1 1044.4,1042.9 1045.7,1042.8 1047.0,1042.7 1048.3,1042.6 1049.7,1042.4 1051.0,1042.3 1052.3,1042.1 1053.6,1042.0 1054.9,1041.8 1056.2,1041.7 1057.6,1041.5 1058.9,1041.4 1060.2,1041.3 1061.5,1041.1 1062.8,1041.0 1064.2,1040.8 1065.5,1040.6 1066.8,1040.5 1068.1,1040.3 1069.4,1040.1 1070.8,1039.9 1072.1,1039.7 1073.4,1039.5 1074.7,1039.3 1076.0,1039.1 1077.4,1038.9 1078.7,1038.7 1080.0,1038.4 1081.3,1038.2 1082.6,1037.9 1083.9,1037.7 1085.3,1037.4 1086.6,1037.1 1087.9,1036.9 1089.2,1036.6 1090.5,1036.3 1091.9,1036.0 1093.2,1035.7 1094.5,1035.4 1095.8,1035.0 1097.1,1034.7 1098.5,1034.3 1099.8,1033.9 1101.1,1033.5 1102.4,1033.1 1103.7,1032.7 1105.1,1032.2 1106.4,1031.7 1107.7,1031.1 1109.0,1030.6 1110.3,1029.9 1111.6,1029.2 1113.0,1028.4 1114.3,1027.6 1115.6,1026.7 1116.9,1025.8 1118.2,1024.8 1119.6,1023.8 1120.9,1022.7 1122.2,1021.6 1123.5,1020.5 1124.8,1019.4 1126.2,1018.2 1127.5,1017.0 1128.8,1015.7 1130.1,1014.3 1131.4,1012.8 1132.8,1011.3 1134.1,1009.8 1135.4,1008.2 1136.7,1006.5 1138.0,1004.7 1139.3,1002.9 1140.7,1001.1 1142.0,999.2 1143.3,997.3 1144.6,995.3 1145.9,993.1 1147.3,990.8 1148.6,988.4 1149.9,985.9 1151.2,983.3 1152.5,980.7 1153.9,978.1 1155.2,975.5 1156.5,972.8 1157.8,970.2 1159.1,967.5 1160.5,964.7 1161.8,961.9 1163.1,959.0 1164.4,956.0 1165.7,952.8 1167.0,949.4 1168.4,945.7 1169.7,941.8 1171.0,937.7 1172.3,933.5 1173.6,929.4 1175.0,925.4 1176.3,921.6 1177.6,918.0 1178.9,914.5 1180.2,911.0 1181.6,907.5 1182.9,903.8 1184.2,900.0 1185.5,895.8 1186.8,891.3 1188.2,886.3 1189.5,881.0 1190.8,875.4 1192.1,869.6 1193.4,863.7 1194.7,857.7 1196.1,851.9 1197.4,846.1 1198.7,840.1 1200.0,834.1 1201.3,828.2 1202.7,822.4 1204.0,816.9 1205.3,811.5 1206.6,806.2 1207.9,800.9 1209.3,795.8 1210.6,790.7 1211.9,785.7 1213.2,780.7 1214.5,775.8 1215.9,771.0 1217.2,766.1 1218.5,761.2 1219.8,756.4 1221.1,751.7 1222.4,747.1 1223.8,742.6 1225.1,738.1 1226.4,733.7 1227.7,729.4 1229.0,725.2 1230.4,721.0 1231.7,716.7 1233.0,712.6 1234.3,708.5 1235.6,704.7 1237.0,701.2 1238.3,697.9 1239.6,694.6 1240.9,691.5 1242.2,688.6 1243.6,685.9 1244.9,683.5 1246.2,681.4 1247.5,679.5 1248.8,677.7 1250.1,676.1 1251.5,674.7 1252.8,673.6 1254.1,672.8 1255.4,671.9 1256.7,671.2 1258.1,670.6 1259.4,670.3 1260.7,670.3 1262.0,670.6 1263.3,671.0 1264.7,671.5 1266.0,672.0 1267.3,672.6 1268.6,673.3 1269.9,674.2 1271.3,675.3 1272.6,676.8 1273.9,678.9 1275.2,681.7 1276.5,684.8 1277.8,688.2 1279.2,691.8 1280.5,695.4 1281.8,698.8 1283.1,702.4 1284.4,706.3 1285.8,710.3 1287.1,714.4 1288.4,718.6 1289.7,722.7 1291.0,727.0 1292.4,731.4 1293.7,735.8 1295.0,740.3 1296.3,744.8 1297.6,749.4 1299.0,753.9 1300.3,758.6 1301.6,763.3 1302.9,768.3 1304.2,773.5 1305.5,779.0 1306.9,784.7 1308.2,790.4 1309.5,796.0 1310.8,801.4 1312.1,806.6 1313.5,811.8 1314.8,817.3 1316.1,823.2 1317.4,829.7 1318.7,836.5 1320.1,843.5 1321.4,850.5 1322.7,857.3 1324.0,863.6 1325.3,869.4 1326.7,874.9 1328.0,880.2 1329.3,885.3 1330.6,890.2 1331.9,894.9 1333.2,899.6 1334.6,904.1 1335.9,908.5 1337.2,912.9 1338.5,917.1 1339.8,921.3 1341.2,925.3 1342.5,929.3 1343.8,933.2 1345.1,937.0 1346.4,940.7 1347.8,944.4 1349.1,948.0 1350.4,951.6 1351.7,955.2 1353.0,958.6 1354.4,962.1 1355.7,965.4 1357.0,968.7 1358.3,971.8 1359.6,974.9 1360.9,977.7 1362.3,980.5 1363.6,983.2 1364.9,985.8 1366.2,988.4 1367.5,990.8 1368.9,993.2 1370.2,995.6 1371.5,997.8 1372.8,999.9 1374.1,1001.9 1375.5,1003.8 1376.8,1005.6 1378.1,1007.3 1379.4,1009.0 1380.7,1010.6 1382.1,1012.2 1383.4,1013.7 1384.7,1015.2 1386.0,1016.6 1387.3,1017.9 1388.6,1019.1 1390.0,1020.3 1391.3,1021.4 1392.6,1022.4 1393.9,1023.3 1395.2,1024.3 1396.6,1025.2 1397.9,1026.1 1399.2,1026.9 1400.5,1027.7 1401.8,1028.5 1403.2,1029.2 1404.5,1029.9 1405.8,1030.6 1407.1,1031.2 1408.4,1031.8 1409.8,1032.4 1411.1,1032.9 1412.4,1033.4 1413.7,1033.9 1415.0,1034.4 1416.3,1034.8 1417.7,1035.3 1419.0,1035.7 1420.3,1036.1 1421.6,1036.5 1422.9,1036.9 1424.3,1037.3 1425.6,1037.6 1426.9,1037.9 1428.2,1038.2 1429.5,1038.5 1430.9,1038.7 1432.2,1038.9 1433.5,1039.1 1434.8,1039.2 1436.1,1039.4 1437.5,1039.5 1438.8,1039.7 1440.1,1039.8 1441.4,1039.9 1442.7,1040.0 1444.0,1040.1 1445.4,1040.2 1446.7,1040.3 1448.0,1040.4 1449.3,1040.5 1450.6,1040.6 1452.0,1040.7 1453.3,1040.8 1454.6,1040.9 1455.9,1040.9 1457.2,1041.0 1458.6,1041.1 1459.9,1041.2 1461.2,1041.2 1462.5,1041.3 1463.8,1041.4 1465.2,1041.4 1466.5,1041.5 1467.8,1041.6 1469.1,1041.6 1470.4,1041.7 1471.7,1041.8 1473.1,1041.8 1474.4,1041.9 1475.7,1042.0 1477.0,1042.0 1478.3,1042.1 1479.7,1042.1 1481.0,1042.2 1482.3,1042.3 1483.6,1042.3 1484.9,1042.4 1486.3,1042.4 1487.6,1042.5 1488.9,1042.5 1490.2,1042.6 1491.5,1042.7 1492.9,1042.7 1494.2,1042.8 1495.5,1042.8 1496.8,1042.9 1498.1,1042.9 1499.4,1043.0 1500.8,1043.0 1502.1,1043.1 1503.4,1043.1 1504.7,1043.1 1506.0,1043.2 1507.4,1043.2 1508.7,1043.3 1510.0,1043.3 1511.3,1043.4 1512.6,1043.4 1514.0,1043.4 1515.3,1043.5 1516.6,1043.5 1517.9,1043.6 1519.2,1043.6 1520.6,1043.6 1521.9,1043.7 1523.2,1043.7 1524.5,1043.7 1525.8,1043.7 1527.1,1043.8 1528.5,1043.8 1529.8,1043.8 1531.1,1043.9 1532.4,1043.9 1533.7,1043.9 1535.1,1043.9 1536.4,1043.9 1537.7,1044.0" fill="none" stroke="#0000ff" stroke-width="3.8" stroke-linejoin="round"/>
<polyline points="1011.4,1046.3 1012.7,1046.3 1014.0,1046.3 1015.4,1046.3 1016.7,1046.2 1018.0,1046.2 1019.3,1046.2 1020.6,1046.2 1022.0,1046.2 1023.3,1046.2 1024.6,1046.1 1025.9,1046.1 1027.2,1046.1 1028.5,1046.1 1029.9,1046.0 1031.2,1046.0 1032.5,1046.0 1033.8,1046.0 1035.1,1045.9 1036.5,1045.9 1037.8,1045.9 1039.1,1045.8 1040.4,1045.8 1041.7,1045.8 1043.1,1045.7 1044.4,1045.7 1045.7,1045.7 1047.0,1045.6 1048.3,1045.6 1049.7,1045.5 1051.0,1045.5 1052.3,1045.5 1053.6,1045.4 1054.9,1045.4 1056.2,1045.3 1057.6,1045.3 1058.9,1045.2 1060.2,1045.2 1061.5,1045.1 1062.8,1045.1 1064.2,1045.0 1065.5,1045.0 1066.8,1044.9 1068.1,1044.9 1069.4,1044.8 1070.8,1044.7 1072.1,1044.7 1073.4,1044.6 1074.7,1044.6 1076.0,1044.5 1077.4,1044.4 1078.7,1044.4 1080.0,1044.3 1081.3,1044.2 1082.6,1044.2 1083.9,1044.1 1085.3,1044.0 1086.6,1044.0 1087.9,1043.9 1089.2,1043.8 1090.5,1043.7 1091.9,1043.7 1093.2,1043.6 1094.5,1043.5 1095.8,1043.4 1097.1,1043.4 1098.5,1043.3 1099.8,1043.2 1101.1,1043.1 1102.4,1043.0 1103.7,1043.0 1105.1,1042.9 1106.4,1042.8 1107.7,1042.7 1109.0,1042.6 1110.3,1042.5 1111.6,1042.4 1113.0,1042.3 1114.3,1042.2 1115.6,1042.1 1116.9,1041.9 1118.2,1041.8 1119.6,1041.7 1120.9,1041.5 1122.2,1041.4 1123.5,1041.2 1124.8,1041.0 1126.2,1040.9 1127.5,1040.7 1128.8,1040.5 1130.1,1040.3 1131.4,1040.1 1132.8,1039.9 1134.1,1039.7 1135.4,1039.5 1136.7,1039.3 1138.0,1039.1 1139.3,1038.9 1140.7,1038.7 1142.0,1038.4 1143.3,1038.2 1144.6,1038.0 1145.9,1037.7 1147.3,1037.5 1148.6,1037.2 1149.9,1037.0 1151.2,1036.7 1152.5,1036.4 1153.9,1036.1 1155.2,1035.8 1156.5,1035.5 1157.8,1035.1 1159.1,1034.8 1160.5,1034.4 1161.8,1034.0 1163.1,1033.6 1164.4,1033.2 1165.7,1032.7 1167.0,1032.3 1168.4,1031.8 1169.7,1031.2 1171.0,1030.7 1172.3,1030.0 1173.6,1029.4 1175.0,1028.6 1176.3,1027.8 1177.6,1026.9 1178.9,1025.9 1180.2,1024.8 1181.6,1023.7 1182.9,1022.4 1184.2,1021.1 1185.5,1019.6 1186.8,1018.1 1188.2,1016.4 1189.5,1014.3 1190.8,1011.6 1192.1,1008.4 1193.4,1004.9 1194.7,1001.2 1196.1,997.2 1197.4,993.2 1198.7,989.3 1200.0,985.1 1201.3,980.7 1202.7,976.0 1204.0,971.1 1205.3,966.0 1206.6,960.9 1207.9,955.7 1209.3,950.5 1210.6,945.1 1211.9,939.6 1213.2,934.0 1214.5,928.2 1215.9,922.4 1217.2,916.6 1218.5,910.7 1219.8,904.6 1221.1,898.6 1222.4,892.4 1223.8,886.3 1225.1,880.1 1226.4,873.9 1227.7,867.7 1229.0,861.5 1230.4,855.1 1231.7,848.7 1233.0,842.0 1234.3,835.1 1235.6,828.0 1237.0,820.6 1238.3,813.2 1239.6,805.7 1240.9,798.1 1242.2,790.5 1243.6,783.0 1244.9,775.5 1246.2,767.9 1247.5,760.5 1248.8,753.5 1250.1,747.0 1251.5,741.0 1252.8,735.2 1254.1,729.5 1255.4,724.0 1256.7,718.6 1258.1,713.3 1259.4,708.2 1260.7,703.1 1262.0,698.0 1263.3,692.6 1264.7,687.2 1266.0,682.4 1267.3,678.6 1268.6,675.8 1269.9,673.4 1271.3,671.7 1272.6,670.6 1273.9,669.8 1275.2,669.2 1276.5,669.0 1277.8,669.2 1279.2,669.6 1280.5,670.2 1281.8,671.0 1283.1,672.2 1284.4,673.9 1285.8,676.1 1287.1,680.4 1288.4,686.4 1289.7,693.3 1291.0,700.2 1292.4,706.2 1293.7,712.1 1295.0,717.9 1296.3,723.9 1297.6,730.2 1299.0,736.9 1300.3,744.0 1301.6,751.4 1302.9,758.9 1304.2,766.2 1305.5,773.6 1306.9,781.1 1308.2,789.0 1309.5,797.6 1310.8,806.7 1312.1,815.4 1313.5,823.4 1314.8,831.1 1316.1,838.6 1317.4,845.7 1318.7,852.4 1320.1,858.7 1321.4,864.7 1322.7,870.4 1324.0,876.0 1325.3,881.4 1326.7,886.8 1328.0,892.2 1329.3,897.7 1330.6,903.3 1331.9,909.0 1333.2,914.7 1334.6,920.3 1335.9,925.9 1337.2,931.3 1338.5,936.4 1339.8,941.4 1341.2,946.2 1342.5,950.9 1343.8,955.4 1345.1,959.8 1346.4,964.0 1347.8,968.1 1349.1,971.9 1350.4,975.5 1351.7,979.1 1353.0,982.5 1354.4,985.8 1355.7,988.9 1357.0,991.8 1358.3,994.6 1359.6,997.3 1360.9,999.9 1362.3,1002.4 1363.6,1004.8 1364.9,1007.0 1366.2,1009.2 1367.5,1011.2 1368.9,1013.0 1370.2,1014.7 1371.5,1016.3 1372.8,1017.8 1374.1,1019.3 1375.5,1020.6 1376.8,1021.9 1378.1,1023.2 1379.4,1024.3 1380.7,1025.3 1382.1,1026.3 1383.4,1027.1 1384.7,1028.0 1386.0,1028.8 1387.3,1029.5 1388.6,1030.2 1390.0,1030.9 1391.3,1031.5 1392.6,1032.1 1393.9,1032.7 1395.2,1033.3 1396.6,1033.8 1397.9,1034.3 1399.2,1034.8 1400.5,1035.3 1401.8,1035.7 1403.2,1036.2 1404.5,1036.6 1405.8,1037.1 1407.1,1037.5 1408.4,1037.9 1409.8,1038.2 1411.1,1038.6 1412.4,1038.9 1413.7,1039.2 1415.0,1039.5 1416.3,1039.7 1417.7,1039.9 1419.0,1040.1 1420.3,1040.3 1421.6,1040.5 1422.9,1040.6 1424.3,1040.8 1425.6,1040.9 1426.9,1041.1 1428.2,1041.2 1429.5,1041.3 1430.9,1041.5 1432.2,1041.6 1433.5,1041.7 1434.8,1041.8 1436.1,1041.9 1437.5,1042.0 1438.8,1042.1 1440.1,1042.2 1441.4,1042.2 1442.7,1042.3 1444.0,1042.4 1445.4,1042.5 1446.7,1042.5 1448.0,1042.6 1449.3,1042.7 1450.6,1042.8 1452.0,1042.8 1453.3,1042.9 1454.6,1043.0 1455.9,1043.0 1457.2,1043.1 1458.6,1043.2 1459.9,1043.2 1461.2,1043.3 1462.5,1043.4 1463.8,1043.4 1465.2,1043.5 1466.5,1043.6 1467.8,1043.6 1469.1,1043.7 1470.4,1043.7 1471.7,1043.8 1473.1,1043.9 1474.4,1043.9 1475.7,1044.0 1477.0,1044.0 1478.3,1044.1 1479.7,1044.1 1481.0,1044.2 1482.3,1044.2 1483.6,1044.3 1484.9,1044.3 1486.3,1044.4 1487.6,1044.4 1488.9,1044.5 1490.2,1044.5 1491.5,1044.6 1492.9,1044.6 1494.2,1044.7 1495.5,1044.7 1496.8,1044.7 1498.1,1044.8 1499.4,1044.8 1500.8,1044.9 1502.1,1044.9 1503.4,1044.9 1504.7,1045.0 1506.0,1045.0 1507.4,1045.0 1508.7,1045.1 1510.0,1045.1 1511.3,1045.1 1512.6,1045.1 1514.0,1045.2 1515.3,1045.2 1516.6,1045.2 1517.9,1045.2 1519.2,1045.3 1520.6,1045.3 1521.9,1045.3 1523.2,1045.3 1524.5,1045.4 1525.8,1045.4 1527.1,1045.4 1528.5,1045.4 1529.8,1045.4 1531.1,1045.4 1532.4,1045.4 1533.7,1045.5 1535.1,1045.5 1536.4,1045.5 1537.7,1045.5" fill="none" stroke="#ff0000" stroke-width="3.8" stroke-linejoin="round"/>
<circle cx="1019.8" cy="1037.3" r="4.3" fill="none" stroke="#ff0000" stroke-width="1.6"/>
<circle cx="1026.0" cy="1039.1" r="4.3" fill="none" stroke="#ff0000" stroke-width="1.6"/>
<circle cx="1031.3" cy="1038.2" r="4.3" fill="none" stroke="#ff0000" stroke-width="1.6"/>
<circle cx="1036.7" cy="1038.2" r="4.3" fill="none" stroke="#ff0000" stroke-width="1.6"/>
<circle cx="1042.0" cy="1032.9" r="4.3" fill="none" stroke="#ff0000" stroke-width="1.6"/>
<circle cx="1047.3" cy="1038.2" r="4.3" fill="none" stroke="#ff0000" stroke-width="1.6"/>
<circle cx="1052.7" cy="1036.4" r="4.3" fill="none" stroke="#ff0000" stroke-width="1.6"/>
<circle cx="1058.0" cy="1036.4" r="4.3" fill="none" stroke="#ff0000" stroke-width="1.6"/>
<circle cx="1063.3" cy="1035.6" r="4.3" fill="none" stroke="#ff0000" stroke-width="1.6"/>
<circle cx="1068.7" cy="1036.4" r="4.3" fill="none" stroke="#ff0000" stroke-width="1.6"/>
<circle cx="1074.0" cy="1035.6" r="4.3" fill="none" stroke="#ff0000" stroke-width="1.6"/>
<circle cx="1079.3" cy="1034.7" r="4.3" fill="none" stroke="#ff0000" stroke-width="1.6"/>
<circle cx="1084.7" cy="1034.7" r="4.3" fill="none" stroke="#ff0000" stroke-width="1.6"/>
<circle cx="1090.0" cy="1033.8" r="4.3" fill="none" stroke="#ff0000" stroke-width="1.6"/>
<circle cx="1095.3" cy="1035.6" r="4.3" fill="none" stroke="#ff0000" stroke-width="1.6"/>
<circle cx="1100.7" cy="1032.9" r="4.3" fill="none" stroke="#ff0000" stroke-width="1.6"/>
<circle cx="1106.0" cy="1034.7" r="4.3" fill="none" stroke="#ff0000" stroke-width="1.6"/>
<circle cx="1111.3" cy="1041.8" r="4.3" fill="none" stroke="#ff0000" stroke-width="1.6"/>
<circle cx="1116.7" cy="1034.7" r="4.3" fill="none" stroke="#ff0000" stroke-width="1.6"/>
<circle cx="1122.0" cy="1031.1" r="4.3" fill="none" stroke="#ff0000" stroke-width="1.6"/>
<circle cx="1127.3" cy="1032.0" r="4.3" fill="none" stroke="#ff0000" stroke-width="1.6"/>
<circle cx="1132.7" cy="1031.1" r="4.3" fill="none" stroke="#ff0000" stroke-width="1.6"/>
<circle cx="1138.0" cy="1030.2" r="4.3" fill="none" stroke="#ff0000" stroke-width="1.6"/>
<circle cx="1143.3" cy="1029.3" r="4.3" fill="none" stroke="#ff0000" stroke-width="1.6"/>
<circle cx="1148.7" cy="1024.0" r="4.3" fill="none" stroke="#ff0000" stroke-width="1.6"/>
<circle cx="1154.0" cy="1021.3" r="4.3" fill="none" stroke="#ff0000" stroke-width="1.6"/>
<circle cx="1159.3" cy="1020.4" r="4.3" fill="none" stroke="#ff0000" stroke-width="1.6"/>
<circle cx="1164.7" cy="1020.4" r="4.3" fill="none" stroke="#ff0000" stroke-width="1.6"/>
<circle cx="1170.0" cy="1013.3" r="4.3" fill="none" stroke="#ff0000" stroke-width="1.6"/>
<circle cx="1175.3" cy="1008.0" r="4.3" fill="none" stroke="#ff0000" stroke-width="1.6"/>
<circle cx="1180.7" cy="1003.6" r="4.3" fill="none" stroke="#ff0000" stroke-width="1.6"/>
<circle cx="1186.0" cy="992.9" r="4.3" fill="none" stroke="#ff0000" stroke-width="1.6"/>
<circle cx="1191.3" cy="984.9" r="4.3" fill="none" stroke="#ff0000" stroke-width="1.6"/>
<circle cx="1196.7" cy="976.0" r="4.3" fill="none" stroke="#ff0000" stroke-width="1.6"/>
<circle cx="1202.0" cy="960.9" r="4.3" fill="none" stroke="#ff0000" stroke-width="1.6"/>
<circle cx="1206.4" cy="944.9" r="4.3" fill="none" stroke="#ff0000" stroke-width="1.6"/>
<circle cx="1211.8" cy="930.7" r="4.3" fill="none" stroke="#ff0000" stroke-width="1.6"/>
<circle cx="1217.1" cy="909.3" r="4.3" fill="none" stroke="#ff0000" stroke-width="1.6"/>
<circle cx="1223.3" cy="892.4" r="4.3" fill="none" stroke="#ff0000" stroke-width="1.6"/>
<circle cx="1233.3" cy="834.1" r="4.3" fill="none" stroke="#ff0000" stroke-width="1.6"/>
<circle cx="1238.4" cy="810.0" r="4.3" fill="none" stroke="#ff0000" stroke-width="1.6"/>
<circle cx="1244.1" cy="780.2" r="4.3" fill="none" stroke="#ff0000" stroke-width="1.6"/>
<circle cx="1249.2" cy="750.3" r="4.3" fill="none" stroke="#ff0000" stroke-width="1.6"/>
<circle cx="1254.9" cy="726.2" r="4.3" fill="none" stroke="#ff0000" stroke-width="1.6"/>
<circle cx="1260.0" cy="700.8" r="4.3" fill="none" stroke="#ff0000" stroke-width="1.6"/>
<circle cx="1265.1" cy="688.1" r="4.3" fill="none" stroke="#ff0000" stroke-width="1.6"/>
<circle cx="1270.2" cy="672.2" r="4.3" fill="none" stroke="#ff0000" stroke-width="1.6"/>
<circle cx="1275.2" cy="669.0" r="4.3" fill="none" stroke="#ff0000" stroke-width="1.6"/>
<circle cx="1280.3" cy="671.0" r="4.3" fill="none" stroke="#ff0000" stroke-width="1.6"/>
<circle cx="1284.1" cy="672.9" r="4.3" fill="none" stroke="#ff0000" stroke-width="1.6"/>
<circle cx="1287.9" cy="680.5" r="4.3" fill="none" stroke="#ff0000" stroke-width="1.6"/>
<circle cx="1291.7" cy="704.6" r="4.3" fill="none" stroke="#ff0000" stroke-width="1.6"/>
<circle cx="1296.8" cy="737.6" r="4.3" fill="none" stroke="#ff0000" stroke-width="1.6"/>
<circle cx="1301.9" cy="761.7" r="4.3" fill="none" stroke="#ff0000" stroke-width="1.6"/>
<circle cx="1308.3" cy="793.5" r="4.3" fill="none" stroke="#ff0000" stroke-width="1.6"/>
<circle cx="1314.0" cy="827.1" r="4.3" fill="none" stroke="#ff0000" stroke-width="1.6"/>
<circle cx="1318.6" cy="862.1" r="4.3" fill="none" stroke="#ff0000" stroke-width="1.6"/>
<circle cx="1323.3" cy="897.8" r="4.3" fill="none" stroke="#ff0000" stroke-width="1.6"/>
<circle cx="1328.9" cy="925.6" r="4.3" fill="none" stroke="#ff0000" stroke-width="1.6"/>
<circle cx="1334.4" cy="947.0" r="4.3" fill="none" stroke="#ff0000" stroke-width="1.6"/>
<circle cx="1340.0" cy="970.0" r="4.3" fill="none" stroke="#ff0000" stroke-width="1.6"/>
<circle cx="1345.6" cy="981.9" r="4.3" fill="none" stroke="#ff0000" stroke-width="1.6"/>
<circle cx="1350.3" cy="996.2" r="4.3" fill="none" stroke="#ff0000" stroke-width="1.6"/>
<circle cx="1355.9" cy="1007.3" r="4.3" fill="none" stroke="#ff0000" stroke-width="1.6"/>
<circle cx="1360.6" cy="1016.8" r="4.3" fill="none" stroke="#ff0000" stroke-width="1.6"/>
<circle cx="1366.2" cy="1023.2" r="4.3" fill="none" stroke="#ff0000" stroke-width="1.6"/>
<circle cx="1371.7" cy="1029.5" r="4.3" fill="none" stroke="#ff0000" stroke-width="1.6"/>
<circle cx="1377.3" cy="1034.3" r="4.3" fill="none" stroke="#ff0000" stroke-width="1.6"/>
<circle cx="1382.1" cy="1035.9" r="4.3" fill="none" stroke="#ff0000" stroke-width="1.6"/>
<circle cx="1386.8" cy="1036.7" r="4.3" fill="none" stroke="#ff0000" stroke-width="1.6"/>
<circle cx="1392.4" cy="1039.8" r="4.3" fill="none" stroke="#ff0000" stroke-width="1.6"/>
<circle cx="1397.9" cy="1037.5" r="4.3" fill="none" stroke="#ff0000" stroke-width="1.6"/>
<circle cx="1403.5" cy="1039.0" r="4.3" fill="none" stroke="#ff0000" stroke-width="1.6"/>
<circle cx="1409.0" cy="1040.6" r="4.3" fill="none" stroke="#ff0000" stroke-width="1.6"/>
<circle cx="1413.8" cy="1045.4" r="4.3" fill="none" stroke="#ff0000" stroke-width="1.6"/>
<circle cx="1420.2" cy="1043.8" r="4.3" fill="none" stroke="#ff0000" stroke-width="1.6"/>
<circle cx="1426.5" cy="1046.2" r="4.3" fill="none" stroke="#ff0000" stroke-width="1.6"/>
<circle cx="1432.9" cy="1044.6" r="4.3" fill="none" stroke="#ff0000" stroke-width="1.6"/>
<circle cx="1439.2" cy="1045.4" r="4.3" fill="none" stroke="#ff0000" stroke-width="1.6"/>
<circle cx="1445.6" cy="1043.0" r="4.3" fill="none" stroke="#ff0000" stroke-width="1.6"/>
<circle cx="1451.9" cy="1047.0" r="4.3" fill="none" stroke="#ff0000" stroke-width="1.6"/>
<circle cx="1458.3" cy="1044.6" r="4.3" fill="none" stroke="#ff0000" stroke-width="1.6"/>
<circle cx="1464.6" cy="1046.2" r="4.3" fill="none" stroke="#ff0000" stroke-width="1.6"/>
<circle cx="1471.0" cy="1042.2" r="4.3" fill="none" stroke="#ff0000" stroke-width="1.6"/>
<circle cx="1477.3" cy="1043.8" r="4.3" fill="none" stroke="#ff0000" stroke-width="1.6"/>
<circle cx="1483.7" cy="1039.8" r="4.3" fill="none" stroke="#ff0000" stroke-width="1.6"/>
<circle cx="1490.0" cy="1041.4" r="4.3" fill="none" stroke="#ff0000" stroke-width="1.6"/>
<circle cx="1496.3" cy="1045.4" r="4.3" fill="none" stroke="#ff0000" stroke-width="1.6"/>
<circle cx="1502.7" cy="1042.2" r="4.3" fill="none" stroke="#ff0000" stroke-width="1.6"/>
<circle cx="1509.0" cy="1041.4" r="4.3" fill="none" stroke="#ff0000" stroke-width="1.6"/>
<circle cx="1515.4" cy="1045.4" r="4.3" fill="none" stroke="#ff0000" stroke-width="1.6"/>
<circle cx="1521.7" cy="1040.6" r="4.3" fill="none" stroke="#ff0000" stroke-width="1.6"/>
<circle cx="1528.1" cy="1044.6" r="4.3" fill="none" stroke="#ff0000" stroke-width="1.6"/>
<path d="M1020.7 1022.0L1015.1 1031.5L1026.3 1031.5ZM1026.0 1022.0L1020.4 1031.5L1031.6 1031.5ZM1031.3 1025.5L1025.7 1035.0L1036.9 1035.0ZM1040.2 1040.6L1034.6 1050.1L1045.8 1050.1ZM1045.6 1040.6L1040.0 1050.1L1051.2 1050.1ZM1050.9 1040.6L1045.3 1050.1L1056.5 1050.1ZM1061.6 1026.4L1056.0 1035.9L1067.2 1035.9ZM1068.7 1022.0L1063.1 1031.5L1074.3 1031.5ZM1074.0 1019.3L1068.4 1028.8L1079.6 1028.8ZM1079.3 1016.6L1073.7 1026.1L1084.9 1026.1ZM1084.7 1015.7L1079.1 1025.2L1090.3 1025.2ZM1090.0 1014.8L1084.4 1024.3L1095.6 1024.3ZM1096.2 1014.8L1090.6 1024.3L1101.8 1024.3ZM1102.4 1011.3L1096.8 1020.8L1108.0 1020.8ZM1107.8 1008.6L1102.2 1018.1L1113.4 1018.1ZM1113.1 1006.8L1107.5 1016.3L1118.7 1016.3ZM1118.4 1004.2L1112.8 1013.7L1124.0 1013.7ZM1123.8 998.8L1118.2 1008.3L1129.4 1008.3ZM1129.1 993.5L1123.5 1003.0L1134.7 1003.0ZM1134.4 988.2L1128.8 997.7L1140.0 997.7ZM1139.8 981.1L1134.2 990.6L1145.4 990.6ZM1145.1 974.0L1139.5 983.5L1150.7 983.5ZM1150.4 959.7L1144.8 969.2L1156.0 969.2ZM1155.8 954.4L1150.2 963.9L1161.4 963.9ZM1161.1 949.1L1155.5 958.6L1166.7 958.6ZM1164.7 943.7L1159.1 953.2L1170.3 953.2ZM1168.2 927.7L1162.6 937.2L1173.8 937.2ZM1173.6 906.4L1168.0 915.9L1179.2 915.9ZM1178.9 888.6L1173.3 898.1L1184.5 898.1ZM1200.3 827.3L1194.7 836.8L1205.9 836.8ZM1206.7 803.8L1201.1 813.3L1212.3 813.3ZM1212.4 782.8L1206.8 792.3L1218.0 792.3ZM1218.1 765.0L1212.5 774.5L1223.7 774.5ZM1223.8 748.5L1218.2 758.0L1229.4 758.0ZM1229.5 733.3L1223.9 742.8L1235.1 742.8ZM1234.0 720.6L1228.4 730.1L1239.6 730.1ZM1239.0 710.4L1233.4 719.9L1244.6 719.9ZM1244.8 699.6L1239.2 709.1L1250.4 709.1ZM1249.8 690.1L1244.2 699.6L1255.4 699.6ZM1254.9 681.2L1249.3 690.7L1260.5 690.7ZM1260.0 673.6L1254.4 683.1L1265.6 683.1ZM1265.1 664.7L1259.5 674.2L1270.7 674.2ZM1270.8 667.9L1265.2 677.4L1276.4 677.4ZM1276.5 681.2L1270.9 690.7L1282.1 690.7ZM1281.6 695.2L1276.0 704.7L1287.2 704.7ZM1286.0 707.9L1280.4 717.4L1291.6 717.4ZM1291.7 720.6L1286.1 730.1L1297.3 730.1ZM1296.8 733.3L1291.2 742.8L1302.4 742.8ZM1303.2 752.3L1297.6 761.8L1308.8 761.8ZM1308.3 775.2L1302.7 784.7L1313.9 784.7ZM1313.3 798.1L1307.7 807.6L1318.9 807.6ZM1318.4 822.2L1312.8 831.7L1324.0 831.7ZM1324.1 846.1L1318.5 855.6L1329.7 855.6ZM1329.7 866.8L1324.1 876.3L1335.3 876.3ZM1335.2 890.6L1329.6 900.1L1340.8 900.1ZM1340.0 908.8L1334.4 918.3L1345.6 918.3ZM1345.6 923.9L1340.0 933.4L1351.2 933.4ZM1351.1 938.2L1345.5 947.7L1356.7 947.7ZM1355.9 950.9L1350.3 960.4L1361.5 960.4ZM1361.4 963.6L1355.8 973.1L1367.0 973.1ZM1366.2 976.3L1360.6 985.8L1371.8 985.8ZM1371.7 987.4L1366.1 996.9L1377.3 996.9ZM1377.3 995.4L1371.7 1004.9L1382.9 1004.9ZM1382.1 996.9L1376.5 1006.4L1387.7 1006.4ZM1387.6 1001.7L1382.0 1011.2L1393.2 1011.2ZM1393.2 1008.1L1387.6 1017.6L1398.8 1017.6ZM1397.9 1012.8L1392.3 1022.3L1403.5 1022.3ZM1402.7 1017.6L1397.1 1027.1L1408.3 1027.1ZM1407.5 1023.9L1401.9 1033.4L1413.1 1033.4ZM1413.8 1035.8L1408.2 1045.3L1419.4 1045.3ZM1420.2 1040.6L1414.6 1050.1L1425.8 1050.1ZM1426.5 1041.4L1420.9 1050.9L1432.1 1050.9ZM1432.9 1040.6L1427.3 1050.1L1438.5 1050.1ZM1439.2 1039.8L1433.6 1049.3L1444.8 1049.3ZM1445.6 1036.6L1440.0 1046.1L1451.2 1046.1ZM1451.9 1036.6L1446.3 1046.1L1457.5 1046.1ZM1458.3 1038.2L1452.7 1047.7L1463.9 1047.7ZM1464.6 1036.6L1459.0 1046.1L1470.2 1046.1ZM1471.0 1033.4L1465.4 1042.9L1476.6 1042.9ZM1477.3 1032.7L1471.7 1042.2L1482.9 1042.2ZM1483.7 1035.0L1478.1 1044.5L1489.3 1044.5ZM1490.0 1031.9L1484.4 1041.4L1495.6 1041.4ZM1496.3 1031.9L1490.7 1041.4L1501.9 1041.4ZM1501.1 1028.7L1495.5 1038.2L1506.7 1038.2ZM1505.9 1031.1L1500.3 1040.6L1511.5 1040.6ZM1512.2 1035.8L1506.6 1045.3L1517.8 1045.3ZM1518.6 1040.6L1513.0 1050.1L1524.2 1050.1ZM1524.9 1041.4L1519.3 1050.9L1530.5 1050.9ZM1529.7 1043.0L1524.1 1052.5L1535.3 1052.5Z" fill="none" stroke="#0000ff" stroke-width="1.6" stroke-linejoin="miter"/>
</g>
<line x1="1316.4" y1="557.1" x2="1316.4" y2="1084" stroke="#000" stroke-width="1.3" stroke-dasharray="2.2 2.2"/>
<rect x="1011.4" y="557.1" width="526.3" height="526.9" stroke="#000" stroke-width="1.8" fill="none"/>
<line x1="1017.7" y1="595.1" x2="1068" y2="595.1" stroke="#000" stroke-width="3" stroke-dasharray="7.2 4.4"/>
<path d="M1042.8 617.4L1033.6 633.2L1052 633.2Z" fill="none" stroke="#0000ff" stroke-width="1.7"/>
<line x1="1018.4" y1="659.4" x2="1068" y2="659.4" stroke="#0000ff" stroke-width="4.2"/>
<circle cx="1043.1" cy="692.3" r="7.6" fill="none" stroke="#ff0000" stroke-width="1.7"/>
<line x1="1018.4" y1="724.7" x2="1068" y2="724.7" stroke="#ff0000" stroke-width="4.2"/>
<text x="1074.9" y="603.2" font-size="30.5">Substrate</text>
<text x="1074.9" y="636" font-size="30.5">SX-PES</text>
<text x="1074.9" y="667.5" font-size="30.5">Simulation</text>
<text x="1074.9" y="701" font-size="30.5">HAX-PES</text>
<text x="1074.9" y="733.1" font-size="30.5">Simulation</text>
<text x="1525" y="613.2" font-size="44.5" text-anchor="end" textLength="194" lengthAdjust="spacingAndGlyphs"><tspan font-style="italic">V</tspan><tspan font-size="31" font-style="italic" dy="10.4">g</tspan><tspan dy="-10.4"> = -50 V</tspan></text>
<text x="1529" y="667.8" font-size="44.5" text-anchor="end">Ti 2<tspan font-style="italic">p</tspan><tspan font-size="29.5" dy="9.5">3/2</tspan></text>
<text x="905.5" y="596.7" font-size="60" font-weight="bold">e</text>
<text x="986" y="823" font-size="44.5" text-anchor="middle" textLength="379.1" lengthAdjust="spacingAndGlyphs" transform="rotate(-90 986 823)">Intensity (arb. units)</text>
<text x="1103.6" y="1133" font-size="43.5" text-anchor="middle">2</text>
<text x="1210" y="1133" font-size="43.5" text-anchor="middle">1</text>
<text x="1316.4" y="1133" font-size="43.5" text-anchor="middle">0</text>
<text x="1422.8" y="1133" font-size="43.5" text-anchor="middle">-1</text>
<text x="1529.2" y="1133" font-size="43.5" text-anchor="middle">-2</text>
<text x="1275.1" y="1200" font-size="43.5" text-anchor="middle" textLength="546.3" lengthAdjust="spacingAndGlyphs">Relative binding energy (eV)</text>
<line x1="1080" y1="1239.5" x2="1080" y2="1251.5" stroke="#000" stroke-width="1.4"/>
<line x1="1080" y1="1631" x2="1080" y2="1619" stroke="#000" stroke-width="1.4"/>
<line x1="1124.8" y1="1239.5" x2="1124.8" y2="1245.5" stroke="#000" stroke-width="1.4"/>
<line x1="1124.8" y1="1631" x2="1124.8" y2="1625" stroke="#000" stroke-width="1.4"/>
<line x1="1150.9" y1="1239.5" x2="1150.9" y2="1245.5" stroke="#000" stroke-width="1.4"/>
<line x1="1150.9" y1="1631" x2="1150.9" y2="1625" stroke="#000" stroke-width="1.4"/>
<line x1="1169.5" y1="1239.5" x2="1169.5" y2="1245.5" stroke="#000" stroke-width="1.4"/>
<line x1="1169.5" y1="1631" x2="1169.5" y2="1625" stroke="#000" stroke-width="1.4"/>
<line x1="1183.9" y1="1239.5" x2="1183.9" y2="1245.5" stroke="#000" stroke-width="1.4"/>
<line x1="1183.9" y1="1631" x2="1183.9" y2="1625" stroke="#000" stroke-width="1.4"/>
<line x1="1195.7" y1="1239.5" x2="1195.7" y2="1245.5" stroke="#000" stroke-width="1.4"/>
<line x1="1195.7" y1="1631" x2="1195.7" y2="1625" stroke="#000" stroke-width="1.4"/>
<line x1="1205.6" y1="1239.5" x2="1205.6" y2="1245.5" stroke="#000" stroke-width="1.4"/>
<line x1="1205.6" y1="1631" x2="1205.6" y2="1625" stroke="#000" stroke-width="1.4"/>
<line x1="1214.3" y1="1239.5" x2="1214.3" y2="1245.5" stroke="#000" stroke-width="1.4"/>
<line x1="1214.3" y1="1631" x2="1214.3" y2="1625" stroke="#000" stroke-width="1.4"/>
<line x1="1221.9" y1="1239.5" x2="1221.9" y2="1245.5" stroke="#000" stroke-width="1.4"/>
<line x1="1221.9" y1="1631" x2="1221.9" y2="1625" stroke="#000" stroke-width="1.4"/>
<line x1="1228.7" y1="1239.5" x2="1228.7" y2="1251.5" stroke="#000" stroke-width="1.4"/>
<line x1="1228.7" y1="1631" x2="1228.7" y2="1619" stroke="#000" stroke-width="1.4"/>
<line x1="1273.4" y1="1239.5" x2="1273.4" y2="1245.5" stroke="#000" stroke-width="1.4"/>
<line x1="1273.4" y1="1631" x2="1273.4" y2="1625" stroke="#000" stroke-width="1.4"/>
<line x1="1299.6" y1="1239.5" x2="1299.6" y2="1245.5" stroke="#000" stroke-width="1.4"/>
<line x1="1299.6" y1="1631" x2="1299.6" y2="1625" stroke="#000" stroke-width="1.4"/>
<line x1="1318.2" y1="1239.5" x2="1318.2" y2="1245.5" stroke="#000" stroke-width="1.4"/>
<line x1="1318.2" y1="1631" x2="1318.2" y2="1625" stroke="#000" stroke-width="1.4"/>
<line x1="1332.6" y1="1239.5" x2="1332.6" y2="1245.5" stroke="#000" stroke-width="1.4"/>
<line x1="1332.6" y1="1631" x2="1332.6" y2="1625" stroke="#000" stroke-width="1.4"/>
<line x1="1344.4" y1="1239.5" x2="1344.4" y2="1245.5" stroke="#000" stroke-width="1.4"/>
<line x1="1344.4" y1="1631" x2="1344.4" y2="1625" stroke="#000" stroke-width="1.4"/>
<line x1="1354.3" y1="1239.5" x2="1354.3" y2="1245.5" stroke="#000" stroke-width="1.4"/>
<line x1="1354.3" y1="1631" x2="1354.3" y2="1625" stroke="#000" stroke-width="1.4"/>
<line x1="1362.9" y1="1239.5" x2="1362.9" y2="1245.5" stroke="#000" stroke-width="1.4"/>
<line x1="1362.9" y1="1631" x2="1362.9" y2="1625" stroke="#000" stroke-width="1.4"/>
<line x1="1370.5" y1="1239.5" x2="1370.5" y2="1245.5" stroke="#000" stroke-width="1.4"/>
<line x1="1370.5" y1="1631" x2="1370.5" y2="1625" stroke="#000" stroke-width="1.4"/>
<line x1="1377.3" y1="1239.5" x2="1377.3" y2="1251.5" stroke="#000" stroke-width="1.4"/>
<line x1="1377.3" y1="1631" x2="1377.3" y2="1619" stroke="#000" stroke-width="1.4"/>
<line x1="1422.1" y1="1239.5" x2="1422.1" y2="1245.5" stroke="#000" stroke-width="1.4"/>
<line x1="1422.1" y1="1631" x2="1422.1" y2="1625" stroke="#000" stroke-width="1.4"/>
<line x1="1448.3" y1="1239.5" x2="1448.3" y2="1245.5" stroke="#000" stroke-width="1.4"/>
<line x1="1448.3" y1="1631" x2="1448.3" y2="1625" stroke="#000" stroke-width="1.4"/>
<line x1="1466.8" y1="1239.5" x2="1466.8" y2="1245.5" stroke="#000" stroke-width="1.4"/>
<line x1="1466.8" y1="1631" x2="1466.8" y2="1625" stroke="#000" stroke-width="1.4"/>
<line x1="1481.3" y1="1239.5" x2="1481.3" y2="1245.5" stroke="#000" stroke-width="1.4"/>
<line x1="1481.3" y1="1631" x2="1481.3" y2="1625" stroke="#000" stroke-width="1.4"/>
<line x1="1493" y1="1239.5" x2="1493" y2="1245.5" stroke="#000" stroke-width="1.4"/>
<line x1="1493" y1="1631" x2="1493" y2="1625" stroke="#000" stroke-width="1.4"/>
<line x1="1503" y1="1239.5" x2="1503" y2="1245.5" stroke="#000" stroke-width="1.4"/>
<line x1="1503" y1="1631" x2="1503" y2="1625" stroke="#000" stroke-width="1.4"/>
<line x1="1511.6" y1="1239.5" x2="1511.6" y2="1245.5" stroke="#000" stroke-width="1.4"/>
<line x1="1511.6" y1="1631" x2="1511.6" y2="1625" stroke="#000" stroke-width="1.4"/>
<line x1="1519.2" y1="1239.5" x2="1519.2" y2="1245.5" stroke="#000" stroke-width="1.4"/>
<line x1="1519.2" y1="1631" x2="1519.2" y2="1625" stroke="#000" stroke-width="1.4"/>
<line x1="1526" y1="1239.5" x2="1526" y2="1251.5" stroke="#000" stroke-width="1.4"/>
<line x1="1526" y1="1631" x2="1526" y2="1619" stroke="#000" stroke-width="1.4"/>
<line x1="1070.2" y1="1621.2" x2="1082.2" y2="1621.2" stroke="#000" stroke-width="1.4"/>
<line x1="1536.6" y1="1621.2" x2="1524.6" y2="1621.2" stroke="#000" stroke-width="1.4"/>
<line x1="1070.2" y1="1563.9" x2="1082.2" y2="1563.9" stroke="#000" stroke-width="1.4"/>
<line x1="1536.6" y1="1563.9" x2="1524.6" y2="1563.9" stroke="#000" stroke-width="1.4"/>
<line x1="1070.2" y1="1506.6" x2="1082.2" y2="1506.6" stroke="#000" stroke-width="1.4"/>
<line x1="1536.6" y1="1506.6" x2="1524.6" y2="1506.6" stroke="#000" stroke-width="1.4"/>
<line x1="1070.2" y1="1449.3" x2="1082.2" y2="1449.3" stroke="#000" stroke-width="1.4"/>
<line x1="1536.6" y1="1449.3" x2="1524.6" y2="1449.3" stroke="#000" stroke-width="1.4"/>
<line x1="1070.2" y1="1392" x2="1082.2" y2="1392" stroke="#000" stroke-width="1.4"/>
<line x1="1536.6" y1="1392" x2="1524.6" y2="1392" stroke="#000" stroke-width="1.4"/>
<line x1="1070.2" y1="1334.7" x2="1082.2" y2="1334.7" stroke="#000" stroke-width="1.4"/>
<line x1="1536.6" y1="1334.7" x2="1524.6" y2="1334.7" stroke="#000" stroke-width="1.4"/>
<line x1="1070.2" y1="1277.4" x2="1082.2" y2="1277.4" stroke="#000" stroke-width="1.4"/>
<line x1="1536.6" y1="1277.4" x2="1524.6" y2="1277.4" stroke="#000" stroke-width="1.4"/>
<clipPath id="cf"><rect x="1070.2" y="1239.5" width="466.39999999999986" height="391.5"/></clipPath>
<g clip-path="url(#cf)">
<polyline points="1080.4,1612.6 1081.3,1612.4 1082.2,1612.3 1083.0,1612.1 1083.9,1611.9 1084.7,1611.7 1085.6,1611.5 1086.4,1611.4 1087.3,1611.2 1088.1,1611.0 1089.0,1610.8 1089.8,1610.6 1090.7,1610.4 1091.6,1610.2 1092.4,1610.1 1093.3,1609.9 1094.1,1609.7 1095.0,1609.5 1095.8,1609.3 1096.7,1609.1 1097.5,1608.9 1098.4,1608.7 1099.2,1608.5 1100.1,1608.3 1101.0,1608.1 1101.8,1607.9 1102.7,1607.6 1103.5,1607.4 1104.4,1607.2 1105.2,1607.0 1106.1,1606.8 1106.9,1606.6 1107.8,1606.4 1108.6,1606.2 1109.5,1605.9 1110.4,1605.7 1111.2,1605.5 1112.1,1605.3 1112.9,1605.1 1113.8,1604.8 1114.6,1604.6 1115.5,1604.4 1116.3,1604.1 1117.2,1603.9 1118.0,1603.7 1118.9,1603.4 1119.8,1603.2 1120.6,1602.9 1121.5,1602.7 1122.3,1602.4 1123.2,1602.2 1124.0,1601.9 1124.9,1601.7 1125.7,1601.4 1126.6,1601.2 1127.4,1600.9 1128.3,1600.6 1129.2,1600.3 1130.0,1600.1 1130.9,1599.8 1131.7,1599.5 1132.6,1599.2 1133.4,1598.9 1134.3,1598.6 1135.1,1598.3 1136.0,1598.0 1136.8,1597.7 1137.7,1597.4 1138.6,1597.1 1139.4,1596.8 1140.3,1596.5 1141.1,1596.2 1142.0,1595.9 1142.8,1595.6 1143.7,1595.2 1144.5,1594.9 1145.4,1594.6 1146.2,1594.2 1147.1,1593.9 1147.9,1593.6 1148.8,1593.2 1149.7,1592.9 1150.5,1592.5 1151.4,1592.2 1152.2,1591.8 1153.1,1591.5 1153.9,1591.1 1154.8,1590.8 1155.6,1590.4 1156.5,1590.0 1157.3,1589.6 1158.2,1589.3 1159.1,1588.9 1159.9,1588.5 1160.8,1588.1 1161.6,1587.7 1162.5,1587.3 1163.3,1586.9 1164.2,1586.5 1165.0,1586.0 1165.9,1585.6 1166.7,1585.2 1167.6,1584.7 1168.5,1584.3 1169.3,1583.8 1170.2,1583.4 1171.0,1582.9 1171.9,1582.4 1172.7,1581.9 1173.6,1581.4 1174.4,1580.9 1175.3,1580.4 1176.1,1579.9 1177.0,1579.4 1177.9,1578.8 1178.7,1578.3 1179.6,1577.7 1180.4,1577.2 1181.3,1576.6 1182.1,1576.1 1183.0,1575.5 1183.8,1574.9 1184.7,1574.4 1185.5,1573.8 1186.4,1573.2 1187.3,1572.6 1188.1,1572.0 1189.0,1571.4 1189.8,1570.8 1190.7,1570.2 1191.5,1569.6 1192.4,1568.9 1193.2,1568.3 1194.1,1567.7 1194.9,1567.0 1195.8,1566.3 1196.7,1565.7 1197.5,1565.0 1198.4,1564.3 1199.2,1563.6 1200.1,1562.9 1200.9,1562.2 1201.8,1561.5 1202.6,1560.7 1203.5,1560.0 1204.3,1559.2 1205.2,1558.4 1206.1,1557.7 1206.9,1556.9 1207.8,1556.0 1208.6,1555.2 1209.5,1554.4 1210.3,1553.6 1211.2,1552.7 1212.0,1551.9 1212.9,1551.1 1213.7,1550.2 1214.6,1549.4 1215.5,1548.5 1216.3,1547.7 1217.2,1546.8 1218.0,1545.9 1218.9,1545.0 1219.7,1544.1 1220.6,1543.2 1221.4,1542.3 1222.3,1541.3 1223.1,1540.4 1224.0,1539.3 1224.9,1538.3 1225.7,1537.2 1226.6,1536.1 1227.4,1535.0 1228.3,1533.8 1229.1,1532.6 1230.0,1531.4 1230.8,1530.2 1231.7,1529.0 1232.5,1527.7 1233.4,1526.4 1234.3,1525.1 1235.1,1523.8 1236.0,1522.5 1236.8,1521.1 1237.7,1519.8 1238.5,1518.4 1239.4,1517.0 1240.2,1515.6 1241.1,1514.2 1241.9,1512.8 1242.8,1511.3 1243.7,1509.8 1244.5,1508.4 1245.4,1506.9 1246.2,1505.3 1247.1,1503.8 1247.9,1502.3 1248.8,1500.7 1249.6,1499.1 1250.5,1497.5 1251.3,1495.9 1252.2,1494.3 1253.1,1492.7 1253.9,1491.0 1254.8,1489.3 1255.6,1487.6 1256.5,1485.9 1257.3,1484.2 1258.2,1482.4 1259.0,1480.6 1259.9,1478.8 1260.7,1476.9 1261.6,1475.0 1262.5,1473.1 1263.3,1471.2 1264.2,1469.2 1265.0,1467.3 1265.9,1465.3 1266.7,1463.3 1267.6,1461.3 1268.4,1459.3 1269.3,1457.3 1270.1,1455.3 1271.0,1453.3 1271.8,1451.3 1272.7,1449.3 1273.6,1447.3 1274.4,1445.3 1275.3,1443.3 1276.1,1441.4 1277.0,1439.5 1277.8,1437.5 1278.7,1435.7 1279.5,1433.8 1280.4,1431.9 1281.2,1430.0 1282.1,1428.0 1283.0,1426.1 1283.8,1424.2 1284.7,1422.3 1285.5,1420.4 1286.4,1418.6 1287.2,1416.7 1288.1,1414.9 1288.9,1413.1 1289.8,1411.3 1290.6,1409.6 1291.5,1407.9 1292.4,1406.2 1293.2,1404.6 1294.1,1403.0 1294.9,1401.4 1295.8,1399.8 1296.6,1398.3 1297.5,1396.8 1298.3,1395.4 1299.2,1393.9 1300.0,1392.6 1300.9,1391.3 1301.8,1390.0 1302.6,1388.7 1303.5,1387.4 1304.3,1386.2 1305.2,1385.2 1306.0,1384.5 1306.9,1384.0 1307.7,1383.5 1308.6,1383.1 1309.4,1382.9 1310.3,1382.8 1311.2,1383.3 1312.0,1384.2 1312.9,1385.5 1313.7,1387.0 1314.6,1388.5 1315.4,1390.3 1316.3,1392.6 1317.1,1395.1 1318.0,1397.7 1318.8,1400.4 1319.7,1403.1 1320.6,1405.8 1321.4,1408.5 1322.3,1411.4 1323.1,1414.5 1324.0,1417.9 1324.8,1421.5 1325.7,1425.7 1326.5,1430.3 1327.4,1435.3 1328.2,1440.5 1329.1,1445.9 1330.0,1451.3 1330.8,1456.6 1331.7,1461.7 1332.5,1466.6 1333.4,1471.5 1334.2,1476.4 1335.1,1481.2 1335.9,1486.0 1336.8,1490.8 1337.6,1495.5 1338.5,1500.1 1339.4,1504.6 1340.2,1509.2 1341.1,1513.7 1341.9,1518.1 1342.8,1522.4 1343.6,1526.6 1344.5,1530.6 1345.3,1534.5 1346.2,1538.4 1347.0,1542.2 1347.9,1546.0 1348.8,1549.6 1349.6,1552.9 1350.5,1555.8 1351.3,1558.3 1352.2,1560.5 1353.0,1562.5 1353.9,1564.3 1354.7,1566.0 1355.6,1567.6 1356.4,1568.9 1357.3,1569.9 1358.2,1570.7 1359.0,1571.5 1359.9,1572.2 1360.7,1572.8 1361.6,1573.4 1362.4,1573.9 1363.3,1574.3 1364.1,1574.6 1365.0,1574.8 1365.8,1574.8 1366.7,1574.7 1367.6,1574.7 1368.4,1574.6 1369.3,1574.4 1370.1,1574.3 1371.0,1574.1 1371.8,1573.9 1372.7,1573.7 1373.5,1573.5 1374.4,1573.2 1375.2,1572.9 1376.1,1572.5 1377.0,1572.0 1377.8,1571.5 1378.7,1570.9 1379.5,1570.4 1380.4,1569.8 1381.2,1569.1 1382.1,1568.5 1382.9,1567.9 1383.8,1567.3 1384.6,1566.7 1385.5,1566.0 1386.3,1565.3 1387.2,1564.6 1388.1,1563.9 1388.9,1563.1 1389.8,1562.3 1390.6,1561.5 1391.5,1560.7 1392.3,1559.9 1393.2,1559.1 1394.0,1558.3 1394.9,1557.4 1395.7,1556.6 1396.6,1555.8 1397.5,1554.9 1398.3,1554.1 1399.2,1553.2 1400.0,1552.3 1400.9,1551.5 1401.7,1550.6 1402.6,1549.7 1403.4,1548.8 1404.3,1547.9 1405.1,1546.9 1406.0,1546.0 1406.9,1545.0 1407.7,1544.1 1408.6,1543.1 1409.4,1542.1 1410.3,1541.1 1411.1,1540.0 1412.0,1539.0 1412.8,1537.9 1413.7,1536.8 1414.5,1535.7 1415.4,1534.6 1416.3,1533.4 1417.1,1532.2 1418.0,1531.0 1418.8,1529.8 1419.7,1528.5 1420.5,1527.2 1421.4,1525.9 1422.2,1524.5 1423.1,1523.1 1423.9,1521.7 1424.8,1520.2 1425.7,1518.8 1426.5,1517.3 1427.4,1515.8 1428.2,1514.2 1429.1,1512.7 1429.9,1511.1 1430.8,1509.5 1431.6,1507.8 1432.5,1506.2 1433.3,1504.5 1434.2,1502.8 1435.1,1501.1 1435.9,1499.4 1436.8,1497.7 1437.6,1495.9 1438.5,1494.2 1439.3,1492.4 1440.2,1490.6 1441.0,1488.8 1441.9,1486.9 1442.7,1485.0 1443.6,1483.1 1444.5,1481.1 1445.3,1479.1 1446.2,1477.1 1447.0,1475.1 1447.9,1473.0 1448.7,1470.9 1449.6,1468.7 1450.4,1466.6 1451.3,1464.4 1452.1,1462.1 1453.0,1459.9 1453.9,1457.6 1454.7,1455.3 1455.6,1453.0 1456.4,1450.7 1457.3,1448.3 1458.1,1445.9 1459.0,1443.5 1459.8,1441.1 1460.7,1438.5 1461.5,1435.9 1462.4,1433.3 1463.3,1430.6 1464.1,1427.9 1465.0,1425.1 1465.8,1422.3 1466.7,1419.5 1467.5,1416.7 1468.4,1413.9 1469.2,1411.1 1470.1,1408.3 1470.9,1405.5 1471.8,1402.7 1472.7,1400.0 1473.5,1397.3 1474.4,1394.6 1475.2,1392.0 1476.1,1389.4 1476.9,1386.7 1477.8,1384.1 1478.6,1381.3 1479.5,1378.5 1480.3,1375.7 1481.2,1372.7 1482.1,1369.6 1482.9,1366.4 1483.8,1363.1 1484.6,1359.8 1485.5,1356.3 1486.3,1352.8 1487.2,1349.1 1488.0,1345.4 1488.9,1341.7 1489.7,1337.8 1490.6,1333.7 1491.5,1329.6 1492.3,1325.4 1493.2,1321.0 1494.0,1316.7 1494.9,1312.3 1495.7,1308.0 1496.6,1303.7 1497.4,1299.3 1498.3,1295.0 1499.1,1290.6 1500.0,1286.2 1500.9,1281.8 1501.7,1277.3 1502.6,1272.8 1503.4,1268.3 1504.3,1263.7 1505.1,1259.0 1506.0,1254.3 1506.8,1249.6" fill="none" stroke="#000" stroke-width="3" stroke-linejoin="round"/>
<path d="M1072.6 1612.6a7.8 7.8 0 1 0 15.6 0a7.8 7.8 0 1 0 -15.6 0M1074.3 1612.3a7.8 7.8 0 1 0 15.6 0a7.8 7.8 0 1 0 -15.6 0M1075.9 1611.9a7.8 7.8 0 1 0 15.6 0a7.8 7.8 0 1 0 -15.6 0M1077.5 1611.6a7.8 7.8 0 1 0 15.6 0a7.8 7.8 0 1 0 -15.6 0M1079.1 1611.3a7.8 7.8 0 1 0 15.6 0a7.8 7.8 0 1 0 -15.6 0M1080.7 1610.9a7.8 7.8 0 1 0 15.6 0a7.8 7.8 0 1 0 -15.6 0M1082.3 1610.6a7.8 7.8 0 1 0 15.6 0a7.8 7.8 0 1 0 -15.6 0M1083.9 1610.2a7.8 7.8 0 1 0 15.6 0a7.8 7.8 0 1 0 -15.6 0M1085.6 1609.8a7.8 7.8 0 1 0 15.6 0a7.8 7.8 0 1 0 -15.6 0M1087.2 1609.5a7.8 7.8 0 1 0 15.6 0a7.8 7.8 0 1 0 -15.6 0M1088.8 1609.1a7.8 7.8 0 1 0 15.6 0a7.8 7.8 0 1 0 -15.6 0M1090.4 1608.7a7.8 7.8 0 1 0 15.6 0a7.8 7.8 0 1 0 -15.6 0M1092.0 1608.3a7.8 7.8 0 1 0 15.6 0a7.8 7.8 0 1 0 -15.6 0M1093.6 1607.9a7.8 7.8 0 1 0 15.6 0a7.8 7.8 0 1 0 -15.6 0M1095.2 1607.6a7.8 7.8 0 1 0 15.6 0a7.8 7.8 0 1 0 -15.6 0M1096.9 1607.2a7.8 7.8 0 1 0 15.6 0a7.8 7.8 0 1 0 -15.6 0M1098.5 1606.8a7.8 7.8 0 1 0 15.6 0a7.8 7.8 0 1 0 -15.6 0M1100.1 1606.4a7.8 7.8 0 1 0 15.6 0a7.8 7.8 0 1 0 -15.6 0M1101.7 1605.9a7.8 7.8 0 1 0 15.6 0a7.8 7.8 0 1 0 -15.6 0M1103.3 1605.5a7.8 7.8 0 1 0 15.6 0a7.8 7.8 0 1 0 -15.6 0M1104.9 1605.1a7.8 7.8 0 1 0 15.6 0a7.8 7.8 0 1 0 -15.6 0M1106.5 1604.7a7.8 7.8 0 1 0 15.6 0a7.8 7.8 0 1 0 -15.6 0M1108.1 1604.2a7.8 7.8 0 1 0 15.6 0a7.8 7.8 0 1 0 -15.6 0M1109.8 1603.8a7.8 7.8 0 1 0 15.6 0a7.8 7.8 0 1 0 -15.6 0M1111.4 1603.3a7.8 7.8 0 1 0 15.6 0a7.8 7.8 0 1 0 -15.6 0M1113.0 1602.9a7.8 7.8 0 1 0 15.6 0a7.8 7.8 0 1 0 -15.6 0M1114.6 1602.4a7.8 7.8 0 1 0 15.6 0a7.8 7.8 0 1 0 -15.6 0M1116.2 1601.9a7.8 7.8 0 1 0 15.6 0a7.8 7.8 0 1 0 -15.6 0M1117.8 1601.4a7.8 7.8 0 1 0 15.6 0a7.8 7.8 0 1 0 -15.6 0M1119.4 1600.9a7.8 7.8 0 1 0 15.6 0a7.8 7.8 0 1 0 -15.6 0M1121.1 1600.4a7.8 7.8 0 1 0 15.6 0a7.8 7.8 0 1 0 -15.6 0M1122.7 1599.9a7.8 7.8 0 1 0 15.6 0a7.8 7.8 0 1 0 -15.6 0M1124.3 1599.4a7.8 7.8 0 1 0 15.6 0a7.8 7.8 0 1 0 -15.6 0M1125.9 1598.8a7.8 7.8 0 1 0 15.6 0a7.8 7.8 0 1 0 -15.6 0M1127.5 1598.3a7.8 7.8 0 1 0 15.6 0a7.8 7.8 0 1 0 -15.6 0M1129.1 1597.7a7.8 7.8 0 1 0 15.6 0a7.8 7.8 0 1 0 -15.6 0M1130.7 1597.1a7.8 7.8 0 1 0 15.6 0a7.8 7.8 0 1 0 -15.6 0M1132.4 1596.5a7.8 7.8 0 1 0 15.6 0a7.8 7.8 0 1 0 -15.6 0M1134.0 1596.0a7.8 7.8 0 1 0 15.6 0a7.8 7.8 0 1 0 -15.6 0M1135.6 1595.3a7.8 7.8 0 1 0 15.6 0a7.8 7.8 0 1 0 -15.6 0M1137.2 1594.7a7.8 7.8 0 1 0 15.6 0a7.8 7.8 0 1 0 -15.6 0M1138.8 1594.1a7.8 7.8 0 1 0 15.6 0a7.8 7.8 0 1 0 -15.6 0M1140.4 1593.5a7.8 7.8 0 1 0 15.6 0a7.8 7.8 0 1 0 -15.6 0M1142.0 1592.8a7.8 7.8 0 1 0 15.6 0a7.8 7.8 0 1 0 -15.6 0M1143.6 1592.2a7.8 7.8 0 1 0 15.6 0a7.8 7.8 0 1 0 -15.6 0M1145.3 1591.5a7.8 7.8 0 1 0 15.6 0a7.8 7.8 0 1 0 -15.6 0M1146.9 1590.8a7.8 7.8 0 1 0 15.6 0a7.8 7.8 0 1 0 -15.6 0M1148.5 1590.1a7.8 7.8 0 1 0 15.6 0a7.8 7.8 0 1 0 -15.6 0M1150.1 1589.4a7.8 7.8 0 1 0 15.6 0a7.8 7.8 0 1 0 -15.6 0M1151.7 1588.7a7.8 7.8 0 1 0 15.6 0a7.8 7.8 0 1 0 -15.6 0M1153.3 1587.9a7.8 7.8 0 1 0 15.6 0a7.8 7.8 0 1 0 -15.6 0M1154.9 1587.2a7.8 7.8 0 1 0 15.6 0a7.8 7.8 0 1 0 -15.6 0M1156.6 1586.4a7.8 7.8 0 1 0 15.6 0a7.8 7.8 0 1 0 -15.6 0M1158.2 1585.6a7.8 7.8 0 1 0 15.6 0a7.8 7.8 0 1 0 -15.6 0M1159.8 1584.7a7.8 7.8 0 1 0 15.6 0a7.8 7.8 0 1 0 -15.6 0M1161.4 1583.9a7.8 7.8 0 1 0 15.6 0a7.8 7.8 0 1 0 -15.6 0M1163.0 1583.0a7.8 7.8 0 1 0 15.6 0a7.8 7.8 0 1 0 -15.6 0M1164.6 1582.1a7.8 7.8 0 1 0 15.6 0a7.8 7.8 0 1 0 -15.6 0M1166.2 1581.2a7.8 7.8 0 1 0 15.6 0a7.8 7.8 0 1 0 -15.6 0M1167.9 1580.2a7.8 7.8 0 1 0 15.6 0a7.8 7.8 0 1 0 -15.6 0M1169.5 1579.2a7.8 7.8 0 1 0 15.6 0a7.8 7.8 0 1 0 -15.6 0M1171.1 1578.2a7.8 7.8 0 1 0 15.6 0a7.8 7.8 0 1 0 -15.6 0M1172.7 1577.1a7.8 7.8 0 1 0 15.6 0a7.8 7.8 0 1 0 -15.6 0M1174.3 1576.1a7.8 7.8 0 1 0 15.6 0a7.8 7.8 0 1 0 -15.6 0M1175.9 1575.0a7.8 7.8 0 1 0 15.6 0a7.8 7.8 0 1 0 -15.6 0M1177.5 1573.9a7.8 7.8 0 1 0 15.6 0a7.8 7.8 0 1 0 -15.6 0M1179.1 1572.8a7.8 7.8 0 1 0 15.6 0a7.8 7.8 0 1 0 -15.6 0M1180.8 1571.7a7.8 7.8 0 1 0 15.6 0a7.8 7.8 0 1 0 -15.6 0M1182.4 1570.6a7.8 7.8 0 1 0 15.6 0a7.8 7.8 0 1 0 -15.6 0M1184.0 1569.4a7.8 7.8 0 1 0 15.6 0a7.8 7.8 0 1 0 -15.6 0M1185.6 1568.2a7.8 7.8 0 1 0 15.6 0a7.8 7.8 0 1 0 -15.6 0M1187.2 1567.0a7.8 7.8 0 1 0 15.6 0a7.8 7.8 0 1 0 -15.6 0M1188.8 1565.7a7.8 7.8 0 1 0 15.6 0a7.8 7.8 0 1 0 -15.6 0M1190.4 1564.4a7.8 7.8 0 1 0 15.6 0a7.8 7.8 0 1 0 -15.6 0M1192.1 1563.1a7.8 7.8 0 1 0 15.6 0a7.8 7.8 0 1 0 -15.6 0M1193.7 1561.7a7.8 7.8 0 1 0 15.6 0a7.8 7.8 0 1 0 -15.6 0M1195.3 1560.3a7.8 7.8 0 1 0 15.6 0a7.8 7.8 0 1 0 -15.6 0M1196.9 1558.9a7.8 7.8 0 1 0 15.6 0a7.8 7.8 0 1 0 -15.6 0M1198.5 1557.4a7.8 7.8 0 1 0 15.6 0a7.8 7.8 0 1 0 -15.6 0M1200.1 1555.9a7.8 7.8 0 1 0 15.6 0a7.8 7.8 0 1 0 -15.6 0M1201.7 1554.3a7.8 7.8 0 1 0 15.6 0a7.8 7.8 0 1 0 -15.6 0M1203.4 1552.8a7.8 7.8 0 1 0 15.6 0a7.8 7.8 0 1 0 -15.6 0M1205.0 1551.2a7.8 7.8 0 1 0 15.6 0a7.8 7.8 0 1 0 -15.6 0M1206.6 1549.6a7.8 7.8 0 1 0 15.6 0a7.8 7.8 0 1 0 -15.6 0M1208.2 1548.0a7.8 7.8 0 1 0 15.6 0a7.8 7.8 0 1 0 -15.6 0M1209.8 1546.3a7.8 7.8 0 1 0 15.6 0a7.8 7.8 0 1 0 -15.6 0M1211.4 1544.7a7.8 7.8 0 1 0 15.6 0a7.8 7.8 0 1 0 -15.6 0M1213.0 1543.0a7.8 7.8 0 1 0 15.6 0a7.8 7.8 0 1 0 -15.6 0M1214.6 1541.2a7.8 7.8 0 1 0 15.6 0a7.8 7.8 0 1 0 -15.6 0M1216.3 1539.3a7.8 7.8 0 1 0 15.6 0a7.8 7.8 0 1 0 -15.6 0" fill="#000"/>
<path d="M1228.6 1521.8a7.8 7.8 0 1 0 15.6 0a7.8 7.8 0 1 0 -15.6 0M1248.2 1486.8a7.8 7.8 0 1 0 15.6 0a7.8 7.8 0 1 0 -15.6 0M1270.7 1436.1a7.8 7.8 0 1 0 15.6 0a7.8 7.8 0 1 0 -15.6 0M1293.6 1390.9a7.8 7.8 0 1 0 15.6 0a7.8 7.8 0 1 0 -15.6 0M1315.6 1420.1a7.8 7.8 0 1 0 15.6 0a7.8 7.8 0 1 0 -15.6 0M1335.7 1513.2a7.8 7.8 0 1 0 15.6 0a7.8 7.8 0 1 0 -15.6 0M1352.9 1559.6a7.8 7.8 0 1 0 15.6 0a7.8 7.8 0 1 0 -15.6 0M1367.0 1567.6a7.8 7.8 0 1 0 15.6 0a7.8 7.8 0 1 0 -15.6 0M1379.3 1560.7a7.8 7.8 0 1 0 15.6 0a7.8 7.8 0 1 0 -15.6 0M1385.7 1555.3a7.8 7.8 0 1 0 15.6 0a7.8 7.8 0 1 0 -15.6 0" fill="#000"/>
</g>
<rect x="1070.2" y="1239.5" width="466.4" height="391.5" stroke="#000" stroke-width="1.5" fill="none"/>
<text x="1057.8" y="1634" font-size="43" text-anchor="end">0.00</text>
<text x="1057.8" y="1519.4" font-size="43" text-anchor="end">0.04</text>
<text x="1057.8" y="1404.8" font-size="43" text-anchor="end">0.08</text>
<text x="1057.8" y="1290.2" font-size="43" text-anchor="end">0.12</text>
<text x="1078" y="1684" font-size="39.5" text-anchor="middle">10</text>
<text x="1107.5" y="1661.3" font-size="26">6</text>
<text x="1226.7" y="1684" font-size="39.5" text-anchor="middle">10</text>
<text x="1256.2" y="1661.3" font-size="26">7</text>
<text x="1375.3" y="1684" font-size="39.5" text-anchor="middle">10</text>
<text x="1404.8" y="1661.3" font-size="26">8</text>
<text x="1524" y="1684" font-size="39.5" text-anchor="middle">10</text>
<text x="1553.5" y="1661.3" font-size="26">9</text>
<text x="1303.3" y="1745.5" font-size="43.3" text-anchor="middle" textLength="351" lengthAdjust="spacingAndGlyphs">Electric field&#160;&#160;(V/m)</text>
<text x="943.7" y="1447.5" font-size="44.6" text-anchor="middle" textLength="164.5" lengthAdjust="spacingAndGlyphs" transform="rotate(-90 943.7 1447.5)"><tspan font-style="italic">D</tspan> (Cm<tspan font-size="30" dy="-23">-2</tspan><tspan dy="23">)</tspan></text>
<text x="905.5" y="1276.5" font-size="62" font-weight="bold">f</text>
</svg></body></html>
